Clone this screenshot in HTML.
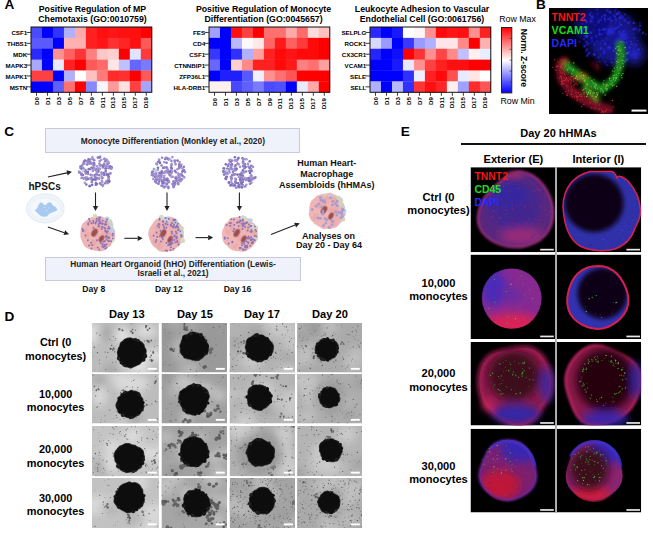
<!DOCTYPE html><html><head><meta charset="utf-8"><style>html,body{margin:0;padding:0;background:#fff;width:653px;height:541px;overflow:hidden}body{position:relative;font-family:"Liberation Sans", sans-serif}.a{position:absolute}.t{position:absolute;line-height:1;white-space:nowrap}</style></head><body><div class="t" style="left:4.60px;top:-1.61px;font-size:13.6px;font-weight:bold;color:#000;">A</div>
<svg class="a" style="left:25.20px;top:26.30px" width="128.78" height="71.28"><rect x="6.00" y="1.00" width="11.28" height="11.18" fill="#4a4aff"/><rect x="16.98" y="1.00" width="11.28" height="11.18" fill="#0000ff"/><rect x="27.96" y="1.00" width="11.28" height="11.18" fill="#3333ff"/><rect x="38.94" y="1.00" width="11.28" height="11.18" fill="#b0b0ff"/><rect x="49.92" y="1.00" width="11.28" height="11.18" fill="#ffaaaa"/><rect x="60.90" y="1.00" width="11.28" height="11.18" fill="#ff2020"/><rect x="71.88" y="1.00" width="11.28" height="11.18" fill="#ff1010"/><rect x="82.86" y="1.00" width="11.28" height="11.18" fill="#ff1515"/><rect x="93.84" y="1.00" width="11.28" height="11.18" fill="#ff1010"/><rect x="104.82" y="1.00" width="11.28" height="11.18" fill="#ff1010"/><rect x="115.80" y="1.00" width="11.28" height="11.18" fill="#ff0000"/><rect x="6.00" y="11.88" width="11.28" height="11.18" fill="#5a5aff"/><rect x="16.98" y="11.88" width="11.28" height="11.18" fill="#5a5aff"/><rect x="27.96" y="11.88" width="11.28" height="11.18" fill="#0000ff"/><rect x="38.94" y="11.88" width="11.28" height="11.18" fill="#ffb0b0"/><rect x="49.92" y="11.88" width="11.28" height="11.18" fill="#ffb0b0"/><rect x="60.90" y="11.88" width="11.28" height="11.18" fill="#ff2020"/><rect x="71.88" y="11.88" width="11.28" height="11.18" fill="#ff1515"/><rect x="82.86" y="11.88" width="11.28" height="11.18" fill="#ff3030"/><rect x="93.84" y="11.88" width="11.28" height="11.18" fill="#ff2525"/><rect x="104.82" y="11.88" width="11.28" height="11.18" fill="#ff1010"/><rect x="115.80" y="11.88" width="11.28" height="11.18" fill="#ff5a5a"/><rect x="6.00" y="22.76" width="11.28" height="11.18" fill="#2a2aff"/><rect x="16.98" y="22.76" width="11.28" height="11.18" fill="#0000ff"/><rect x="27.96" y="22.76" width="11.28" height="11.18" fill="#ff9090"/><rect x="38.94" y="22.76" width="11.28" height="11.18" fill="#ff6060"/><rect x="49.92" y="22.76" width="11.28" height="11.18" fill="#ff3535"/><rect x="60.90" y="22.76" width="11.28" height="11.18" fill="#ff8080"/><rect x="71.88" y="22.76" width="11.28" height="11.18" fill="#ffc8c8"/><rect x="82.86" y="22.76" width="11.28" height="11.18" fill="#ffd0d0"/><rect x="93.84" y="22.76" width="11.28" height="11.18" fill="#ff0000"/><rect x="104.82" y="22.76" width="11.28" height="11.18" fill="#e0e4ff"/><rect x="115.80" y="22.76" width="11.28" height="11.18" fill="#ff3a3a"/><rect x="6.00" y="33.64" width="11.28" height="11.18" fill="#a8a8ff"/><rect x="16.98" y="33.64" width="11.28" height="11.18" fill="#0000ff"/><rect x="27.96" y="33.64" width="11.28" height="11.18" fill="#e8e8ff"/><rect x="38.94" y="33.64" width="11.28" height="11.18" fill="#ff2020"/><rect x="49.92" y="33.64" width="11.28" height="11.18" fill="#ff0000"/><rect x="60.90" y="33.64" width="11.28" height="11.18" fill="#ff5a5a"/><rect x="71.88" y="33.64" width="11.28" height="11.18" fill="#ff6a6a"/><rect x="82.86" y="33.64" width="11.28" height="11.18" fill="#ffe5e5"/><rect x="93.84" y="33.64" width="11.28" height="11.18" fill="#c0c0ff"/><rect x="104.82" y="33.64" width="11.28" height="11.18" fill="#6565ff"/><rect x="115.80" y="33.64" width="11.28" height="11.18" fill="#7a7aff"/><rect x="6.00" y="44.52" width="11.28" height="11.18" fill="#ff4040"/><rect x="16.98" y="44.52" width="11.28" height="11.18" fill="#ff4040"/><rect x="27.96" y="44.52" width="11.28" height="11.18" fill="#0000ff"/><rect x="38.94" y="44.52" width="11.28" height="11.18" fill="#b0b0ff"/><rect x="49.92" y="44.52" width="11.28" height="11.18" fill="#ffffff"/><rect x="60.90" y="44.52" width="11.28" height="11.18" fill="#ffc0c0"/><rect x="71.88" y="44.52" width="11.28" height="11.18" fill="#ff7a7a"/><rect x="82.86" y="44.52" width="11.28" height="11.18" fill="#ff2a2a"/><rect x="93.84" y="44.52" width="11.28" height="11.18" fill="#ff3030"/><rect x="104.82" y="44.52" width="11.28" height="11.18" fill="#ff0000"/><rect x="115.80" y="44.52" width="11.28" height="11.18" fill="#ff5a5a"/><rect x="6.00" y="55.40" width="11.28" height="11.18" fill="#0000ff"/><rect x="16.98" y="55.40" width="11.28" height="11.18" fill="#0000ff"/><rect x="27.96" y="55.40" width="11.28" height="11.18" fill="#6060ff"/><rect x="38.94" y="55.40" width="11.28" height="11.18" fill="#ff7070"/><rect x="49.92" y="55.40" width="11.28" height="11.18" fill="#ff0000"/><rect x="60.90" y="55.40" width="11.28" height="11.18" fill="#8888ff"/><rect x="71.88" y="55.40" width="11.28" height="11.18" fill="#f5f5ff"/><rect x="82.86" y="55.40" width="11.28" height="11.18" fill="#ff9a9a"/><rect x="93.84" y="55.40" width="11.28" height="11.18" fill="#ffe0e0"/><rect x="104.82" y="55.40" width="11.28" height="11.18" fill="#ff4040"/><rect x="115.80" y="55.40" width="11.28" height="11.18" fill="#a5a5ff"/><rect x="6" y="1" width="120.78" height="65.28" fill="none" stroke="#111" stroke-width="1"/><line x1="1.5" y1="6.44" x2="6" y2="6.44" stroke="#222" stroke-width="0.9"/><line x1="1.5" y1="17.32" x2="6" y2="17.32" stroke="#222" stroke-width="0.9"/><line x1="1.5" y1="28.20" x2="6" y2="28.20" stroke="#222" stroke-width="0.9"/><line x1="1.5" y1="39.08" x2="6" y2="39.08" stroke="#222" stroke-width="0.9"/><line x1="1.5" y1="49.96" x2="6" y2="49.96" stroke="#222" stroke-width="0.9"/><line x1="1.5" y1="60.84" x2="6" y2="60.84" stroke="#222" stroke-width="0.9"/><line x1="11.49" y1="66.28" x2="11.49" y2="69.78" stroke="#222" stroke-width="0.9"/><line x1="22.47" y1="66.28" x2="22.47" y2="69.78" stroke="#222" stroke-width="0.9"/><line x1="33.45" y1="66.28" x2="33.45" y2="69.78" stroke="#222" stroke-width="0.9"/><line x1="44.43" y1="66.28" x2="44.43" y2="69.78" stroke="#222" stroke-width="0.9"/><line x1="55.41" y1="66.28" x2="55.41" y2="69.78" stroke="#222" stroke-width="0.9"/><line x1="66.39" y1="66.28" x2="66.39" y2="69.78" stroke="#222" stroke-width="0.9"/><line x1="77.37" y1="66.28" x2="77.37" y2="69.78" stroke="#222" stroke-width="0.9"/><line x1="88.35" y1="66.28" x2="88.35" y2="69.78" stroke="#222" stroke-width="0.9"/><line x1="99.33" y1="66.28" x2="99.33" y2="69.78" stroke="#222" stroke-width="0.9"/><line x1="110.31" y1="66.28" x2="110.31" y2="69.78" stroke="#222" stroke-width="0.9"/><line x1="121.29" y1="66.28" x2="121.29" y2="69.78" stroke="#222" stroke-width="0.9"/></svg>
<div class="t" style="left:-372.80px;top:30.29px;width:400px;text-align:right;font-size:6.2px;font-weight:bold;color:#000;">CSF1</div>
<div class="t" style="left:-372.80px;top:41.17px;width:400px;text-align:right;font-size:6.2px;font-weight:bold;color:#000;">THBS1</div>
<div class="t" style="left:-372.80px;top:52.05px;width:400px;text-align:right;font-size:6.2px;font-weight:bold;color:#000;">MDK</div>
<div class="t" style="left:-372.80px;top:62.93px;width:400px;text-align:right;font-size:6.2px;font-weight:bold;color:#000;">MAPK3</div>
<div class="t" style="left:-372.80px;top:73.81px;width:400px;text-align:right;font-size:6.2px;font-weight:bold;color:#000;">MAPK1</div>
<div class="t" style="left:-372.80px;top:84.69px;width:400px;text-align:right;font-size:6.2px;font-weight:bold;color:#000;">MSTN</div>
<div class="t" style="left:6.69px;top:97.48px;width:60px;height:60px;"><div style="position:absolute;right:30px;top:0;transform-origin:100% 0;transform:rotate(-90deg) translate(0,-50%);font-size:6.2px;font-weight:bold;line-height:6.2px;white-space:nowrap">D0</div></div>
<div class="t" style="left:17.67px;top:97.48px;width:60px;height:60px;"><div style="position:absolute;right:30px;top:0;transform-origin:100% 0;transform:rotate(-90deg) translate(0,-50%);font-size:6.2px;font-weight:bold;line-height:6.2px;white-space:nowrap">D1</div></div>
<div class="t" style="left:28.65px;top:97.48px;width:60px;height:60px;"><div style="position:absolute;right:30px;top:0;transform-origin:100% 0;transform:rotate(-90deg) translate(0,-50%);font-size:6.2px;font-weight:bold;line-height:6.2px;white-space:nowrap">D3</div></div>
<div class="t" style="left:39.63px;top:97.48px;width:60px;height:60px;"><div style="position:absolute;right:30px;top:0;transform-origin:100% 0;transform:rotate(-90deg) translate(0,-50%);font-size:6.2px;font-weight:bold;line-height:6.2px;white-space:nowrap">D5</div></div>
<div class="t" style="left:50.61px;top:97.48px;width:60px;height:60px;"><div style="position:absolute;right:30px;top:0;transform-origin:100% 0;transform:rotate(-90deg) translate(0,-50%);font-size:6.2px;font-weight:bold;line-height:6.2px;white-space:nowrap">D7</div></div>
<div class="t" style="left:61.59px;top:97.48px;width:60px;height:60px;"><div style="position:absolute;right:30px;top:0;transform-origin:100% 0;transform:rotate(-90deg) translate(0,-50%);font-size:6.2px;font-weight:bold;line-height:6.2px;white-space:nowrap">D9</div></div>
<div class="t" style="left:72.57px;top:97.48px;width:60px;height:60px;"><div style="position:absolute;right:30px;top:0;transform-origin:100% 0;transform:rotate(-90deg) translate(0,-50%);font-size:6.2px;font-weight:bold;line-height:6.2px;white-space:nowrap">D11</div></div>
<div class="t" style="left:83.55px;top:97.48px;width:60px;height:60px;"><div style="position:absolute;right:30px;top:0;transform-origin:100% 0;transform:rotate(-90deg) translate(0,-50%);font-size:6.2px;font-weight:bold;line-height:6.2px;white-space:nowrap">D13</div></div>
<div class="t" style="left:94.53px;top:97.48px;width:60px;height:60px;"><div style="position:absolute;right:30px;top:0;transform-origin:100% 0;transform:rotate(-90deg) translate(0,-50%);font-size:6.2px;font-weight:bold;line-height:6.2px;white-space:nowrap">D15</div></div>
<div class="t" style="left:105.51px;top:97.48px;width:60px;height:60px;"><div style="position:absolute;right:30px;top:0;transform-origin:100% 0;transform:rotate(-90deg) translate(0,-50%);font-size:6.2px;font-weight:bold;line-height:6.2px;white-space:nowrap">D17</div></div>
<div class="t" style="left:116.49px;top:97.48px;width:60px;height:60px;"><div style="position:absolute;right:30px;top:0;transform-origin:100% 0;transform:rotate(-90deg) translate(0,-50%);font-size:6.2px;font-weight:bold;line-height:6.2px;white-space:nowrap">D19</div></div>
<svg class="a" style="left:203.10px;top:26.40px" width="128.78" height="71.28"><rect x="6.00" y="1.00" width="11.28" height="11.18" fill="#a0a0ff"/><rect x="16.98" y="1.00" width="11.28" height="11.18" fill="#0000ff"/><rect x="27.96" y="1.00" width="11.28" height="11.18" fill="#ff1010"/><rect x="38.94" y="1.00" width="11.28" height="11.18" fill="#ff4040"/><rect x="49.92" y="1.00" width="11.28" height="11.18" fill="#ff0000"/><rect x="60.90" y="1.00" width="11.28" height="11.18" fill="#ff7070"/><rect x="71.88" y="1.00" width="11.28" height="11.18" fill="#ff7070"/><rect x="82.86" y="1.00" width="11.28" height="11.18" fill="#ffa8a8"/><rect x="93.84" y="1.00" width="11.28" height="11.18" fill="#ff6a6a"/><rect x="104.82" y="1.00" width="11.28" height="11.18" fill="#ffdcdc"/><rect x="115.80" y="1.00" width="11.28" height="11.18" fill="#ffc0c0"/><rect x="6.00" y="11.88" width="11.28" height="11.18" fill="#0000ff"/><rect x="16.98" y="11.88" width="11.28" height="11.18" fill="#0000ff"/><rect x="27.96" y="11.88" width="11.28" height="11.18" fill="#b8b8ff"/><rect x="38.94" y="11.88" width="11.28" height="11.18" fill="#fff8f8"/><rect x="49.92" y="11.88" width="11.28" height="11.18" fill="#ffe8e8"/><rect x="60.90" y="11.88" width="11.28" height="11.18" fill="#ff6565"/><rect x="71.88" y="11.88" width="11.28" height="11.18" fill="#ff1a1a"/><rect x="82.86" y="11.88" width="11.28" height="11.18" fill="#ff6060"/><rect x="93.84" y="11.88" width="11.28" height="11.18" fill="#ff3a3a"/><rect x="104.82" y="11.88" width="11.28" height="11.18" fill="#ff0a0a"/><rect x="115.80" y="11.88" width="11.28" height="11.18" fill="#ff0000"/><rect x="6.00" y="22.76" width="11.28" height="11.18" fill="#3838ff"/><rect x="16.98" y="22.76" width="11.28" height="11.18" fill="#0000ff"/><rect x="27.96" y="22.76" width="11.28" height="11.18" fill="#3030ff"/><rect x="38.94" y="22.76" width="11.28" height="11.18" fill="#b0b0ff"/><rect x="49.92" y="22.76" width="11.28" height="11.18" fill="#ffa0a0"/><rect x="60.90" y="22.76" width="11.28" height="11.18" fill="#ff2020"/><rect x="71.88" y="22.76" width="11.28" height="11.18" fill="#ff0a0a"/><rect x="82.86" y="22.76" width="11.28" height="11.18" fill="#ff1515"/><rect x="93.84" y="22.76" width="11.28" height="11.18" fill="#ff0a0a"/><rect x="104.82" y="22.76" width="11.28" height="11.18" fill="#ff0a0a"/><rect x="115.80" y="22.76" width="11.28" height="11.18" fill="#ff0000"/><rect x="6.00" y="33.64" width="11.28" height="11.18" fill="#6868ff"/><rect x="16.98" y="33.64" width="11.28" height="11.18" fill="#0000ff"/><rect x="27.96" y="33.64" width="11.28" height="11.18" fill="#ffd0d0"/><rect x="38.94" y="33.64" width="11.28" height="11.18" fill="#ff8888"/><rect x="49.92" y="33.64" width="11.28" height="11.18" fill="#ff2020"/><rect x="60.90" y="33.64" width="11.28" height="11.18" fill="#ff2020"/><rect x="71.88" y="33.64" width="11.28" height="11.18" fill="#ff0a0a"/><rect x="82.86" y="33.64" width="11.28" height="11.18" fill="#ff1a1a"/><rect x="93.84" y="33.64" width="11.28" height="11.18" fill="#ff8080"/><rect x="104.82" y="33.64" width="11.28" height="11.18" fill="#ff7070"/><rect x="115.80" y="33.64" width="11.28" height="11.18" fill="#ffa0a0"/><rect x="6.00" y="44.52" width="11.28" height="11.18" fill="#0000ff"/><rect x="16.98" y="44.52" width="11.28" height="11.18" fill="#2020ff"/><rect x="27.96" y="44.52" width="11.28" height="11.18" fill="#2020ff"/><rect x="38.94" y="44.52" width="11.28" height="11.18" fill="#5858ff"/><rect x="49.92" y="44.52" width="11.28" height="11.18" fill="#f0f0ff"/><rect x="60.90" y="44.52" width="11.28" height="11.18" fill="#ff9090"/><rect x="71.88" y="44.52" width="11.28" height="11.18" fill="#ff7070"/><rect x="82.86" y="44.52" width="11.28" height="11.18" fill="#ff5555"/><rect x="93.84" y="44.52" width="11.28" height="11.18" fill="#ff0000"/><rect x="104.82" y="44.52" width="11.28" height="11.18" fill="#ff0000"/><rect x="115.80" y="44.52" width="11.28" height="11.18" fill="#ff0000"/><rect x="6.00" y="55.40" width="11.28" height="11.18" fill="#fff0f0"/><rect x="16.98" y="55.40" width="11.28" height="11.18" fill="#fff0f0"/><rect x="27.96" y="55.40" width="11.28" height="11.18" fill="#4848ff"/><rect x="38.94" y="55.40" width="11.28" height="11.18" fill="#6060ff"/><rect x="49.92" y="55.40" width="11.28" height="11.18" fill="#7a7aff"/><rect x="60.90" y="55.40" width="11.28" height="11.18" fill="#4a4aff"/><rect x="71.88" y="55.40" width="11.28" height="11.18" fill="#5050ff"/><rect x="82.86" y="55.40" width="11.28" height="11.18" fill="#0000ff"/><rect x="93.84" y="55.40" width="11.28" height="11.18" fill="#eaeaff"/><rect x="104.82" y="55.40" width="11.28" height="11.18" fill="#ffa8a8"/><rect x="115.80" y="55.40" width="11.28" height="11.18" fill="#ff0000"/><rect x="6" y="1" width="120.78" height="65.28" fill="none" stroke="#111" stroke-width="1"/><line x1="1.5" y1="6.44" x2="6" y2="6.44" stroke="#222" stroke-width="0.9"/><line x1="1.5" y1="17.32" x2="6" y2="17.32" stroke="#222" stroke-width="0.9"/><line x1="1.5" y1="28.20" x2="6" y2="28.20" stroke="#222" stroke-width="0.9"/><line x1="1.5" y1="39.08" x2="6" y2="39.08" stroke="#222" stroke-width="0.9"/><line x1="1.5" y1="49.96" x2="6" y2="49.96" stroke="#222" stroke-width="0.9"/><line x1="1.5" y1="60.84" x2="6" y2="60.84" stroke="#222" stroke-width="0.9"/><line x1="11.49" y1="66.28" x2="11.49" y2="69.78" stroke="#222" stroke-width="0.9"/><line x1="22.47" y1="66.28" x2="22.47" y2="69.78" stroke="#222" stroke-width="0.9"/><line x1="33.45" y1="66.28" x2="33.45" y2="69.78" stroke="#222" stroke-width="0.9"/><line x1="44.43" y1="66.28" x2="44.43" y2="69.78" stroke="#222" stroke-width="0.9"/><line x1="55.41" y1="66.28" x2="55.41" y2="69.78" stroke="#222" stroke-width="0.9"/><line x1="66.39" y1="66.28" x2="66.39" y2="69.78" stroke="#222" stroke-width="0.9"/><line x1="77.37" y1="66.28" x2="77.37" y2="69.78" stroke="#222" stroke-width="0.9"/><line x1="88.35" y1="66.28" x2="88.35" y2="69.78" stroke="#222" stroke-width="0.9"/><line x1="99.33" y1="66.28" x2="99.33" y2="69.78" stroke="#222" stroke-width="0.9"/><line x1="110.31" y1="66.28" x2="110.31" y2="69.78" stroke="#222" stroke-width="0.9"/><line x1="121.29" y1="66.28" x2="121.29" y2="69.78" stroke="#222" stroke-width="0.9"/></svg>
<div class="t" style="left:-194.90px;top:30.39px;width:400px;text-align:right;font-size:6.2px;font-weight:bold;color:#000;">FES</div>
<div class="t" style="left:-194.90px;top:41.27px;width:400px;text-align:right;font-size:6.2px;font-weight:bold;color:#000;">CD4</div>
<div class="t" style="left:-194.90px;top:52.15px;width:400px;text-align:right;font-size:6.2px;font-weight:bold;color:#000;">CSF1</div>
<div class="t" style="left:-194.90px;top:63.03px;width:400px;text-align:right;font-size:6.2px;font-weight:bold;color:#000;">CTNNBIP1</div>
<div class="t" style="left:-194.90px;top:73.91px;width:400px;text-align:right;font-size:6.2px;font-weight:bold;color:#000;">ZFP36L1</div>
<div class="t" style="left:-194.90px;top:84.79px;width:400px;text-align:right;font-size:6.2px;font-weight:bold;color:#000;">HLA-DRB1</div>
<div class="t" style="left:184.59px;top:97.58px;width:60px;height:60px;"><div style="position:absolute;right:30px;top:0;transform-origin:100% 0;transform:rotate(-90deg) translate(0,-50%);font-size:6.2px;font-weight:bold;line-height:6.2px;white-space:nowrap">D0</div></div>
<div class="t" style="left:195.57px;top:97.58px;width:60px;height:60px;"><div style="position:absolute;right:30px;top:0;transform-origin:100% 0;transform:rotate(-90deg) translate(0,-50%);font-size:6.2px;font-weight:bold;line-height:6.2px;white-space:nowrap">D1</div></div>
<div class="t" style="left:206.55px;top:97.58px;width:60px;height:60px;"><div style="position:absolute;right:30px;top:0;transform-origin:100% 0;transform:rotate(-90deg) translate(0,-50%);font-size:6.2px;font-weight:bold;line-height:6.2px;white-space:nowrap">D3</div></div>
<div class="t" style="left:217.53px;top:97.58px;width:60px;height:60px;"><div style="position:absolute;right:30px;top:0;transform-origin:100% 0;transform:rotate(-90deg) translate(0,-50%);font-size:6.2px;font-weight:bold;line-height:6.2px;white-space:nowrap">D5</div></div>
<div class="t" style="left:228.51px;top:97.58px;width:60px;height:60px;"><div style="position:absolute;right:30px;top:0;transform-origin:100% 0;transform:rotate(-90deg) translate(0,-50%);font-size:6.2px;font-weight:bold;line-height:6.2px;white-space:nowrap">D7</div></div>
<div class="t" style="left:239.49px;top:97.58px;width:60px;height:60px;"><div style="position:absolute;right:30px;top:0;transform-origin:100% 0;transform:rotate(-90deg) translate(0,-50%);font-size:6.2px;font-weight:bold;line-height:6.2px;white-space:nowrap">D9</div></div>
<div class="t" style="left:250.47px;top:97.58px;width:60px;height:60px;"><div style="position:absolute;right:30px;top:0;transform-origin:100% 0;transform:rotate(-90deg) translate(0,-50%);font-size:6.2px;font-weight:bold;line-height:6.2px;white-space:nowrap">D11</div></div>
<div class="t" style="left:261.45px;top:97.58px;width:60px;height:60px;"><div style="position:absolute;right:30px;top:0;transform-origin:100% 0;transform:rotate(-90deg) translate(0,-50%);font-size:6.2px;font-weight:bold;line-height:6.2px;white-space:nowrap">D13</div></div>
<div class="t" style="left:272.43px;top:97.58px;width:60px;height:60px;"><div style="position:absolute;right:30px;top:0;transform-origin:100% 0;transform:rotate(-90deg) translate(0,-50%);font-size:6.2px;font-weight:bold;line-height:6.2px;white-space:nowrap">D15</div></div>
<div class="t" style="left:283.41px;top:97.58px;width:60px;height:60px;"><div style="position:absolute;right:30px;top:0;transform-origin:100% 0;transform:rotate(-90deg) translate(0,-50%);font-size:6.2px;font-weight:bold;line-height:6.2px;white-space:nowrap">D17</div></div>
<div class="t" style="left:294.39px;top:97.58px;width:60px;height:60px;"><div style="position:absolute;right:30px;top:0;transform-origin:100% 0;transform:rotate(-90deg) translate(0,-50%);font-size:6.2px;font-weight:bold;line-height:6.2px;white-space:nowrap">D19</div></div>
<svg class="a" style="left:364.20px;top:26.30px" width="128.78" height="71.28"><rect x="6.00" y="1.00" width="11.28" height="11.18" fill="#2a2aff"/><rect x="16.98" y="1.00" width="11.28" height="11.18" fill="#0000ff"/><rect x="27.96" y="1.00" width="11.28" height="11.18" fill="#1a1aff"/><rect x="38.94" y="1.00" width="11.28" height="11.18" fill="#ffffff"/><rect x="49.92" y="1.00" width="11.28" height="11.18" fill="#fff5f5"/><rect x="60.90" y="1.00" width="11.28" height="11.18" fill="#ff9090"/><rect x="71.88" y="1.00" width="11.28" height="11.18" fill="#ff0a0a"/><rect x="82.86" y="1.00" width="11.28" height="11.18" fill="#ff1515"/><rect x="93.84" y="1.00" width="11.28" height="11.18" fill="#ff1010"/><rect x="104.82" y="1.00" width="11.28" height="11.18" fill="#ff9090"/><rect x="115.80" y="1.00" width="11.28" height="11.18" fill="#ff2020"/><rect x="6.00" y="11.88" width="11.28" height="11.18" fill="#d8d8ff"/><rect x="16.98" y="11.88" width="11.28" height="11.18" fill="#9a9aff"/><rect x="27.96" y="11.88" width="11.28" height="11.18" fill="#0000ff"/><rect x="38.94" y="11.88" width="11.28" height="11.18" fill="#3838ff"/><rect x="49.92" y="11.88" width="11.28" height="11.18" fill="#9a9aff"/><rect x="60.90" y="11.88" width="11.28" height="11.18" fill="#b0b0ff"/><rect x="71.88" y="11.88" width="11.28" height="11.18" fill="#ffe5e5"/><rect x="82.86" y="11.88" width="11.28" height="11.18" fill="#ffe5e5"/><rect x="93.84" y="11.88" width="11.28" height="11.18" fill="#ff8888"/><rect x="104.82" y="11.88" width="11.28" height="11.18" fill="#ff0000"/><rect x="115.80" y="11.88" width="11.28" height="11.18" fill="#ffb0b0"/><rect x="6.00" y="22.76" width="11.28" height="11.18" fill="#2525ff"/><rect x="16.98" y="22.76" width="11.28" height="11.18" fill="#0000ff"/><rect x="27.96" y="22.76" width="11.28" height="11.18" fill="#1010ff"/><rect x="38.94" y="22.76" width="11.28" height="11.18" fill="#ff0000"/><rect x="49.92" y="22.76" width="11.28" height="11.18" fill="#ff3535"/><rect x="60.90" y="22.76" width="11.28" height="11.18" fill="#ff9090"/><rect x="71.88" y="22.76" width="11.28" height="11.18" fill="#ff4545"/><rect x="82.86" y="22.76" width="11.28" height="11.18" fill="#ff8a8a"/><rect x="93.84" y="22.76" width="11.28" height="11.18" fill="#c0c0ff"/><rect x="104.82" y="22.76" width="11.28" height="11.18" fill="#fff0f0"/><rect x="115.80" y="22.76" width="11.28" height="11.18" fill="#e8eeff"/><rect x="6.00" y="33.64" width="11.28" height="11.18" fill="#0000ff"/><rect x="16.98" y="33.64" width="11.28" height="11.18" fill="#0000ff"/><rect x="27.96" y="33.64" width="11.28" height="11.18" fill="#1a1aff"/><rect x="38.94" y="33.64" width="11.28" height="11.18" fill="#e8e8ff"/><rect x="49.92" y="33.64" width="11.28" height="11.18" fill="#ff9090"/><rect x="60.90" y="33.64" width="11.28" height="11.18" fill="#ff4040"/><rect x="71.88" y="33.64" width="11.28" height="11.18" fill="#ff2020"/><rect x="82.86" y="33.64" width="11.28" height="11.18" fill="#ff1010"/><rect x="93.84" y="33.64" width="11.28" height="11.18" fill="#ff1010"/><rect x="104.82" y="33.64" width="11.28" height="11.18" fill="#ff0000"/><rect x="115.80" y="33.64" width="11.28" height="11.18" fill="#ff0000"/><rect x="6.00" y="44.52" width="11.28" height="11.18" fill="#0000ff"/><rect x="16.98" y="44.52" width="11.28" height="11.18" fill="#0000ff"/><rect x="27.96" y="44.52" width="11.28" height="11.18" fill="#0000ff"/><rect x="38.94" y="44.52" width="11.28" height="11.18" fill="#3030ff"/><rect x="49.92" y="44.52" width="11.28" height="11.18" fill="#eef0ff"/><rect x="60.90" y="44.52" width="11.28" height="11.18" fill="#ff2020"/><rect x="71.88" y="44.52" width="11.28" height="11.18" fill="#ff0a0a"/><rect x="82.86" y="44.52" width="11.28" height="11.18" fill="#ff5050"/><rect x="93.84" y="44.52" width="11.28" height="11.18" fill="#eaeaff"/><rect x="104.82" y="44.52" width="11.28" height="11.18" fill="#ffe5e5"/><rect x="115.80" y="44.52" width="11.28" height="11.18" fill="#ffffff"/><rect x="6.00" y="55.40" width="11.28" height="11.18" fill="#b0b0ff"/><rect x="16.98" y="55.40" width="11.28" height="11.18" fill="#0000ff"/><rect x="27.96" y="55.40" width="11.28" height="11.18" fill="#b8b8ff"/><rect x="38.94" y="55.40" width="11.28" height="11.18" fill="#3030ff"/><rect x="49.92" y="55.40" width="11.28" height="11.18" fill="#ff3535"/><rect x="60.90" y="55.40" width="11.28" height="11.18" fill="#ff1010"/><rect x="71.88" y="55.40" width="11.28" height="11.18" fill="#ff2525"/><rect x="82.86" y="55.40" width="11.28" height="11.18" fill="#fff0f0"/><rect x="93.84" y="55.40" width="11.28" height="11.18" fill="#a0a0ff"/><rect x="104.82" y="55.40" width="11.28" height="11.18" fill="#ff2a2a"/><rect x="115.80" y="55.40" width="11.28" height="11.18" fill="#ff5555"/><rect x="6" y="1" width="120.78" height="65.28" fill="none" stroke="#111" stroke-width="1"/><line x1="1.5" y1="6.44" x2="6" y2="6.44" stroke="#222" stroke-width="0.9"/><line x1="1.5" y1="17.32" x2="6" y2="17.32" stroke="#222" stroke-width="0.9"/><line x1="1.5" y1="28.20" x2="6" y2="28.20" stroke="#222" stroke-width="0.9"/><line x1="1.5" y1="39.08" x2="6" y2="39.08" stroke="#222" stroke-width="0.9"/><line x1="1.5" y1="49.96" x2="6" y2="49.96" stroke="#222" stroke-width="0.9"/><line x1="1.5" y1="60.84" x2="6" y2="60.84" stroke="#222" stroke-width="0.9"/><line x1="11.49" y1="66.28" x2="11.49" y2="69.78" stroke="#222" stroke-width="0.9"/><line x1="22.47" y1="66.28" x2="22.47" y2="69.78" stroke="#222" stroke-width="0.9"/><line x1="33.45" y1="66.28" x2="33.45" y2="69.78" stroke="#222" stroke-width="0.9"/><line x1="44.43" y1="66.28" x2="44.43" y2="69.78" stroke="#222" stroke-width="0.9"/><line x1="55.41" y1="66.28" x2="55.41" y2="69.78" stroke="#222" stroke-width="0.9"/><line x1="66.39" y1="66.28" x2="66.39" y2="69.78" stroke="#222" stroke-width="0.9"/><line x1="77.37" y1="66.28" x2="77.37" y2="69.78" stroke="#222" stroke-width="0.9"/><line x1="88.35" y1="66.28" x2="88.35" y2="69.78" stroke="#222" stroke-width="0.9"/><line x1="99.33" y1="66.28" x2="99.33" y2="69.78" stroke="#222" stroke-width="0.9"/><line x1="110.31" y1="66.28" x2="110.31" y2="69.78" stroke="#222" stroke-width="0.9"/><line x1="121.29" y1="66.28" x2="121.29" y2="69.78" stroke="#222" stroke-width="0.9"/></svg>
<div class="t" style="left:-33.80px;top:30.29px;width:400px;text-align:right;font-size:6.2px;font-weight:bold;color:#000;">SELPLG</div>
<div class="t" style="left:-33.80px;top:41.17px;width:400px;text-align:right;font-size:6.2px;font-weight:bold;color:#000;">ROCK1</div>
<div class="t" style="left:-33.80px;top:52.05px;width:400px;text-align:right;font-size:6.2px;font-weight:bold;color:#000;">CX3CR1</div>
<div class="t" style="left:-33.80px;top:62.93px;width:400px;text-align:right;font-size:6.2px;font-weight:bold;color:#000;">VCAM1</div>
<div class="t" style="left:-33.80px;top:73.81px;width:400px;text-align:right;font-size:6.2px;font-weight:bold;color:#000;">SELE</div>
<div class="t" style="left:-33.80px;top:84.69px;width:400px;text-align:right;font-size:6.2px;font-weight:bold;color:#000;">SELL</div>
<div class="t" style="left:345.69px;top:97.48px;width:60px;height:60px;"><div style="position:absolute;right:30px;top:0;transform-origin:100% 0;transform:rotate(-90deg) translate(0,-50%);font-size:6.2px;font-weight:bold;line-height:6.2px;white-space:nowrap">D0</div></div>
<div class="t" style="left:356.67px;top:97.48px;width:60px;height:60px;"><div style="position:absolute;right:30px;top:0;transform-origin:100% 0;transform:rotate(-90deg) translate(0,-50%);font-size:6.2px;font-weight:bold;line-height:6.2px;white-space:nowrap">D1</div></div>
<div class="t" style="left:367.65px;top:97.48px;width:60px;height:60px;"><div style="position:absolute;right:30px;top:0;transform-origin:100% 0;transform:rotate(-90deg) translate(0,-50%);font-size:6.2px;font-weight:bold;line-height:6.2px;white-space:nowrap">D3</div></div>
<div class="t" style="left:378.63px;top:97.48px;width:60px;height:60px;"><div style="position:absolute;right:30px;top:0;transform-origin:100% 0;transform:rotate(-90deg) translate(0,-50%);font-size:6.2px;font-weight:bold;line-height:6.2px;white-space:nowrap">D5</div></div>
<div class="t" style="left:389.61px;top:97.48px;width:60px;height:60px;"><div style="position:absolute;right:30px;top:0;transform-origin:100% 0;transform:rotate(-90deg) translate(0,-50%);font-size:6.2px;font-weight:bold;line-height:6.2px;white-space:nowrap">D7</div></div>
<div class="t" style="left:400.59px;top:97.48px;width:60px;height:60px;"><div style="position:absolute;right:30px;top:0;transform-origin:100% 0;transform:rotate(-90deg) translate(0,-50%);font-size:6.2px;font-weight:bold;line-height:6.2px;white-space:nowrap">D9</div></div>
<div class="t" style="left:411.57px;top:97.48px;width:60px;height:60px;"><div style="position:absolute;right:30px;top:0;transform-origin:100% 0;transform:rotate(-90deg) translate(0,-50%);font-size:6.2px;font-weight:bold;line-height:6.2px;white-space:nowrap">D11</div></div>
<div class="t" style="left:422.55px;top:97.48px;width:60px;height:60px;"><div style="position:absolute;right:30px;top:0;transform-origin:100% 0;transform:rotate(-90deg) translate(0,-50%);font-size:6.2px;font-weight:bold;line-height:6.2px;white-space:nowrap">D13</div></div>
<div class="t" style="left:433.53px;top:97.48px;width:60px;height:60px;"><div style="position:absolute;right:30px;top:0;transform-origin:100% 0;transform:rotate(-90deg) translate(0,-50%);font-size:6.2px;font-weight:bold;line-height:6.2px;white-space:nowrap">D15</div></div>
<div class="t" style="left:444.51px;top:97.48px;width:60px;height:60px;"><div style="position:absolute;right:30px;top:0;transform-origin:100% 0;transform:rotate(-90deg) translate(0,-50%);font-size:6.2px;font-weight:bold;line-height:6.2px;white-space:nowrap">D17</div></div>
<div class="t" style="left:455.49px;top:97.48px;width:60px;height:60px;"><div style="position:absolute;right:30px;top:0;transform-origin:100% 0;transform:rotate(-90deg) translate(0,-50%);font-size:6.2px;font-weight:bold;line-height:6.2px;white-space:nowrap">D19</div></div>
<div class="t" style="left:-107.50px;top:4.89px;width:400px;text-align:center;font-size:8.75px;font-weight:bold;color:#000;">Positive Regulation of MP</div>
<div class="t" style="left:-107.50px;top:15.09px;width:400px;text-align:center;font-size:8.75px;font-weight:bold;color:#000;">Chemotaxis (GO:0010759)</div>
<div class="t" style="left:63.50px;top:4.89px;width:400px;text-align:center;font-size:8.75px;font-weight:bold;color:#000;">Positive Regulation of Monocyte</div>
<div class="t" style="left:63.50px;top:15.09px;width:400px;text-align:center;font-size:8.75px;font-weight:bold;color:#000;">Differentiation (GO:0045657)</div>
<div class="t" style="left:222.00px;top:4.89px;width:400px;text-align:center;font-size:8.75px;font-weight:bold;color:#000;">Leukocyte Adhesion to Vascular</div>
<div class="t" style="left:222.00px;top:15.09px;width:400px;text-align:center;font-size:8.75px;font-weight:bold;color:#000;">Endothelial Cell (GO:0061756)</div>
<svg class="a" style="left:500px;top:26px" width="14" height="68"><defs><linearGradient id="cb" x1="0" y1="0" x2="0" y2="1"><stop offset="0" stop-color="#ff0000"/><stop offset="0.5" stop-color="#ffffff"/><stop offset="1" stop-color="#0000ff"/></linearGradient></defs><rect x="1.5" y="1.5" width="10.3" height="65.4" fill="url(#cb)" stroke="#222" stroke-width="1"/><line x1="9.5" y1="12.40" x2="11.8" y2="12.40" stroke="#333" stroke-width="0.7"/><line x1="9.5" y1="23.30" x2="11.8" y2="23.30" stroke="#333" stroke-width="0.7"/><line x1="9.5" y1="34.20" x2="11.8" y2="34.20" stroke="#333" stroke-width="0.7"/><line x1="9.5" y1="45.10" x2="11.8" y2="45.10" stroke="#333" stroke-width="0.7"/><line x1="9.5" y1="56.00" x2="11.8" y2="56.00" stroke="#333" stroke-width="0.7"/></svg>
<div class="t" style="left:317.50px;top:14.85px;width:400px;text-align:center;font-size:8.8px;font-weight:normal;color:#000;">Row Max</div>
<div class="t" style="left:317.50px;top:96.85px;width:400px;text-align:center;font-size:8.8px;font-weight:normal;color:#000;">Row Min</div>
<div class="t" style="left:483.6px;top:52.6px;width:80px;height:10px;text-align:center;font-size:8.6px;line-height:10px;font-weight:bold;transform:rotate(90deg)">Norm. Z-score</div>
<div class="t" style="left:536.10px;top:-1.61px;font-size:13.6px;font-weight:bold;color:#000;">B</div>
<svg class="a" style="left:548.7px;top:8.3px" width="99.8" height="106.2" viewBox="0 0 99.8 106.2"><defs><filter id="bb3" x="-50%" y="-50%" width="200%" height="200%"><feGaussianBlur stdDeviation="2.2"/></filter><filter id="bb1" x="-50%" y="-50%" width="200%" height="200%"><feGaussianBlur stdDeviation="0.7"/></filter><filter id="bb6" x="-50%" y="-50%" width="200%" height="200%"><feGaussianBlur stdDeviation="5"/></filter></defs><rect width="99.8" height="106.2" fill="#000"/><g filter="url(#bb6)"><circle cx="64" cy="30" r="26" fill="#16168a"/><ellipse cx="42" cy="20" rx="18" ry="14" fill="#0e0e78"/><ellipse cx="50" cy="6" rx="22" ry="7" fill="#10107a"/><ellipse cx="86" cy="45" rx="10" ry="12" fill="#1a1a90"/></g><g filter="url(#bb1)"><circle cx="39.6" cy="34.8" r="1.5" fill="#14149a" opacity="0.6"/><circle cx="33.9" cy="36.5" r="1.0" fill="#14149a" opacity="0.6"/><circle cx="43.2" cy="7.9" r="0.9" fill="#3030f0" opacity="0.6"/><circle cx="79.7" cy="45.7" r="1.5" fill="#2424d0" opacity="0.6"/><circle cx="46.3" cy="17.0" r="1.2" fill="#1a1ab0" opacity="0.6"/><circle cx="41.8" cy="8.2" r="0.9" fill="#2424d0" opacity="0.6"/><circle cx="70.2" cy="42.2" r="0.8" fill="#14149a" opacity="0.6"/><circle cx="51.9" cy="49.1" r="1.0" fill="#1a1ab0" opacity="0.6"/><circle cx="48.7" cy="11.1" r="1.3" fill="#14149a" opacity="0.6"/><circle cx="51.8" cy="11.7" r="1.2" fill="#2424d0" opacity="0.6"/><circle cx="59.0" cy="11.2" r="1.0" fill="#3030f0" opacity="0.6"/><circle cx="89.1" cy="32.3" r="0.9" fill="#2424d0" opacity="0.6"/><circle cx="76.1" cy="12.2" r="1.6" fill="#2424d0" opacity="0.6"/><circle cx="71.5" cy="57.1" r="0.8" fill="#14149a" opacity="0.6"/><circle cx="85.3" cy="25.6" r="0.9" fill="#1a1ab0" opacity="0.6"/><circle cx="67.2" cy="12.2" r="0.9" fill="#3030f0" opacity="0.6"/><circle cx="85.7" cy="29.9" r="1.5" fill="#1a1ab0" opacity="0.6"/><circle cx="64.2" cy="37.9" r="0.8" fill="#14149a" opacity="0.6"/><circle cx="75.2" cy="48.8" r="1.2" fill="#1a1ab0" opacity="0.6"/><circle cx="93.8" cy="25.5" r="1.1" fill="#14149a" opacity="0.6"/><circle cx="80.5" cy="41.4" r="1.0" fill="#3030f0" opacity="0.6"/><circle cx="35.6" cy="11.0" r="0.8" fill="#1a1ab0" opacity="0.6"/><circle cx="39.2" cy="45.7" r="1.3" fill="#2424d0" opacity="0.6"/><circle cx="76.6" cy="31.1" r="1.2" fill="#2424d0" opacity="0.6"/><circle cx="66.8" cy="10.4" r="1.0" fill="#2424d0" opacity="0.6"/><circle cx="77.9" cy="34.4" r="1.3" fill="#2424d0" opacity="0.6"/><circle cx="47.3" cy="16.8" r="1.2" fill="#14149a" opacity="0.6"/><circle cx="70.2" cy="18.1" r="1.1" fill="#1a1ab0" opacity="0.6"/><circle cx="57.9" cy="41.7" r="1.3" fill="#1a1ab0" opacity="0.6"/><circle cx="78.7" cy="48.6" r="1.2" fill="#14149a" opacity="0.6"/><circle cx="54.3" cy="32.7" r="0.8" fill="#3030f0" opacity="0.6"/><circle cx="66.1" cy="54.0" r="1.0" fill="#14149a" opacity="0.6"/><circle cx="60.2" cy="40.5" r="1.4" fill="#2424d0" opacity="0.6"/><circle cx="80.5" cy="43.3" r="1.3" fill="#2424d0" opacity="0.6"/><circle cx="57.8" cy="57.2" r="1.0" fill="#2424d0" opacity="0.6"/><circle cx="83.8" cy="36.4" r="1.0" fill="#2424d0" opacity="0.6"/><circle cx="73.3" cy="44.8" r="1.3" fill="#1a1ab0" opacity="0.6"/><circle cx="74.6" cy="34.3" r="1.2" fill="#3030f0" opacity="0.6"/><circle cx="48.4" cy="6.5" r="1.3" fill="#1a1ab0" opacity="0.6"/><circle cx="36.3" cy="12.1" r="1.2" fill="#3030f0" opacity="0.6"/><circle cx="53.9" cy="-1.0" r="0.8" fill="#2424d0" opacity="0.6"/><circle cx="35.0" cy="31.0" r="1.1" fill="#2424d0" opacity="0.6"/><circle cx="86.4" cy="38.4" r="1.4" fill="#1a1ab0" opacity="0.6"/><circle cx="72.8" cy="-0.6" r="1.1" fill="#14149a" opacity="0.6"/><circle cx="37.7" cy="41.7" r="1.5" fill="#2424d0" opacity="0.6"/><circle cx="49.1" cy="14.4" r="1.3" fill="#2424d0" opacity="0.6"/><circle cx="87.9" cy="40.0" r="1.6" fill="#14149a" opacity="0.6"/><circle cx="61.1" cy="8.9" r="1.4" fill="#14149a" opacity="0.6"/><circle cx="34.9" cy="38.4" r="0.9" fill="#2424d0" opacity="0.6"/><circle cx="60.3" cy="36.5" r="0.8" fill="#2424d0" opacity="0.6"/><circle cx="37.3" cy="28.4" r="1.5" fill="#3030f0" opacity="0.6"/><circle cx="80.5" cy="16.6" r="0.9" fill="#1a1ab0" opacity="0.6"/><circle cx="34.6" cy="24.9" r="1.1" fill="#14149a" opacity="0.6"/><circle cx="47.2" cy="28.2" r="1.1" fill="#3030f0" opacity="0.6"/><circle cx="71.1" cy="47.3" r="1.4" fill="#1a1ab0" opacity="0.6"/><circle cx="79.4" cy="14.9" r="1.3" fill="#3030f0" opacity="0.6"/><circle cx="67.1" cy="39.0" r="1.1" fill="#2424d0" opacity="0.6"/><circle cx="56.0" cy="-1.3" r="1.0" fill="#1a1ab0" opacity="0.6"/><circle cx="81.8" cy="41.9" r="1.5" fill="#14149a" opacity="0.6"/><circle cx="45.8" cy="43.0" r="1.3" fill="#14149a" opacity="0.6"/><circle cx="50.7" cy="53.5" r="1.0" fill="#2424d0" opacity="0.6"/><circle cx="56.1" cy="13.2" r="1.1" fill="#2424d0" opacity="0.6"/><circle cx="50.3" cy="12.7" r="1.0" fill="#3030f0" opacity="0.6"/><circle cx="65.0" cy="39.6" r="0.8" fill="#2424d0" opacity="0.6"/><circle cx="38.5" cy="36.1" r="1.3" fill="#3030f0" opacity="0.6"/><circle cx="91.3" cy="21.4" r="1.0" fill="#14149a" opacity="0.6"/><circle cx="62.9" cy="54.2" r="1.4" fill="#2424d0" opacity="0.6"/><circle cx="71.7" cy="42.6" r="1.1" fill="#1a1ab0" opacity="0.6"/><circle cx="40.2" cy="45.1" r="1.5" fill="#2424d0" opacity="0.6"/><circle cx="36.7" cy="43.6" r="1.1" fill="#14149a" opacity="0.6"/><circle cx="38.2" cy="35.1" r="1.5" fill="#14149a" opacity="0.6"/><circle cx="37.8" cy="20.3" r="1.2" fill="#3030f0" opacity="0.6"/><circle cx="37.2" cy="33.7" r="1.0" fill="#2424d0" opacity="0.6"/><circle cx="71.4" cy="56.6" r="1.6" fill="#3030f0" opacity="0.6"/><circle cx="34.5" cy="21.7" r="1.1" fill="#2424d0" opacity="0.6"/><circle cx="58.3" cy="35.3" r="1.2" fill="#14149a" opacity="0.6"/><circle cx="66.7" cy="6.5" r="0.8" fill="#2424d0" opacity="0.6"/><circle cx="58.2" cy="30.5" r="1.2" fill="#1a1ab0" opacity="0.6"/><circle cx="30.5" cy="33.7" r="1.5" fill="#14149a" opacity="0.6"/><circle cx="86.6" cy="20.7" r="1.6" fill="#2424d0" opacity="0.6"/><circle cx="65.1" cy="7.5" r="1.2" fill="#1a1ab0" opacity="0.6"/><circle cx="33.0" cy="23.9" r="1.2" fill="#3030f0" opacity="0.6"/><circle cx="48.2" cy="1.3" r="1.5" fill="#1a1ab0" opacity="0.6"/><circle cx="59.7" cy="39.0" r="1.2" fill="#3030f0" opacity="0.6"/><circle cx="50.3" cy="21.8" r="1.2" fill="#2424d0" opacity="0.6"/><circle cx="59.5" cy="24.8" r="1.6" fill="#14149a" opacity="0.6"/><circle cx="31.4" cy="19.6" r="0.9" fill="#2424d0" opacity="0.6"/><circle cx="60.8" cy="20.6" r="1.2" fill="#14149a" opacity="0.6"/><circle cx="90.8" cy="14.8" r="1.1" fill="#1a1ab0" opacity="0.6"/><circle cx="52.0" cy="29.9" r="1.1" fill="#14149a" opacity="0.6"/><circle cx="52.9" cy="26.4" r="1.1" fill="#2424d0" opacity="0.6"/><circle cx="74.9" cy="23.0" r="1.4" fill="#2424d0" opacity="0.6"/><circle cx="77.1" cy="30.7" r="0.8" fill="#3030f0" opacity="0.6"/><circle cx="55.1" cy="44.6" r="1.3" fill="#2424d0" opacity="0.6"/><circle cx="38.0" cy="28.0" r="1.5" fill="#3030f0" opacity="0.6"/><circle cx="58.2" cy="2.6" r="1.5" fill="#2424d0" opacity="0.6"/><circle cx="48.4" cy="42.0" r="1.2" fill="#1a1ab0" opacity="0.6"/><circle cx="33.2" cy="21.2" r="1.2" fill="#1a1ab0" opacity="0.6"/><circle cx="33.1" cy="22.7" r="1.3" fill="#1a1ab0" opacity="0.6"/><circle cx="67.2" cy="54.5" r="1.4" fill="#1a1ab0" opacity="0.6"/><circle cx="56.3" cy="43.9" r="1.5" fill="#1a1ab0" opacity="0.6"/><circle cx="66.7" cy="14.5" r="0.9" fill="#1a1ab0" opacity="0.6"/><circle cx="70.8" cy="34.8" r="1.1" fill="#14149a" opacity="0.6"/><circle cx="74.9" cy="10.5" r="1.4" fill="#1a1ab0" opacity="0.6"/><circle cx="72.2" cy="51.4" r="1.4" fill="#2424d0" opacity="0.6"/><circle cx="72.5" cy="52.4" r="1.5" fill="#3030f0" opacity="0.6"/><circle cx="82.1" cy="42.6" r="1.4" fill="#1a1ab0" opacity="0.6"/><circle cx="71.7" cy="7.7" r="0.8" fill="#14149a" opacity="0.6"/><circle cx="72.9" cy="38.6" r="1.0" fill="#1a1ab0" opacity="0.6"/><circle cx="96.8" cy="26.2" r="0.9" fill="#2424d0" opacity="0.6"/><circle cx="82.7" cy="47.1" r="0.9" fill="#2424d0" opacity="0.6"/><circle cx="53.2" cy="46.8" r="1.2" fill="#14149a" opacity="0.6"/><circle cx="69.2" cy="46.3" r="1.3" fill="#2424d0" opacity="0.6"/><circle cx="72.1" cy="17.0" r="1.2" fill="#3030f0" opacity="0.6"/><circle cx="51.5" cy="35.7" r="0.9" fill="#2424d0" opacity="0.6"/><circle cx="59.6" cy="36.1" r="1.5" fill="#14149a" opacity="0.6"/><circle cx="50.5" cy="22.3" r="1.3" fill="#3030f0" opacity="0.6"/><circle cx="69.9" cy="13.2" r="1.5" fill="#1a1ab0" opacity="0.6"/><circle cx="72.6" cy="9.9" r="1.5" fill="#3030f0" opacity="0.6"/><circle cx="67.2" cy="1.0" r="1.1" fill="#1a1ab0" opacity="0.6"/><circle cx="82.0" cy="35.8" r="1.2" fill="#2424d0" opacity="0.6"/><circle cx="70.2" cy="24.0" r="1.0" fill="#3030f0" opacity="0.6"/><circle cx="49.5" cy="49.4" r="1.3" fill="#2424d0" opacity="0.6"/><circle cx="37.8" cy="47.8" r="1.3" fill="#2424d0" opacity="0.6"/><circle cx="66.5" cy="-2.6" r="0.8" fill="#2424d0" opacity="0.6"/><circle cx="62.8" cy="12.3" r="1.1" fill="#2424d0" opacity="0.6"/><circle cx="65.9" cy="3.1" r="0.8" fill="#3030f0" opacity="0.6"/><circle cx="63.8" cy="57.5" r="1.2" fill="#14149a" opacity="0.6"/><circle cx="89.2" cy="23.2" r="1.6" fill="#14149a" opacity="0.6"/><circle cx="67.4" cy="20.0" r="1.3" fill="#2424d0" opacity="0.6"/><circle cx="39.0" cy="47.7" r="1.1" fill="#1a1ab0" opacity="0.6"/><circle cx="79.5" cy="10.0" r="1.3" fill="#14149a" opacity="0.6"/><circle cx="84.8" cy="21.2" r="1.2" fill="#3030f0" opacity="0.6"/><circle cx="51.9" cy="40.4" r="1.3" fill="#3030f0" opacity="0.6"/><circle cx="48.8" cy="5.0" r="0.8" fill="#1a1ab0" opacity="0.6"/><circle cx="40.7" cy="15.3" r="1.1" fill="#14149a" opacity="0.6"/><circle cx="82.1" cy="33.7" r="1.1" fill="#3030f0" opacity="0.6"/><circle cx="93.1" cy="41.1" r="1.1" fill="#14149a" opacity="0.6"/><circle cx="63.8" cy="54.9" r="0.8" fill="#2424d0" opacity="0.6"/><circle cx="90.8" cy="17.9" r="1.2" fill="#1a1ab0" opacity="0.6"/><circle cx="54.8" cy="21.6" r="1.3" fill="#14149a" opacity="0.6"/><circle cx="87.3" cy="47.4" r="1.1" fill="#1a1ab0" opacity="0.6"/><circle cx="80.1" cy="42.5" r="1.3" fill="#14149a" opacity="0.6"/><circle cx="42.0" cy="13.3" r="1.3" fill="#3030f0" opacity="0.6"/><circle cx="68.3" cy="5.8" r="1.6" fill="#3030f0" opacity="0.6"/><circle cx="62.4" cy="12.9" r="0.9" fill="#3030f0" opacity="0.6"/><circle cx="69.8" cy="4.1" r="1.1" fill="#3030f0" opacity="0.6"/><circle cx="41.6" cy="11.2" r="1.4" fill="#1a1ab0" opacity="0.6"/><circle cx="44.2" cy="8.0" r="1.0" fill="#1a1ab0" opacity="0.6"/><circle cx="36.4" cy="27.7" r="1.0" fill="#2424d0" opacity="0.6"/><circle cx="61.7" cy="25.8" r="1.0" fill="#2424d0" opacity="0.6"/><circle cx="56.2" cy="21.1" r="1.2" fill="#2424d0" opacity="0.6"/><circle cx="65.2" cy="-1.6" r="0.9" fill="#1a1ab0" opacity="0.6"/><circle cx="49.8" cy="14.1" r="1.2" fill="#1a1ab0" opacity="0.6"/><circle cx="51.4" cy="46.5" r="0.9" fill="#2424d0" opacity="0.6"/><circle cx="71.4" cy="8.4" r="1.5" fill="#1a1ab0" opacity="0.6"/><circle cx="36.3" cy="37.2" r="1.1" fill="#1a1ab0" opacity="0.6"/><circle cx="45.3" cy="46.4" r="1.6" fill="#3030f0" opacity="0.6"/><circle cx="56.5" cy="54.1" r="1.5" fill="#1a1ab0" opacity="0.6"/><circle cx="45.4" cy="36.3" r="0.9" fill="#3030f0" opacity="0.6"/><circle cx="72.7" cy="32.2" r="1.3" fill="#14149a" opacity="0.6"/><circle cx="73.3" cy="8.6" r="1.5" fill="#2424d0" opacity="0.6"/><circle cx="78.0" cy="34.6" r="1.3" fill="#2424d0" opacity="0.6"/><circle cx="55.9" cy="7.5" r="1.4" fill="#3030f0" opacity="0.6"/><circle cx="61.4" cy="39.5" r="1.1" fill="#3030f0" opacity="0.6"/><circle cx="56.2" cy="35.9" r="1.4" fill="#3030f0" opacity="0.6"/><circle cx="35.7" cy="38.6" r="1.0" fill="#3030f0" opacity="0.6"/><circle cx="70.0" cy="58.0" r="1.4" fill="#1a1ab0" opacity="0.6"/><circle cx="90.8" cy="42.3" r="0.8" fill="#14149a" opacity="0.6"/><circle cx="37.8" cy="13.9" r="1.4" fill="#3030f0" opacity="0.6"/><circle cx="71.3" cy="6.2" r="1.5" fill="#1a1ab0" opacity="0.6"/><circle cx="77.2" cy="52.2" r="1.5" fill="#3030f0" opacity="0.6"/><circle cx="70.1" cy="14.5" r="0.8" fill="#1a1ab0" opacity="0.6"/><circle cx="33.4" cy="15.5" r="1.3" fill="#14149a" opacity="0.6"/><circle cx="87.2" cy="37.0" r="1.4" fill="#2424d0" opacity="0.6"/><circle cx="55.0" cy="42.0" r="0.9" fill="#3030f0" opacity="0.6"/><circle cx="87.4" cy="40.5" r="0.9" fill="#14149a" opacity="0.6"/><circle cx="64.5" cy="42.5" r="1.4" fill="#3030f0" opacity="0.6"/><circle cx="66.0" cy="8.6" r="1.1" fill="#3030f0" opacity="0.6"/><circle cx="52.8" cy="8.8" r="1.2" fill="#2424d0" opacity="0.6"/><circle cx="55.5" cy="-0.6" r="1.1" fill="#3030f0" opacity="0.6"/><circle cx="90.3" cy="21.5" r="1.2" fill="#2424d0" opacity="0.6"/><circle cx="71.1" cy="8.9" r="1.1" fill="#1a1ab0" opacity="0.6"/><circle cx="64.4" cy="40.5" r="1.3" fill="#1a1ab0" opacity="0.6"/><circle cx="54.8" cy="45.5" r="1.2" fill="#3030f0" opacity="0.6"/><circle cx="72.1" cy="26.6" r="1.0" fill="#2424d0" opacity="0.6"/><circle cx="59.6" cy="39.5" r="1.5" fill="#2424d0" opacity="0.6"/><circle cx="64.1" cy="23.9" r="1.2" fill="#2424d0" opacity="0.6"/><circle cx="58.2" cy="40.7" r="1.1" fill="#1a1ab0" opacity="0.6"/><circle cx="45.1" cy="15.5" r="1.2" fill="#14149a" opacity="0.6"/><circle cx="71.2" cy="43.1" r="0.9" fill="#3030f0" opacity="0.6"/><circle cx="40.9" cy="6.5" r="1.2" fill="#3030f0" opacity="0.6"/><circle cx="42.5" cy="29.9" r="1.6" fill="#2424d0" opacity="0.6"/><circle cx="48.1" cy="29.6" r="0.8" fill="#1a1ab0" opacity="0.6"/><circle cx="70.7" cy="9.8" r="1.2" fill="#3030f0" opacity="0.6"/><circle cx="65.9" cy="20.7" r="1.5" fill="#2424d0" opacity="0.6"/><circle cx="47.9" cy="32.8" r="1.1" fill="#1a1ab0" opacity="0.6"/><circle cx="38.1" cy="41.8" r="0.9" fill="#1a1ab0" opacity="0.6"/><circle cx="41.8" cy="4.6" r="1.0" fill="#2424d0" opacity="0.6"/><circle cx="81.5" cy="50.1" r="0.8" fill="#1a1ab0" opacity="0.6"/><circle cx="68.3" cy="20.0" r="1.0" fill="#2424d0" opacity="0.6"/><circle cx="89.6" cy="41.3" r="1.2" fill="#3030f0" opacity="0.6"/><circle cx="78.7" cy="29.6" r="1.0" fill="#2424d0" opacity="0.6"/><circle cx="68.4" cy="7.8" r="0.8" fill="#14149a" opacity="0.6"/><circle cx="50.6" cy="26.0" r="1.5" fill="#3030f0" opacity="0.6"/><circle cx="55.2" cy="46.1" r="1.2" fill="#14149a" opacity="0.6"/><circle cx="59.6" cy="21.0" r="0.9" fill="#1a1ab0" opacity="0.6"/><circle cx="80.9" cy="40.0" r="1.2" fill="#2424d0" opacity="0.6"/><circle cx="61.8" cy="25.2" r="1.1" fill="#14149a" opacity="0.6"/><circle cx="66.0" cy="51.2" r="1.2" fill="#2424d0" opacity="0.6"/><circle cx="57.8" cy="-0.9" r="0.9" fill="#14149a" opacity="0.6"/><circle cx="91.3" cy="17.7" r="1.6" fill="#14149a" opacity="0.6"/><circle cx="54.6" cy="24.9" r="1.0" fill="#14149a" opacity="0.6"/><circle cx="61.7" cy="10.3" r="1.6" fill="#14149a" opacity="0.6"/><circle cx="60.8" cy="10.4" r="1.5" fill="#2424d0" opacity="0.6"/><circle cx="85.6" cy="42.6" r="0.9" fill="#1a1ab0" opacity="0.6"/><circle cx="73.2" cy="45.8" r="1.5" fill="#2424d0" opacity="0.6"/><circle cx="69.0" cy="31.3" r="1.6" fill="#14149a" opacity="0.6"/><circle cx="56.3" cy="32.6" r="1.5" fill="#14149a" opacity="0.6"/><circle cx="75.4" cy="22.9" r="1.0" fill="#1a1ab0" opacity="0.6"/><circle cx="73.2" cy="10.6" r="1.1" fill="#14149a" opacity="0.6"/><circle cx="43.2" cy="9.5" r="1.3" fill="#3030f0" opacity="0.6"/><circle cx="94.1" cy="24.9" r="1.3" fill="#2424d0" opacity="0.6"/><circle cx="63.0" cy="41.4" r="1.0" fill="#14149a" opacity="0.6"/><circle cx="80.5" cy="39.8" r="1.2" fill="#3030f0" opacity="0.6"/><circle cx="76.1" cy="6.4" r="0.9" fill="#3030f0" opacity="0.6"/><circle cx="44.7" cy="22.5" r="1.2" fill="#1a1ab0" opacity="0.6"/><circle cx="50.4" cy="21.8" r="1.5" fill="#1a1ab0" opacity="0.6"/><circle cx="58.9" cy="25.9" r="1.3" fill="#2424d0" opacity="0.6"/><circle cx="79.4" cy="44.2" r="1.1" fill="#3030f0" opacity="0.6"/><circle cx="48.3" cy="54.3" r="1.1" fill="#14149a" opacity="0.6"/><circle cx="81.0" cy="14.0" r="1.4" fill="#1a1ab0" opacity="0.6"/><circle cx="84.7" cy="15.0" r="1.2" fill="#3030f0" opacity="0.6"/><circle cx="78.4" cy="51.3" r="1.5" fill="#3030f0" opacity="0.6"/><circle cx="54.4" cy="21.5" r="1.5" fill="#3030f0" opacity="0.6"/><circle cx="55.8" cy="10.8" r="1.4" fill="#3030f0" opacity="0.6"/><circle cx="71.1" cy="16.3" r="1.2" fill="#2424d0" opacity="0.6"/><circle cx="43.2" cy="33.6" r="1.4" fill="#1a1ab0" opacity="0.6"/><circle cx="54.1" cy="51.7" r="1.4" fill="#14149a" opacity="0.6"/><circle cx="43.6" cy="11.6" r="1.4" fill="#1a1ab0" opacity="0.6"/><circle cx="71.3" cy="48.2" r="0.9" fill="#14149a" opacity="0.6"/><circle cx="80.0" cy="41.4" r="1.1" fill="#1a1ab0" opacity="0.6"/><circle cx="61.8" cy="51.3" r="1.1" fill="#2424d0" opacity="0.6"/><circle cx="58.6" cy="0.9" r="1.1" fill="#14149a" opacity="0.6"/><circle cx="45.1" cy="15.5" r="1.1" fill="#14149a" opacity="0.6"/><circle cx="64.3" cy="6.4" r="1.6" fill="#14149a" opacity="0.6"/><circle cx="69.3" cy="18.5" r="0.9" fill="#3030f0" opacity="0.6"/><circle cx="41.9" cy="24.8" r="1.5" fill="#3030f0" opacity="0.6"/><circle cx="79.5" cy="18.7" r="1.3" fill="#14149a" opacity="0.6"/><circle cx="61.0" cy="4.2" r="1.4" fill="#3030f0" opacity="0.6"/></g><g filter="url(#bb3)"><circle cx="61" cy="23" r="3.5" fill="#2a2ae8"/><circle cx="74" cy="27.5" r="3.5" fill="#2a2ae8"/><circle cx="70" cy="34.6" r="3.5" fill="#2a2ad8"/><circle cx="85.6" cy="46.3" r="4" fill="#2626d0"/></g><g filter="url(#bb3)"><path d="M14.9,53.7 L11.3,58.0 L13.5,72.0 L23.3,84.0 L35.4,92.0 L50.0,99.0 L59.4,101.5" stroke="#701020" stroke-width="10" fill="none" stroke-linecap="round"/><circle cx="15" cy="54" r="4" fill="#a01828"/><path d="M17.3,70.5 L33.0,71.7" stroke="#701020" stroke-width="3" fill="none"/><path d="M42.0,55.0 L50.0,58.0 L47.0,63.0" stroke="#601018" stroke-width="3" fill="none"/><path d="M17.3,57.3 L26.0,64.0 L35.4,71.7 L53.4,81.4 L65.4,71.7 L70.2,59.7 L72.5,48.0 L71.0,37.0" stroke="#1a8a1a" stroke-width="8" fill="none" stroke-linecap="round"/><path d="M36.0,80.0 L48.0,90.0" stroke="#4a7a1a" stroke-width="6" fill="none" stroke-linecap="round"/><ellipse cx="33" cy="69" rx="6" ry="4" fill="#8a8a18"/></g><circle cx="22.4" cy="68.9" r="0.70" fill="#d02030"/><circle cx="29.1" cy="88.5" r="0.57" fill="#901020"/><circle cx="63.3" cy="92.5" r="0.64" fill="#e03040"/><circle cx="44.9" cy="101.4" r="0.44" fill="#901020"/><circle cx="27.3" cy="70.4" r="0.67" fill="#d02030"/><circle cx="47.9" cy="97.7" r="0.47" fill="#e03040"/><circle cx="15.3" cy="57.9" r="0.53" fill="#901020"/><circle cx="11.3" cy="61.0" r="0.47" fill="#901020"/><circle cx="30.2" cy="74.9" r="0.72" fill="#901020"/><circle cx="52.3" cy="104.8" r="0.63" fill="#d02030"/><circle cx="14.2" cy="64.7" r="0.54" fill="#b01828"/><circle cx="32.8" cy="87.4" r="0.56" fill="#b01828"/><circle cx="21.0" cy="70.1" r="0.39" fill="#e03040"/><circle cx="56.1" cy="103.8" r="0.70" fill="#e03040"/><circle cx="41.0" cy="92.0" r="0.38" fill="#b01828"/><circle cx="52.7" cy="101.8" r="0.46" fill="#b01828"/><circle cx="24.5" cy="73.4" r="0.67" fill="#d02030"/><circle cx="31.5" cy="91.7" r="0.72" fill="#b01828"/><circle cx="13.4" cy="71.9" r="0.74" fill="#901020"/><circle cx="59.2" cy="102.8" r="0.35" fill="#e03040"/><circle cx="22.3" cy="72.9" r="0.42" fill="#b01828"/><circle cx="12.6" cy="74.6" r="0.42" fill="#b01828"/><circle cx="61.8" cy="102.0" r="0.65" fill="#901020"/><circle cx="15.6" cy="53.2" r="0.38" fill="#e03040"/><circle cx="21.6" cy="71.0" r="0.47" fill="#b01828"/><circle cx="31.6" cy="87.9" r="0.52" fill="#901020"/><circle cx="28.3" cy="92.2" r="0.64" fill="#e03040"/><circle cx="25.5" cy="88.9" r="0.55" fill="#d02030"/><circle cx="21.4" cy="70.6" r="0.53" fill="#b01828"/><circle cx="13.4" cy="73.2" r="0.67" fill="#901020"/><circle cx="40.3" cy="93.6" r="0.40" fill="#b01828"/><circle cx="24.7" cy="86.9" r="0.45" fill="#b01828"/><circle cx="14.0" cy="72.7" r="0.68" fill="#e03040"/><circle cx="38.4" cy="95.6" r="0.55" fill="#901020"/><circle cx="15.9" cy="75.4" r="0.68" fill="#901020"/><circle cx="9.5" cy="58.8" r="0.44" fill="#d02030"/><circle cx="19.5" cy="66.6" r="0.40" fill="#901020"/><circle cx="27.1" cy="86.3" r="0.51" fill="#b01828"/><circle cx="8.3" cy="58.1" r="0.72" fill="#d02030"/><circle cx="35.2" cy="84.7" r="0.59" fill="#e03040"/><circle cx="19.2" cy="70.1" r="0.53" fill="#b01828"/><circle cx="14.0" cy="85.2" r="0.59" fill="#d02030"/><circle cx="4.0" cy="59.5" r="0.64" fill="#b01828"/><circle cx="18.6" cy="87.4" r="0.50" fill="#d02030"/><circle cx="19.6" cy="72.3" r="0.57" fill="#b01828"/><circle cx="20.9" cy="87.0" r="0.65" fill="#901020"/><circle cx="26.9" cy="82.7" r="0.70" fill="#b01828"/><circle cx="27.2" cy="87.6" r="0.46" fill="#e03040"/><circle cx="22.1" cy="70.7" r="0.55" fill="#b01828"/><circle cx="12.7" cy="73.8" r="0.72" fill="#e03040"/><circle cx="12.4" cy="68.4" r="0.40" fill="#e03040"/><circle cx="42.2" cy="99.8" r="0.50" fill="#e03040"/><circle cx="28.4" cy="71.3" r="0.51" fill="#b01828"/><circle cx="26.1" cy="88.3" r="0.40" fill="#b01828"/><circle cx="12.6" cy="76.7" r="0.40" fill="#e03040"/><circle cx="13.2" cy="76.0" r="0.70" fill="#e03040"/><circle cx="24.2" cy="71.7" r="0.56" fill="#e03040"/><circle cx="12.4" cy="72.0" r="0.44" fill="#d02030"/><circle cx="48.3" cy="94.8" r="0.35" fill="#e03040"/><circle cx="41.0" cy="94.5" r="0.57" fill="#e03040"/><circle cx="33.6" cy="69.6" r="0.44" fill="#e03040"/><circle cx="8.8" cy="60.5" r="0.37" fill="#901020"/><circle cx="53.3" cy="104.7" r="0.44" fill="#901020"/><circle cx="13.1" cy="64.8" r="0.63" fill="#d02030"/><circle cx="33.5" cy="68.4" r="0.54" fill="#e03040"/><circle cx="34.0" cy="91.9" r="0.36" fill="#901020"/><circle cx="17.4" cy="57.9" r="0.46" fill="#901020"/><circle cx="22.3" cy="83.5" r="0.48" fill="#e03040"/><circle cx="21.0" cy="71.2" r="0.50" fill="#e03040"/><circle cx="12.6" cy="70.4" r="0.54" fill="#e03040"/><circle cx="53.5" cy="103.6" r="0.73" fill="#d02030"/><circle cx="31.2" cy="88.6" r="0.52" fill="#e03040"/><circle cx="15.2" cy="71.3" r="0.74" fill="#901020"/><circle cx="15.4" cy="58.6" r="0.47" fill="#e03040"/><circle cx="27.8" cy="84.8" r="0.46" fill="#e03040"/><circle cx="37.0" cy="92.9" r="0.57" fill="#901020"/><circle cx="11.8" cy="68.8" r="0.66" fill="#d02030"/><circle cx="28.1" cy="88.5" r="0.74" fill="#e03040"/><circle cx="14.1" cy="72.5" r="0.67" fill="#b01828"/><circle cx="35.0" cy="86.1" r="0.68" fill="#b01828"/><circle cx="20.5" cy="65.9" r="0.47" fill="#901020"/><circle cx="14.6" cy="69.7" r="0.44" fill="#b01828"/><circle cx="16.5" cy="71.5" r="0.65" fill="#d02030"/><circle cx="61.2" cy="95.6" r="0.47" fill="#901020"/><circle cx="25.0" cy="70.3" r="0.60" fill="#901020"/><circle cx="52.1" cy="99.7" r="0.55" fill="#901020"/><circle cx="11.5" cy="69.2" r="0.62" fill="#b01828"/><circle cx="17.3" cy="70.5" r="0.68" fill="#901020"/><circle cx="30.8" cy="74.8" r="0.46" fill="#b01828"/><circle cx="8.7" cy="64.9" r="0.44" fill="#b01828"/><circle cx="52.9" cy="101.8" r="0.67" fill="#b01828"/><circle cx="13.5" cy="74.7" r="0.62" fill="#901020"/><circle cx="32.9" cy="71.6" r="0.64" fill="#d02030"/><circle cx="50.9" cy="101.6" r="0.57" fill="#d02030"/><circle cx="25.0" cy="77.2" r="0.69" fill="#b01828"/><circle cx="16.9" cy="83.6" r="0.69" fill="#e03040"/><circle cx="20.3" cy="67.7" r="0.41" fill="#901020"/><circle cx="37.1" cy="95.0" r="0.70" fill="#901020"/><circle cx="17.9" cy="69.9" r="0.45" fill="#901020"/><circle cx="25.3" cy="87.1" r="0.46" fill="#b01828"/><circle cx="19.5" cy="72.4" r="0.38" fill="#b01828"/><circle cx="18.4" cy="79.1" r="0.38" fill="#e03040"/><circle cx="39.0" cy="92.5" r="0.41" fill="#b01828"/><circle cx="58.1" cy="101.8" r="0.49" fill="#901020"/><circle cx="27.0" cy="75.2" r="0.68" fill="#e03040"/><circle cx="19.8" cy="70.7" r="0.75" fill="#901020"/><circle cx="30.8" cy="88.1" r="0.69" fill="#b01828"/><circle cx="26.8" cy="84.9" r="0.36" fill="#e03040"/><circle cx="12.2" cy="71.9" r="0.38" fill="#e03040"/><circle cx="9.0" cy="53.4" r="0.67" fill="#901020"/><circle cx="21.9" cy="74.8" r="0.66" fill="#d02030"/><circle cx="49.0" cy="100.9" r="0.51" fill="#d02030"/><circle cx="19.1" cy="72.6" r="0.64" fill="#e03040"/><circle cx="43.0" cy="100.2" r="0.49" fill="#e03040"/><circle cx="9.4" cy="54.3" r="0.46" fill="#b01828"/><circle cx="42.3" cy="99.6" r="0.57" fill="#b01828"/><circle cx="21.4" cy="71.7" r="0.49" fill="#901020"/><circle cx="13.0" cy="55.6" r="0.39" fill="#b01828"/><circle cx="14.4" cy="55.9" r="0.59" fill="#e03040"/><circle cx="23.6" cy="81.4" r="0.51" fill="#b01828"/><circle cx="32.8" cy="72.7" r="0.72" fill="#b01828"/><circle cx="43.2" cy="95.9" r="0.64" fill="#901020"/><circle cx="56.8" cy="101.2" r="0.49" fill="#901020"/><circle cx="46.5" cy="95.9" r="0.58" fill="#d02030"/><circle cx="18.9" cy="65.7" r="0.52" fill="#901020"/><circle cx="19.4" cy="82.7" r="0.59" fill="#d02030"/><circle cx="30.5" cy="86.9" r="0.53" fill="#d02030"/><circle cx="33.0" cy="88.7" r="0.54" fill="#e03040"/><circle cx="27.0" cy="75.9" r="0.75" fill="#901020"/><circle cx="17.3" cy="55.7" r="0.71" fill="#d02030"/><circle cx="15.5" cy="66.3" r="0.73" fill="#d02030"/><circle cx="35.4" cy="95.9" r="0.38" fill="#d02030"/><circle cx="28.4" cy="76.8" r="0.53" fill="#d02030"/><circle cx="50.4" cy="101.1" r="0.61" fill="#d02030"/><circle cx="7.0" cy="62.3" r="0.70" fill="#d02030"/><circle cx="48.3" cy="92.6" r="0.57" fill="#d02030"/><circle cx="31.5" cy="73.8" r="0.39" fill="#d02030"/><circle cx="56.2" cy="99.5" r="0.47" fill="#901020"/><circle cx="8.1" cy="69.8" r="0.60" fill="#901020"/><circle cx="13.4" cy="57.7" r="0.60" fill="#b01828"/><circle cx="29.0" cy="71.1" r="0.68" fill="#e03040"/><circle cx="52.3" cy="96.7" r="0.43" fill="#b01828"/><circle cx="15.8" cy="69.3" r="0.54" fill="#b01828"/><circle cx="14.2" cy="75.7" r="0.60" fill="#e03040"/><circle cx="25.0" cy="70.6" r="0.64" fill="#e03040"/><circle cx="50.2" cy="97.0" r="0.38" fill="#e03040"/><circle cx="22.6" cy="78.8" r="0.53" fill="#d02030"/><circle cx="52.5" cy="104.2" r="0.44" fill="#d02030"/><circle cx="23.5" cy="69.1" r="0.69" fill="#901020"/><circle cx="11.1" cy="69.6" r="0.52" fill="#b01828"/><circle cx="25.3" cy="84.2" r="0.46" fill="#901020"/><circle cx="35.0" cy="96.4" r="0.36" fill="#b01828"/><circle cx="14.7" cy="73.4" r="0.70" fill="#901020"/><circle cx="18.1" cy="86.0" r="0.69" fill="#d02030"/><circle cx="33.5" cy="91.1" r="0.39" fill="#e03040"/><circle cx="18.1" cy="55.4" r="0.63" fill="#d02030"/><circle cx="28.4" cy="72.3" r="0.42" fill="#e03040"/><circle cx="23.5" cy="83.7" r="0.44" fill="#d02030"/><circle cx="54.4" cy="104.8" r="0.61" fill="#d02030"/><circle cx="62.3" cy="102.8" r="0.51" fill="#b01828"/><circle cx="22.4" cy="69.3" r="0.68" fill="#901020"/><circle cx="11.6" cy="59.4" r="0.73" fill="#e03040"/><circle cx="39.1" cy="91.5" r="0.70" fill="#901020"/><circle cx="29.4" cy="84.7" r="0.73" fill="#d02030"/><circle cx="15.7" cy="72.6" r="0.74" fill="#d02030"/><circle cx="13.9" cy="74.3" r="0.58" fill="#b01828"/><circle cx="33.2" cy="92.0" r="0.49" fill="#b01828"/><circle cx="12.5" cy="71.4" r="0.44" fill="#901020"/><circle cx="21.3" cy="71.7" r="0.71" fill="#b01828"/><circle cx="10.4" cy="62.5" r="0.60" fill="#d02030"/><circle cx="22.5" cy="81.0" r="0.68" fill="#901020"/><circle cx="11.6" cy="64.0" r="0.39" fill="#e03040"/><circle cx="26.7" cy="70.2" r="0.66" fill="#901020"/><circle cx="23.0" cy="82.2" r="0.39" fill="#901020"/><circle cx="12.4" cy="76.3" r="0.70" fill="#b01828"/><circle cx="23.2" cy="88.2" r="0.51" fill="#e03040"/><circle cx="19.8" cy="69.6" r="0.38" fill="#901020"/><circle cx="17.8" cy="77.1" r="0.40" fill="#e03040"/><circle cx="51.0" cy="99.2" r="0.57" fill="#901020"/><circle cx="44.2" cy="93.0" r="0.36" fill="#e03040"/><circle cx="25.5" cy="76.0" r="0.54" fill="#d02030"/><circle cx="17.7" cy="77.8" r="0.63" fill="#e03040"/><circle cx="53.8" cy="103.8" r="0.50" fill="#e03040"/><circle cx="13.0" cy="67.1" r="0.42" fill="#d02030"/><circle cx="25.4" cy="70.1" r="0.39" fill="#e03040"/><circle cx="33.6" cy="82.4" r="0.61" fill="#e03040"/><circle cx="19.2" cy="84.7" r="0.38" fill="#b01828"/><circle cx="46.0" cy="100.0" r="0.68" fill="#e03040"/><circle cx="32.2" cy="73.0" r="0.37" fill="#d02030"/><circle cx="32.6" cy="85.7" r="0.36" fill="#b01828"/><circle cx="35.4" cy="88.9" r="0.52" fill="#d02030"/><circle cx="16.4" cy="67.6" r="0.41" fill="#901020"/><circle cx="29.0" cy="68.2" r="0.71" fill="#d02030"/><circle cx="50.2" cy="97.1" r="0.68" fill="#d02030"/><circle cx="34.8" cy="96.3" r="0.61" fill="#d02030"/><circle cx="54.5" cy="103.0" r="0.56" fill="#d02030"/><circle cx="19.3" cy="73.7" r="0.71" fill="#901020"/><circle cx="11.8" cy="64.1" r="0.52" fill="#901020"/><circle cx="22.4" cy="86.3" r="0.69" fill="#e03040"/><circle cx="11.8" cy="69.1" r="0.49" fill="#901020"/><circle cx="21.6" cy="69.3" r="0.66" fill="#b01828"/><circle cx="26.9" cy="84.3" r="0.63" fill="#b01828"/><circle cx="32.0" cy="93.4" r="0.37" fill="#d02030"/><circle cx="45.2" cy="99.0" r="0.44" fill="#d02030"/><circle cx="32.6" cy="70.2" r="0.53" fill="#901020"/><circle cx="13.4" cy="65.1" r="0.62" fill="#b01828"/><circle cx="12.0" cy="52.1" r="0.57" fill="#e03040"/><circle cx="17.3" cy="87.6" r="0.49" fill="#e03040"/><circle cx="19.3" cy="68.6" r="0.43" fill="#e03040"/><circle cx="12.2" cy="57.5" r="0.71" fill="#e03040"/><circle cx="32.7" cy="98.6" r="0.64" fill="#e03040"/><circle cx="36.4" cy="82.5" r="0.39" fill="#e03040"/><circle cx="15.4" cy="70.0" r="0.47" fill="#e03040"/><circle cx="29.2" cy="89.1" r="0.36" fill="#e03040"/><circle cx="57.0" cy="102.8" r="0.68" fill="#b01828"/><circle cx="27.7" cy="88.7" r="0.56" fill="#e03040"/><circle cx="17.4" cy="73.2" r="0.61" fill="#b01828"/><circle cx="23.2" cy="82.1" r="0.44" fill="#e03040"/><circle cx="28.3" cy="90.0" r="0.73" fill="#d02030"/><circle cx="34.6" cy="86.3" r="0.47" fill="#d02030"/><circle cx="17.5" cy="70.0" r="0.75" fill="#e03040"/><circle cx="22.6" cy="83.1" r="0.62" fill="#b01828"/><circle cx="5.7" cy="51.7" r="0.62" fill="#d02030"/><circle cx="21.4" cy="81.1" r="0.63" fill="#901020"/><circle cx="32.8" cy="70.7" r="0.41" fill="#b01828"/><circle cx="7.5" cy="58.7" r="0.74" fill="#d02030"/><circle cx="11.2" cy="65.1" r="0.63" fill="#b01828"/><circle cx="64.1" cy="98.9" r="0.69" fill="#d02030"/><circle cx="29.7" cy="61.5" r="0.58" fill="#e03040"/><circle cx="57.6" cy="102.1" r="0.73" fill="#d02030"/><circle cx="11.0" cy="63.0" r="0.74" fill="#901020"/><circle cx="15.5" cy="51.5" r="0.56" fill="#d02030"/><circle cx="22.2" cy="72.7" r="0.74" fill="#b01828"/><circle cx="19.1" cy="83.0" r="0.36" fill="#b01828"/><circle cx="10.4" cy="70.2" r="0.48" fill="#e03040"/><circle cx="23.4" cy="89.5" r="0.42" fill="#b01828"/><circle cx="18.6" cy="71.4" r="0.72" fill="#b01828"/><circle cx="11.9" cy="68.4" r="0.56" fill="#e03040"/><circle cx="32.6" cy="88.8" r="0.38" fill="#e03040"/><circle cx="41.2" cy="95.4" r="0.45" fill="#d02030"/><circle cx="37.1" cy="78.8" r="0.44" fill="#20a030"/><circle cx="63.2" cy="78.5" r="0.38" fill="#30d030"/><circle cx="70.1" cy="38.8" r="0.67" fill="#40b040"/><circle cx="43.9" cy="73.5" r="0.46" fill="#b0b030"/><circle cx="78.1" cy="45.2" r="0.71" fill="#30d030"/><circle cx="41.3" cy="85.6" r="0.72" fill="#40b040"/><circle cx="24.0" cy="63.8" r="0.44" fill="#70d040"/><circle cx="44.9" cy="75.5" r="0.64" fill="#30d030"/><circle cx="34.2" cy="71.6" r="0.70" fill="#20a030"/><circle cx="44.9" cy="71.4" r="0.41" fill="#30d030"/><circle cx="47.2" cy="86.0" r="0.40" fill="#70d040"/><circle cx="33.2" cy="70.3" r="0.57" fill="#b0b030"/><circle cx="52.7" cy="78.7" r="0.39" fill="#40b040"/><circle cx="24.8" cy="54.9" r="0.72" fill="#b0b030"/><circle cx="34.8" cy="67.4" r="0.39" fill="#20a030"/><circle cx="48.4" cy="87.4" r="0.59" fill="#20a030"/><circle cx="56.1" cy="86.9" r="0.74" fill="#30d030"/><circle cx="48.9" cy="78.9" r="0.46" fill="#30d030"/><circle cx="30.1" cy="65.7" r="0.36" fill="#40b040"/><circle cx="54.0" cy="79.0" r="0.38" fill="#30d030"/><circle cx="40.4" cy="82.0" r="0.37" fill="#70d040"/><circle cx="68.2" cy="49.8" r="0.45" fill="#70d040"/><circle cx="31.8" cy="69.7" r="0.59" fill="#20a030"/><circle cx="57.1" cy="77.1" r="0.72" fill="#40b040"/><circle cx="63.4" cy="62.9" r="0.61" fill="#20a030"/><circle cx="44.2" cy="84.9" r="0.42" fill="#70d040"/><circle cx="33.5" cy="70.4" r="0.73" fill="#70d040"/><circle cx="65.9" cy="70.0" r="0.54" fill="#30d030"/><circle cx="59.0" cy="77.7" r="0.50" fill="#30d030"/><circle cx="64.4" cy="69.8" r="0.69" fill="#b0b030"/><circle cx="44.1" cy="86.3" r="0.54" fill="#40b040"/><circle cx="70.9" cy="42.6" r="0.38" fill="#30d030"/><circle cx="36.9" cy="67.1" r="0.45" fill="#b0b030"/><circle cx="24.5" cy="63.9" r="0.38" fill="#20a030"/><circle cx="27.1" cy="69.7" r="0.55" fill="#40b040"/><circle cx="42.7" cy="83.8" r="0.47" fill="#40b040"/><circle cx="68.9" cy="62.2" r="0.67" fill="#40b040"/><circle cx="22.1" cy="64.7" r="0.37" fill="#30d030"/><circle cx="70.0" cy="38.7" r="0.61" fill="#20a030"/><circle cx="71.3" cy="42.6" r="0.62" fill="#30d030"/><circle cx="38.5" cy="85.1" r="0.45" fill="#b0b030"/><circle cx="68.4" cy="57.8" r="0.60" fill="#40b040"/><circle cx="68.5" cy="58.0" r="0.51" fill="#20a030"/><circle cx="73.1" cy="54.7" r="0.73" fill="#20a030"/><circle cx="33.9" cy="69.9" r="0.70" fill="#20a030"/><circle cx="46.1" cy="91.7" r="0.66" fill="#40b040"/><circle cx="56.8" cy="79.9" r="0.42" fill="#70d040"/><circle cx="69.9" cy="65.2" r="0.72" fill="#30d030"/><circle cx="42.8" cy="72.7" r="0.74" fill="#30d030"/><circle cx="42.3" cy="78.8" r="0.55" fill="#30d030"/><circle cx="36.9" cy="80.2" r="0.65" fill="#b0b030"/><circle cx="37.0" cy="75.2" r="0.45" fill="#70d040"/><circle cx="44.8" cy="84.2" r="0.47" fill="#b0b030"/><circle cx="48.1" cy="80.4" r="0.54" fill="#30d030"/><circle cx="22.9" cy="66.0" r="0.65" fill="#b0b030"/><circle cx="48.4" cy="86.7" r="0.73" fill="#b0b030"/><circle cx="62.7" cy="76.4" r="0.43" fill="#30d030"/><circle cx="67.7" cy="78.3" r="0.66" fill="#b0b030"/><circle cx="67.2" cy="66.4" r="0.61" fill="#30d030"/><circle cx="52.1" cy="81.8" r="0.54" fill="#70d040"/><circle cx="47.6" cy="89.2" r="0.46" fill="#b0b030"/><circle cx="53.5" cy="82.4" r="0.58" fill="#40b040"/><circle cx="46.4" cy="75.7" r="0.60" fill="#30d030"/><circle cx="22.0" cy="61.6" r="0.58" fill="#20a030"/><circle cx="20.9" cy="59.4" r="0.54" fill="#30d030"/><circle cx="38.6" cy="86.4" r="0.74" fill="#70d040"/><circle cx="70.4" cy="42.2" r="0.36" fill="#b0b030"/><circle cx="61.8" cy="69.1" r="0.43" fill="#30d030"/><circle cx="70.1" cy="53.8" r="0.50" fill="#20a030"/><circle cx="30.9" cy="70.1" r="0.36" fill="#70d040"/><circle cx="47.1" cy="88.5" r="0.60" fill="#b0b030"/><circle cx="49.1" cy="85.1" r="0.74" fill="#20a030"/><circle cx="74.1" cy="48.6" r="0.44" fill="#b0b030"/><circle cx="69.5" cy="38.5" r="0.52" fill="#70d040"/><circle cx="34.5" cy="67.4" r="0.74" fill="#70d040"/><circle cx="38.9" cy="88.8" r="0.49" fill="#20a030"/><circle cx="35.3" cy="71.2" r="0.51" fill="#40b040"/><circle cx="67.1" cy="61.8" r="0.37" fill="#40b040"/><circle cx="69.0" cy="54.5" r="0.63" fill="#70d040"/><circle cx="68.1" cy="59.7" r="0.63" fill="#b0b030"/><circle cx="41.2" cy="84.6" r="0.65" fill="#b0b030"/><circle cx="41.3" cy="69.1" r="0.46" fill="#b0b030"/><circle cx="45.9" cy="75.5" r="0.72" fill="#20a030"/><circle cx="65.7" cy="72.6" r="0.52" fill="#40b040"/><circle cx="27.4" cy="63.8" r="0.57" fill="#20a030"/><circle cx="45.2" cy="85.0" r="0.65" fill="#30d030"/><circle cx="16.5" cy="57.4" r="0.50" fill="#40b040"/><circle cx="46.5" cy="80.3" r="0.56" fill="#30d030"/><circle cx="57.2" cy="78.2" r="0.67" fill="#b0b030"/><circle cx="36.5" cy="73.1" r="0.38" fill="#30d030"/><circle cx="44.6" cy="90.4" r="0.63" fill="#30d030"/><circle cx="66.4" cy="70.1" r="0.60" fill="#70d040"/><circle cx="65.4" cy="69.4" r="0.44" fill="#20a030"/><circle cx="73.9" cy="65.7" r="0.67" fill="#70d040"/><circle cx="66.3" cy="72.3" r="0.44" fill="#b0b030"/><circle cx="36.3" cy="78.5" r="0.67" fill="#20a030"/><circle cx="31.8" cy="70.8" r="0.66" fill="#20a030"/><circle cx="44.2" cy="75.0" r="0.70" fill="#40b040"/><circle cx="57.7" cy="81.3" r="0.62" fill="#30d030"/><circle cx="67.7" cy="53.2" r="0.36" fill="#70d040"/><circle cx="32.0" cy="86.4" r="0.59" fill="#20a030"/><circle cx="22.4" cy="61.2" r="0.63" fill="#40b040"/><circle cx="61.8" cy="76.1" r="0.62" fill="#30d030"/><circle cx="53.2" cy="84.1" r="0.49" fill="#70d040"/><circle cx="19.5" cy="56.5" r="0.36" fill="#70d040"/><circle cx="38.0" cy="82.0" r="0.40" fill="#30d030"/><circle cx="51.9" cy="80.6" r="0.70" fill="#b0b030"/><circle cx="67.1" cy="57.2" r="0.45" fill="#20a030"/><circle cx="45.0" cy="79.8" r="0.58" fill="#40b040"/><circle cx="38.1" cy="76.0" r="0.61" fill="#30d030"/><circle cx="43.1" cy="87.9" r="0.70" fill="#b0b030"/><circle cx="66.1" cy="62.2" r="0.53" fill="#20a030"/><circle cx="57.0" cy="82.3" r="0.61" fill="#40b040"/><circle cx="23.0" cy="68.5" r="0.57" fill="#b0b030"/><circle cx="62.7" cy="76.1" r="0.49" fill="#30d030"/><circle cx="46.3" cy="88.7" r="0.67" fill="#30d030"/><circle cx="58.0" cy="80.5" r="0.59" fill="#b0b030"/><circle cx="61.8" cy="72.7" r="0.54" fill="#40b040"/><circle cx="67.8" cy="69.8" r="0.57" fill="#70d040"/><circle cx="74.3" cy="36.3" r="0.35" fill="#40b040"/><circle cx="43.3" cy="88.3" r="0.42" fill="#b0b030"/><circle cx="59.8" cy="77.3" r="0.43" fill="#40b040"/><circle cx="70.9" cy="59.9" r="0.67" fill="#40b040"/><circle cx="68.0" cy="53.4" r="0.70" fill="#70d040"/><circle cx="74.6" cy="52.8" r="0.48" fill="#30d030"/><circle cx="44.1" cy="85.8" r="0.58" fill="#20a030"/><circle cx="71.0" cy="46.2" r="0.61" fill="#20a030"/><circle cx="58.0" cy="78.9" r="0.46" fill="#40b040"/><circle cx="68.8" cy="67.7" r="0.44" fill="#70d040"/><circle cx="71.2" cy="41.9" r="0.60" fill="#20a030"/><circle cx="47.1" cy="89.6" r="0.51" fill="#b0b030"/><circle cx="46.3" cy="77.9" r="0.36" fill="#b0b030"/><circle cx="45.4" cy="78.7" r="0.59" fill="#b0b030"/><circle cx="27.7" cy="67.9" r="0.66" fill="#b0b030"/><circle cx="62.7" cy="72.2" r="0.37" fill="#b0b030"/><circle cx="48.0" cy="89.0" r="0.54" fill="#20a030"/><circle cx="65.2" cy="67.4" r="0.64" fill="#30d030"/><circle cx="46.3" cy="77.4" r="0.60" fill="#30d030"/><circle cx="34.4" cy="70.4" r="0.64" fill="#40b040"/><circle cx="67.2" cy="48.0" r="0.36" fill="#30d030"/><circle cx="40.0" cy="84.9" r="0.52" fill="#30d030"/><circle cx="66.8" cy="71.4" r="0.56" fill="#20a030"/><circle cx="46.2" cy="82.2" r="0.39" fill="#30d030"/><circle cx="58.0" cy="81.4" r="0.43" fill="#70d040"/><circle cx="67.8" cy="45.2" r="0.69" fill="#70d040"/><circle cx="43.8" cy="84.9" r="0.50" fill="#70d040"/><circle cx="74.9" cy="46.5" r="0.46" fill="#70d040"/><circle cx="39.5" cy="69.4" r="0.63" fill="#40b040"/><circle cx="67.2" cy="69.3" r="0.45" fill="#b0b030"/><circle cx="70.9" cy="33.7" r="0.49" fill="#b0b030"/><circle cx="39.4" cy="84.3" r="0.71" fill="#70d040"/><circle cx="73.0" cy="33.9" r="0.73" fill="#40b040"/><circle cx="35.6" cy="72.4" r="0.66" fill="#30d030"/><circle cx="49.8" cy="79.4" r="0.73" fill="#20a030"/><circle cx="26.7" cy="70.2" r="0.74" fill="#70d040"/><circle cx="34.7" cy="81.7" r="0.57" fill="#70d040"/><circle cx="29.9" cy="68.2" r="0.35" fill="#30d030"/><circle cx="65.1" cy="63.2" r="0.54" fill="#b0b030"/><circle cx="69.8" cy="71.9" r="0.44" fill="#20a030"/><circle cx="27.7" cy="68.4" r="0.62" fill="#70d040"/><circle cx="38.0" cy="84.5" r="0.65" fill="#20a030"/><circle cx="55.0" cy="72.7" r="0.61" fill="#40b040"/><circle cx="23.5" cy="62.3" r="0.52" fill="#40b040"/><circle cx="61.1" cy="79.9" r="0.49" fill="#30d030"/><circle cx="47.2" cy="76.8" r="0.62" fill="#70d040"/><circle cx="39.3" cy="85.3" r="0.50" fill="#30d030"/><circle cx="19.9" cy="58.3" r="0.39" fill="#b0b030"/><circle cx="32.3" cy="68.0" r="0.40" fill="#b0b030"/><circle cx="71.9" cy="60.2" r="0.50" fill="#70d040"/><circle cx="69.3" cy="46.8" r="0.70" fill="#b0b030"/><circle cx="46.7" cy="94.1" r="0.60" fill="#20a030"/><circle cx="28.3" cy="71.6" r="0.54" fill="#b0b030"/><circle cx="28.7" cy="69.7" r="0.49" fill="#70d040"/><circle cx="72.1" cy="66.1" r="0.47" fill="#20a030"/><circle cx="62.6" cy="73.5" r="0.73" fill="#20a030"/><circle cx="45.0" cy="84.6" r="0.38" fill="#30d030"/><circle cx="19.9" cy="60.6" r="0.62" fill="#40b040"/><circle cx="51.1" cy="80.2" r="0.44" fill="#40b040"/><circle cx="51.5" cy="83.1" r="0.71" fill="#40b040"/><circle cx="70.8" cy="62.3" r="0.41" fill="#40b040"/><circle cx="41.0" cy="78.6" r="0.38" fill="#40b040"/><circle cx="29.9" cy="71.1" r="0.37" fill="#30d030"/><circle cx="45.9" cy="79.4" r="0.39" fill="#30d030"/><circle cx="70.0" cy="41.6" r="0.72" fill="#40b040"/><circle cx="72.9" cy="52.2" r="0.55" fill="#70d040"/><circle cx="48.0" cy="92.8" r="0.38" fill="#40b040"/><circle cx="70.0" cy="40.3" r="0.64" fill="#30d030"/><circle cx="71.6" cy="59.2" r="0.56" fill="#b0b030"/><circle cx="72.2" cy="53.0" r="0.48" fill="#40b040"/><circle cx="63.3" cy="75.2" r="0.62" fill="#40b040"/><circle cx="42.4" cy="85.4" r="0.42" fill="#20a030"/><circle cx="54.6" cy="77.2" r="0.50" fill="#40b040"/><circle cx="32.5" cy="69.4" r="0.39" fill="#b0b030"/><circle cx="60.3" cy="70.2" r="0.59" fill="#20a030"/><circle cx="47.5" cy="77.0" r="0.51" fill="#70d040"/><circle cx="37.5" cy="84.1" r="0.57" fill="#70d040"/><circle cx="68.7" cy="51.3" r="0.50" fill="#30d030"/><circle cx="35.6" cy="73.1" r="0.67" fill="#70d040"/><circle cx="60.6" cy="70.4" r="0.74" fill="#b0b030"/><circle cx="74.1" cy="48.2" r="0.65" fill="#40b040"/><circle cx="40.8" cy="82.6" r="0.73" fill="#70d040"/><circle cx="72.6" cy="41.3" r="0.54" fill="#40b040"/><circle cx="66.8" cy="68.0" r="0.43" fill="#30d030"/><circle cx="53.8" cy="81.8" r="0.57" fill="#40b040"/><circle cx="51.1" cy="79.8" r="0.36" fill="#20a030"/><circle cx="41.2" cy="85.8" r="0.60" fill="#b0b030"/><circle cx="24.6" cy="67.5" r="0.42" fill="#30d030"/><circle cx="58.3" cy="82.0" r="0.47" fill="#70d040"/><circle cx="67.4" cy="70.4" r="0.65" fill="#30d030"/><circle cx="55.1" cy="76.8" r="0.41" fill="#b0b030"/><circle cx="47.9" cy="84.7" r="0.71" fill="#b0b030"/><circle cx="62.8" cy="70.1" r="0.39" fill="#40b040"/><circle cx="74.1" cy="55.7" r="0.66" fill="#30d030"/><circle cx="48.5" cy="81.2" r="0.46" fill="#b0b030"/><circle cx="45.4" cy="71.8" r="0.35" fill="#b0b030"/><circle cx="42.0" cy="82.8" r="0.49" fill="#b0b030"/><circle cx="71.2" cy="61.7" r="0.61" fill="#20a030"/><circle cx="53.5" cy="85.1" r="0.39" fill="#40b040"/><circle cx="60.6" cy="71.9" r="0.55" fill="#40b040"/><circle cx="70.5" cy="53.5" r="0.68" fill="#20a030"/><circle cx="38.3" cy="77.0" r="0.72" fill="#40b040"/><circle cx="64.4" cy="71.6" r="0.71" fill="#30d030"/><circle cx="70.8" cy="45.7" r="0.49" fill="#40b040"/><circle cx="40.7" cy="70.9" r="0.49" fill="#20a030"/><circle cx="20.1" cy="54.3" r="0.55" fill="#70d040"/><circle cx="47.2" cy="88.3" r="0.56" fill="#b0b030"/><circle cx="46.1" cy="77.1" r="0.52" fill="#40b040"/><circle cx="73.9" cy="52.7" r="0.50" fill="#70d040"/><circle cx="74.4" cy="58.5" r="0.60" fill="#70d040"/><circle cx="30.8" cy="67.9" r="0.66" fill="#40b040"/><circle cx="40.8" cy="76.2" r="0.43" fill="#20a030"/><circle cx="41.9" cy="70.7" r="0.47" fill="#20a030"/><circle cx="56.6" cy="80.2" r="0.74" fill="#30d030"/><circle cx="66.7" cy="40.6" r="0.73" fill="#40b040"/><circle cx="69.1" cy="56.1" r="0.44" fill="#20a030"/><circle cx="35.0" cy="84.8" r="0.62" fill="#40b040"/><circle cx="19.8" cy="64.8" r="0.36" fill="#70d040"/><circle cx="38.2" cy="76.2" r="0.73" fill="#b0b030"/><circle cx="69.7" cy="51.9" r="0.51" fill="#b0b030"/><circle cx="43.6" cy="77.0" r="0.37" fill="#20a030"/><circle cx="37.7" cy="88.4" r="0.57" fill="#70d040"/><circle cx="17.5" cy="56.2" r="0.55" fill="#20a030"/><circle cx="24.0" cy="62.5" r="0.65" fill="#40b040"/><circle cx="28.9" cy="64.5" r="0.36" fill="#30d030"/><circle cx="42.2" cy="78.1" r="0.36" fill="#30d030"/><circle cx="42.7" cy="80.8" r="0.39" fill="#20a030"/><circle cx="65.4" cy="60.2" r="0.68" fill="#40b040"/><circle cx="64.1" cy="67.8" r="0.58" fill="#b0b030"/><circle cx="63.5" cy="77.6" r="0.68" fill="#b0b030"/><circle cx="54.1" cy="74.8" r="0.59" fill="#40b040"/><circle cx="42.0" cy="83.3" r="0.58" fill="#40b040"/><circle cx="72.4" cy="45.5" r="0.60" fill="#20a030"/><circle cx="18.5" cy="61.9" r="0.70" fill="#70d040"/><circle cx="69.1" cy="42.3" r="0.72" fill="#b0b030"/><circle cx="71.2" cy="43.0" r="0.54" fill="#70d040"/><circle cx="35.8" cy="80.5" r="0.54" fill="#20a030"/><circle cx="23.8" cy="63.6" r="0.42" fill="#20a030"/><circle cx="46.6" cy="79.7" r="0.59" fill="#30d030"/><circle cx="76.0" cy="40.8" r="0.44" fill="#40b040"/><circle cx="34.6" cy="67.4" r="0.63" fill="#70d040"/><circle cx="40.9" cy="83.3" r="0.43" fill="#30d030"/><circle cx="67.8" cy="69.2" r="0.38" fill="#70d040"/><circle cx="58.0" cy="76.8" r="0.71" fill="#b0b030"/><circle cx="54.3" cy="76.1" r="0.55" fill="#70d040"/><circle cx="68.3" cy="38.7" r="0.65" fill="#40b040"/><circle cx="39.5" cy="81.1" r="0.44" fill="#30d030"/><circle cx="76.1" cy="39.4" r="0.69" fill="#70d040"/><circle cx="65.1" cy="76.9" r="0.68" fill="#30d030"/><circle cx="24.5" cy="61.4" r="0.55" fill="#b0b030"/><circle cx="67.4" cy="39.1" r="0.62" fill="#20a030"/><circle cx="39.8" cy="82.9" r="0.71" fill="#20a030"/><circle cx="54.4" cy="83.9" r="0.62" fill="#b0b030"/><circle cx="73.0" cy="69.7" r="0.72" fill="#40b040"/><circle cx="32.3" cy="64.3" r="0.59" fill="#40b040"/><circle cx="72.5" cy="67.5" r="0.59" fill="#70d040"/><circle cx="41.9" cy="88.0" r="0.38" fill="#30d030"/><circle cx="71.1" cy="50.9" r="0.54" fill="#20a030"/><circle cx="75.7" cy="53.8" r="0.75" fill="#20a030"/><circle cx="67.7" cy="55.8" r="0.42" fill="#b0b030"/><circle cx="49.1" cy="78.6" r="0.48" fill="#20a030"/><rect x="82.5" y="101.6" width="15" height="2" fill="#fff"/></svg>
<div class="t" style="left:551.60px;top:11.53px;font-size:10.6px;font-weight:bold;color:#f01818;">TNNT2</div>
<div class="t" style="left:551.60px;top:24.83px;font-size:10.6px;font-weight:bold;color:#18e018;">VCAM1</div>
<div class="t" style="left:551.60px;top:38.13px;font-size:10.6px;font-weight:bold;color:#2828ff;">DAPI</div>
<div class="t" style="left:4.30px;top:124.79px;font-size:13.6px;font-weight:bold;color:#000;">C</div>
<div class="a" style="left:45.3px;top:128px;width:254.5px;height:24.7px;box-sizing:border-box;background:#f0f2fb;border:1px solid #c6cadc"></div>
<div class="a" style="left:45.1px;top:257px;width:255.9px;height:23.9px;box-sizing:border-box;background:#f0f2fb;border:1px solid #c6cadc"></div>
<div class="t" style="left:-27.20px;top:136.69px;width:400px;text-align:center;font-size:8.4px;font-weight:bold;color:#222;">Monocyte Differentiation (Monkley et al., 2020)</div>
<div class="t" style="left:-27.00px;top:259.57px;width:400px;text-align:center;font-size:8.3px;font-weight:bold;color:#222;">Human Heart Organoid (hHO) Differentiation (Lewis-</div>
<div class="t" style="left:-27.00px;top:269.27px;width:400px;text-align:center;font-size:8.3px;font-weight:bold;color:#222;">Israeli et al., 2021)</div>
<div class="t" style="left:-106.20px;top:285.02px;width:400px;text-align:center;font-size:8.6px;font-weight:bold;color:#111;">Day 8</div>
<div class="t" style="left:-31.20px;top:285.02px;width:400px;text-align:center;font-size:8.6px;font-weight:bold;color:#111;">Day 12</div>
<div class="t" style="left:37.50px;top:285.02px;width:400px;text-align:center;font-size:8.6px;font-weight:bold;color:#111;">Day 16</div>
<div class="t" style="left:-155.40px;top:181.84px;width:400px;text-align:center;font-size:10px;font-weight:bold;color:#111;">hPSCs</div>
<div class="t" style="left:126.70px;top:159.38px;width:400px;text-align:center;font-size:9px;font-weight:bold;color:#111;">Human Heart-</div>
<div class="t" style="left:126.70px;top:170.08px;width:400px;text-align:center;font-size:9px;font-weight:bold;color:#111;">Macrophage</div>
<div class="t" style="left:126.70px;top:180.78px;width:400px;text-align:center;font-size:9px;font-weight:bold;color:#111;">Assembloids (hHMAs)</div>
<div class="t" style="left:128.60px;top:232.18px;width:400px;text-align:center;font-size:9px;font-weight:bold;color:#111;">Analyses on</div>
<div class="t" style="left:129.10px;top:241.18px;width:400px;text-align:center;font-size:9px;font-weight:bold;color:#111;">Day 20 - Day 64</div>
<svg class="a" style="left:0;top:0" width="653" height="300"><ellipse cx="45.3" cy="208.4" rx="18.8" ry="14.5" fill="#f0f5fb" stroke="#d8e4f0" stroke-width="0.8"/><ellipse cx="45.3" cy="208.5" rx="15.5" ry="11" fill="#f4f8fc" stroke="#e0e9f4" stroke-width="0.6"/><path d="M34.6 210.5 L37 208.5 L38.5 205 L40.5 202.2 L43 203.5 L44.5 205.2 L46.5 204.5 L48 202.5 L51 202.5 L53 205.5 L55 206.5 L57.8 210 L55 211.5 L52 212.5 L49 214 L47 216.5 L43 216.8 L40 215.5 L37.5 213 Z" fill="#a8caee"/><circle cx="44.5" cy="207.5" r="0.5" fill="#e8f0fa"/><circle cx="48.5" cy="208" r="0.5" fill="#e8f0fa"/><circle cx="46.5" cy="210.5" r="0.5" fill="#e8f0fa"/><circle cx="96.9" cy="184.1" r="1.3" fill="#8070b8"/><circle cx="106.0" cy="166.7" r="1.3" fill="#8f7fc4"/><circle cx="83.4" cy="162.9" r="1.3" fill="#a596d2"/><circle cx="95.5" cy="180.0" r="1.3" fill="#a596d2"/><circle cx="84.0" cy="169.3" r="1.3" fill="#a596d2"/><circle cx="91.8" cy="167.5" r="1.3" fill="#9a8bcb"/><circle cx="104.2" cy="163.8" r="1.3" fill="#8f7fc4"/><circle cx="94.0" cy="168.7" r="1.3" fill="#8f7fc4"/><circle cx="95.1" cy="175.0" r="1.3" fill="#8070b8"/><circle cx="82.0" cy="174.6" r="1.3" fill="#a596d2"/><circle cx="92.4" cy="157.3" r="1.3" fill="#a596d2"/><circle cx="94.3" cy="160.3" r="1.3" fill="#9a8bcb"/><circle cx="99.8" cy="168.9" r="1.3" fill="#9a8bcb"/><circle cx="87.5" cy="172.6" r="1.3" fill="#a596d2"/><circle cx="98.8" cy="157.7" r="1.3" fill="#a596d2"/><circle cx="85.6" cy="171.8" r="1.3" fill="#8070b8"/><circle cx="85.5" cy="170.1" r="1.3" fill="#9a8bcb"/><circle cx="107.4" cy="164.8" r="1.3" fill="#8f7fc4"/><circle cx="106.4" cy="159.8" r="1.3" fill="#9a8bcb"/><circle cx="93.0" cy="163.6" r="1.3" fill="#8f7fc4"/><circle cx="94.3" cy="165.1" r="1.3" fill="#8070b8"/><circle cx="95.1" cy="176.2" r="1.3" fill="#a596d2"/><circle cx="108.8" cy="179.9" r="1.3" fill="#a596d2"/><circle cx="97.9" cy="170.9" r="1.3" fill="#a596d2"/><circle cx="97.8" cy="157.5" r="1.3" fill="#8f7fc4"/><circle cx="84.4" cy="163.7" r="1.3" fill="#a596d2"/><circle cx="94.1" cy="163.3" r="1.3" fill="#8070b8"/><circle cx="79.2" cy="171.8" r="1.3" fill="#8070b8"/><circle cx="101.5" cy="172.5" r="1.3" fill="#8f7fc4"/><circle cx="111.7" cy="167.3" r="1.3" fill="#8070b8"/><circle cx="90.9" cy="168.3" r="1.3" fill="#8f7fc4"/><circle cx="105.7" cy="171.1" r="1.3" fill="#8070b8"/><circle cx="111.4" cy="168.4" r="1.3" fill="#a596d2"/><circle cx="84.8" cy="182.7" r="1.3" fill="#a596d2"/><circle cx="88.0" cy="162.6" r="1.3" fill="#8f7fc4"/><circle cx="84.1" cy="161.7" r="1.3" fill="#8070b8"/><circle cx="83.1" cy="178.0" r="1.3" fill="#9a8bcb"/><circle cx="106.2" cy="168.2" r="1.3" fill="#8070b8"/><circle cx="83.7" cy="170.7" r="1.3" fill="#8f7fc4"/><circle cx="100.0" cy="156.9" r="1.3" fill="#8070b8"/><circle cx="109.1" cy="173.9" r="1.3" fill="#9a8bcb"/><circle cx="108.4" cy="177.0" r="1.3" fill="#a596d2"/><circle cx="86.3" cy="184.5" r="1.3" fill="#8070b8"/><circle cx="95.8" cy="169.9" r="1.3" fill="#8f7fc4"/><circle cx="98.4" cy="171.6" r="1.3" fill="#8070b8"/><circle cx="95.9" cy="183.1" r="1.3" fill="#8070b8"/><circle cx="99.2" cy="178.5" r="1.3" fill="#8070b8"/><circle cx="100.8" cy="165.5" r="1.3" fill="#a596d2"/><circle cx="108.0" cy="181.1" r="1.3" fill="#9a8bcb"/><circle cx="93.1" cy="179.3" r="1.3" fill="#8070b8"/><circle cx="96.5" cy="179.2" r="1.3" fill="#a596d2"/><circle cx="92.9" cy="168.3" r="1.3" fill="#8070b8"/><circle cx="109.1" cy="168.2" r="1.3" fill="#9a8bcb"/><circle cx="81.6" cy="177.9" r="1.3" fill="#9a8bcb"/><circle cx="108.7" cy="178.9" r="1.3" fill="#9a8bcb"/><circle cx="104.5" cy="165.2" r="1.3" fill="#9a8bcb"/><circle cx="96.7" cy="169.4" r="1.3" fill="#9a8bcb"/><circle cx="89.9" cy="185.7" r="1.3" fill="#9a8bcb"/><circle cx="102.4" cy="165.3" r="1.3" fill="#8f7fc4"/><circle cx="99.4" cy="163.5" r="1.3" fill="#9a8bcb"/><circle cx="85.4" cy="177.8" r="1.3" fill="#8070b8"/><circle cx="82.9" cy="175.1" r="1.3" fill="#8070b8"/><circle cx="86.6" cy="177.2" r="1.3" fill="#a596d2"/><circle cx="96.6" cy="173.2" r="1.3" fill="#a596d2"/><circle cx="80.4" cy="166.6" r="1.3" fill="#9a8bcb"/><circle cx="107.1" cy="174.5" r="1.3" fill="#8070b8"/><circle cx="80.8" cy="168.2" r="1.3" fill="#8f7fc4"/><circle cx="106.4" cy="160.0" r="1.3" fill="#8f7fc4"/><circle cx="97.3" cy="169.1" r="1.3" fill="#9a8bcb"/><circle cx="108.7" cy="163.1" r="1.3" fill="#8f7fc4"/><circle cx="110.5" cy="173.4" r="1.3" fill="#9a8bcb"/><circle cx="87.8" cy="172.1" r="1.3" fill="#8f7fc4"/><circle cx="85.3" cy="170.7" r="1.3" fill="#8f7fc4"/><circle cx="91.4" cy="179.1" r="1.3" fill="#a596d2"/><circle cx="97.6" cy="168.6" r="1.3" fill="#9a8bcb"/><circle cx="100.0" cy="183.4" r="1.3" fill="#8f7fc4"/><circle cx="103.1" cy="184.8" r="1.3" fill="#9a8bcb"/><circle cx="96.6" cy="171.1" r="1.3" fill="#a596d2"/><circle cx="104.3" cy="174.9" r="1.3" fill="#8070b8"/><circle cx="87.1" cy="164.5" r="1.3" fill="#8f7fc4"/><circle cx="81.4" cy="174.7" r="1.3" fill="#8f7fc4"/><circle cx="105.2" cy="161.3" r="1.3" fill="#8f7fc4"/><circle cx="99.1" cy="175.3" r="1.3" fill="#8f7fc4"/><circle cx="99.0" cy="168.6" r="1.3" fill="#a596d2"/><circle cx="92.2" cy="180.5" r="1.3" fill="#8070b8"/><circle cx="88.1" cy="178.9" r="1.3" fill="#8070b8"/><circle cx="91.3" cy="177.7" r="1.3" fill="#8070b8"/><circle cx="90.6" cy="174.8" r="1.3" fill="#8f7fc4"/><circle cx="93.8" cy="162.7" r="1.3" fill="#8f7fc4"/><circle cx="92.8" cy="170.9" r="1.3" fill="#a596d2"/><circle cx="84.2" cy="163.7" r="1.3" fill="#a596d2"/><circle cx="93.7" cy="169.8" r="1.3" fill="#a596d2"/><circle cx="108.6" cy="176.4" r="1.3" fill="#8070b8"/><circle cx="83.7" cy="178.7" r="1.3" fill="#a596d2"/><circle cx="103.8" cy="173.1" r="1.3" fill="#8070b8"/><circle cx="94.5" cy="168.3" r="1.3" fill="#a596d2"/><circle cx="97.0" cy="178.0" r="1.3" fill="#8f7fc4"/><circle cx="105.5" cy="168.5" r="1.3" fill="#8070b8"/><circle cx="106.1" cy="181.5" r="1.3" fill="#a596d2"/><circle cx="88.9" cy="160.4" r="1.3" fill="#8f7fc4"/><circle cx="101.4" cy="159.8" r="1.3" fill="#a596d2"/><circle cx="105.2" cy="183.3" r="1.3" fill="#8f7fc4"/><circle cx="83.6" cy="170.3" r="1.3" fill="#a596d2"/><circle cx="97.1" cy="174.5" r="1.3" fill="#8f7fc4"/><circle cx="101.6" cy="173.2" r="1.3" fill="#a596d2"/><circle cx="104.5" cy="158.9" r="1.3" fill="#8070b8"/><circle cx="97.0" cy="169.4" r="1.3" fill="#9a8bcb"/><circle cx="107.4" cy="180.9" r="1.3" fill="#8f7fc4"/><circle cx="81.1" cy="167.7" r="1.3" fill="#9a8bcb"/><circle cx="99.9" cy="165.4" r="1.3" fill="#9a8bcb"/><circle cx="89.1" cy="163.7" r="1.3" fill="#a596d2"/><circle cx="95.8" cy="184.7" r="1.3" fill="#8070b8"/><circle cx="80.5" cy="166.8" r="1.3" fill="#a596d2"/><circle cx="79.4" cy="172.3" r="1.3" fill="#a596d2"/><circle cx="105.2" cy="159.2" r="1.3" fill="#a596d2"/><circle cx="90.7" cy="159.3" r="1.3" fill="#a596d2"/><circle cx="101.9" cy="180.7" r="1.3" fill="#9a8bcb"/><circle cx="102.2" cy="181.9" r="1.3" fill="#a596d2"/><circle cx="106.5" cy="166.5" r="1.3" fill="#a596d2"/><circle cx="82.7" cy="164.6" r="1.3" fill="#9a8bcb"/><circle cx="95.2" cy="179.4" r="1.3" fill="#8070b8"/><circle cx="110.2" cy="166.4" r="1.3" fill="#8070b8"/><circle cx="88.6" cy="159.3" r="1.3" fill="#8070b8"/><circle cx="103.2" cy="166.6" r="1.3" fill="#8070b8"/><circle cx="85.7" cy="173.6" r="1.3" fill="#9a8bcb"/><circle cx="88.6" cy="169.0" r="1.3" fill="#a596d2"/><circle cx="97.0" cy="166.3" r="1.3" fill="#a596d2"/><circle cx="93.7" cy="165.4" r="1.3" fill="#8f7fc4"/><circle cx="81.8" cy="173.9" r="1.3" fill="#a596d2"/><circle cx="99.3" cy="157.6" r="1.3" fill="#8f7fc4"/><circle cx="88.1" cy="173.9" r="1.3" fill="#9a8bcb"/><circle cx="87.2" cy="161.0" r="1.3" fill="#8f7fc4"/><circle cx="111.0" cy="168.5" r="1.3" fill="#9a8bcb"/><circle cx="107.4" cy="163.3" r="1.3" fill="#9a8bcb"/><circle cx="101.4" cy="184.7" r="1.3" fill="#8f7fc4"/><circle cx="102.9" cy="167.5" r="1.3" fill="#8f7fc4"/><circle cx="91.8" cy="181.9" r="1.3" fill="#8f7fc4"/><circle cx="102.4" cy="177.9" r="1.3" fill="#8070b8"/><circle cx="107.0" cy="174.7" r="1.3" fill="#8070b8"/><circle cx="105.7" cy="172.7" r="1.3" fill="#a596d2"/><circle cx="92.6" cy="175.4" r="1.3" fill="#a596d2"/><circle cx="86.4" cy="179.8" r="1.3" fill="#8f7fc4"/><circle cx="99.4" cy="169.3" r="1.3" fill="#a596d2"/><circle cx="108.0" cy="182.1" r="1.3" fill="#8070b8"/><circle cx="109.4" cy="181.2" r="1.3" fill="#8070b8"/><circle cx="91.6" cy="163.6" r="1.3" fill="#a596d2"/><circle cx="92.1" cy="184.9" r="1.3" fill="#8070b8"/><circle cx="108.8" cy="182.0" r="1.3" fill="#8070b8"/><circle cx="90.3" cy="161.9" r="1.3" fill="#8f7fc4"/><circle cx="90.0" cy="162.4" r="1.3" fill="#8f7fc4"/><circle cx="93.2" cy="159.4" r="1.3" fill="#9a8bcb"/><circle cx="87.3" cy="161.5" r="1.3" fill="#9a8bcb"/><circle cx="102.8" cy="185.9" r="1.3" fill="#a596d2"/><circle cx="107.6" cy="183.1" r="1.3" fill="#9a8bcb"/><circle cx="107.9" cy="166.2" r="1.3" fill="#a596d2"/><circle cx="83.3" cy="167.9" r="1.3" fill="#a596d2"/><circle cx="81.2" cy="173.9" r="1.3" fill="#8f7fc4"/><circle cx="101.6" cy="176.6" r="1.3" fill="#a596d2"/><circle cx="90.5" cy="178.7" r="1.3" fill="#a596d2"/><circle cx="101.9" cy="174.2" r="1.3" fill="#a596d2"/><circle cx="87.7" cy="172.1" r="1.3" fill="#8070b8"/><circle cx="107.6" cy="161.3" r="1.3" fill="#a596d2"/><circle cx="81.7" cy="168.7" r="1.3" fill="#8070b8"/><circle cx="79.2" cy="172.5" r="1.3" fill="#9a8bcb"/><circle cx="95.3" cy="177.3" r="1.3" fill="#8f7fc4"/><circle cx="81.3" cy="166.3" r="1.3" fill="#8f7fc4"/><circle cx="98.9" cy="178.7" r="1.3" fill="#a596d2"/><circle cx="90.9" cy="163.5" r="1.3" fill="#9a8bcb"/><circle cx="90.6" cy="169.0" r="1.3" fill="#a596d2"/><circle cx="99.7" cy="161.0" r="1.3" fill="#9a8bcb"/><circle cx="89.1" cy="169.3" r="1.3" fill="#8070b8"/><circle cx="89.8" cy="178.6" r="1.3" fill="#a596d2"/><circle cx="108.7" cy="162.5" r="1.3" fill="#a596d2"/><circle cx="89.6" cy="186.2" r="1.3" fill="#8070b8"/><circle cx="84.9" cy="160.5" r="1.3" fill="#8070b8"/><circle cx="83.0" cy="170.3" r="1.6" fill="#b8d0e8"/><circle cx="179.3" cy="164.3" r="1.3" fill="#8f7fc4"/><circle cx="156.9" cy="164.2" r="1.3" fill="#8f7fc4"/><circle cx="179.8" cy="181.0" r="1.3" fill="#9a8bcb"/><circle cx="156.3" cy="172.9" r="1.3" fill="#a596d2"/><circle cx="173.1" cy="185.7" r="1.3" fill="#9a8bcb"/><circle cx="180.0" cy="174.9" r="1.3" fill="#a596d2"/><circle cx="175.2" cy="177.8" r="1.3" fill="#9a8bcb"/><circle cx="178.2" cy="183.0" r="1.3" fill="#8f7fc4"/><circle cx="181.4" cy="174.3" r="1.3" fill="#8f7fc4"/><circle cx="166.1" cy="172.3" r="1.3" fill="#8070b8"/><circle cx="161.4" cy="185.7" r="1.3" fill="#9a8bcb"/><circle cx="181.9" cy="179.4" r="1.3" fill="#8f7fc4"/><circle cx="165.3" cy="158.9" r="1.3" fill="#8070b8"/><circle cx="176.0" cy="172.2" r="1.3" fill="#8f7fc4"/><circle cx="175.6" cy="164.2" r="1.3" fill="#9a8bcb"/><circle cx="162.9" cy="172.8" r="1.3" fill="#8f7fc4"/><circle cx="155.4" cy="180.3" r="1.3" fill="#9a8bcb"/><circle cx="159.4" cy="179.2" r="1.3" fill="#8f7fc4"/><circle cx="157.8" cy="169.9" r="1.3" fill="#a596d2"/><circle cx="164.5" cy="182.6" r="1.3" fill="#a596d2"/><circle cx="157.9" cy="176.4" r="1.3" fill="#8f7fc4"/><circle cx="166.5" cy="162.8" r="1.3" fill="#8070b8"/><circle cx="158.8" cy="175.4" r="1.3" fill="#a596d2"/><circle cx="168.5" cy="173.1" r="1.3" fill="#9a8bcb"/><circle cx="167.8" cy="182.0" r="1.3" fill="#a596d2"/><circle cx="161.8" cy="171.0" r="1.3" fill="#8f7fc4"/><circle cx="173.5" cy="181.2" r="1.3" fill="#9a8bcb"/><circle cx="164.3" cy="167.8" r="1.3" fill="#9a8bcb"/><circle cx="161.6" cy="174.7" r="1.3" fill="#8f7fc4"/><circle cx="160.6" cy="177.5" r="1.3" fill="#8f7fc4"/><circle cx="167.3" cy="168.8" r="1.3" fill="#a596d2"/><circle cx="179.8" cy="175.0" r="1.3" fill="#9a8bcb"/><circle cx="169.0" cy="182.3" r="1.3" fill="#9a8bcb"/><circle cx="175.2" cy="183.2" r="1.3" fill="#8070b8"/><circle cx="179.5" cy="165.9" r="1.3" fill="#8070b8"/><circle cx="166.1" cy="186.3" r="1.3" fill="#a596d2"/><circle cx="172.4" cy="157.1" r="1.3" fill="#a596d2"/><circle cx="168.4" cy="180.5" r="1.3" fill="#8070b8"/><circle cx="161.6" cy="165.5" r="1.3" fill="#8f7fc4"/><circle cx="178.8" cy="176.0" r="1.3" fill="#8f7fc4"/><circle cx="167.6" cy="171.8" r="1.3" fill="#8f7fc4"/><circle cx="167.4" cy="170.3" r="1.3" fill="#8f7fc4"/><circle cx="161.1" cy="173.1" r="1.3" fill="#8070b8"/><circle cx="173.5" cy="187.3" r="1.3" fill="#a596d2"/><circle cx="162.2" cy="181.6" r="1.3" fill="#8070b8"/><circle cx="171.3" cy="171.2" r="1.3" fill="#8070b8"/><circle cx="168.5" cy="159.6" r="1.3" fill="#a596d2"/><circle cx="176.2" cy="176.8" r="1.3" fill="#a596d2"/><circle cx="176.3" cy="178.9" r="1.3" fill="#8070b8"/><circle cx="154.0" cy="169.1" r="1.3" fill="#a596d2"/><circle cx="175.0" cy="184.5" r="1.3" fill="#a596d2"/><circle cx="174.8" cy="162.1" r="1.3" fill="#9a8bcb"/><circle cx="161.4" cy="180.1" r="1.3" fill="#9a8bcb"/><circle cx="155.2" cy="176.9" r="1.3" fill="#8070b8"/><circle cx="167.6" cy="178.8" r="1.3" fill="#a596d2"/><circle cx="171.7" cy="171.3" r="1.3" fill="#9a8bcb"/><circle cx="167.8" cy="169.9" r="1.3" fill="#a596d2"/><circle cx="180.1" cy="179.6" r="1.3" fill="#8f7fc4"/><circle cx="162.8" cy="183.5" r="1.3" fill="#8f7fc4"/><circle cx="179.7" cy="162.0" r="1.3" fill="#a596d2"/><circle cx="153.1" cy="175.4" r="1.3" fill="#8070b8"/><circle cx="169.1" cy="172.3" r="1.3" fill="#9a8bcb"/><circle cx="155.2" cy="181.5" r="1.3" fill="#8f7fc4"/><circle cx="163.5" cy="179.9" r="1.3" fill="#a596d2"/><circle cx="180.2" cy="178.6" r="1.3" fill="#9a8bcb"/><circle cx="162.1" cy="157.7" r="1.3" fill="#9a8bcb"/><circle cx="166.8" cy="171.4" r="1.3" fill="#9a8bcb"/><circle cx="166.6" cy="179.4" r="1.3" fill="#a596d2"/><circle cx="152.4" cy="171.8" r="1.3" fill="#8070b8"/><circle cx="171.4" cy="160.9" r="1.3" fill="#9a8bcb"/><circle cx="155.4" cy="174.9" r="1.3" fill="#8f7fc4"/><circle cx="171.0" cy="167.5" r="1.3" fill="#8f7fc4"/><circle cx="171.8" cy="168.4" r="1.3" fill="#8070b8"/><circle cx="178.2" cy="177.9" r="1.3" fill="#9a8bcb"/><circle cx="174.7" cy="160.6" r="1.3" fill="#8f7fc4"/><circle cx="159.2" cy="161.4" r="1.3" fill="#8070b8"/><circle cx="157.2" cy="179.8" r="1.3" fill="#8f7fc4"/><circle cx="164.2" cy="187.3" r="1.3" fill="#a596d2"/><circle cx="171.4" cy="165.6" r="1.3" fill="#8f7fc4"/><circle cx="154.4" cy="175.3" r="1.3" fill="#8f7fc4"/><circle cx="164.4" cy="178.2" r="1.3" fill="#8f7fc4"/><circle cx="180.8" cy="166.2" r="1.3" fill="#8070b8"/><circle cx="156.4" cy="178.3" r="1.3" fill="#9a8bcb"/><circle cx="168.4" cy="186.9" r="1.3" fill="#8f7fc4"/><circle cx="162.8" cy="181.3" r="1.3" fill="#8f7fc4"/><circle cx="168.3" cy="181.4" r="1.3" fill="#9a8bcb"/><circle cx="166.1" cy="157.5" r="1.3" fill="#a596d2"/><circle cx="179.6" cy="167.4" r="1.3" fill="#a596d2"/><circle cx="163.4" cy="177.5" r="1.3" fill="#a596d2"/><circle cx="153.7" cy="173.7" r="1.3" fill="#a596d2"/><circle cx="155.8" cy="174.6" r="1.3" fill="#8f7fc4"/><circle cx="164.2" cy="187.2" r="1.3" fill="#9a8bcb"/><circle cx="170.6" cy="170.6" r="1.3" fill="#9a8bcb"/><circle cx="165.1" cy="183.4" r="1.3" fill="#a596d2"/><circle cx="182.4" cy="175.8" r="1.3" fill="#8070b8"/><circle cx="165.1" cy="172.5" r="1.3" fill="#a596d2"/><circle cx="167.7" cy="158.5" r="1.3" fill="#8070b8"/><circle cx="175.4" cy="180.6" r="1.3" fill="#a596d2"/><circle cx="161.3" cy="174.8" r="1.3" fill="#a596d2"/><circle cx="169.5" cy="159.0" r="1.3" fill="#a596d2"/><circle cx="184.0" cy="170.4" r="1.3" fill="#8070b8"/><circle cx="178.7" cy="168.6" r="1.3" fill="#a596d2"/><circle cx="151.8" cy="174.9" r="1.3" fill="#9a8bcb"/><circle cx="158.5" cy="183.7" r="1.3" fill="#8070b8"/><circle cx="178.5" cy="174.1" r="1.3" fill="#8070b8"/><circle cx="171.6" cy="164.1" r="1.3" fill="#9a8bcb"/><circle cx="179.4" cy="167.4" r="1.3" fill="#8f7fc4"/><circle cx="176.7" cy="180.9" r="1.3" fill="#8f7fc4"/><circle cx="170.3" cy="175.4" r="1.3" fill="#9a8bcb"/><circle cx="183.3" cy="170.8" r="1.3" fill="#8070b8"/><circle cx="183.2" cy="170.5" r="1.3" fill="#8f7fc4"/><circle cx="160.2" cy="172.8" r="1.3" fill="#8070b8"/><circle cx="159.5" cy="176.1" r="1.3" fill="#8f7fc4"/><circle cx="156.4" cy="163.6" r="1.3" fill="#a596d2"/><circle cx="165.2" cy="179.7" r="1.3" fill="#a596d2"/><circle cx="160.9" cy="176.3" r="1.3" fill="#8f7fc4"/><circle cx="171.6" cy="172.9" r="1.3" fill="#9a8bcb"/><circle cx="181.3" cy="164.8" r="1.3" fill="#9a8bcb"/><circle cx="182.3" cy="168.3" r="1.3" fill="#a596d2"/><circle cx="153.1" cy="171.5" r="1.3" fill="#9a8bcb"/><circle cx="167.1" cy="178.8" r="1.3" fill="#8f7fc4"/><circle cx="164.3" cy="172.6" r="1.3" fill="#a596d2"/><circle cx="155.0" cy="174.9" r="1.3" fill="#a596d2"/><circle cx="159.2" cy="181.5" r="1.3" fill="#8070b8"/><circle cx="174.1" cy="184.4" r="1.3" fill="#8f7fc4"/><circle cx="160.0" cy="177.5" r="1.3" fill="#a596d2"/><circle cx="166.9" cy="180.3" r="1.3" fill="#8070b8"/><circle cx="174.8" cy="170.7" r="1.3" fill="#8070b8"/><circle cx="170.5" cy="174.7" r="1.3" fill="#a596d2"/><circle cx="177.5" cy="160.6" r="1.3" fill="#8070b8"/><circle cx="180.9" cy="174.6" r="1.3" fill="#8f7fc4"/><circle cx="159.5" cy="173.0" r="1.3" fill="#8070b8"/><circle cx="179.4" cy="180.2" r="1.3" fill="#8070b8"/><circle cx="179.9" cy="174.6" r="1.3" fill="#a596d2"/><circle cx="173.9" cy="186.7" r="1.3" fill="#9a8bcb"/><circle cx="159.1" cy="159.5" r="1.3" fill="#a596d2"/><circle cx="164.9" cy="179.9" r="1.3" fill="#8f7fc4"/><circle cx="177.3" cy="169.2" r="1.3" fill="#a596d2"/><circle cx="165.4" cy="171.3" r="1.3" fill="#a596d2"/><circle cx="168.4" cy="188.1" r="1.3" fill="#8f7fc4"/><circle cx="152.0" cy="172.8" r="1.3" fill="#8f7fc4"/><circle cx="166.6" cy="167.2" r="1.3" fill="#8f7fc4"/><circle cx="158.1" cy="161.7" r="1.3" fill="#8f7fc4"/><circle cx="183.9" cy="166.7" r="1.3" fill="#8f7fc4"/><circle cx="153.3" cy="178.9" r="1.3" fill="#a596d2"/><circle cx="167.0" cy="184.0" r="1.3" fill="#8f7fc4"/><circle cx="173.7" cy="182.2" r="1.3" fill="#9a8bcb"/><circle cx="178.3" cy="184.3" r="1.3" fill="#9a8bcb"/><circle cx="164.2" cy="162.1" r="1.3" fill="#a596d2"/><circle cx="164.6" cy="167.5" r="1.3" fill="#8f7fc4"/><circle cx="174.0" cy="183.8" r="1.3" fill="#8070b8"/><circle cx="174.0" cy="185.8" r="1.3" fill="#9a8bcb"/><circle cx="184.1" cy="177.0" r="1.3" fill="#9a8bcb"/><circle cx="164.3" cy="175.8" r="1.3" fill="#a596d2"/><circle cx="169.5" cy="174.7" r="1.3" fill="#8f7fc4"/><circle cx="172.7" cy="176.8" r="1.3" fill="#9a8bcb"/><circle cx="156.3" cy="182.6" r="1.3" fill="#8f7fc4"/><circle cx="169.7" cy="171.7" r="1.3" fill="#8070b8"/><circle cx="185.0" cy="172.0" r="1.3" fill="#9a8bcb"/><circle cx="179.8" cy="176.9" r="1.3" fill="#a596d2"/><circle cx="180.7" cy="181.2" r="1.3" fill="#a596d2"/><circle cx="178.2" cy="173.6" r="1.3" fill="#a596d2"/><circle cx="158.0" cy="167.7" r="1.3" fill="#8070b8"/><circle cx="156.9" cy="176.4" r="1.3" fill="#a596d2"/><circle cx="172.4" cy="184.0" r="1.3" fill="#9a8bcb"/><circle cx="163.5" cy="186.4" r="1.3" fill="#9a8bcb"/><circle cx="162.1" cy="185.7" r="1.3" fill="#9a8bcb"/><circle cx="184.1" cy="177.5" r="1.3" fill="#a596d2"/><circle cx="163.1" cy="167.9" r="1.3" fill="#8f7fc4"/><circle cx="171.6" cy="177.0" r="1.3" fill="#a596d2"/><circle cx="182.3" cy="171.6" r="1.3" fill="#8070b8"/><circle cx="178.7" cy="178.8" r="1.3" fill="#a596d2"/><circle cx="162.5" cy="183.2" r="1.3" fill="#9a8bcb"/><circle cx="163.1" cy="182.5" r="1.3" fill="#8070b8"/><circle cx="160.0" cy="163.0" r="1.3" fill="#8070b8"/><circle cx="155.4" cy="170.3" r="1.6" fill="#b8d0e8"/><circle cx="249.7" cy="161.2" r="1.3" fill="#8070b8"/><circle cx="248.9" cy="171.0" r="1.3" fill="#9a8bcb"/><circle cx="248.3" cy="180.2" r="1.3" fill="#8070b8"/><circle cx="238.7" cy="164.4" r="1.3" fill="#a596d2"/><circle cx="250.9" cy="170.1" r="1.3" fill="#a596d2"/><circle cx="232.2" cy="184.6" r="1.3" fill="#9a8bcb"/><circle cx="252.0" cy="171.3" r="1.3" fill="#a596d2"/><circle cx="243.6" cy="172.2" r="1.3" fill="#a596d2"/><circle cx="226.0" cy="178.9" r="1.3" fill="#8070b8"/><circle cx="254.3" cy="177.7" r="1.3" fill="#a596d2"/><circle cx="240.9" cy="176.5" r="1.3" fill="#9a8bcb"/><circle cx="250.9" cy="176.1" r="1.3" fill="#8f7fc4"/><circle cx="225.6" cy="178.6" r="1.3" fill="#8070b8"/><circle cx="250.0" cy="173.0" r="1.3" fill="#8070b8"/><circle cx="231.5" cy="178.1" r="1.3" fill="#8f7fc4"/><circle cx="234.3" cy="169.2" r="1.3" fill="#9a8bcb"/><circle cx="244.1" cy="172.3" r="1.3" fill="#8f7fc4"/><circle cx="242.9" cy="175.8" r="1.3" fill="#8070b8"/><circle cx="233.0" cy="175.1" r="1.3" fill="#8f7fc4"/><circle cx="224.2" cy="168.6" r="1.3" fill="#a596d2"/><circle cx="238.6" cy="157.8" r="1.3" fill="#9a8bcb"/><circle cx="226.9" cy="177.1" r="1.3" fill="#8f7fc4"/><circle cx="223.6" cy="171.4" r="1.3" fill="#9a8bcb"/><circle cx="224.1" cy="174.6" r="1.3" fill="#8070b8"/><circle cx="234.4" cy="170.5" r="1.3" fill="#9a8bcb"/><circle cx="235.8" cy="169.6" r="1.3" fill="#8f7fc4"/><circle cx="242.8" cy="162.8" r="1.3" fill="#a596d2"/><circle cx="243.4" cy="166.3" r="1.3" fill="#8070b8"/><circle cx="244.6" cy="177.9" r="1.3" fill="#a596d2"/><circle cx="225.8" cy="164.3" r="1.3" fill="#8070b8"/><circle cx="235.0" cy="174.2" r="1.3" fill="#8f7fc4"/><circle cx="254.3" cy="178.2" r="1.3" fill="#8070b8"/><circle cx="241.3" cy="172.9" r="1.3" fill="#a596d2"/><circle cx="251.2" cy="165.7" r="1.3" fill="#8f7fc4"/><circle cx="244.3" cy="164.1" r="1.3" fill="#a596d2"/><circle cx="245.7" cy="167.1" r="1.3" fill="#8070b8"/><circle cx="242.9" cy="181.9" r="1.3" fill="#8f7fc4"/><circle cx="251.3" cy="176.0" r="1.3" fill="#9a8bcb"/><circle cx="235.4" cy="170.2" r="1.3" fill="#9a8bcb"/><circle cx="246.4" cy="159.2" r="1.3" fill="#a596d2"/><circle cx="236.2" cy="187.8" r="1.3" fill="#9a8bcb"/><circle cx="242.5" cy="180.7" r="1.3" fill="#9a8bcb"/><circle cx="231.0" cy="167.5" r="1.3" fill="#8070b8"/><circle cx="233.6" cy="185.9" r="1.3" fill="#9a8bcb"/><circle cx="226.3" cy="176.7" r="1.3" fill="#8070b8"/><circle cx="231.7" cy="164.1" r="1.3" fill="#9a8bcb"/><circle cx="242.0" cy="177.0" r="1.3" fill="#a596d2"/><circle cx="251.5" cy="182.7" r="1.3" fill="#a596d2"/><circle cx="245.0" cy="164.8" r="1.3" fill="#8f7fc4"/><circle cx="235.9" cy="179.3" r="1.3" fill="#8f7fc4"/><circle cx="240.6" cy="182.0" r="1.3" fill="#9a8bcb"/><circle cx="243.5" cy="179.5" r="1.3" fill="#8070b8"/><circle cx="255.4" cy="177.4" r="1.3" fill="#8f7fc4"/><circle cx="242.2" cy="180.8" r="1.3" fill="#9a8bcb"/><circle cx="232.2" cy="169.2" r="1.3" fill="#9a8bcb"/><circle cx="242.8" cy="185.1" r="1.3" fill="#9a8bcb"/><circle cx="246.3" cy="184.7" r="1.3" fill="#a596d2"/><circle cx="230.9" cy="166.3" r="1.3" fill="#9a8bcb"/><circle cx="232.1" cy="164.6" r="1.3" fill="#8f7fc4"/><circle cx="250.6" cy="177.9" r="1.3" fill="#a596d2"/><circle cx="227.0" cy="173.1" r="1.3" fill="#8070b8"/><circle cx="229.0" cy="171.0" r="1.3" fill="#a596d2"/><circle cx="242.5" cy="186.5" r="1.3" fill="#a596d2"/><circle cx="230.3" cy="185.4" r="1.3" fill="#a596d2"/><circle cx="240.1" cy="166.9" r="1.3" fill="#a596d2"/><circle cx="232.2" cy="183.9" r="1.3" fill="#8070b8"/><circle cx="249.3" cy="179.6" r="1.3" fill="#8070b8"/><circle cx="227.6" cy="173.9" r="1.3" fill="#a596d2"/><circle cx="237.4" cy="174.6" r="1.3" fill="#8070b8"/><circle cx="243.2" cy="165.9" r="1.3" fill="#8f7fc4"/><circle cx="234.9" cy="157.2" r="1.3" fill="#8070b8"/><circle cx="227.9" cy="165.7" r="1.3" fill="#8070b8"/><circle cx="223.7" cy="168.2" r="1.3" fill="#8070b8"/><circle cx="249.5" cy="167.5" r="1.3" fill="#8070b8"/><circle cx="230.8" cy="176.8" r="1.3" fill="#9a8bcb"/><circle cx="239.8" cy="185.7" r="1.3" fill="#a596d2"/><circle cx="237.6" cy="163.4" r="1.3" fill="#9a8bcb"/><circle cx="233.7" cy="184.6" r="1.3" fill="#9a8bcb"/><circle cx="228.7" cy="169.5" r="1.3" fill="#a596d2"/><circle cx="230.2" cy="169.1" r="1.3" fill="#8f7fc4"/><circle cx="228.8" cy="164.0" r="1.3" fill="#9a8bcb"/><circle cx="232.9" cy="172.1" r="1.3" fill="#8f7fc4"/><circle cx="234.4" cy="170.5" r="1.3" fill="#a596d2"/><circle cx="248.0" cy="163.9" r="1.3" fill="#a596d2"/><circle cx="238.0" cy="183.3" r="1.3" fill="#8070b8"/><circle cx="240.9" cy="180.4" r="1.3" fill="#9a8bcb"/><circle cx="250.8" cy="168.8" r="1.3" fill="#a596d2"/><circle cx="245.9" cy="180.1" r="1.3" fill="#9a8bcb"/><circle cx="238.4" cy="186.4" r="1.3" fill="#9a8bcb"/><circle cx="235.6" cy="165.4" r="1.3" fill="#8070b8"/><circle cx="243.4" cy="159.0" r="1.3" fill="#8f7fc4"/><circle cx="251.3" cy="180.1" r="1.3" fill="#8f7fc4"/><circle cx="241.6" cy="183.0" r="1.3" fill="#8f7fc4"/><circle cx="233.0" cy="184.7" r="1.3" fill="#9a8bcb"/><circle cx="251.2" cy="175.3" r="1.3" fill="#9a8bcb"/><circle cx="228.9" cy="183.0" r="1.3" fill="#a596d2"/><circle cx="225.9" cy="172.0" r="1.3" fill="#a596d2"/><circle cx="250.7" cy="170.9" r="1.3" fill="#8070b8"/><circle cx="227.4" cy="168.9" r="1.3" fill="#a596d2"/><circle cx="241.5" cy="174.6" r="1.3" fill="#a596d2"/><circle cx="234.9" cy="166.6" r="1.3" fill="#9a8bcb"/><circle cx="223.4" cy="171.8" r="1.3" fill="#8070b8"/><circle cx="239.2" cy="185.0" r="1.3" fill="#8070b8"/><circle cx="241.8" cy="178.4" r="1.3" fill="#8f7fc4"/><circle cx="225.4" cy="173.6" r="1.3" fill="#9a8bcb"/><circle cx="247.0" cy="178.5" r="1.3" fill="#9a8bcb"/><circle cx="239.5" cy="177.0" r="1.3" fill="#8f7fc4"/><circle cx="244.5" cy="168.3" r="1.3" fill="#8f7fc4"/><circle cx="235.5" cy="160.3" r="1.3" fill="#a596d2"/><circle cx="236.5" cy="160.8" r="1.3" fill="#a596d2"/><circle cx="238.6" cy="185.6" r="1.3" fill="#8f7fc4"/><circle cx="252.4" cy="177.9" r="1.3" fill="#a596d2"/><circle cx="241.2" cy="174.8" r="1.3" fill="#8070b8"/><circle cx="244.9" cy="164.0" r="1.3" fill="#8f7fc4"/><circle cx="243.2" cy="162.9" r="1.3" fill="#a596d2"/><circle cx="252.9" cy="166.9" r="1.3" fill="#9a8bcb"/><circle cx="232.2" cy="175.1" r="1.3" fill="#8f7fc4"/><circle cx="235.3" cy="178.6" r="1.3" fill="#a596d2"/><circle cx="231.6" cy="178.6" r="1.3" fill="#8f7fc4"/><circle cx="227.3" cy="168.8" r="1.3" fill="#8070b8"/><circle cx="248.6" cy="178.1" r="1.3" fill="#8070b8"/><circle cx="241.7" cy="182.9" r="1.3" fill="#8070b8"/><circle cx="229.2" cy="160.1" r="1.3" fill="#a596d2"/><circle cx="232.3" cy="160.6" r="1.3" fill="#a596d2"/><circle cx="230.0" cy="161.5" r="1.3" fill="#9a8bcb"/><circle cx="243.1" cy="161.4" r="1.3" fill="#8f7fc4"/><circle cx="236.3" cy="187.5" r="1.3" fill="#9a8bcb"/><circle cx="234.3" cy="174.4" r="1.3" fill="#9a8bcb"/><circle cx="241.6" cy="183.8" r="1.3" fill="#8070b8"/><circle cx="248.3" cy="180.1" r="1.3" fill="#a596d2"/><circle cx="244.5" cy="159.3" r="1.3" fill="#a596d2"/><circle cx="242.3" cy="172.6" r="1.3" fill="#8f7fc4"/><circle cx="251.0" cy="176.4" r="1.3" fill="#a596d2"/><circle cx="242.9" cy="170.3" r="1.3" fill="#8070b8"/><circle cx="235.9" cy="182.7" r="1.3" fill="#8070b8"/><circle cx="242.5" cy="158.2" r="1.3" fill="#8070b8"/><circle cx="236.3" cy="168.9" r="1.3" fill="#8f7fc4"/><circle cx="250.3" cy="180.9" r="1.3" fill="#9a8bcb"/><circle cx="252.4" cy="179.2" r="1.3" fill="#9a8bcb"/><circle cx="236.5" cy="168.9" r="1.3" fill="#8070b8"/><circle cx="223.4" cy="171.1" r="1.3" fill="#8f7fc4"/><circle cx="229.7" cy="172.5" r="1.3" fill="#a596d2"/><circle cx="249.6" cy="167.7" r="1.3" fill="#8070b8"/><circle cx="230.0" cy="168.6" r="1.3" fill="#a596d2"/><circle cx="230.8" cy="185.2" r="1.3" fill="#8070b8"/><circle cx="234.9" cy="185.2" r="1.3" fill="#8070b8"/><circle cx="243.1" cy="158.8" r="1.3" fill="#9a8bcb"/><circle cx="231.3" cy="182.4" r="1.3" fill="#a596d2"/><circle cx="251.0" cy="169.3" r="1.3" fill="#9a8bcb"/><circle cx="237.3" cy="160.1" r="1.3" fill="#9a8bcb"/><circle cx="243.5" cy="172.3" r="1.3" fill="#a596d2"/><circle cx="240.2" cy="179.1" r="1.3" fill="#8f7fc4"/><circle cx="230.7" cy="159.7" r="1.3" fill="#a596d2"/><circle cx="239.3" cy="187.3" r="1.3" fill="#8070b8"/><circle cx="228.9" cy="182.4" r="1.3" fill="#8070b8"/><circle cx="238.2" cy="158.5" r="1.3" fill="#8070b8"/><circle cx="248.5" cy="166.6" r="1.3" fill="#9a8bcb"/><circle cx="250.0" cy="183.7" r="1.3" fill="#8f7fc4"/><circle cx="230.8" cy="161.7" r="1.3" fill="#8f7fc4"/><circle cx="231.4" cy="166.1" r="1.3" fill="#a596d2"/><circle cx="231.2" cy="180.1" r="1.3" fill="#a596d2"/><circle cx="231.0" cy="165.1" r="1.3" fill="#8f7fc4"/><circle cx="231.2" cy="161.6" r="1.3" fill="#8f7fc4"/><circle cx="245.2" cy="186.5" r="1.3" fill="#8f7fc4"/><circle cx="246.0" cy="171.5" r="1.3" fill="#8f7fc4"/><circle cx="249.1" cy="180.9" r="1.3" fill="#8070b8"/><circle cx="234.1" cy="170.6" r="1.3" fill="#a596d2"/><circle cx="233.9" cy="174.7" r="1.3" fill="#9a8bcb"/><circle cx="234.9" cy="160.5" r="1.3" fill="#a596d2"/><circle cx="235.3" cy="182.1" r="1.3" fill="#8f7fc4"/><circle cx="239.7" cy="174.5" r="1.3" fill="#8070b8"/><circle cx="235.5" cy="181.4" r="1.3" fill="#8f7fc4"/><circle cx="238.8" cy="176.9" r="1.3" fill="#a596d2"/><circle cx="240.1" cy="179.8" r="1.3" fill="#8070b8"/><circle cx="241.9" cy="187.4" r="1.3" fill="#8070b8"/><circle cx="226.8" cy="170.3" r="1.6" fill="#b8d0e8"/><polygon points="115.2,233.7 115.2,237.2 114.2,240.6 111.8,243.3 110.2,246.4 106.9,247.8 104.3,250.2 101.0,251.4 97.5,251.0 94.2,250.5 90.9,249.7 87.6,248.5 84.7,246.5 83.0,243.4 81.5,240.3 80.4,237.1 80.3,233.7 80.6,230.3 81.0,226.9 82.5,223.7 85.1,221.3 87.9,219.3 90.7,217.4 94.1,216.5 97.5,215.9 101.0,215.9 104.3,217.4 107.3,219.1 109.7,221.5 112.0,224.0 113.2,227.2 114.7,230.3" fill="#f0b6b6"/><circle cx="99.4" cy="220.4" r="2.7" fill="#e6a8a8" opacity="0.5"/><circle cx="98.9" cy="226.1" r="2.6" fill="#e6a8a8" opacity="0.5"/><circle cx="93.2" cy="230.2" r="1.8" fill="#e6a8a8" opacity="0.5"/><circle cx="92.3" cy="244.8" r="1.8" fill="#e6a8a8" opacity="0.5"/><circle cx="110.9" cy="237.8" r="2.4" fill="#e6a8a8" opacity="0.5"/><circle cx="111.1" cy="239.9" r="2.3" fill="#e6a8a8" opacity="0.5"/><circle cx="108.0" cy="235.0" r="2.6" fill="#e6a8a8" opacity="0.5"/><circle cx="104.0" cy="233.6" r="1.5" fill="#e6a8a8" opacity="0.5"/><circle cx="99.5" cy="224.3" r="2.8" fill="#e6a8a8" opacity="0.5"/><circle cx="94.9" cy="248.1" r="1.8" fill="#e6a8a8" opacity="0.5"/><circle cx="86.9" cy="236.4" r="2.5" fill="#e6a8a8" opacity="0.5"/><circle cx="95.7" cy="218.5" r="2.0" fill="#e6a8a8" opacity="0.5"/><circle cx="86.8" cy="229.1" r="1.5" fill="#e6a8a8" opacity="0.5"/><circle cx="105.3" cy="237.6" r="1.9" fill="#e6a8a8" opacity="0.5"/><circle cx="84.9" cy="231.2" r="1.8" fill="#e6a8a8" opacity="0.5"/><circle cx="96.2" cy="218.2" r="2.0" fill="#e6a8a8" opacity="0.5"/><circle cx="96.8" cy="234.5" r="1.8" fill="#e6a8a8" opacity="0.5"/><circle cx="96.5" cy="235.4" r="2.4" fill="#e6a8a8" opacity="0.5"/><circle cx="103.9" cy="233.0" r="2.5" fill="#e6a8a8" opacity="0.5"/><circle cx="88.1" cy="233.6" r="2.2" fill="#e6a8a8" opacity="0.5"/><circle cx="108.2" cy="234.3" r="2.2" fill="#e6a8a8" opacity="0.5"/><circle cx="89.6" cy="222.6" r="1.7" fill="#e6a8a8" opacity="0.5"/><circle cx="98.6" cy="220.8" r="1.8" fill="#e6a8a8" opacity="0.5"/><circle cx="101.1" cy="236.5" r="2.0" fill="#e6a8a8" opacity="0.5"/><circle cx="98.6" cy="230.3" r="2.2" fill="#e6a8a8" opacity="0.5"/><circle cx="108.2" cy="244.1" r="2.6" fill="#e6a8a8" opacity="0.5"/><circle cx="92.6" cy="243.1" r="3.0" fill="#e6a8a8" opacity="0.5"/><circle cx="94.5" cy="242.2" r="2.9" fill="#e6a8a8" opacity="0.5"/><circle cx="106.0" cy="223.5" r="2.5" fill="#e6a8a8" opacity="0.5"/><circle cx="111.2" cy="235.0" r="2.2" fill="#e6a8a8" opacity="0.5"/><circle cx="113.0" cy="231.4" r="2.1" fill="#bcd0e6"/><circle cx="112.0" cy="230.4" r="2.3" fill="#bcd0e6"/><circle cx="112.4" cy="237.5" r="1.8" fill="#cdd6bd"/><circle cx="110.9" cy="225.7" r="2.4" fill="#cdd6bd"/><circle cx="111.5" cy="224.2" r="1.9" fill="#bcd0e6"/><circle cx="106.2" cy="219.0" r="1.8" fill="#bcd0e6"/><circle cx="94.9" cy="216.1" r="2.3" fill="#d4dcc4"/><circle cx="110.4" cy="221.4" r="2.1" fill="#cdd6bd"/><circle cx="112.8" cy="240.2" r="1.6" fill="#d4dcc4"/><circle cx="107.3" cy="218.8" r="2.2" fill="#bcd0e6"/><ellipse cx="94.5" cy="232.7" rx="3.2" ry="4.8" transform="rotate(30 94.5 232.7)" fill="#c88080"/><ellipse cx="94.5" cy="232.7" rx="2.2" ry="3.8" transform="rotate(30 94.5 232.7)" fill="#9a5050"/><ellipse cx="101.5" cy="238.7" rx="2.8" ry="4.2" transform="rotate(30 101.5 238.7)" fill="#c88080"/><ellipse cx="101.5" cy="238.7" rx="1.7999999999999998" ry="3.2" transform="rotate(30 101.5 238.7)" fill="#9a5050"/><circle cx="103.9" cy="241.8" r="1" fill="#8c74b8"/><circle cx="83.6" cy="230.6" r="1" fill="#8c74b8"/><circle cx="96.8" cy="218.7" r="1" fill="#8c74b8"/><circle cx="109.2" cy="240.9" r="1" fill="#8c74b8"/><circle cx="99.7" cy="223.0" r="1" fill="#8c74b8"/><circle cx="105.1" cy="246.1" r="1" fill="#8c74b8"/><circle cx="105.3" cy="228.5" r="1" fill="#8c74b8"/><circle cx="109.7" cy="228.6" r="1" fill="#8c74b8"/><circle cx="106.3" cy="236.4" r="1" fill="#8c74b8"/><circle cx="96.7" cy="221.0" r="1" fill="#8c74b8"/><circle cx="102.4" cy="224.1" r="1" fill="#8c74b8"/><circle cx="108.8" cy="226.7" r="1" fill="#8c74b8"/><circle cx="102.5" cy="244.2" r="1" fill="#8c74b8"/><circle cx="91.5" cy="248.6" r="1" fill="#8c74b8"/><circle cx="98.8" cy="223.9" r="1" fill="#8c74b8"/><circle cx="101.3" cy="241.6" r="1" fill="#8c74b8"/><circle cx="102.6" cy="244.3" r="1" fill="#8c74b8"/><circle cx="95.8" cy="222.4" r="1" fill="#8c74b8"/><circle cx="85.5" cy="235.5" r="1" fill="#8c74b8"/><circle cx="88.3" cy="224.5" r="1" fill="#8c74b8"/><circle cx="92.2" cy="245.2" r="1" fill="#8c74b8"/><circle cx="89.0" cy="245.5" r="1" fill="#8c74b8"/><circle cx="105.1" cy="224.2" r="1" fill="#8c74b8"/><circle cx="87.9" cy="240.2" r="1" fill="#8c74b8"/><circle cx="88.1" cy="223.4" r="1" fill="#8c74b8"/><circle cx="111.1" cy="241.3" r="1" fill="#8c74b8"/><circle cx="102.3" cy="227.1" r="1" fill="#8c74b8"/><circle cx="100.8" cy="223.1" r="1" fill="#8c74b8"/><circle cx="108.7" cy="237.9" r="1" fill="#8c74b8"/><circle cx="91.5" cy="223.3" r="1" fill="#8c74b8"/><circle cx="105.3" cy="230.7" r="1" fill="#8c74b8"/><circle cx="91.1" cy="242.8" r="1" fill="#8c74b8"/><circle cx="98.9" cy="220.3" r="1" fill="#8c74b8"/><circle cx="99.2" cy="249.4" r="1" fill="#8c74b8"/><circle cx="107.4" cy="237.6" r="1" fill="#8c74b8"/><circle cx="106.1" cy="221.8" r="1" fill="#8c74b8"/><circle cx="95.4" cy="223.4" r="1" fill="#8c74b8"/><circle cx="105.3" cy="248.7" r="1" fill="#8c74b8"/><circle cx="82.9" cy="231.0" r="1" fill="#8c74b8"/><circle cx="103.6" cy="247.2" r="1" fill="#8c74b8"/><circle cx="99.7" cy="222.4" r="1" fill="#8c74b8"/><circle cx="106.5" cy="239.6" r="1" fill="#8c74b8"/><circle cx="104.0" cy="246.2" r="1" fill="#8c74b8"/><circle cx="105.0" cy="241.0" r="1" fill="#8c74b8"/><circle cx="93.3" cy="221.0" r="1" fill="#8c74b8"/><circle cx="98.7" cy="225.9" r="1" fill="#8c74b8"/><circle cx="89.0" cy="219.0" r="1" fill="#8c74b8"/><circle cx="112.8" cy="233.8" r="1" fill="#8c74b8"/><circle cx="102.3" cy="246.6" r="1" fill="#8c74b8"/><circle cx="106.4" cy="244.5" r="1" fill="#8c74b8"/><circle cx="99.2" cy="217.8" r="1" fill="#8c74b8"/><circle cx="100.0" cy="217.7" r="1" fill="#8c74b8"/><circle cx="108.1" cy="240.7" r="1" fill="#8c74b8"/><circle cx="112.7" cy="235.6" r="1" fill="#8c74b8"/><circle cx="106.6" cy="247.7" r="1" fill="#8c74b8"/><circle cx="82.4" cy="229.1" r="1" fill="#8c74b8"/><circle cx="105.8" cy="221.5" r="1" fill="#8c74b8"/><circle cx="100.6" cy="242.9" r="1" fill="#8c74b8"/><circle cx="99.1" cy="220.2" r="1" fill="#8c74b8"/><circle cx="99.4" cy="219.6" r="1" fill="#8c74b8"/><circle cx="100.0" cy="222.1" r="1" fill="#8c74b8"/><circle cx="107.0" cy="219.6" r="1" fill="#8c74b8"/><circle cx="106.2" cy="224.6" r="1" fill="#8c74b8"/><circle cx="93.3" cy="222.8" r="1" fill="#8c74b8"/><circle cx="102.6" cy="220.8" r="1" fill="#8c74b8"/><circle cx="104.7" cy="224.5" r="1" fill="#8c74b8"/><circle cx="108.9" cy="237.6" r="1" fill="#8c74b8"/><circle cx="96.9" cy="240.2" r="1" fill="#8c74b8"/><circle cx="107.8" cy="231.2" r="1" fill="#8c74b8"/><circle cx="97.7" cy="247.4" r="1" fill="#8c74b8"/><circle cx="101.6" cy="229.1" r="1" fill="#8c74b8"/><circle cx="106.9" cy="232.7" r="1" fill="#8c74b8"/><circle cx="93.4" cy="227.8" r="1" fill="#8c74b8"/><circle cx="106.1" cy="231.4" r="1" fill="#8c74b8"/><circle cx="105.2" cy="230.6" r="1" fill="#8c74b8"/><circle cx="102.7" cy="223.4" r="1" fill="#8c74b8"/><circle cx="98.9" cy="226.6" r="1" fill="#8c74b8"/><circle cx="89.8" cy="221.3" r="1" fill="#8c74b8"/><circle cx="102.3" cy="226.9" r="1" fill="#8c74b8"/><circle cx="105.7" cy="236.8" r="1" fill="#8c74b8"/><circle cx="106.6" cy="235.9" r="1" fill="#8c74b8"/><circle cx="108.0" cy="228.5" r="1" fill="#8c74b8"/><circle cx="104.2" cy="227.7" r="1" fill="#8c74b8"/><circle cx="112.8" cy="238.4" r="1" fill="#8c74b8"/><circle cx="104.6" cy="244.8" r="1" fill="#8c74b8"/><polygon points="183.8,234.3 183.9,237.8 182.1,240.9 180.4,243.8 178.3,246.4 175.7,248.5 173.2,251.2 169.6,251.3 166.2,251.5 162.7,252.0 159.2,251.2 156.6,248.7 153.8,246.7 151.5,244.1 150.3,240.9 149.0,237.7 148.1,234.3 148.7,230.8 149.8,227.5 151.9,224.8 153.6,221.7 156.1,219.2 159.4,218.0 162.9,217.6 166.2,216.7 169.7,216.5 173.2,217.5 176.4,219.1 178.2,222.3 180.7,224.6 182.9,227.4 183.6,230.8" fill="#f0b6b6"/><circle cx="170.5" cy="229.5" r="1.6" fill="#e6a8a8" opacity="0.5"/><circle cx="152.1" cy="236.7" r="1.8" fill="#e6a8a8" opacity="0.5"/><circle cx="160.7" cy="245.3" r="2.9" fill="#e6a8a8" opacity="0.5"/><circle cx="158.7" cy="247.5" r="2.2" fill="#e6a8a8" opacity="0.5"/><circle cx="179.6" cy="241.3" r="2.7" fill="#e6a8a8" opacity="0.5"/><circle cx="158.6" cy="243.6" r="1.5" fill="#e6a8a8" opacity="0.5"/><circle cx="164.3" cy="236.6" r="1.8" fill="#e6a8a8" opacity="0.5"/><circle cx="177.0" cy="244.3" r="2.5" fill="#e6a8a8" opacity="0.5"/><circle cx="158.3" cy="226.8" r="1.5" fill="#e6a8a8" opacity="0.5"/><circle cx="175.6" cy="230.0" r="2.8" fill="#e6a8a8" opacity="0.5"/><circle cx="175.0" cy="237.2" r="2.8" fill="#e6a8a8" opacity="0.5"/><circle cx="158.6" cy="244.5" r="1.6" fill="#e6a8a8" opacity="0.5"/><circle cx="167.9" cy="225.8" r="2.6" fill="#e6a8a8" opacity="0.5"/><circle cx="159.0" cy="241.1" r="1.6" fill="#e6a8a8" opacity="0.5"/><circle cx="156.7" cy="228.7" r="2.3" fill="#e6a8a8" opacity="0.5"/><circle cx="173.6" cy="239.0" r="1.6" fill="#e6a8a8" opacity="0.5"/><circle cx="175.7" cy="224.7" r="2.3" fill="#e6a8a8" opacity="0.5"/><circle cx="163.1" cy="241.5" r="1.8" fill="#e6a8a8" opacity="0.5"/><circle cx="164.5" cy="224.5" r="2.9" fill="#e6a8a8" opacity="0.5"/><circle cx="160.5" cy="227.9" r="2.5" fill="#e6a8a8" opacity="0.5"/><circle cx="172.1" cy="232.3" r="2.5" fill="#e6a8a8" opacity="0.5"/><circle cx="159.9" cy="224.2" r="1.9" fill="#e6a8a8" opacity="0.5"/><circle cx="155.5" cy="233.9" r="2.6" fill="#e6a8a8" opacity="0.5"/><circle cx="154.0" cy="241.6" r="2.6" fill="#e6a8a8" opacity="0.5"/><circle cx="157.5" cy="233.6" r="2.1" fill="#e6a8a8" opacity="0.5"/><circle cx="154.9" cy="244.9" r="1.6" fill="#e6a8a8" opacity="0.5"/><circle cx="171.7" cy="223.2" r="2.0" fill="#e6a8a8" opacity="0.5"/><circle cx="178.1" cy="243.7" r="2.1" fill="#e6a8a8" opacity="0.5"/><circle cx="154.4" cy="240.5" r="1.9" fill="#e6a8a8" opacity="0.5"/><circle cx="176.9" cy="234.2" r="2.4" fill="#e6a8a8" opacity="0.5"/><circle cx="181.2" cy="228.4" r="2.5" fill="#d4dcc4"/><circle cx="175.6" cy="221.1" r="2.3" fill="#bcd0e6"/><circle cx="161.4" cy="217.4" r="2.6" fill="#d4dcc4"/><circle cx="180.8" cy="235.3" r="2.2" fill="#cdd6bd"/><circle cx="180.7" cy="233.0" r="2.0" fill="#bcd0e6"/><circle cx="180.9" cy="228.6" r="2.5" fill="#cdd6bd"/><circle cx="167.0" cy="219.9" r="2.6" fill="#bcd0e6"/><circle cx="177.1" cy="223.6" r="2.4" fill="#d4dcc4"/><circle cx="168.0" cy="218.7" r="2.3" fill="#bcd0e6"/><circle cx="182.7" cy="240.7" r="2.5" fill="#d4dcc4"/><ellipse cx="163.2" cy="233.3" rx="3.2" ry="4.8" transform="rotate(30 163.2 233.3)" fill="#c88080"/><ellipse cx="163.2" cy="233.3" rx="2.2" ry="3.8" transform="rotate(30 163.2 233.3)" fill="#9a5050"/><ellipse cx="170.2" cy="239.3" rx="2.8" ry="4.2" transform="rotate(30 170.2 239.3)" fill="#c88080"/><ellipse cx="170.2" cy="239.3" rx="1.7999999999999998" ry="3.2" transform="rotate(30 170.2 239.3)" fill="#9a5050"/><circle cx="159.2" cy="227.2" r="1" fill="#8c74b8"/><circle cx="158.6" cy="224.0" r="1" fill="#8c74b8"/><circle cx="174.4" cy="240.0" r="1" fill="#8c74b8"/><circle cx="172.0" cy="233.5" r="1" fill="#8c74b8"/><circle cx="166.4" cy="243.1" r="1" fill="#8c74b8"/><circle cx="160.5" cy="231.1" r="1" fill="#8c74b8"/><circle cx="181.2" cy="235.0" r="1" fill="#8c74b8"/><circle cx="170.6" cy="249.9" r="1" fill="#8c74b8"/><circle cx="172.9" cy="227.6" r="1" fill="#8c74b8"/><circle cx="171.7" cy="238.0" r="1" fill="#8c74b8"/><circle cx="171.5" cy="243.2" r="1" fill="#8c74b8"/><circle cx="176.9" cy="226.8" r="1" fill="#8c74b8"/><circle cx="168.2" cy="245.3" r="1" fill="#8c74b8"/><circle cx="171.3" cy="243.2" r="1" fill="#8c74b8"/><circle cx="172.6" cy="243.2" r="1" fill="#8c74b8"/><circle cx="170.9" cy="224.7" r="1" fill="#8c74b8"/><circle cx="159.6" cy="219.8" r="1" fill="#8c74b8"/><circle cx="171.2" cy="226.0" r="1" fill="#8c74b8"/><circle cx="170.4" cy="242.5" r="1" fill="#8c74b8"/><circle cx="157.5" cy="225.7" r="1" fill="#8c74b8"/><circle cx="173.0" cy="227.2" r="1" fill="#8c74b8"/><circle cx="176.3" cy="226.7" r="1" fill="#8c74b8"/><circle cx="169.3" cy="243.7" r="1" fill="#8c74b8"/><circle cx="181.7" cy="235.9" r="1" fill="#8c74b8"/><circle cx="178.6" cy="244.5" r="1" fill="#8c74b8"/><circle cx="175.0" cy="219.8" r="1" fill="#8c74b8"/><circle cx="166.4" cy="227.7" r="1" fill="#8c74b8"/><circle cx="161.9" cy="237.5" r="1" fill="#8c74b8"/><circle cx="171.7" cy="231.7" r="1" fill="#8c74b8"/><circle cx="170.2" cy="244.7" r="1" fill="#8c74b8"/><circle cx="175.3" cy="242.2" r="1" fill="#8c74b8"/><circle cx="175.6" cy="222.4" r="1" fill="#8c74b8"/><circle cx="170.9" cy="247.2" r="1" fill="#8c74b8"/><circle cx="153.6" cy="235.7" r="1" fill="#8c74b8"/><circle cx="165.6" cy="218.0" r="1" fill="#8c74b8"/><circle cx="159.5" cy="218.8" r="1" fill="#8c74b8"/><circle cx="176.8" cy="237.6" r="1" fill="#8c74b8"/><circle cx="173.7" cy="220.6" r="1" fill="#8c74b8"/><circle cx="169.6" cy="244.6" r="1" fill="#8c74b8"/><circle cx="171.1" cy="244.6" r="1" fill="#8c74b8"/><circle cx="163.2" cy="221.8" r="1" fill="#8c74b8"/><circle cx="175.9" cy="231.8" r="1" fill="#8c74b8"/><circle cx="173.4" cy="219.8" r="1" fill="#8c74b8"/><circle cx="177.9" cy="223.7" r="1" fill="#8c74b8"/><circle cx="165.6" cy="250.5" r="1" fill="#8c74b8"/><circle cx="163.9" cy="226.4" r="1" fill="#8c74b8"/><circle cx="171.6" cy="243.4" r="1" fill="#8c74b8"/><circle cx="172.4" cy="240.6" r="1" fill="#8c74b8"/><circle cx="174.8" cy="236.5" r="1" fill="#8c74b8"/><circle cx="162.9" cy="221.2" r="1" fill="#8c74b8"/><circle cx="157.1" cy="237.1" r="1" fill="#8c74b8"/><circle cx="164.3" cy="228.3" r="1" fill="#8c74b8"/><circle cx="174.1" cy="224.4" r="1" fill="#8c74b8"/><circle cx="176.3" cy="236.7" r="1" fill="#8c74b8"/><circle cx="160.9" cy="241.4" r="1" fill="#8c74b8"/><circle cx="163.0" cy="224.8" r="1" fill="#8c74b8"/><circle cx="156.3" cy="240.0" r="1" fill="#8c74b8"/><circle cx="180.3" cy="231.3" r="1" fill="#8c74b8"/><circle cx="172.0" cy="223.1" r="1" fill="#8c74b8"/><circle cx="171.5" cy="225.8" r="1" fill="#8c74b8"/><circle cx="177.4" cy="241.9" r="1" fill="#8c74b8"/><circle cx="178.1" cy="227.6" r="1" fill="#8c74b8"/><circle cx="181.1" cy="236.4" r="1" fill="#8c74b8"/><circle cx="174.8" cy="219.9" r="1" fill="#8c74b8"/><circle cx="162.9" cy="238.9" r="1" fill="#8c74b8"/><circle cx="175.4" cy="227.4" r="1" fill="#8c74b8"/><circle cx="176.5" cy="233.3" r="1" fill="#8c74b8"/><circle cx="156.6" cy="232.6" r="1" fill="#8c74b8"/><circle cx="159.8" cy="236.5" r="1" fill="#8c74b8"/><circle cx="159.3" cy="224.6" r="1" fill="#8c74b8"/><circle cx="178.7" cy="229.4" r="1" fill="#8c74b8"/><circle cx="167.5" cy="224.5" r="1" fill="#8c74b8"/><circle cx="174.4" cy="235.6" r="1" fill="#8c74b8"/><circle cx="177.0" cy="225.3" r="1" fill="#8c74b8"/><circle cx="155.8" cy="242.1" r="1" fill="#8c74b8"/><circle cx="177.7" cy="226.7" r="1" fill="#8c74b8"/><circle cx="178.1" cy="230.0" r="1" fill="#8c74b8"/><circle cx="168.8" cy="219.0" r="1" fill="#8c74b8"/><circle cx="165.6" cy="223.7" r="1" fill="#8c74b8"/><circle cx="174.0" cy="226.2" r="1" fill="#8c74b8"/><circle cx="166.7" cy="221.7" r="1" fill="#8c74b8"/><circle cx="177.1" cy="241.1" r="1" fill="#8c74b8"/><circle cx="167.1" cy="250.8" r="1" fill="#8c74b8"/><circle cx="176.6" cy="238.5" r="1" fill="#8c74b8"/><circle cx="173.5" cy="248.8" r="1" fill="#8c74b8"/><polygon points="257.9,234.0 257.3,237.5 256.7,241.0 254.5,243.8 252.5,246.7 249.7,248.8 246.7,250.8 243.3,251.8 239.8,251.4 236.4,250.9 233.0,250.4 229.9,248.8 227.5,246.3 224.7,244.1 223.0,240.9 222.2,237.5 222.1,234.0 222.2,230.5 223.9,227.4 224.8,224.0 227.7,221.9 229.7,218.8 233.0,217.5 236.4,217.0 239.8,216.8 243.3,216.6 246.5,217.8 249.8,219.1 251.9,221.9 254.9,223.9 256.0,227.3 257.0,230.6" fill="#f0b6b6"/><circle cx="238.9" cy="221.7" r="2.2" fill="#e6a8a8" opacity="0.5"/><circle cx="236.9" cy="244.4" r="1.5" fill="#e6a8a8" opacity="0.5"/><circle cx="239.3" cy="248.4" r="1.7" fill="#e6a8a8" opacity="0.5"/><circle cx="252.3" cy="241.5" r="2.1" fill="#e6a8a8" opacity="0.5"/><circle cx="227.9" cy="231.7" r="2.6" fill="#e6a8a8" opacity="0.5"/><circle cx="234.0" cy="246.6" r="1.5" fill="#e6a8a8" opacity="0.5"/><circle cx="244.9" cy="226.8" r="2.4" fill="#e6a8a8" opacity="0.5"/><circle cx="235.3" cy="246.9" r="2.1" fill="#e6a8a8" opacity="0.5"/><circle cx="232.6" cy="228.6" r="2.7" fill="#e6a8a8" opacity="0.5"/><circle cx="241.0" cy="227.0" r="2.6" fill="#e6a8a8" opacity="0.5"/><circle cx="247.0" cy="231.3" r="1.8" fill="#e6a8a8" opacity="0.5"/><circle cx="253.9" cy="227.5" r="1.7" fill="#e6a8a8" opacity="0.5"/><circle cx="242.2" cy="218.9" r="1.9" fill="#e6a8a8" opacity="0.5"/><circle cx="241.5" cy="225.5" r="2.7" fill="#e6a8a8" opacity="0.5"/><circle cx="228.9" cy="233.4" r="1.7" fill="#e6a8a8" opacity="0.5"/><circle cx="232.2" cy="223.2" r="1.9" fill="#e6a8a8" opacity="0.5"/><circle cx="244.4" cy="235.3" r="1.9" fill="#e6a8a8" opacity="0.5"/><circle cx="253.5" cy="233.7" r="2.8" fill="#e6a8a8" opacity="0.5"/><circle cx="239.8" cy="228.2" r="2.1" fill="#e6a8a8" opacity="0.5"/><circle cx="253.7" cy="229.5" r="3.0" fill="#e6a8a8" opacity="0.5"/><circle cx="245.5" cy="221.9" r="2.6" fill="#e6a8a8" opacity="0.5"/><circle cx="248.7" cy="228.7" r="1.6" fill="#e6a8a8" opacity="0.5"/><circle cx="239.1" cy="235.7" r="1.9" fill="#e6a8a8" opacity="0.5"/><circle cx="232.8" cy="229.6" r="1.9" fill="#e6a8a8" opacity="0.5"/><circle cx="247.7" cy="239.3" r="2.3" fill="#e6a8a8" opacity="0.5"/><circle cx="226.9" cy="225.7" r="1.6" fill="#e6a8a8" opacity="0.5"/><circle cx="239.7" cy="238.4" r="2.9" fill="#e6a8a8" opacity="0.5"/><circle cx="231.1" cy="224.5" r="2.7" fill="#e6a8a8" opacity="0.5"/><circle cx="254.9" cy="234.2" r="2.0" fill="#e6a8a8" opacity="0.5"/><circle cx="232.8" cy="226.7" r="2.6" fill="#e6a8a8" opacity="0.5"/><circle cx="246.2" cy="220.0" r="1.8" fill="#d4dcc4"/><circle cx="252.2" cy="225.9" r="2.1" fill="#d4dcc4"/><circle cx="244.7" cy="217.4" r="1.7" fill="#d4dcc4"/><circle cx="256.3" cy="228.9" r="1.9" fill="#cdd6bd"/><circle cx="251.9" cy="226.1" r="1.7" fill="#d4dcc4"/><circle cx="256.2" cy="238.5" r="2.1" fill="#d4dcc4"/><circle cx="256.4" cy="227.4" r="1.7" fill="#d4dcc4"/><circle cx="242.8" cy="217.7" r="2.5" fill="#d4dcc4"/><circle cx="254.3" cy="227.9" r="2.3" fill="#d4dcc4"/><circle cx="250.4" cy="220.6" r="2.4" fill="#bcd0e6"/><ellipse cx="236.8" cy="233.0" rx="3.2" ry="4.8" transform="rotate(30 236.8 233.0)" fill="#c88080"/><ellipse cx="236.8" cy="233.0" rx="2.2" ry="3.8" transform="rotate(30 236.8 233.0)" fill="#9a5050"/><ellipse cx="243.8" cy="239.0" rx="2.8" ry="4.2" transform="rotate(30 243.8 239.0)" fill="#c88080"/><ellipse cx="243.8" cy="239.0" rx="1.7999999999999998" ry="3.2" transform="rotate(30 243.8 239.0)" fill="#9a5050"/><circle cx="240.3" cy="221.6" r="1" fill="#8c74b8"/><circle cx="232.4" cy="241.7" r="1" fill="#8c74b8"/><circle cx="241.7" cy="223.8" r="1" fill="#8c74b8"/><circle cx="251.5" cy="230.3" r="1" fill="#8c74b8"/><circle cx="244.8" cy="223.8" r="1" fill="#8c74b8"/><circle cx="240.9" cy="248.0" r="1" fill="#8c74b8"/><circle cx="226.7" cy="224.9" r="1" fill="#8c74b8"/><circle cx="242.8" cy="219.5" r="1" fill="#8c74b8"/><circle cx="254.8" cy="240.3" r="1" fill="#8c74b8"/><circle cx="250.3" cy="226.3" r="1" fill="#8c74b8"/><circle cx="234.0" cy="219.4" r="1" fill="#8c74b8"/><circle cx="242.4" cy="220.8" r="1" fill="#8c74b8"/><circle cx="233.3" cy="231.3" r="1" fill="#8c74b8"/><circle cx="248.5" cy="242.9" r="1" fill="#8c74b8"/><circle cx="251.6" cy="231.7" r="1" fill="#8c74b8"/><circle cx="237.3" cy="222.3" r="1" fill="#8c74b8"/><circle cx="255.0" cy="236.1" r="1" fill="#8c74b8"/><circle cx="242.0" cy="245.2" r="1" fill="#8c74b8"/><circle cx="227.8" cy="238.2" r="1" fill="#8c74b8"/><circle cx="243.4" cy="223.1" r="1" fill="#8c74b8"/><circle cx="238.5" cy="226.0" r="1" fill="#8c74b8"/><circle cx="250.1" cy="245.8" r="1" fill="#8c74b8"/><circle cx="228.6" cy="243.4" r="1" fill="#8c74b8"/><circle cx="248.0" cy="242.3" r="1" fill="#8c74b8"/><circle cx="242.8" cy="219.9" r="1" fill="#8c74b8"/><circle cx="252.5" cy="238.9" r="1" fill="#8c74b8"/><circle cx="246.2" cy="222.4" r="1" fill="#8c74b8"/><circle cx="251.4" cy="239.9" r="1" fill="#8c74b8"/><circle cx="243.5" cy="249.5" r="1" fill="#8c74b8"/><circle cx="251.9" cy="243.5" r="1" fill="#8c74b8"/><circle cx="252.6" cy="243.1" r="1" fill="#8c74b8"/><circle cx="240.3" cy="220.5" r="1" fill="#8c74b8"/><circle cx="239.8" cy="247.9" r="1" fill="#8c74b8"/><circle cx="248.2" cy="227.6" r="1" fill="#8c74b8"/><circle cx="256.3" cy="236.5" r="1" fill="#8c74b8"/><circle cx="247.0" cy="222.5" r="1" fill="#8c74b8"/><circle cx="253.1" cy="241.7" r="1" fill="#8c74b8"/><circle cx="232.4" cy="242.2" r="1" fill="#8c74b8"/><circle cx="249.0" cy="224.5" r="1" fill="#8c74b8"/><circle cx="256.3" cy="231.3" r="1" fill="#8c74b8"/><circle cx="246.3" cy="241.5" r="1" fill="#8c74b8"/><circle cx="245.3" cy="249.8" r="1" fill="#8c74b8"/><circle cx="254.9" cy="226.4" r="1" fill="#8c74b8"/><circle cx="234.2" cy="229.0" r="1" fill="#8c74b8"/><circle cx="247.1" cy="246.9" r="1" fill="#8c74b8"/><circle cx="242.6" cy="229.1" r="1" fill="#8c74b8"/><circle cx="245.4" cy="245.8" r="1" fill="#8c74b8"/><circle cx="229.7" cy="223.1" r="1" fill="#8c74b8"/><circle cx="231.4" cy="219.2" r="1" fill="#8c74b8"/><circle cx="246.2" cy="223.2" r="1" fill="#8c74b8"/><circle cx="247.8" cy="238.5" r="1" fill="#8c74b8"/><circle cx="250.9" cy="240.3" r="1" fill="#8c74b8"/><circle cx="245.1" cy="246.4" r="1" fill="#8c74b8"/><circle cx="241.8" cy="242.9" r="1" fill="#8c74b8"/><circle cx="246.3" cy="247.6" r="1" fill="#8c74b8"/><circle cx="234.4" cy="224.8" r="1" fill="#8c74b8"/><circle cx="224.7" cy="238.7" r="1" fill="#8c74b8"/><circle cx="245.1" cy="247.0" r="1" fill="#8c74b8"/><circle cx="230.2" cy="225.7" r="1" fill="#8c74b8"/><circle cx="247.1" cy="245.6" r="1" fill="#8c74b8"/><circle cx="230.9" cy="223.0" r="1" fill="#8c74b8"/><circle cx="251.1" cy="237.2" r="1" fill="#8c74b8"/><circle cx="246.9" cy="238.0" r="1" fill="#8c74b8"/><circle cx="245.0" cy="226.9" r="1" fill="#8c74b8"/><circle cx="243.9" cy="242.1" r="1" fill="#8c74b8"/><circle cx="251.8" cy="243.0" r="1" fill="#8c74b8"/><circle cx="239.5" cy="217.1" r="1" fill="#8c74b8"/><circle cx="249.6" cy="238.6" r="1" fill="#8c74b8"/><circle cx="248.6" cy="236.4" r="1" fill="#8c74b8"/><circle cx="237.2" cy="222.7" r="1" fill="#8c74b8"/><circle cx="246.6" cy="247.5" r="1" fill="#8c74b8"/><circle cx="239.1" cy="222.3" r="1" fill="#8c74b8"/><circle cx="251.1" cy="239.7" r="1" fill="#8c74b8"/><circle cx="243.5" cy="225.2" r="1" fill="#8c74b8"/><circle cx="242.7" cy="249.6" r="1" fill="#8c74b8"/><circle cx="247.6" cy="230.4" r="1" fill="#8c74b8"/><circle cx="244.2" cy="244.1" r="1" fill="#8c74b8"/><circle cx="242.6" cy="226.1" r="1" fill="#8c74b8"/><circle cx="254.1" cy="239.7" r="1" fill="#8c74b8"/><circle cx="255.4" cy="229.7" r="1" fill="#8c74b8"/><circle cx="250.5" cy="231.7" r="1" fill="#8c74b8"/><circle cx="251.3" cy="226.1" r="1" fill="#8c74b8"/><circle cx="248.5" cy="237.8" r="1" fill="#8c74b8"/><circle cx="243.5" cy="224.3" r="1" fill="#8c74b8"/><circle cx="224.8" cy="237.4" r="1" fill="#8c74b8"/><polygon points="344.6,211.0 345.5,214.7 343.4,217.8 342.2,221.2 339.7,223.7 337.4,226.5 334.1,228.1 330.6,229.0 327.0,228.8 323.4,229.2 320.2,227.4 317.3,225.5 314.3,223.7 312.5,220.7 309.8,218.1 308.7,214.6 309.2,211.0 309.4,207.5 309.9,203.9 311.4,200.6 314.2,198.2 316.8,195.7 320.2,194.6 323.6,193.7 327.0,193.4 330.7,192.6 333.9,194.4 337.1,195.8 340.0,198.0 341.9,201.0 344.0,204.0 344.7,207.5" fill="#f0b6b6"/><circle cx="321.0" cy="202.9" r="2.0" fill="#e6a8a8" opacity="0.5"/><circle cx="329.7" cy="209.2" r="2.2" fill="#e6a8a8" opacity="0.5"/><circle cx="336.9" cy="199.3" r="2.1" fill="#e6a8a8" opacity="0.5"/><circle cx="324.2" cy="204.9" r="2.9" fill="#e6a8a8" opacity="0.5"/><circle cx="325.8" cy="197.4" r="2.3" fill="#e6a8a8" opacity="0.5"/><circle cx="331.4" cy="210.9" r="2.6" fill="#e6a8a8" opacity="0.5"/><circle cx="335.8" cy="210.6" r="1.7" fill="#e6a8a8" opacity="0.5"/><circle cx="327.6" cy="202.0" r="1.8" fill="#e6a8a8" opacity="0.5"/><circle cx="320.0" cy="205.9" r="2.4" fill="#e6a8a8" opacity="0.5"/><circle cx="332.1" cy="195.8" r="1.6" fill="#e6a8a8" opacity="0.5"/><circle cx="334.3" cy="223.7" r="2.8" fill="#e6a8a8" opacity="0.5"/><circle cx="323.8" cy="196.5" r="1.9" fill="#e6a8a8" opacity="0.5"/><circle cx="342.8" cy="214.5" r="2.7" fill="#e6a8a8" opacity="0.5"/><circle cx="319.5" cy="206.3" r="2.8" fill="#e6a8a8" opacity="0.5"/><circle cx="338.2" cy="199.7" r="2.6" fill="#e6a8a8" opacity="0.5"/><circle cx="333.3" cy="209.3" r="2.2" fill="#e6a8a8" opacity="0.5"/><circle cx="333.8" cy="203.2" r="2.6" fill="#e6a8a8" opacity="0.5"/><circle cx="331.2" cy="214.8" r="2.6" fill="#e6a8a8" opacity="0.5"/><circle cx="336.2" cy="208.8" r="2.5" fill="#e6a8a8" opacity="0.5"/><circle cx="313.2" cy="219.1" r="2.8" fill="#e6a8a8" opacity="0.5"/><circle cx="328.0" cy="199.2" r="1.6" fill="#e6a8a8" opacity="0.5"/><circle cx="319.9" cy="205.9" r="2.2" fill="#e6a8a8" opacity="0.5"/><circle cx="336.4" cy="218.6" r="2.7" fill="#e6a8a8" opacity="0.5"/><circle cx="334.4" cy="201.6" r="1.7" fill="#e6a8a8" opacity="0.5"/><circle cx="336.7" cy="206.6" r="1.5" fill="#e6a8a8" opacity="0.5"/><circle cx="333.7" cy="199.2" r="1.9" fill="#e6a8a8" opacity="0.5"/><circle cx="323.5" cy="206.0" r="2.0" fill="#e6a8a8" opacity="0.5"/><circle cx="332.9" cy="211.8" r="2.2" fill="#e6a8a8" opacity="0.5"/><circle cx="315.9" cy="215.7" r="2.9" fill="#e6a8a8" opacity="0.5"/><circle cx="336.7" cy="210.8" r="2.5" fill="#e6a8a8" opacity="0.5"/><circle cx="339.9" cy="199.1" r="2.3" fill="#cdd6bd"/><circle cx="339.6" cy="198.9" r="1.8" fill="#d4dcc4"/><circle cx="343.4" cy="207.2" r="1.6" fill="#bcd0e6"/><circle cx="324.6" cy="195.2" r="1.7" fill="#cdd6bd"/><circle cx="331.4" cy="195.7" r="1.7" fill="#bcd0e6"/><circle cx="340.7" cy="203.7" r="2.2" fill="#cdd6bd"/><circle cx="342.6" cy="219.0" r="2.6" fill="#cdd6bd"/><circle cx="338.3" cy="197.7" r="2.1" fill="#cdd6bd"/><circle cx="340.8" cy="200.3" r="2.4" fill="#cdd6bd"/><circle cx="343.8" cy="211.1" r="2.6" fill="#bcd0e6"/><ellipse cx="324.0" cy="210.0" rx="3.2" ry="4.8" transform="rotate(30 324.0 210.0)" fill="#c88080"/><ellipse cx="324.0" cy="210.0" rx="2.2" ry="3.8" transform="rotate(30 324.0 210.0)" fill="#9a5050"/><ellipse cx="331.0" cy="216.0" rx="2.8" ry="4.2" transform="rotate(30 331.0 216.0)" fill="#c88080"/><ellipse cx="331.0" cy="216.0" rx="1.7999999999999998" ry="3.2" transform="rotate(30 331.0 216.0)" fill="#9a5050"/><circle cx="322.9" cy="212.8" r="1.5" fill="#a49ad2" opacity="0.9"/><circle cx="341.8" cy="213.3" r="1.5" fill="#a49ad2" opacity="0.9"/><circle cx="323.4" cy="201.0" r="1.5" fill="#a49ad2" opacity="0.9"/><circle cx="320.4" cy="197.5" r="1.5" fill="#a49ad2" opacity="0.9"/><circle cx="341.5" cy="211.7" r="1.5" fill="#a49ad2" opacity="0.9"/><circle cx="342.4" cy="208.9" r="1.5" fill="#a49ad2" opacity="0.9"/><circle cx="335.5" cy="203.4" r="1.5" fill="#a49ad2" opacity="0.9"/><circle cx="321.8" cy="206.9" r="1.5" fill="#a49ad2" opacity="0.9"/><circle cx="330.6" cy="197.8" r="1.5" fill="#a49ad2" opacity="0.9"/><circle cx="322.7" cy="213.9" r="1.5" fill="#a49ad2" opacity="0.9"/><circle cx="331.7" cy="220.9" r="1.5" fill="#a49ad2" opacity="0.9"/><circle cx="337.3" cy="205.4" r="1.5" fill="#a49ad2" opacity="0.9"/><circle cx="332.3" cy="205.1" r="1.5" fill="#a49ad2" opacity="0.9"/><circle cx="326.8" cy="219.7" r="1.5" fill="#a49ad2" opacity="0.9"/><circle cx="323.5" cy="225.5" r="1.5" fill="#a49ad2" opacity="0.9"/><circle cx="320.3" cy="218.3" r="1.5" fill="#a49ad2" opacity="0.9"/><circle cx="322.2" cy="200.6" r="1.5" fill="#a49ad2" opacity="0.9"/><circle cx="337.2" cy="201.3" r="1.5" fill="#a49ad2" opacity="0.9"/><circle cx="332.6" cy="201.2" r="1.5" fill="#a49ad2" opacity="0.9"/><circle cx="317.9" cy="218.1" r="1.5" fill="#a49ad2" opacity="0.9"/><circle cx="343.2" cy="209.7" r="1.5" fill="#a49ad2" opacity="0.9"/><circle cx="316.1" cy="206.1" r="1.5" fill="#a49ad2" opacity="0.9"/><circle cx="340.9" cy="217.8" r="1.5" fill="#a49ad2" opacity="0.9"/><circle cx="318.5" cy="203.9" r="1.5" fill="#a49ad2" opacity="0.9"/><circle cx="332.8" cy="221.2" r="1.5" fill="#a49ad2" opacity="0.9"/><circle cx="324.6" cy="202.1" r="1.5" fill="#a49ad2" opacity="0.9"/><circle cx="325.8" cy="223.1" r="1.5" fill="#a49ad2" opacity="0.9"/><circle cx="323.0" cy="211.1" r="1.5" fill="#a49ad2" opacity="0.9"/><circle cx="336.8" cy="215.1" r="1.5" fill="#a49ad2" opacity="0.9"/><circle cx="324.3" cy="200.7" r="1.5" fill="#a49ad2" opacity="0.9"/><circle cx="335.8" cy="211.9" r="1.5" fill="#a49ad2" opacity="0.9"/><circle cx="332.0" cy="224.8" r="1.5" fill="#a49ad2" opacity="0.9"/><circle cx="329.3" cy="227.3" r="1.5" fill="#a49ad2" opacity="0.9"/><circle cx="325.1" cy="218.6" r="1.5" fill="#a49ad2" opacity="0.9"/><circle cx="338.9" cy="212.4" r="1.5" fill="#a49ad2" opacity="0.9"/><circle cx="312.3" cy="209.5" r="1.5" fill="#a49ad2" opacity="0.9"/><circle cx="320.9" cy="200.1" r="1.5" fill="#a49ad2" opacity="0.9"/><circle cx="342.2" cy="216.3" r="1.5" fill="#a49ad2" opacity="0.9"/><line x1="95.5" y1="192.5" x2="95.5" y2="206.0" stroke="#222" stroke-width="1.1"/><polygon points="95.5,211.0 92.9,206.0 98.1,206.0" fill="#222"/><line x1="167.0" y1="192.5" x2="167.0" y2="206.0" stroke="#222" stroke-width="1.1"/><polygon points="167.0,211.0 164.4,206.0 169.6,206.0" fill="#222"/><line x1="239.4" y1="192.5" x2="239.4" y2="206.0" stroke="#222" stroke-width="1.1"/><polygon points="239.4,211.0 236.8,206.0 242.0,206.0" fill="#222"/><line x1="124.3" y1="238.3" x2="137.7" y2="238.3" stroke="#222" stroke-width="1.1"/><polygon points="142.7,238.3 137.7,240.9 137.7,235.7" fill="#222"/><line x1="195.5" y1="237.6" x2="208.2" y2="237.6" stroke="#222" stroke-width="1.1"/><polygon points="213.2,237.6 208.2,240.2 208.2,235.0" fill="#222"/><line x1="47.9" y1="177.0" x2="67.0" y2="172.9" stroke="#222" stroke-width="1.1"/><polygon points="71.9,171.8 67.6,175.4 66.5,170.3" fill="#222"/><line x1="47.9" y1="226.9" x2="64.4" y2="232.7" stroke="#222" stroke-width="1.1"/><polygon points="69.1,234.3 63.5,235.1 65.2,230.2" fill="#222"/><line x1="271.0" y1="234.6" x2="295.1" y2="225.1" stroke="#222" stroke-width="1.1"/><polygon points="299.8,223.3 296.1,227.5 294.2,222.7" fill="#222"/></svg>
<div class="t" style="left:4.40px;top:310.49px;font-size:13.6px;font-weight:bold;color:#000;">D</div>
<div class="t" style="left:-73.20px;top:309.20px;width:400px;text-align:center;font-size:11.1px;font-weight:bold;color:#000;">Day 13</div>
<div class="t" style="left:-5.00px;top:309.20px;width:400px;text-align:center;font-size:11.1px;font-weight:bold;color:#000;">Day 15</div>
<div class="t" style="left:62.00px;top:309.20px;width:400px;text-align:center;font-size:11.1px;font-weight:bold;color:#000;">Day 17</div>
<div class="t" style="left:130.00px;top:309.20px;width:400px;text-align:center;font-size:11.1px;font-weight:bold;color:#000;">Day 20</div>
<div class="t" style="left:-144.40px;top:337.37px;width:400px;text-align:center;font-size:10.9px;font-weight:bold;color:#000;">Ctrl (0</div>
<div class="t" style="left:-144.40px;top:350.87px;width:400px;text-align:center;font-size:10.9px;font-weight:bold;color:#000;">monocytes)</div>
<div class="t" style="left:-144.40px;top:388.57px;width:400px;text-align:center;font-size:10.9px;font-weight:bold;color:#000;">10,000</div>
<div class="t" style="left:-144.40px;top:402.07px;width:400px;text-align:center;font-size:10.9px;font-weight:bold;color:#000;">monocytes</div>
<div class="t" style="left:-144.40px;top:444.37px;width:400px;text-align:center;font-size:10.9px;font-weight:bold;color:#000;">20,000</div>
<div class="t" style="left:-144.40px;top:457.87px;width:400px;text-align:center;font-size:10.9px;font-weight:bold;color:#000;">monocytes</div>
<div class="t" style="left:-144.40px;top:492.57px;width:400px;text-align:center;font-size:10.9px;font-weight:bold;color:#000;">30,000</div>
<div class="t" style="left:-144.40px;top:506.07px;width:400px;text-align:center;font-size:10.9px;font-weight:bold;color:#000;">monocytes</div>
<svg class="a" style="left:0;top:0" width="653" height="541"><defs><filter id="db4" x="-30%" y="-30%" width="160%" height="160%"><feGaussianBlur stdDeviation="4"/></filter><filter id="db2" x="-30%" y="-30%" width="160%" height="160%"><feGaussianBlur stdDeviation="2.5"/></filter><filter id="db05" x="-30%" y="-30%" width="160%" height="160%"><feGaussianBlur stdDeviation="1"/></filter><filter id="db03" x="-30%" y="-30%" width="160%" height="160%"><feGaussianBlur stdDeviation="0.35"/></filter><clipPath id="dc00"><rect x="92" y="323" width="66.9" height="49.5"/></clipPath><clipPath id="dc01"><rect x="161.5" y="323" width="65.5" height="49.5"/></clipPath><clipPath id="dc02"><rect x="229.6" y="323" width="65.4" height="49.5"/></clipPath><clipPath id="dc03"><rect x="297.1" y="323" width="64.9" height="49.5"/></clipPath><clipPath id="dc10"><rect x="92" y="374" width="66.9" height="49.5"/></clipPath><clipPath id="dc11"><rect x="161.5" y="374" width="65.5" height="49.5"/></clipPath><clipPath id="dc12"><rect x="229.6" y="374" width="65.4" height="49.5"/></clipPath><clipPath id="dc13"><rect x="297.1" y="374" width="64.9" height="49.5"/></clipPath><clipPath id="dc20"><rect x="92" y="426" width="66.9" height="50.3"/></clipPath><clipPath id="dc21"><rect x="161.5" y="426" width="65.5" height="50.3"/></clipPath><clipPath id="dc22"><rect x="229.6" y="426" width="65.4" height="50.3"/></clipPath><clipPath id="dc23"><rect x="297.1" y="426" width="64.9" height="50.3"/></clipPath><clipPath id="dc30"><rect x="92" y="478" width="66.9" height="50"/></clipPath><clipPath id="dc31"><rect x="161.5" y="478" width="65.5" height="50"/></clipPath><clipPath id="dc32"><rect x="229.6" y="478" width="65.4" height="50"/></clipPath><clipPath id="dc33"><rect x="297.1" y="478" width="64.9" height="50"/></clipPath></defs><g clip-path="url(#dc00)"><rect x="92" y="323" width="66.9" height="49.5" fill="#bcbcbc"/><g filter="url(#db4)"><ellipse cx="133.7" cy="359.7" rx="13.4" ry="10.7" fill="#e2e2e2"/><ellipse cx="141.5" cy="368.7" rx="7.2" ry="7.8" fill="#e2e2e2"/><ellipse cx="155.1" cy="355.1" rx="14.2" ry="5.7" fill="#e2e2e2"/><ellipse cx="123.4" cy="335.2" rx="11.4" ry="8.4" fill="#e2e2e2"/><ellipse cx="92.9" cy="333.7" rx="9.2" ry="10.5" fill="#e2e2e2"/><ellipse cx="143.2" cy="330.9" rx="13.4" ry="5.8" fill="#e2e2e2"/><ellipse cx="133.3" cy="329.3" rx="5.0" ry="7.5" fill="#8a8a8a" opacity="0.45"/><ellipse cx="106.0" cy="333.7" rx="9.9" ry="7.5" fill="#8a8a8a" opacity="0.45"/><ellipse cx="111.4" cy="370.6" rx="7.7" ry="6.7" fill="#8a8a8a" opacity="0.45"/></g><circle cx="105.7" cy="369.6" r="0.54" fill="#666"/><circle cx="112.0" cy="340.9" r="0.36" fill="#555"/><circle cx="109.6" cy="339.4" r="0.59" fill="#777"/><circle cx="92.2" cy="356.6" r="0.42" fill="#666"/><circle cx="115.8" cy="338.2" r="0.54" fill="#555"/><circle cx="124.2" cy="357.9" r="0.32" fill="#555"/><circle cx="155.5" cy="340.7" r="0.44" fill="#777"/><circle cx="144.7" cy="341.1" r="0.50" fill="#555"/><circle cx="122.3" cy="358.0" r="0.52" fill="#555"/><circle cx="100.0" cy="335.2" r="0.59" fill="#666"/><circle cx="115.0" cy="340.6" r="0.48" fill="#666"/><circle cx="99.2" cy="360.0" r="0.58" fill="#666"/><circle cx="94.5" cy="369.8" r="0.33" fill="#666"/><circle cx="126.3" cy="340.9" r="0.35" fill="#666"/><circle cx="153.8" cy="350.0" r="0.41" fill="#666"/><circle cx="112.5" cy="362.5" r="0.52" fill="#777"/><circle cx="138.1" cy="372.3" r="0.36" fill="#555"/><circle cx="97.4" cy="352.7" r="0.62" fill="#555"/><circle cx="107.9" cy="352.4" r="0.59" fill="#666"/><circle cx="135.5" cy="330.2" r="0.64" fill="#777"/><circle cx="94.2" cy="347.4" r="0.59" fill="#555"/><circle cx="157.6" cy="350.9" r="0.35" fill="#666"/><circle cx="99.1" cy="344.5" r="0.35" fill="#666"/><circle cx="111.7" cy="345.4" r="0.65" fill="#555"/><circle cx="157.3" cy="345.5" r="0.47" fill="#777"/><circle cx="113.3" cy="336.6" r="0.46" fill="#555"/><circle cx="99.5" cy="363.7" r="0.49" fill="#555"/><circle cx="133.9" cy="347.7" r="0.42" fill="#555"/><circle cx="124.9" cy="348.5" r="0.49" fill="#777"/><circle cx="116.2" cy="361.9" r="0.57" fill="#777"/><circle cx="131.3" cy="324.7" r="0.41" fill="#777"/><circle cx="139.1" cy="336.9" r="0.47" fill="#777"/><circle cx="139.9" cy="370.4" r="0.42" fill="#555"/><circle cx="130.8" cy="323.6" r="0.49" fill="#666"/><circle cx="113.8" cy="336.5" r="0.40" fill="#777"/><circle cx="135.3" cy="362.5" r="0.42" fill="#777"/><circle cx="115.1" cy="369.4" r="0.44" fill="#555"/><circle cx="150.2" cy="357.1" r="0.64" fill="#666"/><circle cx="126.7" cy="349.2" r="0.36" fill="#666"/><circle cx="154.7" cy="346.6" r="0.54" fill="#777"/><circle cx="136.9" cy="343.6" r="0.52" fill="#777"/><circle cx="126.6" cy="369.4" r="0.41" fill="#777"/><circle cx="143.8" cy="354.5" r="0.55" fill="#555"/><circle cx="105.1" cy="352.0" r="0.52" fill="#555"/><circle cx="106.7" cy="357.0" r="0.52" fill="#555"/><circle cx="158.0" cy="371.5" r="0.36" fill="#555"/><circle cx="99.4" cy="370.9" r="0.47" fill="#777"/><circle cx="94.4" cy="346.0" r="0.43" fill="#777"/><circle cx="96.8" cy="333.1" r="0.55" fill="#666"/><circle cx="92.0" cy="343.1" r="0.40" fill="#666"/><circle cx="150.0" cy="357.1" r="0.49" fill="#555"/><circle cx="128.8" cy="337.9" r="0.40" fill="#777"/><circle cx="114.7" cy="351.8" r="0.64" fill="#555"/><circle cx="120.0" cy="363.2" r="0.52" fill="#666"/><circle cx="123.3" cy="330.8" r="0.43" fill="#666"/><circle cx="156.0" cy="370.9" r="0.51" fill="#666"/><circle cx="146.9" cy="355.8" r="0.43" fill="#666"/><circle cx="129.9" cy="353.5" r="0.35" fill="#777"/><circle cx="150.6" cy="350.9" r="0.45" fill="#555"/><circle cx="125.0" cy="346.7" r="0.55" fill="#666"/><g filter="url(#db03)"><circle cx="153.1" cy="351.6" r="0.7" fill="#555"/><circle cx="151.3" cy="355.4" r="0.8" fill="#666"/><circle cx="153.3" cy="352.7" r="1.0" fill="#666"/><circle cx="153.1" cy="352.8" r="0.6" fill="#666"/><circle cx="113.8" cy="348.3" r="0.7" fill="#555"/><circle cx="113.3" cy="348.2" r="0.8" fill="#666"/><circle cx="110.6" cy="348.8" r="1.1" fill="#555"/><circle cx="114.3" cy="349.1" r="0.7" fill="#707070"/><circle cx="112.9" cy="349.9" r="0.9" fill="#666"/><circle cx="122.3" cy="330.4" r="0.8" fill="#555"/><circle cx="122.6" cy="329.3" r="0.5" fill="#666"/><circle cx="119.3" cy="329.2" r="1.2" fill="#707070"/><circle cx="147.3" cy="340.8" r="1.1" fill="#666"/><circle cx="148.5" cy="342.1" r="1.1" fill="#707070"/><circle cx="148.6" cy="341.0" r="1.0" fill="#666"/><circle cx="149.0" cy="342.1" r="0.8" fill="#707070"/><circle cx="151.3" cy="340.5" r="0.9" fill="#666"/><circle cx="146.2" cy="326.8" r="0.5" fill="#555"/><circle cx="145.5" cy="327.4" r="0.5" fill="#666"/><circle cx="146.2" cy="326.1" r="1.1" fill="#555"/><circle cx="149.5" cy="328.4" r="0.8" fill="#555"/><circle cx="146.0" cy="327.8" r="0.6" fill="#707070"/><circle cx="147.6" cy="329.9" r="1.0" fill="#707070"/><circle cx="152.7" cy="360.2" r="0.8" fill="#666"/><circle cx="151.4" cy="359.4" r="0.7" fill="#707070"/><circle cx="151.7" cy="360.9" r="1.0" fill="#555"/><circle cx="150.0" cy="359.9" r="0.7" fill="#707070"/><circle cx="151.1" cy="360.3" r="0.5" fill="#555"/><circle cx="132.6" cy="329.5" r="0.8" fill="#666"/><circle cx="132.6" cy="333.1" r="1.0" fill="#555"/><circle cx="131.2" cy="331.4" r="1.1" fill="#707070"/></g><path d="M146.5,352.8 L146.5,354.5 L146.3,356.2 L145.8,357.8 L145.3,359.5 L144.3,360.8 L142.7,361.7 L141.5,362.8 L140.5,364.1 L139.2,365.0 L137.6,365.5 L136.2,366.3 L134.7,366.9 L133.2,367.6 L131.5,368.4 L129.7,368.5 L128.1,367.8 L126.4,367.4 L124.6,367.2 L123.0,366.3 L121.8,364.9 L120.6,363.7 L119.7,362.2 L118.8,360.8 L117.6,359.5 L117.1,357.8 L117.3,356.0 L117.2,354.4 L116.8,352.8 L117.1,351.2 L117.5,349.6 L118.0,348.1 L118.8,346.7 L119.4,345.2 L119.7,343.4 L120.6,341.9 L122.1,341.0 L123.4,339.9 L124.7,338.7 L126.3,338.0 L128.0,337.6 L129.8,337.5 L131.5,338.1 L133.1,338.3 L134.9,338.1 L136.5,338.6 L137.8,339.6 L139.3,340.4 L140.9,341.1 L142.2,342.1 L143.5,343.2 L144.5,344.6 L144.8,346.4 L145.5,347.9 L146.5,349.4 L146.8,351.1Z" fill="#3c3c3c" filter="url(#db03)"/><path d="M145.8,352.8 L145.8,354.4 L145.6,356.0 L145.1,357.6 L144.7,359.1 L143.7,360.5 L142.2,361.3 L141.0,362.3 L140.1,363.6 L138.8,364.4 L137.3,364.9 L136.0,365.6 L134.6,366.3 L133.1,366.9 L131.5,367.7 L129.8,367.8 L128.2,367.1 L126.6,366.8 L124.9,366.5 L123.4,365.6 L122.3,364.4 L121.1,363.2 L120.3,361.7 L119.4,360.4 L118.3,359.2 L117.8,357.6 L118.0,355.9 L117.9,354.3 L117.5,352.8 L117.7,351.3 L118.2,349.8 L118.6,348.3 L119.4,347.0 L120.0,345.6 L120.2,343.8 L121.1,342.4 L122.5,341.6 L123.8,340.5 L125.0,339.3 L126.6,338.7 L128.2,338.3 L129.9,338.2 L131.5,338.8 L133.1,339.0 L134.7,338.8 L136.2,339.2 L137.5,340.3 L139.0,340.9 L140.4,341.6 L141.7,342.6 L143.0,343.7 L143.9,345.0 L144.2,346.7 L144.8,348.1 L145.8,349.5 L146.1,351.2Z" fill="#0e0e0e" filter="url(#db03)"/><g filter="url(#db03)"><circle cx="144.7" cy="357.4" r="1.0" fill="#181818"/><circle cx="125.6" cy="340.1" r="1.1" fill="#111"/><circle cx="143.6" cy="359.8" r="1.9" fill="#181818"/><circle cx="137.5" cy="340.1" r="1.0" fill="#202020"/><circle cx="121.5" cy="362.7" r="1.8" fill="#181818"/><circle cx="124.5" cy="364.9" r="1.5" fill="#181818"/><circle cx="135.5" cy="339.4" r="1.3" fill="#202020"/><circle cx="138.3" cy="340.6" r="1.6" fill="#202020"/><circle cx="118.7" cy="358.5" r="1.8" fill="#202020"/><circle cx="145.2" cy="356.0" r="2.0" fill="#111"/><circle cx="130.6" cy="338.8" r="1.3" fill="#111"/><circle cx="145.1" cy="356.0" r="1.0" fill="#111"/><circle cx="145.1" cy="356.2" r="1.9" fill="#181818"/><circle cx="124.1" cy="340.9" r="1.2" fill="#181818"/></g><rect x="147.7" y="367.9" width="9" height="1.9" fill="#fff"/></g><g clip-path="url(#dc01)"><rect x="161.5" y="323" width="65.5" height="49.5" fill="#9a9a9a"/><g filter="url(#db4)"><ellipse cx="192.3" cy="367.0" rx="7.5" ry="5.3" fill="#b8b8b8"/><ellipse cx="192.0" cy="327.9" rx="5.6" ry="4.5" fill="#b8b8b8"/><ellipse cx="186.0" cy="342.1" rx="8.5" ry="4.5" fill="#b8b8b8"/><ellipse cx="178.1" cy="336.7" rx="5.6" ry="4.9" fill="#b8b8b8"/><ellipse cx="176.9" cy="346.9" rx="5.1" ry="6.8" fill="#b8b8b8"/><ellipse cx="185.7" cy="369.4" rx="7.8" ry="6.0" fill="#b8b8b8"/><ellipse cx="192.4" cy="369.8" rx="5.5" ry="6.0" fill="#b8b8b8"/><ellipse cx="180.6" cy="356.4" rx="7.9" ry="4.5" fill="#b8b8b8"/><ellipse cx="174.7" cy="324.2" rx="5.9" ry="4.2" fill="#b8b8b8"/><ellipse cx="187.8" cy="371.2" rx="6.5" ry="4.9" fill="#b8b8b8"/><ellipse cx="192.2" cy="337.0" rx="8.7" ry="6.9" fill="#8a8a8a" opacity="0.45"/><ellipse cx="172.2" cy="334.9" rx="8.4" ry="7.8" fill="#8a8a8a" opacity="0.45"/><ellipse cx="203.8" cy="344.3" rx="9.9" ry="4.0" fill="#8a8a8a" opacity="0.45"/></g><circle cx="165.5" cy="361.6" r="0.44" fill="#555"/><circle cx="163.7" cy="364.4" r="0.59" fill="#777"/><circle cx="184.4" cy="327.6" r="0.32" fill="#666"/><circle cx="167.5" cy="346.3" r="0.54" fill="#777"/><circle cx="164.8" cy="342.7" r="0.32" fill="#666"/><circle cx="216.1" cy="345.1" r="0.52" fill="#555"/><circle cx="223.7" cy="332.6" r="0.54" fill="#777"/><circle cx="187.9" cy="349.3" r="0.33" fill="#666"/><circle cx="213.3" cy="327.3" r="0.64" fill="#555"/><circle cx="200.7" cy="365.4" r="0.38" fill="#555"/><circle cx="190.4" cy="340.7" r="0.45" fill="#666"/><circle cx="195.7" cy="329.6" r="0.30" fill="#666"/><circle cx="206.6" cy="367.1" r="0.65" fill="#777"/><circle cx="169.1" cy="338.4" r="0.33" fill="#666"/><circle cx="215.2" cy="338.5" r="0.35" fill="#555"/><circle cx="192.4" cy="357.5" r="0.58" fill="#777"/><circle cx="205.1" cy="336.7" r="0.47" fill="#555"/><circle cx="164.6" cy="332.9" r="0.40" fill="#666"/><circle cx="219.5" cy="326.6" r="0.57" fill="#666"/><circle cx="210.8" cy="350.5" r="0.61" fill="#777"/><circle cx="223.1" cy="329.5" r="0.31" fill="#555"/><circle cx="215.0" cy="355.4" r="0.63" fill="#777"/><circle cx="164.6" cy="344.2" r="0.34" fill="#666"/><circle cx="198.3" cy="338.9" r="0.41" fill="#555"/><circle cx="178.7" cy="356.5" r="0.40" fill="#555"/><circle cx="197.0" cy="359.6" r="0.31" fill="#555"/><circle cx="164.8" cy="329.4" r="0.43" fill="#666"/><circle cx="223.7" cy="353.3" r="0.38" fill="#666"/><circle cx="169.7" cy="333.0" r="0.43" fill="#555"/><circle cx="199.8" cy="363.9" r="0.55" fill="#555"/><circle cx="179.1" cy="353.0" r="0.52" fill="#555"/><circle cx="190.7" cy="369.5" r="0.58" fill="#555"/><circle cx="183.3" cy="345.1" r="0.38" fill="#777"/><circle cx="189.9" cy="344.9" r="0.57" fill="#555"/><circle cx="196.4" cy="371.0" r="0.51" fill="#555"/><circle cx="169.8" cy="365.1" r="0.54" fill="#555"/><circle cx="225.6" cy="324.6" r="0.50" fill="#666"/><circle cx="207.7" cy="340.5" r="0.46" fill="#555"/><circle cx="179.6" cy="333.0" r="0.50" fill="#666"/><circle cx="211.6" cy="361.9" r="0.43" fill="#555"/><g filter="url(#db03)"><circle cx="203.3" cy="366.9" r="1.0" fill="#585858"/><circle cx="204.3" cy="368.0" r="1.1" fill="#585858"/><circle cx="205.0" cy="366.7" r="1.8" fill="#606060"/><circle cx="174.3" cy="349.1" r="0.9" fill="#6a6a6a"/><circle cx="171.2" cy="349.2" r="1.7" fill="#585858"/><circle cx="173.4" cy="350.9" r="1.2" fill="#606060"/><circle cx="201.3" cy="356.9" r="1.8" fill="#6a6a6a"/><circle cx="196.5" cy="357.0" r="1.0" fill="#606060"/><circle cx="195.3" cy="358.8" r="1.6" fill="#6a6a6a"/><circle cx="197.7" cy="358.5" r="0.9" fill="#606060"/><circle cx="193.9" cy="355.1" r="1.8" fill="#606060"/><circle cx="195.5" cy="360.6" r="1.2" fill="#6a6a6a"/><circle cx="211.8" cy="348.9" r="1.7" fill="#6a6a6a"/><circle cx="206.9" cy="349.1" r="1.4" fill="#585858"/><circle cx="210.4" cy="349.6" r="1.9" fill="#6a6a6a"/><circle cx="203.9" cy="352.3" r="1.6" fill="#606060"/><circle cx="210.5" cy="352.4" r="1.8" fill="#6a6a6a"/><circle cx="184.4" cy="324.1" r="1.1" fill="#585858"/><circle cx="187.3" cy="329.7" r="1.2" fill="#6a6a6a"/><circle cx="191.6" cy="330.2" r="1.0" fill="#606060"/><circle cx="187.0" cy="327.3" r="1.0" fill="#6a6a6a"/><circle cx="184.6" cy="326.8" r="1.4" fill="#606060"/><circle cx="184.8" cy="329.2" r="1.4" fill="#585858"/><circle cx="186.2" cy="329.6" r="1.5" fill="#606060"/></g><path d="M208.9,346.7 L208.8,348.4 L209.0,350.1 L208.7,351.8 L207.7,353.3 L206.7,354.7 L205.4,355.8 L204.1,356.8 L203.1,358.1 L201.8,359.2 L200.1,359.5 L198.6,359.8 L197.2,360.6 L195.6,360.9 L194.0,360.8 L192.4,360.7 L190.9,360.1 L189.5,359.5 L187.9,359.4 L186.3,359.0 L185.1,357.8 L183.9,356.8 L182.4,356.0 L181.2,354.7 L180.3,353.3 L179.6,351.7 L179.6,350.0 L179.7,348.3 L179.3,346.7 L179.3,345.0 L180.1,343.5 L180.6,342.0 L181.0,340.4 L181.7,339.0 L182.4,337.5 L183.4,336.1 L184.9,335.3 L186.4,334.6 L187.6,333.5 L189.1,332.8 L190.8,332.8 L192.4,332.7 L194.0,332.5 L195.6,332.5 L197.2,332.5 L198.9,332.7 L200.2,333.8 L201.4,334.8 L203.0,335.5 L204.2,336.5 L205.0,338.0 L205.8,339.3 L206.6,340.6 L207.3,342.1 L208.3,343.4 L209.0,345.0Z" fill="#3c3c3c" filter="url(#db03)"/><path d="M208.2,346.7 L208.1,348.3 L208.3,350.0 L207.9,351.6 L207.0,353.0 L206.1,354.3 L204.9,355.4 L203.6,356.3 L202.7,357.5 L201.4,358.6 L199.8,358.8 L198.4,359.2 L197.0,360.0 L195.5,360.2 L194.0,360.1 L192.5,360.0 L191.1,359.4 L189.7,358.9 L188.2,358.8 L186.7,358.4 L185.6,357.3 L184.4,356.3 L182.9,355.5 L181.8,354.4 L180.9,353.0 L180.3,351.5 L180.3,349.8 L180.4,348.2 L180.0,346.7 L180.0,345.1 L180.8,343.7 L181.3,342.3 L181.6,340.7 L182.3,339.3 L183.0,337.9 L183.9,336.6 L185.4,335.9 L186.8,335.2 L187.9,334.1 L189.4,333.5 L191.0,333.5 L192.5,333.4 L194.0,333.2 L195.5,333.2 L197.1,333.2 L198.6,333.4 L199.9,334.4 L201.1,335.4 L202.5,336.0 L203.7,337.0 L204.4,338.4 L205.2,339.7 L206.0,340.9 L206.6,342.3 L207.6,343.6 L208.3,345.1Z" fill="#0e0e0e" filter="url(#db03)"/><g filter="url(#db03)"><circle cx="185.8" cy="335.9" r="1.6" fill="#202020"/><circle cx="206.0" cy="352.9" r="1.9" fill="#111"/><circle cx="200.9" cy="335.0" r="1.9" fill="#181818"/><circle cx="199.0" cy="359.3" r="1.4" fill="#181818"/><circle cx="206.1" cy="340.7" r="1.1" fill="#202020"/><circle cx="183.9" cy="337.7" r="1.8" fill="#111"/><circle cx="207.5" cy="346.8" r="1.6" fill="#111"/><circle cx="205.3" cy="354.1" r="1.0" fill="#202020"/><circle cx="194.9" cy="333.2" r="1.5" fill="#181818"/><circle cx="192.8" cy="333.2" r="1.8" fill="#111"/><circle cx="190.9" cy="333.5" r="1.9" fill="#202020"/><circle cx="184.4" cy="337.1" r="2.0" fill="#111"/><circle cx="185.0" cy="356.8" r="1.8" fill="#111"/><circle cx="197.7" cy="359.7" r="1.2" fill="#181818"/></g><rect x="215.8" y="367.9" width="9" height="1.9" fill="#fff"/></g><g clip-path="url(#dc02)"><rect x="229.6" y="323" width="65.4" height="49.5" fill="#b2b2b2"/><g filter="url(#db4)"><ellipse cx="287.9" cy="371.9" rx="13.1" ry="6.5" fill="#c8c8c8"/><ellipse cx="291.2" cy="346.1" rx="7.0" ry="10.9" fill="#c8c8c8"/><ellipse cx="292.5" cy="329.6" rx="7.0" ry="7.3" fill="#c8c8c8"/><ellipse cx="252.0" cy="359.8" rx="10.9" ry="10.6" fill="#c8c8c8"/><ellipse cx="276.2" cy="323.8" rx="13.5" ry="11.0" fill="#c8c8c8"/><ellipse cx="278.7" cy="332.7" rx="9.7" ry="5.8" fill="#c8c8c8"/><ellipse cx="288.8" cy="354.8" rx="8.8" ry="4.4" fill="#8a8a8a" opacity="0.45"/><ellipse cx="236.8" cy="343.2" rx="9.7" ry="4.3" fill="#8a8a8a" opacity="0.45"/><ellipse cx="257.9" cy="333.9" rx="9.9" ry="5.1" fill="#8a8a8a" opacity="0.45"/></g><circle cx="276.7" cy="330.2" r="0.64" fill="#777"/><circle cx="260.8" cy="371.7" r="0.49" fill="#666"/><circle cx="285.5" cy="335.1" r="0.46" fill="#555"/><circle cx="282.6" cy="323.3" r="0.57" fill="#666"/><circle cx="282.6" cy="324.1" r="0.50" fill="#666"/><circle cx="286.4" cy="326.9" r="0.64" fill="#555"/><circle cx="293.3" cy="344.9" r="0.47" fill="#555"/><circle cx="292.1" cy="352.6" r="0.59" fill="#666"/><circle cx="262.8" cy="325.6" r="0.44" fill="#777"/><circle cx="258.0" cy="352.4" r="0.62" fill="#777"/><circle cx="270.0" cy="352.1" r="0.38" fill="#666"/><circle cx="279.9" cy="343.5" r="0.61" fill="#666"/><circle cx="289.5" cy="341.7" r="0.65" fill="#555"/><circle cx="287.9" cy="330.3" r="0.57" fill="#666"/><circle cx="284.2" cy="326.8" r="0.43" fill="#666"/><circle cx="257.2" cy="336.4" r="0.46" fill="#666"/><circle cx="229.8" cy="354.4" r="0.57" fill="#666"/><circle cx="234.6" cy="357.0" r="0.31" fill="#666"/><circle cx="287.5" cy="332.7" r="0.31" fill="#666"/><circle cx="292.4" cy="352.6" r="0.35" fill="#555"/><circle cx="234.7" cy="341.1" r="0.52" fill="#555"/><circle cx="241.7" cy="344.2" r="0.39" fill="#777"/><circle cx="254.0" cy="361.4" r="0.35" fill="#777"/><circle cx="288.2" cy="367.2" r="0.50" fill="#666"/><circle cx="236.9" cy="354.9" r="0.43" fill="#666"/><circle cx="288.9" cy="350.1" r="0.46" fill="#555"/><circle cx="292.7" cy="330.0" r="0.31" fill="#555"/><circle cx="277.4" cy="329.6" r="0.47" fill="#777"/><circle cx="233.3" cy="323.8" r="0.37" fill="#555"/><circle cx="262.6" cy="353.2" r="0.58" fill="#555"/><circle cx="282.2" cy="334.8" r="0.54" fill="#666"/><circle cx="280.4" cy="350.6" r="0.45" fill="#555"/><circle cx="272.4" cy="368.8" r="0.43" fill="#777"/><circle cx="247.6" cy="351.9" r="0.51" fill="#666"/><circle cx="294.2" cy="337.9" r="0.36" fill="#777"/><circle cx="234.7" cy="345.2" r="0.56" fill="#777"/><circle cx="270.1" cy="327.9" r="0.48" fill="#777"/><circle cx="254.0" cy="343.2" r="0.46" fill="#555"/><circle cx="261.9" cy="351.0" r="0.37" fill="#666"/><circle cx="232.4" cy="359.7" r="0.34" fill="#555"/><circle cx="254.1" cy="339.9" r="0.59" fill="#666"/><circle cx="280.9" cy="359.7" r="0.39" fill="#555"/><circle cx="270.5" cy="342.2" r="0.52" fill="#555"/><circle cx="275.5" cy="352.3" r="0.61" fill="#555"/><circle cx="268.4" cy="351.0" r="0.62" fill="#666"/><circle cx="266.3" cy="323.5" r="0.32" fill="#777"/><circle cx="261.9" cy="366.1" r="0.31" fill="#777"/><circle cx="256.5" cy="343.4" r="0.49" fill="#666"/><circle cx="269.6" cy="334.0" r="0.63" fill="#555"/><circle cx="275.8" cy="358.6" r="0.51" fill="#555"/><circle cx="234.0" cy="345.8" r="0.53" fill="#777"/><circle cx="276.7" cy="326.4" r="0.53" fill="#666"/><circle cx="237.5" cy="360.3" r="0.39" fill="#666"/><circle cx="249.2" cy="366.5" r="0.41" fill="#777"/><circle cx="288.6" cy="346.0" r="0.35" fill="#555"/><circle cx="291.3" cy="338.6" r="0.51" fill="#666"/><circle cx="235.4" cy="340.5" r="0.33" fill="#666"/><circle cx="258.2" cy="348.6" r="0.44" fill="#555"/><circle cx="238.7" cy="347.3" r="0.54" fill="#666"/><circle cx="290.8" cy="340.0" r="0.31" fill="#666"/><circle cx="247.1" cy="347.4" r="0.49" fill="#555"/><circle cx="265.9" cy="355.8" r="0.45" fill="#666"/><circle cx="284.3" cy="337.5" r="0.34" fill="#666"/><circle cx="257.4" cy="364.9" r="0.48" fill="#666"/><circle cx="270.8" cy="354.7" r="0.63" fill="#555"/><circle cx="274.7" cy="328.5" r="0.33" fill="#777"/><circle cx="248.2" cy="360.4" r="0.36" fill="#777"/><circle cx="254.7" cy="354.5" r="0.55" fill="#666"/><circle cx="236.1" cy="365.5" r="0.61" fill="#666"/><circle cx="233.8" cy="358.5" r="0.44" fill="#666"/><circle cx="233.7" cy="337.9" r="0.36" fill="#555"/><circle cx="281.3" cy="367.4" r="0.48" fill="#555"/><circle cx="259.8" cy="326.5" r="0.45" fill="#777"/><circle cx="265.0" cy="355.3" r="0.54" fill="#666"/><circle cx="290.6" cy="369.8" r="0.46" fill="#555"/><circle cx="240.7" cy="335.2" r="0.52" fill="#555"/><circle cx="235.1" cy="371.9" r="0.49" fill="#666"/><circle cx="237.1" cy="338.2" r="0.46" fill="#666"/><circle cx="232.2" cy="366.7" r="0.64" fill="#555"/><circle cx="254.6" cy="354.4" r="0.62" fill="#666"/><circle cx="287.2" cy="358.2" r="0.32" fill="#666"/><circle cx="233.1" cy="369.5" r="0.46" fill="#666"/><circle cx="265.8" cy="362.5" r="0.52" fill="#666"/><circle cx="248.2" cy="359.8" r="0.39" fill="#666"/><circle cx="256.0" cy="358.1" r="0.33" fill="#777"/><circle cx="242.9" cy="357.4" r="0.56" fill="#555"/><circle cx="258.7" cy="334.6" r="0.39" fill="#777"/><circle cx="235.5" cy="345.1" r="0.52" fill="#777"/><circle cx="240.3" cy="357.6" r="0.34" fill="#777"/><circle cx="287.5" cy="354.1" r="0.54" fill="#777"/><circle cx="276.7" cy="329.1" r="0.57" fill="#666"/><circle cx="267.4" cy="346.8" r="0.59" fill="#777"/><circle cx="289.7" cy="337.0" r="0.42" fill="#666"/><circle cx="238.3" cy="343.8" r="0.45" fill="#555"/><circle cx="248.6" cy="332.6" r="0.63" fill="#555"/><circle cx="229.7" cy="369.7" r="0.41" fill="#666"/><circle cx="272.9" cy="343.8" r="0.59" fill="#777"/><circle cx="259.7" cy="368.3" r="0.48" fill="#666"/><circle cx="276.1" cy="353.4" r="0.58" fill="#555"/><circle cx="267.3" cy="355.3" r="0.49" fill="#666"/><circle cx="280.1" cy="364.4" r="0.32" fill="#777"/><circle cx="229.7" cy="371.1" r="0.56" fill="#555"/><circle cx="293.3" cy="365.2" r="0.38" fill="#666"/><circle cx="272.2" cy="342.1" r="0.53" fill="#555"/><circle cx="271.8" cy="368.5" r="0.37" fill="#555"/><circle cx="267.6" cy="359.8" r="0.48" fill="#666"/><circle cx="267.7" cy="334.0" r="0.33" fill="#777"/><circle cx="268.6" cy="360.5" r="0.46" fill="#777"/><circle cx="277.1" cy="367.1" r="0.49" fill="#555"/><circle cx="239.2" cy="325.8" r="0.31" fill="#555"/><g filter="url(#db03)"><circle cx="238.8" cy="353.2" r="0.5" fill="#707070"/><circle cx="240.8" cy="351.4" r="1.1" fill="#707070"/><circle cx="238.0" cy="351.5" r="1.1" fill="#555"/><circle cx="243.7" cy="353.3" r="1.2" fill="#555"/><circle cx="242.9" cy="352.6" r="0.6" fill="#707070"/><circle cx="273.5" cy="356.9" r="0.6" fill="#666"/><circle cx="271.0" cy="358.0" r="0.6" fill="#666"/><circle cx="246.1" cy="345.2" r="0.7" fill="#707070"/><circle cx="244.0" cy="341.2" r="1.1" fill="#707070"/><circle cx="243.7" cy="343.4" r="0.7" fill="#666"/><circle cx="244.2" cy="341.8" r="1.0" fill="#707070"/><circle cx="241.2" cy="342.2" r="1.0" fill="#707070"/></g><path d="M273.7,348.0 L273.6,349.6 L273.6,351.3 L272.9,352.9 L271.6,354.1 L270.6,355.3 L269.7,356.5 L268.7,357.7 L267.8,359.0 L266.5,360.0 L264.9,360.3 L263.5,361.0 L262.2,362.0 L260.6,362.2 L259.0,361.9 L257.5,361.6 L256.0,361.2 L254.5,360.8 L252.9,360.7 L251.4,360.1 L250.4,358.8 L249.1,357.9 L247.6,357.1 L246.7,355.7 L246.2,354.2 L245.7,352.6 L245.7,351.0 L245.4,349.5 L244.8,348.0 L244.8,346.4 L245.4,344.9 L245.6,343.3 L245.7,341.6 L246.3,340.0 L247.3,338.7 L248.5,337.5 L250.1,336.9 L251.6,336.1 L252.8,335.1 L254.4,334.7 L256.0,335.0 L257.5,334.8 L259.0,334.4 L260.5,334.3 L262.1,334.4 L263.6,334.9 L264.8,335.9 L266.1,336.7 L267.7,337.1 L268.9,338.1 L269.6,339.5 L270.6,340.7 L271.8,341.9 L272.7,343.2 L273.6,344.7 L274.1,346.3Z" fill="#3c3c3c" filter="url(#db03)"/><path d="M273.0,348.0 L272.8,349.6 L272.9,351.2 L272.2,352.6 L271.0,353.8 L270.1,355.0 L269.1,356.1 L268.2,357.2 L267.3,358.4 L266.2,359.4 L264.6,359.7 L263.3,360.3 L262.0,361.3 L260.5,361.5 L259.0,361.2 L257.5,360.9 L256.1,360.5 L254.7,360.2 L253.2,360.1 L251.8,359.5 L250.8,358.3 L249.6,357.4 L248.2,356.6 L247.3,355.3 L246.8,353.9 L246.4,352.4 L246.3,350.9 L246.1,349.5 L245.5,348.0 L245.5,346.5 L246.1,345.1 L246.3,343.5 L246.3,341.9 L246.9,340.4 L247.9,339.1 L249.0,338.0 L250.6,337.4 L251.9,336.7 L253.1,335.8 L254.6,335.4 L256.2,335.6 L257.6,335.4 L259.0,335.0 L260.5,335.0 L261.9,335.1 L263.4,335.5 L264.5,336.5 L265.8,337.2 L267.3,337.6 L268.4,338.6 L269.1,340.0 L270.0,341.1 L271.1,342.2 L272.0,343.4 L272.9,344.8 L273.3,346.4Z" fill="#0e0e0e" filter="url(#db03)"/><g filter="url(#db03)"><circle cx="250.3" cy="357.8" r="0.9" fill="#202020"/><circle cx="247.0" cy="353.4" r="1.8" fill="#202020"/><circle cx="255.9" cy="360.8" r="0.8" fill="#111"/><circle cx="255.4" cy="335.4" r="1.9" fill="#202020"/><circle cx="272.1" cy="348.5" r="1.5" fill="#181818"/><circle cx="257.1" cy="335.0" r="1.9" fill="#181818"/><circle cx="266.7" cy="358.6" r="0.8" fill="#111"/><circle cx="256.8" cy="335.1" r="1.2" fill="#181818"/><circle cx="257.8" cy="361.1" r="1.5" fill="#181818"/><circle cx="248.8" cy="339.8" r="1.4" fill="#111"/><circle cx="248.7" cy="356.2" r="1.5" fill="#111"/><circle cx="260.7" cy="361.0" r="1.2" fill="#202020"/><circle cx="270.9" cy="353.7" r="1.4" fill="#111"/><circle cx="270.4" cy="354.6" r="1.6" fill="#181818"/></g><rect x="283.8" y="367.9" width="9" height="1.9" fill="#fff"/></g><g clip-path="url(#dc03)"><rect x="297.1" y="323" width="64.9" height="49.5" fill="#aaaaaa"/><g filter="url(#db4)"><ellipse cx="303.2" cy="359.1" rx="10.3" ry="6.9" fill="#c0c0c0"/><ellipse cx="352.7" cy="361.5" rx="9.5" ry="9.1" fill="#c0c0c0"/><ellipse cx="305.1" cy="348.7" rx="7.7" ry="8.8" fill="#c0c0c0"/><ellipse cx="356.5" cy="354.5" rx="7.3" ry="8.1" fill="#c0c0c0"/><ellipse cx="327.6" cy="344.9" rx="8.2" ry="6.7" fill="#c0c0c0"/><ellipse cx="326.3" cy="326.5" rx="12.4" ry="6.5" fill="#c0c0c0"/><ellipse cx="315.9" cy="327.5" rx="6.5" ry="7.7" fill="#8a8a8a" opacity="0.45"/><ellipse cx="316.0" cy="327.7" rx="6.7" ry="7.8" fill="#8a8a8a" opacity="0.45"/><ellipse cx="302.8" cy="340.0" rx="6.0" ry="6.7" fill="#8a8a8a" opacity="0.45"/></g><circle cx="327.1" cy="327.9" r="0.60" fill="#666"/><circle cx="299.4" cy="370.8" r="0.55" fill="#555"/><circle cx="335.7" cy="367.0" r="0.41" fill="#666"/><circle cx="350.4" cy="347.9" r="0.42" fill="#777"/><circle cx="303.2" cy="348.3" r="0.61" fill="#666"/><circle cx="339.7" cy="353.4" r="0.44" fill="#666"/><circle cx="305.1" cy="326.1" r="0.41" fill="#555"/><circle cx="317.0" cy="341.1" r="0.51" fill="#777"/><circle cx="304.1" cy="323.5" r="0.35" fill="#666"/><circle cx="299.8" cy="328.4" r="0.56" fill="#555"/><circle cx="301.5" cy="327.0" r="0.52" fill="#666"/><circle cx="325.1" cy="334.5" r="0.45" fill="#666"/><circle cx="307.6" cy="339.4" r="0.54" fill="#777"/><circle cx="333.7" cy="342.6" r="0.46" fill="#666"/><circle cx="352.1" cy="331.8" r="0.47" fill="#666"/><circle cx="352.2" cy="327.4" r="0.45" fill="#666"/><circle cx="321.1" cy="361.8" r="0.63" fill="#555"/><circle cx="322.4" cy="365.4" r="0.65" fill="#555"/><circle cx="306.5" cy="362.6" r="0.49" fill="#666"/><circle cx="315.1" cy="331.6" r="0.44" fill="#777"/><circle cx="323.2" cy="335.6" r="0.52" fill="#666"/><circle cx="356.2" cy="348.5" r="0.34" fill="#666"/><circle cx="299.4" cy="363.5" r="0.53" fill="#555"/><circle cx="342.0" cy="366.3" r="0.53" fill="#555"/><circle cx="355.6" cy="361.5" r="0.41" fill="#666"/><circle cx="319.0" cy="340.2" r="0.60" fill="#555"/><circle cx="300.0" cy="347.7" r="0.40" fill="#777"/><circle cx="310.4" cy="368.6" r="0.65" fill="#666"/><circle cx="348.2" cy="333.9" r="0.46" fill="#555"/><circle cx="342.4" cy="360.6" r="0.34" fill="#777"/><circle cx="317.3" cy="335.3" r="0.32" fill="#555"/><circle cx="347.2" cy="367.3" r="0.50" fill="#666"/><circle cx="347.9" cy="335.6" r="0.36" fill="#666"/><circle cx="317.0" cy="342.4" r="0.38" fill="#666"/><circle cx="351.5" cy="361.0" r="0.46" fill="#555"/><circle cx="352.3" cy="359.1" r="0.56" fill="#777"/><circle cx="311.3" cy="355.9" r="0.33" fill="#666"/><circle cx="299.5" cy="335.9" r="0.46" fill="#555"/><circle cx="345.2" cy="368.8" r="0.41" fill="#555"/><circle cx="359.2" cy="347.1" r="0.59" fill="#777"/><circle cx="297.2" cy="369.8" r="0.48" fill="#666"/><circle cx="317.7" cy="354.4" r="0.60" fill="#777"/><circle cx="316.3" cy="330.4" r="0.30" fill="#777"/><circle cx="310.0" cy="368.0" r="0.50" fill="#555"/><circle cx="311.9" cy="333.2" r="0.53" fill="#777"/><circle cx="311.2" cy="364.7" r="0.35" fill="#555"/><circle cx="304.8" cy="352.3" r="0.55" fill="#777"/><circle cx="335.8" cy="334.0" r="0.45" fill="#666"/><circle cx="341.9" cy="326.9" r="0.37" fill="#666"/><circle cx="349.1" cy="355.2" r="0.54" fill="#777"/><circle cx="319.6" cy="346.5" r="0.48" fill="#555"/><circle cx="316.7" cy="350.7" r="0.51" fill="#777"/><circle cx="348.2" cy="341.8" r="0.59" fill="#777"/><circle cx="336.4" cy="339.7" r="0.37" fill="#777"/><circle cx="333.5" cy="332.6" r="0.34" fill="#555"/><circle cx="356.4" cy="331.9" r="0.49" fill="#555"/><circle cx="314.6" cy="331.0" r="0.44" fill="#666"/><circle cx="302.3" cy="340.4" r="0.54" fill="#777"/><circle cx="312.9" cy="352.9" r="0.63" fill="#666"/><circle cx="325.8" cy="335.7" r="0.47" fill="#666"/><circle cx="360.6" cy="343.1" r="0.61" fill="#666"/><circle cx="358.0" cy="326.1" r="0.65" fill="#666"/><circle cx="336.9" cy="325.2" r="0.48" fill="#777"/><circle cx="313.9" cy="347.9" r="0.36" fill="#666"/><circle cx="337.1" cy="353.4" r="0.53" fill="#666"/><circle cx="343.0" cy="358.1" r="0.55" fill="#555"/><circle cx="333.8" cy="361.9" r="0.53" fill="#666"/><circle cx="346.1" cy="334.2" r="0.47" fill="#777"/><circle cx="352.3" cy="331.7" r="0.58" fill="#666"/><circle cx="358.1" cy="344.9" r="0.50" fill="#555"/><circle cx="318.1" cy="358.3" r="0.63" fill="#555"/><circle cx="305.1" cy="345.1" r="0.46" fill="#777"/><circle cx="348.3" cy="365.6" r="0.35" fill="#666"/><circle cx="342.4" cy="356.6" r="0.35" fill="#555"/><circle cx="349.2" cy="364.0" r="0.32" fill="#666"/><circle cx="325.7" cy="332.1" r="0.34" fill="#555"/><circle cx="318.8" cy="361.1" r="0.49" fill="#777"/><circle cx="330.8" cy="360.4" r="0.42" fill="#555"/><circle cx="360.1" cy="347.4" r="0.47" fill="#777"/><circle cx="355.1" cy="339.0" r="0.57" fill="#777"/><circle cx="317.8" cy="347.7" r="0.31" fill="#555"/><circle cx="332.7" cy="335.5" r="0.64" fill="#555"/><circle cx="349.8" cy="334.9" r="0.53" fill="#777"/><circle cx="329.3" cy="368.6" r="0.38" fill="#666"/><circle cx="313.9" cy="341.0" r="0.30" fill="#555"/><circle cx="348.5" cy="334.7" r="0.40" fill="#555"/><circle cx="358.2" cy="340.5" r="0.39" fill="#666"/><circle cx="303.9" cy="350.7" r="0.39" fill="#777"/><circle cx="331.1" cy="336.3" r="0.35" fill="#555"/><circle cx="303.7" cy="337.9" r="0.35" fill="#555"/><circle cx="317.7" cy="369.8" r="0.32" fill="#777"/><circle cx="324.6" cy="323.2" r="0.39" fill="#777"/><circle cx="343.6" cy="359.5" r="0.58" fill="#555"/><circle cx="317.5" cy="350.7" r="0.35" fill="#777"/><circle cx="356.0" cy="330.4" r="0.65" fill="#777"/><circle cx="353.3" cy="336.8" r="0.45" fill="#777"/><circle cx="297.6" cy="346.8" r="0.56" fill="#666"/><circle cx="303.5" cy="348.8" r="0.33" fill="#666"/><circle cx="304.2" cy="351.9" r="0.52" fill="#777"/><circle cx="337.4" cy="348.9" r="0.54" fill="#777"/><circle cx="327.8" cy="348.8" r="0.37" fill="#777"/><circle cx="299.0" cy="329.0" r="0.44" fill="#555"/><circle cx="359.4" cy="346.2" r="0.50" fill="#666"/><circle cx="355.9" cy="335.8" r="0.38" fill="#666"/><circle cx="328.4" cy="326.4" r="0.33" fill="#777"/><circle cx="332.7" cy="371.9" r="0.45" fill="#777"/><circle cx="354.8" cy="369.4" r="0.53" fill="#555"/><circle cx="312.2" cy="348.6" r="0.60" fill="#555"/><circle cx="310.7" cy="334.6" r="0.32" fill="#777"/><circle cx="324.9" cy="334.0" r="0.63" fill="#777"/><circle cx="329.0" cy="361.8" r="0.35" fill="#555"/><circle cx="353.3" cy="346.9" r="0.61" fill="#666"/><circle cx="301.8" cy="345.9" r="0.53" fill="#666"/><circle cx="351.4" cy="369.3" r="0.55" fill="#555"/><circle cx="330.6" cy="355.6" r="0.43" fill="#666"/><circle cx="341.3" cy="324.9" r="0.42" fill="#666"/><circle cx="348.1" cy="365.1" r="0.43" fill="#666"/><circle cx="321.3" cy="336.2" r="0.44" fill="#555"/><circle cx="335.8" cy="360.2" r="0.63" fill="#555"/><circle cx="319.3" cy="325.2" r="0.57" fill="#777"/><g filter="url(#db03)"><circle cx="306.3" cy="346.5" r="0.7" fill="#555"/><circle cx="305.9" cy="345.7" r="0.7" fill="#555"/><circle cx="313.8" cy="356.7" r="1.1" fill="#555"/><circle cx="314.8" cy="355.7" r="0.6" fill="#666"/><circle cx="313.9" cy="357.4" r="0.7" fill="#707070"/><circle cx="313.6" cy="358.2" r="1.0" fill="#555"/><circle cx="343.5" cy="343.5" r="0.9" fill="#707070"/><circle cx="341.0" cy="343.9" r="1.0" fill="#707070"/><circle cx="343.9" cy="344.4" r="0.7" fill="#666"/><circle cx="342.0" cy="342.1" r="1.1" fill="#707070"/></g><path d="M338.5,349.3 L338.5,350.6 L338.0,351.9 L337.6,353.1 L337.2,354.3 L336.5,355.4 L335.9,356.6 L335.2,357.7 L334.0,358.3 L332.7,358.7 L331.7,359.4 L330.5,360.0 L329.3,360.2 L328.1,360.6 L326.8,360.9 L325.5,360.8 L324.1,361.0 L322.7,361.1 L321.5,360.3 L320.5,359.3 L319.4,358.6 L318.5,357.6 L317.8,356.5 L317.1,355.4 L316.5,354.3 L316.1,353.0 L315.4,351.9 L314.6,350.7 L314.6,349.3 L314.8,348.0 L314.9,346.6 L315.4,345.3 L316.1,344.2 L316.8,343.0 L317.8,342.1 L318.9,341.4 L319.7,340.4 L320.5,339.3 L321.8,338.8 L323.0,338.4 L324.2,338.0 L325.5,337.9 L326.8,337.9 L328.1,337.9 L329.3,338.5 L330.4,339.1 L331.7,339.2 L333.0,339.4 L334.1,340.1 L335.3,340.8 L336.5,341.6 L337.3,342.7 L338.1,343.9 L338.8,345.1 L338.7,346.6 L338.4,348.0Z" fill="#3c3c3c" filter="url(#db03)"/><path d="M337.8,349.3 L337.8,350.5 L337.3,351.7 L337.0,352.9 L336.6,354.0 L335.9,355.0 L335.4,356.1 L334.7,357.2 L333.5,357.8 L332.3,358.1 L331.4,358.8 L330.3,359.3 L329.1,359.6 L328.0,359.9 L326.8,360.2 L325.6,360.1 L324.3,360.3 L322.9,360.4 L321.8,359.6 L320.9,358.7 L319.8,358.0 L319.0,357.1 L318.3,356.0 L317.6,355.1 L317.1,354.0 L316.8,352.8 L316.0,351.8 L315.3,350.6 L315.4,349.3 L315.6,348.0 L315.7,346.8 L316.1,345.6 L316.8,344.5 L317.4,343.4 L318.3,342.6 L319.4,341.9 L320.1,340.9 L320.9,339.9 L322.1,339.5 L323.2,339.1 L324.4,338.6 L325.6,338.6 L326.8,338.6 L328.0,338.6 L329.1,339.1 L330.2,339.7 L331.4,339.8 L332.6,340.0 L333.7,340.6 L334.8,341.3 L335.9,342.0 L336.7,343.1 L337.4,344.2 L338.1,345.4 L338.0,346.7 L337.7,348.1Z" fill="#0e0e0e" filter="url(#db03)"/><g filter="url(#db03)"><circle cx="317.4" cy="344.1" r="1.6" fill="#181818"/><circle cx="323.4" cy="339.1" r="1.0" fill="#181818"/><circle cx="324.1" cy="338.9" r="1.0" fill="#181818"/><circle cx="324.3" cy="359.8" r="1.5" fill="#202020"/><circle cx="316.5" cy="352.4" r="1.7" fill="#181818"/><circle cx="321.6" cy="358.7" r="2.0" fill="#202020"/><circle cx="318.2" cy="355.8" r="1.5" fill="#202020"/><circle cx="327.7" cy="360.0" r="1.7" fill="#111"/><circle cx="336.1" cy="354.7" r="0.9" fill="#181818"/><circle cx="337.5" cy="347.8" r="1.5" fill="#181818"/><circle cx="337.5" cy="348.4" r="1.4" fill="#181818"/><circle cx="337.3" cy="351.8" r="1.5" fill="#181818"/><circle cx="327.5" cy="338.5" r="1.5" fill="#111"/><circle cx="333.0" cy="340.5" r="2.0" fill="#202020"/></g><rect x="350.8" y="367.9" width="9" height="1.9" fill="#fff"/></g><g clip-path="url(#dc10)"><rect x="92" y="374" width="66.9" height="49.5" fill="#bcbcbc"/><g filter="url(#db4)"><ellipse cx="134.1" cy="383.7" rx="14.6" ry="9.3" fill="#dadada"/><ellipse cx="125.2" cy="418.8" rx="7.5" ry="6.7" fill="#dadada"/><ellipse cx="133.9" cy="403.4" rx="8.9" ry="5.3" fill="#dadada"/><ellipse cx="99.3" cy="396.2" rx="7.6" ry="10.5" fill="#dadada"/><ellipse cx="121.5" cy="377.7" rx="13.0" ry="5.6" fill="#dadada"/><ellipse cx="126.7" cy="384.4" rx="11.8" ry="9.0" fill="#dadada"/><ellipse cx="130.9" cy="418.2" rx="7.5" ry="6.0" fill="#8a8a8a" opacity="0.45"/><ellipse cx="99.3" cy="380.9" rx="7.4" ry="5.5" fill="#8a8a8a" opacity="0.45"/><ellipse cx="135.5" cy="415.8" rx="5.1" ry="4.6" fill="#8a8a8a" opacity="0.45"/></g><circle cx="149.7" cy="405.2" r="0.35" fill="#555"/><circle cx="117.9" cy="375.8" r="0.36" fill="#666"/><circle cx="131.5" cy="396.7" r="0.47" fill="#666"/><circle cx="146.6" cy="390.2" r="0.42" fill="#777"/><circle cx="156.4" cy="379.9" r="0.55" fill="#777"/><circle cx="141.5" cy="408.2" r="0.31" fill="#777"/><circle cx="146.0" cy="400.4" r="0.63" fill="#666"/><circle cx="113.9" cy="418.4" r="0.44" fill="#555"/><circle cx="114.7" cy="393.3" r="0.34" fill="#777"/><circle cx="96.8" cy="407.3" r="0.48" fill="#555"/><circle cx="104.8" cy="421.0" r="0.47" fill="#666"/><circle cx="117.6" cy="403.6" r="0.37" fill="#555"/><circle cx="97.6" cy="406.8" r="0.64" fill="#666"/><circle cx="109.8" cy="410.2" r="0.62" fill="#777"/><circle cx="117.9" cy="417.3" r="0.41" fill="#555"/><circle cx="131.5" cy="381.4" r="0.37" fill="#777"/><circle cx="105.1" cy="415.7" r="0.54" fill="#666"/><circle cx="125.2" cy="398.4" r="0.46" fill="#555"/><circle cx="137.2" cy="389.7" r="0.50" fill="#777"/><circle cx="94.8" cy="417.8" r="0.32" fill="#555"/><circle cx="129.7" cy="414.7" r="0.33" fill="#555"/><circle cx="123.7" cy="418.4" r="0.60" fill="#777"/><circle cx="151.8" cy="404.1" r="0.60" fill="#777"/><circle cx="107.8" cy="391.4" r="0.31" fill="#555"/><circle cx="139.5" cy="397.3" r="0.39" fill="#666"/><circle cx="156.8" cy="402.0" r="0.51" fill="#555"/><circle cx="158.0" cy="422.4" r="0.36" fill="#555"/><circle cx="100.3" cy="403.3" r="0.52" fill="#555"/><circle cx="137.8" cy="387.5" r="0.51" fill="#555"/><circle cx="93.0" cy="375.0" r="0.56" fill="#555"/><circle cx="101.6" cy="419.4" r="0.39" fill="#666"/><circle cx="127.9" cy="408.2" r="0.39" fill="#555"/><circle cx="116.2" cy="415.4" r="0.64" fill="#777"/><circle cx="116.9" cy="411.8" r="0.55" fill="#666"/><circle cx="108.7" cy="390.6" r="0.36" fill="#777"/><circle cx="155.4" cy="401.2" r="0.65" fill="#555"/><circle cx="157.1" cy="419.0" r="0.64" fill="#555"/><circle cx="127.0" cy="386.6" r="0.57" fill="#666"/><circle cx="95.7" cy="395.8" r="0.60" fill="#555"/><circle cx="136.1" cy="416.9" r="0.57" fill="#555"/><circle cx="123.0" cy="400.8" r="0.39" fill="#777"/><circle cx="116.6" cy="417.7" r="0.55" fill="#666"/><circle cx="155.2" cy="376.2" r="0.42" fill="#555"/><circle cx="116.8" cy="402.8" r="0.30" fill="#666"/><circle cx="141.1" cy="402.6" r="0.41" fill="#777"/><circle cx="137.9" cy="403.8" r="0.65" fill="#666"/><circle cx="139.2" cy="393.2" r="0.57" fill="#555"/><circle cx="132.0" cy="389.2" r="0.53" fill="#666"/><circle cx="147.2" cy="384.5" r="0.45" fill="#666"/><circle cx="155.6" cy="376.2" r="0.33" fill="#666"/><circle cx="120.7" cy="392.3" r="0.65" fill="#555"/><circle cx="98.7" cy="386.4" r="0.34" fill="#555"/><circle cx="157.0" cy="377.9" r="0.33" fill="#666"/><circle cx="133.5" cy="380.5" r="0.59" fill="#777"/><circle cx="132.5" cy="386.9" r="0.50" fill="#666"/><circle cx="134.3" cy="379.8" r="0.40" fill="#666"/><circle cx="121.2" cy="413.6" r="0.52" fill="#555"/><circle cx="100.6" cy="422.2" r="0.43" fill="#555"/><circle cx="125.7" cy="387.2" r="0.36" fill="#666"/><circle cx="120.1" cy="419.8" r="0.51" fill="#666"/><g filter="url(#db03)"><circle cx="98.3" cy="388.9" r="0.9" fill="#707070"/><circle cx="98.9" cy="389.6" r="0.8" fill="#707070"/><circle cx="98.2" cy="389.8" r="0.5" fill="#707070"/><circle cx="96.3" cy="390.5" r="0.8" fill="#555"/><circle cx="96.5" cy="389.7" r="0.7" fill="#707070"/><circle cx="144.3" cy="406.1" r="1.1" fill="#666"/><circle cx="146.7" cy="404.8" r="1.1" fill="#666"/><circle cx="130.4" cy="428.2" r="0.8" fill="#707070"/><circle cx="129.6" cy="429.1" r="0.6" fill="#707070"/><circle cx="131.5" cy="429.0" r="1.0" fill="#666"/><circle cx="94.4" cy="386.3" r="0.9" fill="#707070"/><circle cx="90.2" cy="387.3" r="0.5" fill="#707070"/><circle cx="89.9" cy="389.2" r="0.6" fill="#555"/><circle cx="124.6" cy="391.2" r="1.2" fill="#707070"/><circle cx="123.3" cy="390.2" r="1.0" fill="#666"/><circle cx="121.8" cy="390.5" r="0.6" fill="#666"/><circle cx="155.6" cy="381.7" r="1.1" fill="#555"/><circle cx="154.8" cy="383.2" r="1.0" fill="#707070"/></g><path d="M144.0,404.3 L144.1,405.9 L144.3,407.5 L143.8,409.0 L142.6,410.3 L141.8,411.6 L141.3,413.1 L140.2,414.3 L138.9,415.2 L137.6,416.1 L136.2,416.8 L134.8,417.5 L133.4,418.5 L131.8,418.7 L130.2,418.1 L128.7,417.9 L127.1,418.0 L125.6,417.5 L124.2,416.8 L122.8,416.0 L121.7,415.0 L120.3,414.2 L118.7,413.5 L117.6,412.2 L117.2,410.6 L116.5,409.1 L115.8,407.6 L115.6,405.9 L115.7,404.3 L116.1,402.7 L116.9,401.3 L117.4,399.8 L117.5,398.2 L118.3,396.8 L119.6,395.9 L120.7,394.8 L121.7,393.6 L122.9,392.7 L124.2,391.8 L125.6,391.3 L127.2,391.3 L128.7,390.9 L130.2,390.0 L131.8,389.9 L133.4,390.4 L135.0,390.6 L136.6,391.1 L138.1,391.8 L139.6,392.6 L140.6,393.9 L141.1,395.6 L141.9,397.0 L143.0,398.1 L143.5,399.6 L143.6,401.2 L143.8,402.8Z" fill="#3c3c3c" filter="url(#db03)"/><path d="M143.3,404.3 L143.4,405.8 L143.6,407.3 L143.1,408.8 L141.9,410.0 L141.2,411.2 L140.7,412.7 L139.7,413.8 L138.5,414.7 L137.2,415.5 L135.9,416.1 L134.6,416.9 L133.3,417.8 L131.7,418.0 L130.2,417.4 L128.7,417.2 L127.2,417.3 L125.8,416.9 L124.5,416.2 L123.2,415.4 L122.1,414.5 L120.8,413.7 L119.2,413.1 L118.2,411.8 L117.8,410.3 L117.2,408.8 L116.5,407.4 L116.3,405.9 L116.4,404.3 L116.8,402.8 L117.6,401.4 L118.0,400.0 L118.1,398.5 L118.9,397.2 L120.2,396.3 L121.1,395.2 L122.1,394.1 L123.2,393.2 L124.5,392.4 L125.9,391.9 L127.4,391.9 L128.8,391.5 L130.2,390.7 L131.7,390.6 L133.2,391.0 L134.7,391.3 L136.3,391.7 L137.7,392.4 L139.1,393.1 L140.1,394.4 L140.6,396.0 L141.3,397.3 L142.4,398.4 L142.9,399.9 L142.9,401.4 L143.2,402.8Z" fill="#0e0e0e" filter="url(#db03)"/><g filter="url(#db03)"><circle cx="133.1" cy="391.5" r="0.8" fill="#181818"/><circle cx="122.8" cy="415.2" r="1.9" fill="#202020"/><circle cx="142.1" cy="409.9" r="1.6" fill="#181818"/><circle cx="132.3" cy="417.3" r="0.9" fill="#202020"/><circle cx="138.5" cy="394.2" r="1.6" fill="#181818"/><circle cx="130.3" cy="417.4" r="1.8" fill="#181818"/><circle cx="133.1" cy="417.1" r="1.2" fill="#181818"/><circle cx="118.6" cy="398.2" r="1.1" fill="#111"/><circle cx="117.1" cy="405.0" r="1.6" fill="#181818"/><circle cx="121.8" cy="394.2" r="1.3" fill="#181818"/><circle cx="138.5" cy="414.5" r="1.1" fill="#202020"/><circle cx="125.9" cy="391.9" r="1.1" fill="#202020"/><circle cx="143.2" cy="402.5" r="1.5" fill="#111"/><circle cx="124.0" cy="392.7" r="1.3" fill="#202020"/></g><rect x="147.7" y="418.9" width="9" height="1.9" fill="#fff"/></g><g clip-path="url(#dc11)"><rect x="161.5" y="374" width="65.5" height="49.5" fill="#a0a0a0"/><g filter="url(#db4)"><ellipse cx="186.9" cy="414.8" rx="6.2" ry="4.5" fill="#c4c4c4"/><ellipse cx="183.1" cy="380.2" rx="8.5" ry="7.0" fill="#c4c4c4"/><ellipse cx="188.8" cy="385.9" rx="8.5" ry="6.6" fill="#c4c4c4"/><ellipse cx="177.5" cy="389.1" rx="7.0" ry="4.4" fill="#c4c4c4"/><ellipse cx="175.3" cy="393.7" rx="5.5" ry="4.4" fill="#c4c4c4"/><ellipse cx="201.1" cy="388.9" rx="8.7" ry="6.9" fill="#c4c4c4"/><ellipse cx="205.4" cy="387.6" rx="8.0" ry="5.0" fill="#c4c4c4"/><ellipse cx="218.5" cy="395.0" rx="7.8" ry="6.3" fill="#c4c4c4"/><ellipse cx="207.5" cy="411.3" rx="6.4" ry="4.5" fill="#c4c4c4"/><ellipse cx="185.6" cy="421.5" rx="5.1" ry="4.8" fill="#c4c4c4"/><ellipse cx="181.8" cy="395.8" rx="9.4" ry="4.7" fill="#8a8a8a" opacity="0.45"/><ellipse cx="168.3" cy="374.9" rx="6.7" ry="6.9" fill="#8a8a8a" opacity="0.45"/><ellipse cx="191.2" cy="406.0" rx="7.6" ry="5.4" fill="#8a8a8a" opacity="0.45"/></g><circle cx="188.2" cy="376.0" r="0.63" fill="#777"/><circle cx="219.0" cy="382.2" r="0.43" fill="#777"/><circle cx="184.3" cy="375.0" r="0.37" fill="#777"/><circle cx="215.4" cy="384.0" r="0.35" fill="#777"/><circle cx="211.4" cy="401.5" r="0.60" fill="#777"/><circle cx="223.0" cy="377.1" r="0.60" fill="#555"/><circle cx="170.0" cy="420.7" r="0.61" fill="#666"/><circle cx="177.6" cy="383.8" r="0.45" fill="#555"/><circle cx="177.3" cy="405.8" r="0.51" fill="#777"/><circle cx="193.7" cy="398.7" r="0.63" fill="#555"/><circle cx="175.9" cy="419.8" r="0.63" fill="#555"/><circle cx="226.7" cy="412.2" r="0.51" fill="#666"/><circle cx="196.4" cy="384.8" r="0.41" fill="#666"/><circle cx="196.0" cy="375.6" r="0.52" fill="#777"/><circle cx="202.5" cy="398.4" r="0.46" fill="#777"/><circle cx="179.1" cy="387.3" r="0.41" fill="#777"/><circle cx="219.6" cy="412.7" r="0.55" fill="#777"/><circle cx="176.8" cy="383.3" r="0.61" fill="#555"/><circle cx="171.8" cy="411.2" r="0.37" fill="#666"/><circle cx="216.1" cy="394.0" r="0.31" fill="#555"/><circle cx="169.5" cy="382.1" r="0.52" fill="#777"/><circle cx="200.8" cy="382.1" r="0.53" fill="#777"/><circle cx="212.8" cy="401.9" r="0.50" fill="#555"/><circle cx="191.6" cy="386.3" r="0.55" fill="#555"/><circle cx="170.8" cy="403.7" r="0.54" fill="#555"/><circle cx="206.7" cy="417.0" r="0.52" fill="#666"/><circle cx="175.3" cy="395.5" r="0.57" fill="#666"/><circle cx="171.4" cy="414.5" r="0.52" fill="#666"/><circle cx="162.1" cy="387.8" r="0.55" fill="#666"/><circle cx="198.1" cy="403.0" r="0.32" fill="#777"/><circle cx="211.4" cy="388.5" r="0.55" fill="#555"/><circle cx="171.1" cy="421.3" r="0.64" fill="#666"/><circle cx="175.6" cy="376.2" r="0.37" fill="#777"/><circle cx="173.0" cy="390.4" r="0.34" fill="#555"/><circle cx="166.8" cy="408.2" r="0.43" fill="#666"/><g filter="url(#db03)"><circle cx="207.5" cy="415.7" r="1.5" fill="#585858"/><circle cx="208.2" cy="416.2" r="1.7" fill="#585858"/><circle cx="211.0" cy="413.1" r="1.5" fill="#606060"/><circle cx="210.4" cy="414.6" r="1.8" fill="#606060"/><circle cx="210.5" cy="415.2" r="1.1" fill="#585858"/><circle cx="207.5" cy="413.7" r="1.4" fill="#6a6a6a"/><circle cx="204.7" cy="410.9" r="1.6" fill="#6a6a6a"/><circle cx="190.0" cy="420.1" r="1.1" fill="#6a6a6a"/><circle cx="188.3" cy="421.5" r="1.9" fill="#6a6a6a"/><circle cx="183.2" cy="421.5" r="1.5" fill="#6a6a6a"/><circle cx="190.1" cy="420.8" r="1.6" fill="#6a6a6a"/><circle cx="185.3" cy="419.6" r="1.6" fill="#606060"/><circle cx="216.9" cy="409.2" r="1.2" fill="#6a6a6a"/><circle cx="217.8" cy="406.0" r="1.7" fill="#6a6a6a"/><circle cx="218.8" cy="408.7" r="1.1" fill="#585858"/><circle cx="214.5" cy="409.8" r="1.2" fill="#6a6a6a"/><circle cx="220.5" cy="411.6" r="1.1" fill="#585858"/><circle cx="215.3" cy="410.6" r="1.7" fill="#6a6a6a"/></g><path d="M208.9,399.4 L208.4,401.0 L208.0,402.6 L207.4,404.1 L207.1,405.7 L206.5,407.3 L205.5,408.5 L204.6,410.0 L203.8,411.7 L202.4,412.8 L200.7,413.4 L199.1,414.1 L197.5,414.6 L195.7,414.9 L194.0,415.4 L192.2,415.5 L190.5,414.8 L188.7,414.5 L186.8,414.3 L185.3,413.3 L184.1,411.8 L183.0,410.4 L182.1,408.9 L181.4,407.3 L180.5,405.9 L179.8,404.4 L179.7,402.7 L179.1,401.1 L178.3,399.4 L178.1,397.6 L178.5,395.9 L178.9,394.1 L179.9,392.6 L181.0,391.2 L181.8,389.7 L183.2,388.6 L184.9,388.0 L186.2,387.0 L187.4,385.8 L189.0,385.0 L190.6,384.4 L192.3,383.9 L194.0,384.0 L195.7,384.1 L197.5,384.0 L199.2,384.5 L200.6,385.6 L202.2,386.3 L203.9,386.9 L205.4,388.0 L206.9,389.1 L208.1,390.5 L208.7,392.3 L209.2,394.1 L209.9,395.8 L209.7,397.6Z" fill="#3c3c3c" filter="url(#db03)"/><path d="M208.2,399.4 L207.7,400.9 L207.4,402.5 L206.8,403.9 L206.5,405.4 L206.0,406.9 L204.9,408.1 L204.1,409.5 L203.4,411.2 L202.1,412.2 L200.4,412.8 L198.9,413.4 L197.3,414.0 L195.7,414.2 L194.0,414.7 L192.3,414.8 L190.6,414.1 L189.0,413.8 L187.1,413.6 L185.7,412.7 L184.6,411.2 L183.5,409.9 L182.7,408.4 L182.0,406.9 L181.1,405.6 L180.4,404.1 L180.4,402.5 L179.8,401.0 L179.0,399.4 L178.8,397.7 L179.2,396.0 L179.6,394.4 L180.5,392.9 L181.6,391.6 L182.4,390.1 L183.7,389.1 L185.3,388.5 L186.6,387.6 L187.7,386.4 L189.2,385.6 L190.7,385.1 L192.3,384.6 L194.0,384.7 L195.6,384.8 L197.4,384.7 L199.0,385.2 L200.3,386.3 L201.8,386.9 L203.5,387.5 L204.9,388.5 L206.3,389.6 L207.5,390.9 L208.0,392.6 L208.5,394.3 L209.2,395.9 L209.0,397.7Z" fill="#0e0e0e" filter="url(#db03)"/><g filter="url(#db03)"><circle cx="208.0" cy="403.2" r="1.4" fill="#111"/><circle cx="198.9" cy="413.1" r="1.9" fill="#111"/><circle cx="193.7" cy="384.9" r="1.8" fill="#202020"/><circle cx="184.0" cy="409.9" r="1.7" fill="#202020"/><circle cx="199.8" cy="386.1" r="1.8" fill="#111"/><circle cx="203.9" cy="388.8" r="1.4" fill="#202020"/><circle cx="206.6" cy="392.3" r="1.4" fill="#202020"/><circle cx="179.7" cy="401.8" r="1.7" fill="#202020"/><circle cx="197.7" cy="385.4" r="1.7" fill="#202020"/><circle cx="195.1" cy="413.9" r="1.8" fill="#111"/><circle cx="208.2" cy="402.5" r="0.8" fill="#181818"/><circle cx="195.7" cy="385.0" r="1.3" fill="#111"/><circle cx="186.1" cy="411.6" r="1.1" fill="#111"/><circle cx="181.4" cy="392.3" r="1.9" fill="#111"/></g><rect x="215.8" y="418.9" width="9" height="1.9" fill="#fff"/></g><g clip-path="url(#dc12)"><rect x="229.6" y="374" width="65.4" height="49.5" fill="#b4b4b4"/><g filter="url(#db4)"><ellipse cx="245.1" cy="423.3" rx="11.4" ry="10.6" fill="#cacaca"/><ellipse cx="292.9" cy="396.7" rx="13.1" ry="6.3" fill="#cacaca"/><ellipse cx="291.5" cy="409.5" rx="7.5" ry="9.0" fill="#cacaca"/><ellipse cx="274.2" cy="404.5" rx="7.5" ry="7.3" fill="#cacaca"/><ellipse cx="234.9" cy="398.7" rx="11.9" ry="7.6" fill="#cacaca"/><ellipse cx="263.5" cy="389.6" rx="12.9" ry="9.1" fill="#cacaca"/><ellipse cx="266.7" cy="410.1" rx="8.9" ry="4.3" fill="#8a8a8a" opacity="0.45"/><ellipse cx="236.8" cy="401.0" rx="8.0" ry="4.5" fill="#8a8a8a" opacity="0.45"/><ellipse cx="267.3" cy="404.7" rx="8.1" ry="4.3" fill="#8a8a8a" opacity="0.45"/></g><circle cx="280.2" cy="418.0" r="0.64" fill="#777"/><circle cx="249.6" cy="387.1" r="0.39" fill="#555"/><circle cx="286.2" cy="420.6" r="0.55" fill="#666"/><circle cx="264.3" cy="422.8" r="0.34" fill="#555"/><circle cx="265.8" cy="388.1" r="0.57" fill="#666"/><circle cx="249.6" cy="418.3" r="0.63" fill="#777"/><circle cx="260.4" cy="420.3" r="0.36" fill="#666"/><circle cx="266.6" cy="387.9" r="0.44" fill="#555"/><circle cx="265.1" cy="418.6" r="0.36" fill="#555"/><circle cx="260.1" cy="382.3" r="0.55" fill="#666"/><circle cx="286.3" cy="418.1" r="0.33" fill="#666"/><circle cx="234.7" cy="405.8" r="0.56" fill="#555"/><circle cx="252.8" cy="391.8" r="0.58" fill="#777"/><circle cx="256.2" cy="380.4" r="0.40" fill="#777"/><circle cx="244.4" cy="379.0" r="0.50" fill="#666"/><circle cx="241.0" cy="412.2" r="0.63" fill="#555"/><circle cx="233.3" cy="378.0" r="0.62" fill="#666"/><circle cx="238.3" cy="378.1" r="0.64" fill="#555"/><circle cx="277.7" cy="396.1" r="0.59" fill="#555"/><circle cx="231.6" cy="396.9" r="0.57" fill="#555"/><circle cx="277.1" cy="401.5" r="0.51" fill="#777"/><circle cx="288.7" cy="417.3" r="0.49" fill="#555"/><circle cx="292.5" cy="416.5" r="0.52" fill="#555"/><circle cx="249.2" cy="418.2" r="0.40" fill="#777"/><circle cx="243.1" cy="408.3" r="0.36" fill="#666"/><circle cx="246.6" cy="413.4" r="0.43" fill="#666"/><circle cx="275.4" cy="390.8" r="0.52" fill="#555"/><circle cx="240.6" cy="376.0" r="0.61" fill="#777"/><circle cx="242.1" cy="388.4" r="0.32" fill="#666"/><circle cx="241.5" cy="403.6" r="0.50" fill="#666"/><circle cx="288.0" cy="389.4" r="0.38" fill="#666"/><circle cx="292.1" cy="417.4" r="0.32" fill="#666"/><circle cx="265.3" cy="390.6" r="0.48" fill="#555"/><circle cx="291.7" cy="394.2" r="0.60" fill="#777"/><circle cx="283.9" cy="406.0" r="0.58" fill="#666"/><circle cx="262.5" cy="408.7" r="0.54" fill="#777"/><circle cx="263.1" cy="382.7" r="0.64" fill="#777"/><circle cx="247.8" cy="423.1" r="0.46" fill="#777"/><circle cx="252.9" cy="397.2" r="0.55" fill="#777"/><circle cx="264.7" cy="394.9" r="0.39" fill="#555"/><circle cx="242.7" cy="380.2" r="0.36" fill="#777"/><circle cx="246.8" cy="376.5" r="0.30" fill="#777"/><circle cx="266.7" cy="413.7" r="0.42" fill="#666"/><circle cx="241.7" cy="408.8" r="0.41" fill="#555"/><circle cx="266.7" cy="376.6" r="0.50" fill="#555"/><circle cx="257.0" cy="418.5" r="0.31" fill="#666"/><circle cx="274.1" cy="414.1" r="0.46" fill="#777"/><circle cx="238.8" cy="398.4" r="0.35" fill="#555"/><circle cx="286.9" cy="385.3" r="0.49" fill="#777"/><circle cx="260.6" cy="415.5" r="0.32" fill="#555"/><circle cx="280.6" cy="394.4" r="0.35" fill="#777"/><circle cx="239.2" cy="379.0" r="0.31" fill="#666"/><circle cx="274.2" cy="401.9" r="0.55" fill="#666"/><circle cx="246.2" cy="409.4" r="0.37" fill="#555"/><circle cx="246.7" cy="423.4" r="0.36" fill="#777"/><circle cx="259.5" cy="386.4" r="0.32" fill="#777"/><circle cx="251.7" cy="404.7" r="0.61" fill="#777"/><circle cx="273.4" cy="378.0" r="0.47" fill="#555"/><circle cx="266.2" cy="376.1" r="0.62" fill="#777"/><circle cx="267.3" cy="397.5" r="0.44" fill="#777"/><circle cx="286.2" cy="401.6" r="0.57" fill="#666"/><circle cx="255.8" cy="409.8" r="0.36" fill="#666"/><circle cx="244.6" cy="397.1" r="0.57" fill="#666"/><circle cx="250.0" cy="410.5" r="0.32" fill="#555"/><circle cx="260.3" cy="410.8" r="0.34" fill="#777"/><circle cx="280.8" cy="416.6" r="0.64" fill="#666"/><circle cx="254.6" cy="412.1" r="0.57" fill="#555"/><circle cx="234.8" cy="388.9" r="0.56" fill="#555"/><circle cx="235.2" cy="417.0" r="0.59" fill="#666"/><circle cx="283.7" cy="417.7" r="0.50" fill="#555"/><g filter="url(#db03)"><circle cx="254.7" cy="375.0" r="1.2" fill="#666"/><circle cx="256.8" cy="374.0" r="1.1" fill="#666"/><circle cx="255.4" cy="375.2" r="0.9" fill="#555"/><circle cx="256.1" cy="375.1" r="1.0" fill="#707070"/><circle cx="259.8" cy="375.1" r="1.0" fill="#707070"/><circle cx="255.6" cy="376.1" r="1.0" fill="#666"/><circle cx="281.3" cy="413.6" r="1.0" fill="#666"/><circle cx="283.8" cy="416.5" r="0.9" fill="#666"/><circle cx="281.8" cy="414.8" r="0.5" fill="#555"/><circle cx="280.2" cy="416.4" r="0.9" fill="#666"/><circle cx="277.3" cy="378.4" r="1.2" fill="#707070"/><circle cx="278.2" cy="375.1" r="1.1" fill="#707070"/><circle cx="277.3" cy="376.8" r="1.0" fill="#666"/><circle cx="277.5" cy="375.2" r="1.1" fill="#707070"/><circle cx="276.4" cy="376.8" r="1.0" fill="#555"/><circle cx="276.7" cy="376.7" r="0.8" fill="#707070"/><circle cx="279.6" cy="399.4" r="0.6" fill="#555"/><circle cx="277.8" cy="398.9" r="1.0" fill="#555"/><circle cx="281.8" cy="399.3" r="0.9" fill="#555"/><circle cx="281.6" cy="400.3" r="0.8" fill="#707070"/><circle cx="252.9" cy="385.2" r="1.0" fill="#555"/><circle cx="252.0" cy="384.0" r="1.1" fill="#555"/><circle cx="252.3" cy="383.3" r="1.1" fill="#555"/><circle cx="253.1" cy="381.4" r="1.1" fill="#555"/><circle cx="252.6" cy="383.4" r="1.1" fill="#707070"/><circle cx="252.4" cy="382.3" r="1.0" fill="#555"/><circle cx="286.2" cy="386.8" r="0.8" fill="#666"/><circle cx="280.8" cy="385.0" r="0.8" fill="#666"/><circle cx="285.7" cy="386.2" r="0.9" fill="#555"/><circle cx="283.1" cy="386.2" r="0.8" fill="#707070"/><circle cx="283.4" cy="386.3" r="0.7" fill="#666"/><circle cx="289.8" cy="398.9" r="0.9" fill="#555"/><circle cx="289.8" cy="400.6" r="0.7" fill="#666"/><circle cx="290.0" cy="398.2" r="1.0" fill="#555"/><circle cx="291.1" cy="397.6" r="0.6" fill="#707070"/><circle cx="271.4" cy="378.1" r="1.0" fill="#666"/><circle cx="273.3" cy="377.9" r="1.0" fill="#666"/></g><path d="M271.8,397.4 L271.8,398.8 L272.1,400.4 L271.6,401.8 L270.5,402.9 L269.6,404.1 L268.8,405.2 L267.9,406.3 L267.0,407.4 L265.9,408.3 L264.5,408.8 L263.3,409.6 L262.0,410.7 L260.5,411.1 L259.0,410.9 L257.5,410.7 L256.1,410.3 L254.7,409.7 L253.3,409.3 L252.0,408.5 L251.2,407.2 L250.2,406.2 L248.9,405.5 L248.0,404.3 L247.6,402.9 L247.2,401.5 L247.0,400.1 L246.9,398.8 L246.6,397.4 L246.6,396.0 L247.3,394.7 L247.5,393.4 L247.3,391.8 L247.7,390.3 L248.5,389.0 L249.3,387.7 L250.6,386.8 L251.8,386.0 L253.0,385.0 L254.5,384.6 L256.1,384.9 L257.6,384.8 L259.0,384.5 L260.4,384.6 L261.9,384.8 L263.3,385.2 L264.5,386.0 L265.7,386.7 L267.1,387.2 L268.2,388.2 L268.7,389.7 L269.4,390.9 L270.3,392.0 L270.9,393.2 L271.5,394.5 L271.9,395.9Z" fill="#3c3c3c" filter="url(#db03)"/><path d="M271.1,397.4 L271.1,398.8 L271.4,400.2 L270.9,401.6 L269.9,402.6 L269.0,403.7 L268.3,404.8 L267.4,405.8 L266.5,406.8 L265.5,407.7 L264.2,408.2 L263.0,408.9 L261.9,410.0 L260.5,410.4 L259.0,410.1 L257.6,410.0 L256.2,409.6 L254.9,409.1 L253.6,408.6 L252.4,407.9 L251.6,406.6 L250.7,405.7 L249.4,405.0 L248.6,403.9 L248.2,402.6 L247.8,401.3 L247.7,400.0 L247.6,398.7 L247.2,397.4 L247.3,396.1 L247.9,394.9 L248.1,393.6 L247.9,392.1 L248.3,390.7 L249.0,389.4 L249.9,388.3 L251.0,387.4 L252.2,386.6 L253.3,385.6 L254.8,385.3 L256.3,385.6 L257.7,385.5 L259.0,385.2 L260.4,385.3 L261.7,385.5 L263.0,385.8 L264.2,386.6 L265.4,387.3 L266.7,387.7 L267.7,388.7 L268.1,390.1 L268.8,391.2 L269.6,392.3 L270.3,393.5 L270.8,394.7 L271.2,396.0Z" fill="#0e0e0e" filter="url(#db03)"/><g filter="url(#db03)"><circle cx="256.2" cy="385.8" r="1.2" fill="#111"/><circle cx="270.9" cy="396.0" r="1.9" fill="#111"/><circle cx="268.4" cy="404.8" r="0.9" fill="#202020"/><circle cx="259.1" cy="385.4" r="0.9" fill="#181818"/><circle cx="250.1" cy="389.4" r="1.6" fill="#181818"/><circle cx="267.1" cy="388.6" r="1.7" fill="#202020"/><circle cx="267.4" cy="388.9" r="1.6" fill="#111"/><circle cx="270.3" cy="393.5" r="0.9" fill="#111"/><circle cx="248.7" cy="403.5" r="1.3" fill="#111"/><circle cx="250.0" cy="405.2" r="1.7" fill="#202020"/><circle cx="264.9" cy="387.0" r="1.1" fill="#202020"/><circle cx="247.0" cy="397.0" r="1.7" fill="#111"/><circle cx="269.2" cy="403.6" r="1.0" fill="#111"/><circle cx="270.2" cy="401.7" r="1.9" fill="#111"/></g><rect x="283.8" y="418.9" width="9" height="1.9" fill="#fff"/></g><g clip-path="url(#dc13)"><rect x="297.1" y="374" width="64.9" height="49.5" fill="#aeaeae"/><g filter="url(#db4)"><ellipse cx="322.0" cy="404.0" rx="10.5" ry="8.2" fill="#c4c4c4"/><ellipse cx="314.4" cy="391.0" rx="14.7" ry="10.3" fill="#c4c4c4"/><ellipse cx="305.0" cy="379.9" rx="13.9" ry="7.7" fill="#c4c4c4"/><ellipse cx="338.6" cy="403.9" rx="11.8" ry="10.4" fill="#c4c4c4"/><ellipse cx="307.1" cy="416.6" rx="9.1" ry="5.5" fill="#c4c4c4"/><ellipse cx="316.4" cy="399.5" rx="13.4" ry="8.5" fill="#c4c4c4"/><ellipse cx="360.1" cy="383.4" rx="6.9" ry="6.3" fill="#8a8a8a" opacity="0.45"/><ellipse cx="335.4" cy="408.5" rx="7.5" ry="4.4" fill="#8a8a8a" opacity="0.45"/><ellipse cx="347.8" cy="413.3" rx="5.4" ry="7.3" fill="#8a8a8a" opacity="0.45"/></g><circle cx="297.5" cy="407.9" r="0.52" fill="#666"/><circle cx="342.0" cy="392.0" r="0.60" fill="#777"/><circle cx="331.7" cy="414.3" r="0.36" fill="#777"/><circle cx="313.1" cy="402.9" r="0.41" fill="#777"/><circle cx="304.3" cy="381.9" r="0.31" fill="#666"/><circle cx="345.6" cy="403.8" r="0.32" fill="#555"/><circle cx="313.4" cy="420.8" r="0.37" fill="#666"/><circle cx="347.7" cy="416.8" r="0.33" fill="#777"/><circle cx="345.3" cy="402.1" r="0.52" fill="#777"/><circle cx="360.8" cy="421.1" r="0.35" fill="#777"/><circle cx="351.8" cy="415.7" r="0.49" fill="#555"/><circle cx="304.9" cy="388.7" r="0.54" fill="#666"/><circle cx="361.9" cy="387.7" r="0.59" fill="#777"/><circle cx="322.8" cy="386.6" r="0.56" fill="#666"/><circle cx="299.3" cy="395.3" r="0.34" fill="#555"/><circle cx="315.5" cy="390.5" r="0.45" fill="#555"/><circle cx="313.7" cy="422.3" r="0.45" fill="#777"/><circle cx="320.4" cy="392.0" r="0.34" fill="#777"/><circle cx="345.0" cy="417.4" r="0.42" fill="#777"/><circle cx="330.6" cy="394.0" r="0.56" fill="#555"/><circle cx="312.4" cy="390.8" r="0.56" fill="#777"/><circle cx="312.2" cy="422.8" r="0.43" fill="#777"/><circle cx="310.5" cy="399.2" r="0.59" fill="#666"/><circle cx="303.4" cy="396.0" r="0.59" fill="#777"/><circle cx="360.9" cy="414.8" r="0.49" fill="#777"/><circle cx="321.7" cy="382.8" r="0.42" fill="#555"/><circle cx="353.2" cy="399.4" r="0.53" fill="#555"/><circle cx="339.3" cy="422.3" r="0.39" fill="#777"/><circle cx="334.1" cy="403.3" r="0.36" fill="#555"/><circle cx="305.7" cy="400.3" r="0.41" fill="#777"/><circle cx="356.0" cy="405.0" r="0.50" fill="#555"/><circle cx="321.4" cy="405.6" r="0.37" fill="#555"/><circle cx="314.1" cy="393.8" r="0.31" fill="#777"/><circle cx="360.9" cy="383.8" r="0.54" fill="#666"/><circle cx="346.0" cy="380.0" r="0.37" fill="#777"/><circle cx="355.0" cy="407.3" r="0.52" fill="#555"/><circle cx="320.3" cy="401.0" r="0.56" fill="#555"/><circle cx="356.9" cy="420.8" r="0.63" fill="#555"/><circle cx="323.9" cy="392.9" r="0.31" fill="#777"/><circle cx="304.4" cy="395.4" r="0.58" fill="#555"/><circle cx="340.6" cy="410.8" r="0.45" fill="#555"/><circle cx="361.5" cy="409.7" r="0.37" fill="#777"/><circle cx="320.9" cy="399.9" r="0.31" fill="#555"/><circle cx="313.8" cy="405.6" r="0.59" fill="#555"/><circle cx="304.1" cy="419.5" r="0.51" fill="#666"/><circle cx="303.4" cy="382.0" r="0.30" fill="#555"/><circle cx="344.9" cy="395.1" r="0.31" fill="#555"/><circle cx="360.9" cy="382.5" r="0.39" fill="#666"/><circle cx="326.3" cy="399.7" r="0.43" fill="#666"/><circle cx="345.5" cy="394.5" r="0.39" fill="#777"/><circle cx="332.0" cy="421.1" r="0.55" fill="#555"/><circle cx="333.8" cy="384.3" r="0.35" fill="#666"/><circle cx="340.9" cy="398.7" r="0.49" fill="#777"/><circle cx="319.0" cy="396.7" r="0.61" fill="#555"/><circle cx="350.4" cy="386.9" r="0.59" fill="#666"/><circle cx="359.8" cy="414.8" r="0.46" fill="#555"/><circle cx="332.2" cy="387.0" r="0.58" fill="#555"/><circle cx="328.5" cy="386.0" r="0.37" fill="#555"/><circle cx="325.6" cy="417.6" r="0.52" fill="#666"/><circle cx="300.1" cy="415.5" r="0.59" fill="#666"/><circle cx="357.0" cy="403.8" r="0.59" fill="#777"/><circle cx="305.9" cy="389.8" r="0.42" fill="#777"/><circle cx="329.6" cy="404.4" r="0.49" fill="#777"/><circle cx="343.1" cy="383.0" r="0.36" fill="#555"/><circle cx="318.2" cy="382.6" r="0.37" fill="#777"/><circle cx="312.6" cy="416.8" r="0.62" fill="#666"/><circle cx="337.0" cy="379.7" r="0.53" fill="#555"/><circle cx="348.8" cy="412.9" r="0.50" fill="#555"/><circle cx="306.6" cy="385.9" r="0.45" fill="#777"/><circle cx="322.4" cy="374.6" r="0.49" fill="#555"/><circle cx="310.0" cy="377.9" r="0.34" fill="#666"/><circle cx="331.1" cy="374.6" r="0.64" fill="#777"/><circle cx="298.4" cy="407.2" r="0.38" fill="#777"/><circle cx="318.7" cy="390.8" r="0.54" fill="#777"/><circle cx="328.4" cy="376.8" r="0.40" fill="#555"/><circle cx="325.7" cy="397.3" r="0.48" fill="#555"/><circle cx="323.9" cy="408.5" r="0.31" fill="#555"/><circle cx="335.0" cy="419.0" r="0.52" fill="#777"/><circle cx="305.9" cy="388.6" r="0.56" fill="#777"/><circle cx="359.2" cy="420.8" r="0.33" fill="#555"/><circle cx="298.9" cy="422.0" r="0.45" fill="#555"/><circle cx="319.6" cy="388.2" r="0.36" fill="#555"/><circle cx="308.5" cy="379.3" r="0.57" fill="#555"/><circle cx="332.0" cy="416.5" r="0.65" fill="#666"/><circle cx="336.8" cy="398.4" r="0.49" fill="#555"/><circle cx="330.5" cy="415.8" r="0.34" fill="#666"/><circle cx="346.6" cy="414.0" r="0.40" fill="#555"/><circle cx="345.6" cy="401.4" r="0.57" fill="#555"/><circle cx="357.5" cy="416.2" r="0.42" fill="#777"/><circle cx="349.9" cy="396.6" r="0.32" fill="#777"/><circle cx="301.5" cy="399.0" r="0.36" fill="#666"/><circle cx="304.8" cy="419.2" r="0.51" fill="#666"/><circle cx="319.9" cy="385.3" r="0.57" fill="#555"/><circle cx="338.7" cy="383.6" r="0.56" fill="#555"/><circle cx="298.8" cy="378.1" r="0.52" fill="#777"/><circle cx="338.2" cy="422.7" r="0.55" fill="#666"/><circle cx="349.4" cy="374.3" r="0.34" fill="#777"/><circle cx="322.4" cy="375.4" r="0.50" fill="#777"/><circle cx="321.3" cy="409.4" r="0.61" fill="#555"/><circle cx="342.5" cy="413.1" r="0.58" fill="#777"/><circle cx="354.0" cy="413.1" r="0.41" fill="#666"/><circle cx="309.8" cy="392.4" r="0.48" fill="#666"/><circle cx="339.0" cy="389.0" r="0.40" fill="#777"/><circle cx="347.3" cy="422.8" r="0.60" fill="#777"/><circle cx="330.3" cy="404.6" r="0.31" fill="#777"/><circle cx="310.0" cy="394.0" r="0.54" fill="#666"/><circle cx="303.3" cy="420.4" r="0.45" fill="#666"/><circle cx="351.3" cy="418.3" r="0.41" fill="#666"/><circle cx="355.9" cy="376.0" r="0.62" fill="#666"/><circle cx="337.3" cy="415.9" r="0.31" fill="#777"/><circle cx="306.6" cy="395.7" r="0.36" fill="#666"/><circle cx="348.9" cy="384.3" r="0.55" fill="#555"/><circle cx="301.2" cy="406.7" r="0.35" fill="#555"/><circle cx="304.2" cy="388.5" r="0.47" fill="#666"/><circle cx="351.5" cy="412.0" r="0.51" fill="#555"/><circle cx="332.4" cy="374.3" r="0.61" fill="#666"/><circle cx="332.9" cy="419.0" r="0.49" fill="#777"/><circle cx="325.5" cy="406.2" r="0.44" fill="#666"/><circle cx="361.6" cy="380.3" r="0.60" fill="#555"/><circle cx="310.7" cy="385.6" r="0.32" fill="#666"/><g filter="url(#db03)"><circle cx="340.4" cy="383.9" r="0.6" fill="#555"/><circle cx="337.2" cy="381.7" r="0.7" fill="#666"/><circle cx="330.7" cy="394.7" r="0.8" fill="#555"/><circle cx="329.5" cy="396.5" r="1.1" fill="#707070"/><circle cx="317.3" cy="387.9" r="0.6" fill="#666"/><circle cx="319.5" cy="387.9" r="0.7" fill="#707070"/></g><circle cx="329.4" cy="397.4" r="17.0" fill="#8c8c8c" opacity="0.6" filter="url(#db4)"/><path d="M340.2,397.4 L340.4,398.6 L340.3,399.9 L340.1,401.1 L339.3,402.2 L338.5,403.1 L337.8,404.1 L337.0,405.0 L335.8,405.4 L334.8,405.9 L333.9,406.7 L332.9,407.3 L331.8,407.8 L330.6,408.3 L329.4,408.2 L328.2,408.0 L326.9,408.1 L325.7,407.9 L324.7,407.1 L323.8,406.4 L322.7,405.8 L321.7,405.1 L320.8,404.3 L319.9,403.4 L319.5,402.2 L319.3,400.9 L318.8,399.8 L318.7,398.6 L319.2,397.4 L319.6,396.3 L319.8,395.2 L320.2,394.2 L320.3,393.0 L320.5,391.8 L321.2,390.9 L321.9,389.9 L322.4,388.6 L323.3,387.7 L324.5,387.3 L325.7,386.9 L327.0,386.7 L328.2,386.7 L329.4,386.5 L330.6,386.4 L331.8,386.9 L332.9,387.4 L334.1,387.5 L335.2,388.1 L336.1,389.0 L336.9,389.9 L337.5,391.0 L337.9,392.1 L338.6,393.0 L339.2,394.0 L339.3,395.1 L339.6,396.2Z" fill="#3c3c3c" filter="url(#db03)"/><path d="M339.5,397.4 L339.7,398.6 L339.6,399.7 L339.4,400.9 L338.7,401.9 L337.9,402.7 L337.3,403.7 L336.5,404.5 L335.4,404.9 L334.4,405.4 L333.6,406.1 L332.6,406.7 L331.6,407.2 L330.5,407.6 L329.4,407.5 L328.3,407.3 L327.1,407.4 L326.0,407.2 L325.0,406.4 L324.1,405.8 L323.1,405.3 L322.2,404.6 L321.3,403.8 L320.5,403.0 L320.2,401.8 L320.0,400.7 L319.5,399.7 L319.4,398.5 L319.9,397.4 L320.2,396.4 L320.4,395.4 L320.8,394.4 L320.9,393.3 L321.1,392.2 L321.7,391.3 L322.4,390.4 L322.9,389.2 L323.7,388.3 L324.8,387.9 L326.0,387.6 L327.1,387.4 L328.3,387.4 L329.4,387.2 L330.6,387.1 L331.6,387.6 L332.7,388.0 L333.8,388.2 L334.9,388.7 L335.7,389.6 L336.4,390.4 L336.9,391.4 L337.3,392.4 L338.0,393.3 L338.6,394.2 L338.7,395.3 L339.0,396.3Z" fill="#0e0e0e" filter="url(#db03)"/><g filter="url(#db03)"><circle cx="319.8" cy="395.7" r="0.9" fill="#111"/><circle cx="336.8" cy="403.8" r="1.0" fill="#181818"/><circle cx="328.8" cy="407.2" r="1.0" fill="#111"/><circle cx="321.4" cy="391.8" r="0.9" fill="#111"/><circle cx="336.3" cy="404.4" r="1.8" fill="#111"/><circle cx="325.4" cy="406.3" r="1.2" fill="#202020"/><circle cx="319.7" cy="395.8" r="1.4" fill="#202020"/><circle cx="319.9" cy="394.8" r="1.9" fill="#202020"/><circle cx="338.8" cy="394.7" r="1.1" fill="#181818"/><circle cx="327.0" cy="387.9" r="1.3" fill="#202020"/><circle cx="324.0" cy="405.6" r="1.6" fill="#181818"/><circle cx="335.2" cy="405.3" r="1.3" fill="#111"/><circle cx="325.5" cy="406.4" r="1.0" fill="#202020"/><circle cx="319.6" cy="397.1" r="1.7" fill="#181818"/></g><rect x="350.8" y="418.9" width="9" height="1.9" fill="#fff"/></g><g clip-path="url(#dc20)"><rect x="92" y="426" width="66.9" height="50.3" fill="#c4c4c4"/><g filter="url(#db4)"><ellipse cx="146.9" cy="452.8" rx="14.7" ry="6.5" fill="#dcdcdc"/><ellipse cx="132.9" cy="436.2" rx="9.9" ry="7.9" fill="#dcdcdc"/><ellipse cx="109.3" cy="464.4" rx="8.8" ry="10.8" fill="#dcdcdc"/><ellipse cx="92.9" cy="463.4" rx="14.5" ry="5.0" fill="#dcdcdc"/><ellipse cx="112.6" cy="446.7" rx="8.4" ry="7.1" fill="#dcdcdc"/><ellipse cx="157.0" cy="454.5" rx="10.0" ry="6.7" fill="#dcdcdc"/><ellipse cx="96.4" cy="465.5" rx="8.1" ry="6.6" fill="#8a8a8a" opacity="0.45"/><ellipse cx="99.0" cy="464.9" rx="5.4" ry="6.1" fill="#8a8a8a" opacity="0.45"/><ellipse cx="105.0" cy="474.8" rx="6.2" ry="4.5" fill="#8a8a8a" opacity="0.45"/></g><circle cx="113.0" cy="434.2" r="0.57" fill="#666"/><circle cx="118.7" cy="451.8" r="0.38" fill="#777"/><circle cx="101.3" cy="441.4" r="0.37" fill="#777"/><circle cx="145.9" cy="450.7" r="0.46" fill="#777"/><circle cx="153.3" cy="431.0" r="0.57" fill="#666"/><circle cx="113.2" cy="456.1" r="0.55" fill="#777"/><circle cx="149.0" cy="441.8" r="0.37" fill="#777"/><circle cx="142.3" cy="459.6" r="0.52" fill="#666"/><circle cx="136.7" cy="431.3" r="0.54" fill="#666"/><circle cx="139.2" cy="442.4" r="0.33" fill="#666"/><circle cx="113.4" cy="433.2" r="0.32" fill="#777"/><circle cx="94.0" cy="445.6" r="0.42" fill="#666"/><circle cx="153.3" cy="447.5" r="0.33" fill="#666"/><circle cx="95.6" cy="468.4" r="0.30" fill="#555"/><circle cx="119.2" cy="448.7" r="0.61" fill="#777"/><circle cx="147.7" cy="438.1" r="0.59" fill="#777"/><circle cx="145.6" cy="465.5" r="0.59" fill="#555"/><circle cx="127.8" cy="439.5" r="0.57" fill="#777"/><circle cx="126.4" cy="451.8" r="0.40" fill="#777"/><circle cx="146.0" cy="471.7" r="0.54" fill="#666"/><circle cx="126.8" cy="429.9" r="0.46" fill="#777"/><circle cx="131.7" cy="463.8" r="0.54" fill="#555"/><circle cx="152.4" cy="464.2" r="0.62" fill="#777"/><circle cx="133.4" cy="467.2" r="0.49" fill="#555"/><circle cx="97.9" cy="469.7" r="0.55" fill="#555"/><circle cx="130.1" cy="446.1" r="0.42" fill="#666"/><circle cx="115.0" cy="460.2" r="0.52" fill="#777"/><circle cx="97.7" cy="467.8" r="0.38" fill="#555"/><circle cx="156.6" cy="468.8" r="0.45" fill="#555"/><circle cx="132.9" cy="466.4" r="0.55" fill="#555"/><circle cx="139.2" cy="452.2" r="0.31" fill="#666"/><circle cx="112.8" cy="453.2" r="0.58" fill="#666"/><circle cx="130.7" cy="471.0" r="0.38" fill="#666"/><circle cx="114.0" cy="428.9" r="0.63" fill="#777"/><circle cx="131.6" cy="473.8" r="0.47" fill="#666"/><circle cx="103.0" cy="472.9" r="0.33" fill="#555"/><circle cx="120.4" cy="431.5" r="0.39" fill="#555"/><circle cx="158.5" cy="429.2" r="0.45" fill="#666"/><circle cx="156.9" cy="453.2" r="0.62" fill="#666"/><circle cx="124.9" cy="435.8" r="0.50" fill="#555"/><circle cx="106.1" cy="462.3" r="0.40" fill="#555"/><circle cx="152.6" cy="439.2" r="0.56" fill="#555"/><circle cx="119.7" cy="457.2" r="0.30" fill="#555"/><circle cx="132.8" cy="463.2" r="0.47" fill="#666"/><circle cx="131.5" cy="426.7" r="0.49" fill="#555"/><circle cx="100.9" cy="435.1" r="0.42" fill="#555"/><circle cx="142.6" cy="453.9" r="0.33" fill="#666"/><circle cx="138.5" cy="442.7" r="0.50" fill="#777"/><circle cx="158.7" cy="475.9" r="0.57" fill="#777"/><circle cx="125.4" cy="470.9" r="0.40" fill="#666"/><circle cx="157.7" cy="467.2" r="0.64" fill="#777"/><circle cx="104.6" cy="470.7" r="0.41" fill="#666"/><circle cx="97.8" cy="471.3" r="0.58" fill="#555"/><circle cx="141.5" cy="440.0" r="0.51" fill="#666"/><circle cx="146.1" cy="464.2" r="0.62" fill="#666"/><circle cx="140.0" cy="465.2" r="0.52" fill="#666"/><circle cx="93.7" cy="458.7" r="0.62" fill="#666"/><circle cx="110.1" cy="433.4" r="0.48" fill="#555"/><circle cx="145.9" cy="466.5" r="0.52" fill="#777"/><circle cx="139.0" cy="465.5" r="0.31" fill="#777"/><circle cx="108.7" cy="440.6" r="0.57" fill="#777"/><circle cx="153.9" cy="456.6" r="0.37" fill="#555"/><circle cx="138.8" cy="463.6" r="0.46" fill="#555"/><circle cx="132.5" cy="471.2" r="0.51" fill="#777"/><circle cx="137.4" cy="457.2" r="0.58" fill="#666"/><circle cx="116.8" cy="463.5" r="0.45" fill="#777"/><circle cx="103.7" cy="440.4" r="0.41" fill="#666"/><circle cx="122.0" cy="450.7" r="0.55" fill="#777"/><circle cx="155.5" cy="455.2" r="0.62" fill="#666"/><circle cx="155.0" cy="456.2" r="0.46" fill="#555"/><circle cx="93.8" cy="429.8" r="0.51" fill="#666"/><circle cx="141.9" cy="456.1" r="0.39" fill="#777"/><circle cx="103.0" cy="444.8" r="0.39" fill="#777"/><circle cx="120.1" cy="431.6" r="0.53" fill="#777"/><circle cx="146.6" cy="426.7" r="0.33" fill="#666"/><circle cx="103.7" cy="468.2" r="0.56" fill="#555"/><circle cx="124.1" cy="466.2" r="0.55" fill="#555"/><circle cx="141.7" cy="472.3" r="0.41" fill="#555"/><circle cx="118.5" cy="471.1" r="0.48" fill="#666"/><circle cx="113.8" cy="437.9" r="0.30" fill="#777"/><circle cx="141.0" cy="466.1" r="0.61" fill="#666"/><circle cx="92.8" cy="461.6" r="0.48" fill="#666"/><circle cx="112.3" cy="427.3" r="0.35" fill="#555"/><circle cx="98.7" cy="464.2" r="0.65" fill="#666"/><circle cx="124.8" cy="436.3" r="0.59" fill="#555"/><circle cx="146.3" cy="472.6" r="0.58" fill="#777"/><circle cx="158.6" cy="451.8" r="0.31" fill="#666"/><circle cx="99.0" cy="455.3" r="0.46" fill="#666"/><circle cx="119.2" cy="469.0" r="0.58" fill="#666"/><circle cx="152.9" cy="463.4" r="0.35" fill="#777"/><circle cx="92.9" cy="457.7" r="0.44" fill="#666"/><circle cx="125.9" cy="434.4" r="0.56" fill="#666"/><circle cx="128.8" cy="443.5" r="0.51" fill="#666"/><circle cx="127.4" cy="428.5" r="0.41" fill="#555"/><circle cx="96.0" cy="475.5" r="0.41" fill="#666"/><circle cx="116.2" cy="426.5" r="0.63" fill="#777"/><circle cx="112.8" cy="475.8" r="0.56" fill="#777"/><circle cx="139.0" cy="448.0" r="0.35" fill="#555"/><circle cx="144.8" cy="448.6" r="0.61" fill="#555"/><circle cx="156.8" cy="437.0" r="0.62" fill="#777"/><circle cx="103.1" cy="460.0" r="0.54" fill="#555"/><circle cx="149.8" cy="473.1" r="0.54" fill="#555"/><circle cx="96.2" cy="463.5" r="0.46" fill="#666"/><circle cx="123.8" cy="468.8" r="0.37" fill="#555"/><circle cx="103.1" cy="427.6" r="0.32" fill="#666"/><circle cx="126.0" cy="430.0" r="0.63" fill="#777"/><circle cx="151.2" cy="471.0" r="0.49" fill="#777"/><circle cx="148.1" cy="467.1" r="0.34" fill="#777"/><circle cx="148.5" cy="427.7" r="0.31" fill="#666"/><circle cx="126.0" cy="456.5" r="0.41" fill="#555"/><circle cx="152.7" cy="468.9" r="0.49" fill="#666"/><circle cx="147.4" cy="465.5" r="0.42" fill="#666"/><circle cx="120.9" cy="456.9" r="0.58" fill="#555"/><circle cx="152.9" cy="474.8" r="0.52" fill="#666"/><circle cx="95.5" cy="453.5" r="0.64" fill="#666"/><circle cx="111.0" cy="471.7" r="0.37" fill="#555"/><circle cx="97.5" cy="467.8" r="0.50" fill="#555"/><circle cx="113.0" cy="427.4" r="0.52" fill="#666"/><circle cx="138.5" cy="447.2" r="0.43" fill="#777"/><circle cx="137.6" cy="441.6" r="0.53" fill="#555"/><circle cx="147.1" cy="438.3" r="0.51" fill="#555"/><circle cx="99.9" cy="458.7" r="0.48" fill="#555"/><circle cx="114.6" cy="459.7" r="0.38" fill="#555"/><circle cx="99.5" cy="452.6" r="0.62" fill="#666"/><circle cx="99.7" cy="441.1" r="0.59" fill="#666"/><circle cx="118.4" cy="463.2" r="0.59" fill="#777"/><circle cx="106.9" cy="461.2" r="0.61" fill="#777"/><circle cx="149.7" cy="475.9" r="0.34" fill="#777"/><circle cx="124.2" cy="463.7" r="0.30" fill="#777"/><circle cx="95.3" cy="453.7" r="0.51" fill="#555"/><circle cx="119.3" cy="433.0" r="0.51" fill="#666"/><circle cx="145.6" cy="466.7" r="0.46" fill="#777"/><circle cx="98.6" cy="437.9" r="0.35" fill="#777"/><circle cx="129.1" cy="444.6" r="0.63" fill="#555"/><circle cx="93.3" cy="472.7" r="0.51" fill="#555"/><circle cx="121.7" cy="434.9" r="0.42" fill="#555"/><circle cx="155.2" cy="434.5" r="0.45" fill="#666"/><circle cx="100.6" cy="455.3" r="0.38" fill="#777"/><circle cx="135.2" cy="426.8" r="0.57" fill="#666"/><circle cx="156.9" cy="453.0" r="0.55" fill="#555"/><circle cx="117.7" cy="439.6" r="0.41" fill="#666"/><circle cx="149.4" cy="429.5" r="0.62" fill="#666"/><circle cx="126.8" cy="438.8" r="0.62" fill="#777"/><circle cx="136.7" cy="433.1" r="0.50" fill="#555"/><circle cx="134.5" cy="463.1" r="0.56" fill="#555"/><circle cx="126.0" cy="449.3" r="0.32" fill="#555"/><circle cx="141.7" cy="437.8" r="0.64" fill="#777"/><circle cx="158.5" cy="434.7" r="0.38" fill="#666"/><circle cx="158.8" cy="461.1" r="0.35" fill="#666"/><circle cx="98.8" cy="432.9" r="0.34" fill="#555"/><g filter="url(#db03)"><circle cx="154.8" cy="462.8" r="0.7" fill="#666"/><circle cx="154.7" cy="459.7" r="0.8" fill="#707070"/><circle cx="153.8" cy="460.3" r="0.9" fill="#555"/><circle cx="151.9" cy="461.3" r="0.9" fill="#666"/><circle cx="154.9" cy="462.9" r="1.1" fill="#666"/><circle cx="154.8" cy="461.4" r="0.9" fill="#666"/><circle cx="106.9" cy="443.6" r="0.9" fill="#707070"/><circle cx="107.5" cy="445.3" r="0.8" fill="#707070"/><circle cx="110.6" cy="442.9" r="0.5" fill="#707070"/><circle cx="117.2" cy="453.5" r="1.0" fill="#707070"/><circle cx="118.3" cy="452.8" r="0.7" fill="#666"/><circle cx="116.7" cy="453.5" r="0.9" fill="#707070"/></g><path d="M144.9,457.9 L144.2,459.6 L143.8,461.2 L143.5,462.9 L142.8,464.4 L142.3,466.0 L141.5,467.6 L140.1,468.7 L138.6,469.6 L137.4,470.8 L135.9,471.7 L134.2,471.9 L132.6,472.2 L131.0,472.6 L129.3,472.7 L127.6,473.0 L125.8,473.1 L124.3,472.3 L122.8,471.5 L121.1,470.9 L119.8,469.8 L119.0,468.2 L118.1,466.9 L117.3,465.4 L116.7,464.0 L115.6,462.7 L114.6,461.2 L114.4,459.6 L114.1,457.9 L113.5,456.1 L113.6,454.3 L114.2,452.6 L114.9,451.0 L116.1,449.6 L117.4,448.4 L118.3,446.9 L119.5,445.7 L121.2,445.1 L122.8,444.4 L124.2,443.4 L125.9,443.1 L127.6,443.0 L129.3,443.1 L130.9,443.7 L132.4,444.4 L134.0,444.5 L135.5,444.9 L136.8,445.9 L138.3,446.7 L139.9,447.3 L141.3,448.3 L142.7,449.5 L143.8,450.9 L144.2,452.7 L144.3,454.5 L144.9,456.1Z" fill="#3c3c3c" filter="url(#db03)"/><path d="M144.2,457.9 L143.5,459.5 L143.1,461.0 L142.8,462.6 L142.2,464.1 L141.7,465.7 L140.9,467.2 L139.6,468.2 L138.2,469.0 L137.1,470.2 L135.6,471.0 L134.0,471.2 L132.4,471.6 L130.9,471.9 L129.3,472.0 L127.7,472.3 L126.0,472.4 L124.5,471.6 L123.1,470.8 L121.5,470.3 L120.3,469.2 L119.4,467.8 L118.6,466.5 L117.9,465.1 L117.3,463.7 L116.2,462.5 L115.3,461.1 L115.1,459.5 L114.8,457.9 L114.3,456.2 L114.3,454.5 L114.9,452.9 L115.6,451.3 L116.7,450.0 L117.9,448.8 L118.8,447.4 L120.0,446.2 L121.6,445.7 L123.1,445.0 L124.5,444.1 L126.1,443.7 L127.7,443.7 L129.3,443.8 L130.8,444.4 L132.2,445.0 L133.8,445.2 L135.3,445.5 L136.5,446.5 L137.8,447.2 L139.4,447.8 L140.8,448.7 L142.0,449.9 L143.1,451.2 L143.5,452.9 L143.6,454.6 L144.1,456.2Z" fill="#0e0e0e" filter="url(#db03)"/><g filter="url(#db03)"><circle cx="142.5" cy="462.9" r="2.0" fill="#181818"/><circle cx="123.4" cy="470.7" r="1.1" fill="#202020"/><circle cx="140.2" cy="466.9" r="1.3" fill="#202020"/><circle cx="118.3" cy="466.8" r="1.7" fill="#111"/><circle cx="135.8" cy="470.4" r="1.1" fill="#181818"/><circle cx="143.4" cy="457.1" r="1.0" fill="#111"/><circle cx="120.0" cy="447.3" r="1.1" fill="#181818"/><circle cx="117.8" cy="466.0" r="2.0" fill="#202020"/><circle cx="142.4" cy="463.2" r="1.3" fill="#111"/><circle cx="143.3" cy="459.8" r="1.8" fill="#181818"/><circle cx="118.8" cy="467.3" r="1.2" fill="#181818"/><circle cx="143.4" cy="458.0" r="1.0" fill="#202020"/><circle cx="133.4" cy="471.4" r="1.7" fill="#202020"/><circle cx="118.4" cy="448.9" r="1.5" fill="#181818"/></g><rect x="147.7" y="471.7" width="9" height="1.9" fill="#fff"/></g><g clip-path="url(#dc21)"><rect x="161.5" y="426" width="65.5" height="50.3" fill="#a2a2a2"/><g filter="url(#db4)"><ellipse cx="171.5" cy="464.8" rx="6.2" ry="6.1" fill="#c4c4c4"/><ellipse cx="191.4" cy="450.1" rx="8.2" ry="6.8" fill="#c4c4c4"/><ellipse cx="199.0" cy="438.4" rx="8.9" ry="4.2" fill="#c4c4c4"/><ellipse cx="185.3" cy="446.2" rx="8.7" ry="6.9" fill="#c4c4c4"/><ellipse cx="220.3" cy="475.9" rx="7.2" ry="6.3" fill="#c4c4c4"/><ellipse cx="185.2" cy="457.7" rx="7.4" ry="4.1" fill="#c4c4c4"/><ellipse cx="225.5" cy="453.2" rx="6.2" ry="6.0" fill="#c4c4c4"/><ellipse cx="166.1" cy="437.1" rx="7.5" ry="4.8" fill="#c4c4c4"/><ellipse cx="213.6" cy="456.9" rx="6.7" ry="5.8" fill="#c4c4c4"/><ellipse cx="217.6" cy="471.4" rx="5.7" ry="6.1" fill="#c4c4c4"/><ellipse cx="174.4" cy="466.7" rx="8.5" ry="7.5" fill="#8a8a8a" opacity="0.45"/><ellipse cx="199.8" cy="447.5" rx="9.0" ry="7.5" fill="#8a8a8a" opacity="0.45"/><ellipse cx="172.0" cy="468.8" rx="5.1" ry="5.4" fill="#8a8a8a" opacity="0.45"/></g><circle cx="185.8" cy="452.7" r="0.32" fill="#555"/><circle cx="209.1" cy="464.8" r="0.55" fill="#666"/><circle cx="189.6" cy="447.4" r="0.41" fill="#555"/><circle cx="184.0" cy="443.3" r="0.51" fill="#555"/><circle cx="204.4" cy="461.4" r="0.40" fill="#555"/><circle cx="192.7" cy="450.0" r="0.43" fill="#666"/><circle cx="194.7" cy="445.8" r="0.38" fill="#777"/><circle cx="171.1" cy="451.7" r="0.47" fill="#666"/><circle cx="220.1" cy="439.8" r="0.47" fill="#777"/><circle cx="213.9" cy="470.7" r="0.48" fill="#777"/><circle cx="184.9" cy="454.2" r="0.31" fill="#555"/><circle cx="176.9" cy="451.3" r="0.47" fill="#666"/><circle cx="191.4" cy="455.8" r="0.33" fill="#777"/><circle cx="177.6" cy="447.9" r="0.41" fill="#666"/><circle cx="164.7" cy="451.1" r="0.61" fill="#555"/><circle cx="167.9" cy="457.9" r="0.51" fill="#777"/><circle cx="176.6" cy="446.1" r="0.34" fill="#555"/><circle cx="198.5" cy="459.6" r="0.42" fill="#666"/><circle cx="179.7" cy="428.5" r="0.55" fill="#777"/><circle cx="193.5" cy="458.2" r="0.52" fill="#666"/><circle cx="164.1" cy="454.4" r="0.41" fill="#777"/><circle cx="166.2" cy="474.7" r="0.64" fill="#555"/><circle cx="191.1" cy="469.9" r="0.31" fill="#666"/><circle cx="175.5" cy="445.4" r="0.57" fill="#666"/><circle cx="226.7" cy="455.3" r="0.33" fill="#666"/><circle cx="200.4" cy="469.7" r="0.57" fill="#777"/><circle cx="198.1" cy="447.0" r="0.64" fill="#666"/><circle cx="198.4" cy="441.2" r="0.55" fill="#555"/><circle cx="170.3" cy="465.6" r="0.61" fill="#777"/><circle cx="219.9" cy="447.1" r="0.62" fill="#555"/><circle cx="205.4" cy="434.9" r="0.65" fill="#555"/><circle cx="165.1" cy="444.1" r="0.51" fill="#666"/><circle cx="194.3" cy="474.9" r="0.60" fill="#666"/><circle cx="188.8" cy="453.9" r="0.37" fill="#777"/><circle cx="197.4" cy="462.0" r="0.36" fill="#555"/><circle cx="224.0" cy="427.7" r="0.63" fill="#666"/><circle cx="201.5" cy="427.8" r="0.62" fill="#777"/><circle cx="219.5" cy="428.2" r="0.37" fill="#666"/><circle cx="204.9" cy="475.4" r="0.49" fill="#666"/><circle cx="209.7" cy="432.7" r="0.48" fill="#777"/><g filter="url(#db03)"><circle cx="223.7" cy="454.9" r="1.3" fill="#585858"/><circle cx="224.3" cy="457.6" r="1.3" fill="#585858"/><circle cx="230.3" cy="461.8" r="1.8" fill="#6a6a6a"/><circle cx="226.1" cy="458.7" r="1.3" fill="#6a6a6a"/><circle cx="226.4" cy="455.3" r="1.9" fill="#585858"/><circle cx="171.6" cy="444.2" r="1.4" fill="#606060"/><circle cx="173.7" cy="445.1" r="1.9" fill="#6a6a6a"/><circle cx="169.1" cy="445.5" r="1.8" fill="#585858"/><circle cx="166.2" cy="449.4" r="1.2" fill="#6a6a6a"/><circle cx="170.1" cy="446.4" r="1.2" fill="#585858"/><circle cx="169.9" cy="447.9" r="1.2" fill="#6a6a6a"/><circle cx="175.5" cy="447.4" r="1.1" fill="#606060"/><circle cx="180.5" cy="435.2" r="0.9" fill="#6a6a6a"/><circle cx="180.9" cy="435.2" r="1.4" fill="#606060"/><circle cx="179.6" cy="432.6" r="1.5" fill="#585858"/><circle cx="179.4" cy="436.2" r="1.0" fill="#585858"/><circle cx="181.9" cy="432.7" r="1.7" fill="#606060"/><circle cx="179.2" cy="431.4" r="1.6" fill="#585858"/><circle cx="181.6" cy="467.9" r="1.8" fill="#585858"/><circle cx="183.7" cy="461.5" r="1.1" fill="#585858"/><circle cx="183.5" cy="465.7" r="1.9" fill="#606060"/><circle cx="181.0" cy="466.2" r="1.9" fill="#6a6a6a"/><circle cx="180.8" cy="466.9" r="1.7" fill="#606060"/><circle cx="181.1" cy="461.2" r="1.0" fill="#585858"/><circle cx="218.0" cy="453.3" r="1.5" fill="#606060"/><circle cx="219.3" cy="453.5" r="1.2" fill="#6a6a6a"/><circle cx="217.2" cy="455.6" r="1.4" fill="#606060"/><circle cx="217.6" cy="455.3" r="1.0" fill="#6a6a6a"/><circle cx="217.0" cy="455.6" r="1.7" fill="#585858"/><circle cx="215.7" cy="455.7" r="1.5" fill="#6a6a6a"/><circle cx="219.3" cy="456.1" r="1.6" fill="#606060"/><circle cx="221.0" cy="432.0" r="1.7" fill="#6a6a6a"/><circle cx="223.5" cy="433.5" r="1.0" fill="#585858"/><circle cx="223.2" cy="431.0" r="1.1" fill="#6a6a6a"/><circle cx="208.3" cy="464.3" r="1.2" fill="#6a6a6a"/><circle cx="208.8" cy="462.7" r="1.0" fill="#606060"/><circle cx="207.9" cy="466.3" r="1.1" fill="#585858"/><circle cx="206.3" cy="466.7" r="1.4" fill="#606060"/><circle cx="217.2" cy="437.8" r="1.4" fill="#585858"/><circle cx="216.2" cy="439.1" r="1.9" fill="#606060"/><circle cx="219.3" cy="437.9" r="1.8" fill="#585858"/><circle cx="219.3" cy="435.0" r="1.2" fill="#585858"/><circle cx="200.4" cy="475.9" r="1.4" fill="#6a6a6a"/><circle cx="199.9" cy="472.9" r="1.1" fill="#585858"/><circle cx="200.9" cy="472.8" r="1.5" fill="#585858"/><circle cx="198.5" cy="474.3" r="1.4" fill="#6a6a6a"/><circle cx="198.2" cy="472.5" r="1.0" fill="#585858"/><circle cx="187.0" cy="465.6" r="1.5" fill="#606060"/><circle cx="182.7" cy="466.8" r="1.7" fill="#606060"/><circle cx="183.5" cy="465.8" r="1.0" fill="#6a6a6a"/><circle cx="185.6" cy="464.9" r="1.6" fill="#606060"/><circle cx="176.2" cy="473.7" r="1.9" fill="#585858"/><circle cx="172.3" cy="470.7" r="1.6" fill="#606060"/><circle cx="174.9" cy="474.4" r="1.5" fill="#606060"/><circle cx="186.1" cy="452.5" r="1.3" fill="#585858"/><circle cx="186.5" cy="454.6" r="1.7" fill="#606060"/><circle cx="188.1" cy="454.7" r="1.2" fill="#585858"/><circle cx="188.1" cy="455.6" r="1.4" fill="#6a6a6a"/><circle cx="183.7" cy="457.4" r="1.5" fill="#606060"/><circle cx="187.3" cy="454.0" r="1.0" fill="#606060"/><circle cx="186.7" cy="452.8" r="1.0" fill="#606060"/><circle cx="180.2" cy="441.4" r="1.6" fill="#606060"/><circle cx="177.4" cy="443.3" r="1.1" fill="#6a6a6a"/><circle cx="178.6" cy="440.6" r="1.4" fill="#585858"/><circle cx="180.4" cy="442.6" r="1.1" fill="#585858"/><circle cx="179.4" cy="442.2" r="1.1" fill="#6a6a6a"/><circle cx="195.6" cy="435.1" r="1.0" fill="#6a6a6a"/><circle cx="193.7" cy="436.6" r="1.6" fill="#6a6a6a"/><circle cx="198.4" cy="435.2" r="0.9" fill="#6a6a6a"/><circle cx="195.7" cy="435.2" r="1.7" fill="#585858"/><circle cx="192.5" cy="435.5" r="1.8" fill="#585858"/><circle cx="192.6" cy="433.0" r="1.5" fill="#585858"/><circle cx="189.9" cy="436.7" r="1.1" fill="#585858"/></g><path d="M209.6,451.8 L209.4,453.5 L209.0,455.2 L208.4,456.8 L207.3,458.2 L206.5,459.6 L205.8,461.2 L204.6,462.4 L203.0,463.1 L201.9,464.3 L200.6,465.5 L199.1,466.3 L197.4,466.9 L195.7,467.2 L194.0,466.9 L192.3,466.9 L190.5,467.1 L188.9,466.5 L187.4,465.5 L185.8,464.8 L184.3,464.0 L183.0,462.8 L181.8,461.6 L180.9,460.0 L180.7,458.2 L180.2,456.6 L179.6,455.1 L179.7,453.4 L180.1,451.8 L180.1,450.2 L180.2,448.6 L180.4,447.0 L180.5,445.3 L181.1,443.7 L182.3,442.4 L183.1,440.9 L184.0,439.3 L185.6,438.4 L187.3,437.8 L188.9,437.1 L190.6,436.7 L192.3,436.4 L194.0,436.0 L195.8,436.2 L197.4,437.1 L199.0,437.5 L200.7,437.9 L202.0,439.0 L203.2,440.3 L204.3,441.5 L205.2,442.9 L206.2,444.2 L207.4,445.3 L208.1,446.9 L208.3,448.5 L208.9,450.1Z" fill="#3c3c3c" filter="url(#db03)"/><path d="M208.9,451.8 L208.7,453.5 L208.3,455.1 L207.7,456.6 L206.7,457.9 L205.9,459.3 L205.3,460.8 L204.1,461.9 L202.6,462.6 L201.5,463.7 L200.3,464.9 L198.8,465.6 L197.3,466.2 L195.7,466.5 L194.0,466.2 L192.4,466.2 L190.7,466.4 L189.1,465.8 L187.7,464.8 L186.2,464.2 L184.7,463.4 L183.5,462.3 L182.3,461.1 L181.5,459.6 L181.3,457.9 L180.9,456.4 L180.2,454.9 L180.3,453.3 L180.8,451.8 L180.8,450.3 L180.8,448.8 L181.0,447.2 L181.1,445.6 L181.7,444.1 L182.8,442.9 L183.7,441.5 L184.5,439.9 L186.0,439.0 L187.6,438.5 L189.1,437.8 L190.7,437.4 L192.3,437.1 L194.0,436.7 L195.7,436.9 L197.2,437.8 L198.8,438.2 L200.4,438.5 L201.7,439.6 L202.7,440.9 L203.8,442.0 L204.6,443.3 L205.6,444.5 L206.8,445.6 L207.5,447.1 L207.6,448.7 L208.2,450.2Z" fill="#0e0e0e" filter="url(#db03)"/><g filter="url(#db03)"><circle cx="181.8" cy="459.0" r="1.7" fill="#181818"/><circle cx="185.2" cy="462.8" r="1.7" fill="#181818"/><circle cx="193.6" cy="437.7" r="1.2" fill="#181818"/><circle cx="197.3" cy="465.5" r="1.2" fill="#202020"/><circle cx="208.1" cy="451.5" r="1.2" fill="#111"/><circle cx="180.1" cy="454.2" r="1.8" fill="#181818"/><circle cx="196.3" cy="465.7" r="1.6" fill="#181818"/><circle cx="188.2" cy="438.9" r="1.1" fill="#181818"/><circle cx="207.3" cy="456.6" r="2.0" fill="#111"/><circle cx="197.8" cy="465.4" r="1.6" fill="#111"/><circle cx="205.8" cy="444.1" r="1.2" fill="#111"/><circle cx="188.3" cy="464.7" r="1.8" fill="#202020"/><circle cx="200.3" cy="439.2" r="1.0" fill="#111"/><circle cx="204.7" cy="461.0" r="1.9" fill="#111"/></g><rect x="215.8" y="471.7" width="9" height="1.9" fill="#fff"/></g><g clip-path="url(#dc22)"><rect x="229.6" y="426" width="65.4" height="50.3" fill="#b2b2b2"/><g filter="url(#db4)"><ellipse cx="269.5" cy="462.3" rx="8.0" ry="8.4" fill="#cecece"/><ellipse cx="285.3" cy="466.8" rx="13.8" ry="9.2" fill="#cecece"/><ellipse cx="283.0" cy="451.6" rx="10.8" ry="8.6" fill="#cecece"/><ellipse cx="283.2" cy="435.4" rx="9.2" ry="10.0" fill="#cecece"/><ellipse cx="245.0" cy="432.0" rx="13.4" ry="10.9" fill="#cecece"/><ellipse cx="238.0" cy="428.0" rx="11.1" ry="8.4" fill="#cecece"/><ellipse cx="272.2" cy="456.9" rx="7.4" ry="4.4" fill="#8a8a8a" opacity="0.45"/><ellipse cx="253.2" cy="449.8" rx="9.9" ry="6.0" fill="#8a8a8a" opacity="0.45"/><ellipse cx="272.0" cy="459.1" rx="8.1" ry="6.7" fill="#8a8a8a" opacity="0.45"/></g><circle cx="236.8" cy="437.3" r="0.37" fill="#666"/><circle cx="272.3" cy="458.6" r="0.44" fill="#666"/><circle cx="233.5" cy="463.4" r="0.32" fill="#555"/><circle cx="230.4" cy="451.0" r="0.33" fill="#777"/><circle cx="234.6" cy="426.6" r="0.46" fill="#666"/><circle cx="259.2" cy="445.3" r="0.37" fill="#777"/><circle cx="231.4" cy="440.7" r="0.50" fill="#555"/><circle cx="235.1" cy="446.2" r="0.65" fill="#777"/><circle cx="257.1" cy="435.4" r="0.63" fill="#666"/><circle cx="268.8" cy="468.9" r="0.42" fill="#666"/><circle cx="265.5" cy="442.6" r="0.33" fill="#666"/><circle cx="249.8" cy="457.7" r="0.55" fill="#777"/><circle cx="285.0" cy="456.2" r="0.33" fill="#777"/><circle cx="287.1" cy="472.3" r="0.64" fill="#777"/><circle cx="286.2" cy="431.3" r="0.51" fill="#777"/><circle cx="231.4" cy="443.2" r="0.34" fill="#555"/><circle cx="260.1" cy="440.1" r="0.52" fill="#777"/><circle cx="268.6" cy="469.7" r="0.37" fill="#666"/><circle cx="286.8" cy="438.2" r="0.45" fill="#666"/><circle cx="256.1" cy="455.3" r="0.49" fill="#666"/><circle cx="237.9" cy="451.3" r="0.47" fill="#555"/><circle cx="265.8" cy="456.4" r="0.38" fill="#555"/><circle cx="267.5" cy="468.0" r="0.60" fill="#777"/><circle cx="255.7" cy="443.8" r="0.43" fill="#555"/><circle cx="250.1" cy="464.7" r="0.53" fill="#555"/><circle cx="263.2" cy="451.7" r="0.34" fill="#555"/><circle cx="251.1" cy="439.2" r="0.43" fill="#666"/><circle cx="291.9" cy="457.0" r="0.54" fill="#555"/><circle cx="284.9" cy="429.4" r="0.36" fill="#555"/><circle cx="243.5" cy="438.6" r="0.45" fill="#777"/><circle cx="292.0" cy="448.1" r="0.37" fill="#555"/><circle cx="281.8" cy="453.7" r="0.52" fill="#666"/><circle cx="267.6" cy="469.5" r="0.50" fill="#555"/><circle cx="269.7" cy="470.4" r="0.34" fill="#666"/><circle cx="274.4" cy="463.3" r="0.41" fill="#666"/><circle cx="268.2" cy="454.3" r="0.57" fill="#666"/><circle cx="234.0" cy="462.0" r="0.57" fill="#555"/><circle cx="279.0" cy="426.9" r="0.52" fill="#777"/><circle cx="270.7" cy="443.0" r="0.58" fill="#777"/><circle cx="268.7" cy="439.7" r="0.43" fill="#666"/><circle cx="243.7" cy="459.5" r="0.31" fill="#666"/><circle cx="243.1" cy="466.7" r="0.47" fill="#666"/><circle cx="236.6" cy="433.3" r="0.42" fill="#666"/><circle cx="288.2" cy="465.8" r="0.61" fill="#666"/><circle cx="231.0" cy="429.0" r="0.60" fill="#555"/><circle cx="286.8" cy="470.3" r="0.44" fill="#777"/><circle cx="266.9" cy="429.8" r="0.39" fill="#777"/><circle cx="256.0" cy="465.1" r="0.55" fill="#555"/><circle cx="246.1" cy="474.4" r="0.37" fill="#555"/><circle cx="251.0" cy="437.3" r="0.37" fill="#777"/><circle cx="282.4" cy="437.3" r="0.44" fill="#777"/><circle cx="237.6" cy="447.9" r="0.49" fill="#777"/><circle cx="289.3" cy="474.7" r="0.58" fill="#666"/><circle cx="283.3" cy="463.8" r="0.56" fill="#555"/><circle cx="278.7" cy="455.2" r="0.49" fill="#777"/><circle cx="247.9" cy="445.2" r="0.62" fill="#555"/><circle cx="236.6" cy="440.1" r="0.56" fill="#555"/><circle cx="268.7" cy="448.5" r="0.60" fill="#666"/><circle cx="293.4" cy="430.3" r="0.31" fill="#555"/><circle cx="263.1" cy="449.0" r="0.37" fill="#777"/><circle cx="262.8" cy="447.5" r="0.59" fill="#666"/><circle cx="238.4" cy="461.8" r="0.42" fill="#555"/><circle cx="231.4" cy="450.3" r="0.42" fill="#555"/><circle cx="268.9" cy="449.1" r="0.36" fill="#555"/><circle cx="274.1" cy="445.4" r="0.38" fill="#555"/><circle cx="282.8" cy="444.0" r="0.63" fill="#777"/><circle cx="251.6" cy="431.1" r="0.36" fill="#666"/><circle cx="235.6" cy="429.1" r="0.60" fill="#555"/><circle cx="243.4" cy="442.4" r="0.41" fill="#666"/><circle cx="240.1" cy="448.1" r="0.64" fill="#666"/><circle cx="247.7" cy="461.5" r="0.53" fill="#666"/><circle cx="251.9" cy="427.9" r="0.54" fill="#666"/><circle cx="242.2" cy="475.5" r="0.50" fill="#555"/><circle cx="279.5" cy="463.2" r="0.33" fill="#777"/><circle cx="273.7" cy="461.4" r="0.40" fill="#777"/><circle cx="251.3" cy="451.4" r="0.36" fill="#666"/><circle cx="287.2" cy="430.7" r="0.40" fill="#555"/><circle cx="260.6" cy="452.9" r="0.35" fill="#777"/><circle cx="252.8" cy="455.3" r="0.41" fill="#555"/><circle cx="271.0" cy="437.0" r="0.53" fill="#777"/><circle cx="259.8" cy="469.5" r="0.40" fill="#777"/><circle cx="266.7" cy="452.2" r="0.43" fill="#555"/><circle cx="293.2" cy="444.9" r="0.50" fill="#555"/><circle cx="252.7" cy="439.0" r="0.37" fill="#555"/><circle cx="269.3" cy="442.7" r="0.35" fill="#666"/><circle cx="282.4" cy="460.9" r="0.43" fill="#666"/><circle cx="285.7" cy="456.3" r="0.62" fill="#555"/><circle cx="284.4" cy="474.9" r="0.48" fill="#777"/><circle cx="292.9" cy="458.0" r="0.64" fill="#777"/><circle cx="243.2" cy="467.8" r="0.54" fill="#777"/><circle cx="234.8" cy="465.5" r="0.50" fill="#666"/><circle cx="285.5" cy="426.2" r="0.50" fill="#777"/><circle cx="292.4" cy="431.8" r="0.50" fill="#777"/><circle cx="264.1" cy="469.3" r="0.57" fill="#555"/><circle cx="245.3" cy="433.0" r="0.48" fill="#555"/><circle cx="282.6" cy="445.5" r="0.39" fill="#555"/><circle cx="238.1" cy="473.6" r="0.46" fill="#777"/><circle cx="263.0" cy="451.5" r="0.33" fill="#555"/><circle cx="272.0" cy="456.9" r="0.41" fill="#666"/><circle cx="243.0" cy="459.2" r="0.43" fill="#666"/><circle cx="262.7" cy="428.8" r="0.44" fill="#777"/><circle cx="262.4" cy="441.4" r="0.61" fill="#777"/><circle cx="293.4" cy="474.7" r="0.41" fill="#666"/><circle cx="260.7" cy="464.0" r="0.50" fill="#777"/><circle cx="261.1" cy="428.1" r="0.55" fill="#555"/><circle cx="271.1" cy="446.1" r="0.42" fill="#555"/><circle cx="232.1" cy="463.1" r="0.32" fill="#666"/><circle cx="240.6" cy="469.2" r="0.31" fill="#555"/><circle cx="273.9" cy="443.0" r="0.34" fill="#777"/><circle cx="253.5" cy="445.3" r="0.42" fill="#666"/><g filter="url(#db03)"><circle cx="296.7" cy="426.0" r="1.0" fill="#707070"/><circle cx="293.2" cy="426.7" r="0.9" fill="#666"/><circle cx="291.2" cy="426.9" r="0.6" fill="#555"/><circle cx="292.7" cy="425.4" r="1.1" fill="#666"/><circle cx="294.1" cy="426.7" r="0.8" fill="#666"/><circle cx="263.7" cy="459.2" r="0.7" fill="#666"/><circle cx="263.0" cy="457.9" r="1.1" fill="#707070"/><circle cx="245.8" cy="447.5" r="0.8" fill="#666"/><circle cx="244.0" cy="449.9" r="0.6" fill="#555"/><circle cx="246.9" cy="450.4" r="1.1" fill="#555"/><circle cx="240.4" cy="448.3" r="1.1" fill="#707070"/><circle cx="244.6" cy="445.0" r="0.6" fill="#555"/><circle cx="242.1" cy="447.4" r="0.9" fill="#707070"/><circle cx="273.6" cy="469.8" r="0.6" fill="#555"/><circle cx="275.4" cy="467.4" r="0.8" fill="#666"/><circle cx="274.2" cy="465.8" r="1.0" fill="#707070"/><circle cx="274.4" cy="466.6" r="1.2" fill="#707070"/><circle cx="271.9" cy="474.8" r="1.1" fill="#666"/><circle cx="271.0" cy="472.5" r="0.7" fill="#707070"/><circle cx="271.1" cy="475.0" r="1.0" fill="#666"/><circle cx="273.4" cy="474.9" r="0.5" fill="#666"/><circle cx="268.9" cy="473.2" r="1.0" fill="#555"/><circle cx="271.0" cy="467.6" r="1.0" fill="#707070"/><circle cx="272.5" cy="467.9" r="1.1" fill="#666"/><circle cx="273.5" cy="468.3" r="1.0" fill="#707070"/><circle cx="272.4" cy="466.7" r="0.9" fill="#707070"/><circle cx="289.4" cy="473.3" r="1.1" fill="#666"/><circle cx="290.3" cy="470.4" r="0.6" fill="#555"/><circle cx="290.3" cy="470.4" r="0.8" fill="#666"/><circle cx="288.9" cy="471.2" r="1.1" fill="#707070"/><circle cx="243.0" cy="464.4" r="1.1" fill="#666"/><circle cx="246.7" cy="463.1" r="0.9" fill="#707070"/><circle cx="243.8" cy="463.0" r="1.1" fill="#707070"/><circle cx="241.6" cy="464.3" r="0.7" fill="#666"/><circle cx="246.0" cy="464.3" r="1.1" fill="#555"/><circle cx="268.0" cy="469.1" r="0.6" fill="#707070"/><circle cx="272.0" cy="467.9" r="0.9" fill="#707070"/><circle cx="273.2" cy="468.4" r="1.0" fill="#555"/><circle cx="270.5" cy="467.1" r="0.7" fill="#707070"/><circle cx="245.3" cy="444.8" r="1.2" fill="#555"/><circle cx="243.4" cy="446.2" r="0.6" fill="#707070"/><circle cx="245.4" cy="444.2" r="0.8" fill="#555"/></g><circle cx="260.4" cy="452.8" r="23.1" fill="#8c8c8c" opacity="0.6" filter="url(#db4)"/><path d="M275.0,452.8 L274.7,454.4 L274.8,456.1 L274.6,457.8 L273.5,459.1 L272.6,460.4 L271.9,462.0 L270.8,463.2 L269.4,464.1 L268.0,464.9 L266.4,465.3 L264.8,465.5 L263.5,466.2 L262.0,466.7 L260.4,466.4 L258.9,466.4 L257.2,466.6 L255.6,466.5 L254.0,466.1 L252.4,465.5 L251.3,464.2 L250.3,462.9 L249.0,461.9 L248.0,460.6 L247.7,458.9 L247.4,457.4 L246.8,455.9 L246.4,454.4 L246.1,452.8 L245.9,451.2 L246.6,449.6 L247.2,448.2 L247.4,446.5 L248.0,445.0 L249.2,443.9 L250.3,442.7 L251.4,441.6 L252.7,440.6 L254.0,439.5 L255.4,438.5 L257.1,438.5 L258.8,438.5 L260.4,438.1 L262.0,438.3 L263.5,439.2 L264.9,439.9 L266.2,440.7 L267.4,441.6 L268.9,442.2 L270.3,442.9 L271.2,444.2 L272.1,445.4 L273.5,446.5 L274.4,447.9 L274.8,449.5 L275.1,451.1Z" fill="#3c3c3c" filter="url(#db03)"/><path d="M274.3,452.8 L274.0,454.3 L274.1,455.9 L273.9,457.5 L272.9,458.8 L272.0,460.1 L271.3,461.5 L270.3,462.7 L269.0,463.6 L267.6,464.3 L266.1,464.7 L264.6,464.9 L263.3,465.6 L261.9,466.0 L260.4,465.8 L258.9,465.7 L257.4,466.0 L255.8,465.8 L254.3,465.4 L252.8,464.8 L251.7,463.7 L250.8,462.4 L249.5,461.5 L248.6,460.2 L248.4,458.6 L248.0,457.1 L247.4,455.8 L247.1,454.3 L246.8,452.8 L246.7,451.3 L247.2,449.8 L247.8,448.4 L248.0,446.8 L248.6,445.4 L249.8,444.3 L250.8,443.2 L251.9,442.1 L253.1,441.2 L254.3,440.1 L255.7,439.2 L257.3,439.2 L258.9,439.2 L260.4,438.9 L262.0,439.0 L263.4,439.8 L264.7,440.5 L265.9,441.3 L267.1,442.1 L268.5,442.7 L269.8,443.4 L270.6,444.6 L271.5,445.8 L272.8,446.8 L273.7,448.1 L274.1,449.7 L274.4,451.2Z" fill="#0e0e0e" filter="url(#db03)"/><g filter="url(#db03)"><circle cx="247.1" cy="452.7" r="1.7" fill="#181818"/><circle cx="273.5" cy="450.4" r="1.4" fill="#181818"/><circle cx="273.0" cy="448.6" r="1.2" fill="#111"/><circle cx="255.6" cy="465.3" r="1.6" fill="#181818"/><circle cx="255.7" cy="440.3" r="1.2" fill="#111"/><circle cx="259.6" cy="439.5" r="1.5" fill="#202020"/><circle cx="269.1" cy="462.9" r="1.2" fill="#181818"/><circle cx="250.4" cy="443.9" r="2.0" fill="#202020"/><circle cx="273.1" cy="448.7" r="1.0" fill="#111"/><circle cx="257.8" cy="439.7" r="2.0" fill="#181818"/><circle cx="250.5" cy="461.7" r="0.9" fill="#202020"/><circle cx="257.3" cy="439.8" r="1.0" fill="#181818"/><circle cx="269.3" cy="442.8" r="1.2" fill="#181818"/><circle cx="247.5" cy="449.4" r="0.9" fill="#202020"/></g><rect x="283.8" y="471.7" width="9" height="1.9" fill="#fff"/></g><g clip-path="url(#dc23)"><rect x="297.1" y="426" width="64.9" height="50.3" fill="#b4b4b4"/><g filter="url(#db4)"><ellipse cx="321.2" cy="453.3" rx="9.4" ry="10.7" fill="#cacaca"/><ellipse cx="324.2" cy="458.7" rx="13.5" ry="9.9" fill="#cacaca"/><ellipse cx="329.7" cy="468.1" rx="12.6" ry="7.1" fill="#cacaca"/><ellipse cx="329.0" cy="453.9" rx="11.5" ry="9.0" fill="#cacaca"/><ellipse cx="324.1" cy="467.6" rx="13.9" ry="6.0" fill="#cacaca"/><ellipse cx="346.6" cy="434.3" rx="9.9" ry="9.6" fill="#cacaca"/><ellipse cx="299.0" cy="475.0" rx="6.1" ry="7.4" fill="#8a8a8a" opacity="0.45"/><ellipse cx="334.1" cy="453.0" rx="9.7" ry="5.4" fill="#8a8a8a" opacity="0.45"/><ellipse cx="359.2" cy="463.3" rx="7.5" ry="5.9" fill="#8a8a8a" opacity="0.45"/></g><circle cx="349.6" cy="428.6" r="0.38" fill="#666"/><circle cx="320.6" cy="448.1" r="0.51" fill="#555"/><circle cx="319.7" cy="462.0" r="0.64" fill="#555"/><circle cx="316.4" cy="465.5" r="0.34" fill="#777"/><circle cx="345.7" cy="455.1" r="0.52" fill="#666"/><circle cx="333.3" cy="456.9" r="0.46" fill="#666"/><circle cx="343.6" cy="446.9" r="0.31" fill="#555"/><circle cx="305.6" cy="435.3" r="0.49" fill="#777"/><circle cx="335.1" cy="475.7" r="0.42" fill="#666"/><circle cx="302.9" cy="451.8" r="0.31" fill="#777"/><circle cx="312.7" cy="472.3" r="0.36" fill="#666"/><circle cx="342.6" cy="471.4" r="0.65" fill="#666"/><circle cx="354.8" cy="471.6" r="0.42" fill="#777"/><circle cx="311.3" cy="443.9" r="0.34" fill="#555"/><circle cx="306.0" cy="460.7" r="0.36" fill="#777"/><circle cx="302.2" cy="435.5" r="0.48" fill="#666"/><circle cx="320.1" cy="445.6" r="0.35" fill="#777"/><circle cx="326.7" cy="457.8" r="0.36" fill="#555"/><circle cx="313.4" cy="434.2" r="0.34" fill="#555"/><circle cx="333.3" cy="459.9" r="0.38" fill="#555"/><circle cx="333.2" cy="450.7" r="0.50" fill="#777"/><circle cx="314.4" cy="435.5" r="0.35" fill="#777"/><circle cx="339.7" cy="451.4" r="0.45" fill="#555"/><circle cx="314.6" cy="434.6" r="0.46" fill="#666"/><circle cx="305.4" cy="465.9" r="0.60" fill="#777"/><circle cx="308.9" cy="446.4" r="0.54" fill="#777"/><circle cx="304.3" cy="443.6" r="0.31" fill="#555"/><circle cx="338.7" cy="454.3" r="0.39" fill="#555"/><circle cx="337.2" cy="431.3" r="0.49" fill="#666"/><circle cx="326.8" cy="453.3" r="0.61" fill="#777"/><circle cx="299.2" cy="446.8" r="0.34" fill="#666"/><circle cx="349.7" cy="461.4" r="0.38" fill="#555"/><circle cx="329.0" cy="461.2" r="0.31" fill="#777"/><circle cx="324.3" cy="446.4" r="0.48" fill="#666"/><circle cx="325.1" cy="438.5" r="0.60" fill="#777"/><circle cx="357.4" cy="452.4" r="0.62" fill="#555"/><circle cx="330.2" cy="453.6" r="0.32" fill="#666"/><circle cx="308.0" cy="472.4" r="0.48" fill="#555"/><circle cx="351.6" cy="454.9" r="0.45" fill="#777"/><circle cx="339.5" cy="472.0" r="0.44" fill="#555"/><circle cx="355.3" cy="476.1" r="0.34" fill="#555"/><circle cx="300.2" cy="452.7" r="0.51" fill="#555"/><circle cx="316.0" cy="443.5" r="0.62" fill="#777"/><circle cx="330.6" cy="428.9" r="0.55" fill="#777"/><circle cx="343.2" cy="460.0" r="0.46" fill="#555"/><circle cx="361.8" cy="431.4" r="0.52" fill="#555"/><circle cx="311.6" cy="429.7" r="0.61" fill="#777"/><circle cx="347.5" cy="454.3" r="0.65" fill="#666"/><circle cx="313.1" cy="427.5" r="0.40" fill="#555"/><circle cx="333.7" cy="460.8" r="0.62" fill="#666"/><circle cx="357.5" cy="463.6" r="0.31" fill="#777"/><circle cx="317.4" cy="456.9" r="0.35" fill="#777"/><circle cx="310.2" cy="471.6" r="0.43" fill="#666"/><circle cx="316.7" cy="466.3" r="0.41" fill="#666"/><circle cx="359.3" cy="461.4" r="0.52" fill="#777"/><circle cx="332.7" cy="451.7" r="0.55" fill="#666"/><circle cx="344.4" cy="443.5" r="0.35" fill="#777"/><circle cx="340.9" cy="468.4" r="0.36" fill="#555"/><circle cx="333.7" cy="450.0" r="0.58" fill="#555"/><circle cx="321.0" cy="431.3" r="0.47" fill="#666"/><circle cx="348.0" cy="439.2" r="0.37" fill="#555"/><circle cx="315.0" cy="435.9" r="0.30" fill="#555"/><circle cx="310.0" cy="452.0" r="0.44" fill="#555"/><circle cx="350.9" cy="469.8" r="0.60" fill="#777"/><circle cx="317.2" cy="463.3" r="0.55" fill="#666"/><circle cx="321.9" cy="475.3" r="0.65" fill="#666"/><circle cx="316.5" cy="430.3" r="0.63" fill="#555"/><circle cx="342.8" cy="439.0" r="0.32" fill="#666"/><circle cx="313.0" cy="461.7" r="0.38" fill="#666"/><circle cx="337.4" cy="459.4" r="0.58" fill="#666"/><circle cx="341.7" cy="458.3" r="0.41" fill="#777"/><circle cx="337.8" cy="428.9" r="0.47" fill="#666"/><circle cx="342.4" cy="434.4" r="0.57" fill="#777"/><circle cx="321.3" cy="448.7" r="0.48" fill="#666"/><circle cx="311.7" cy="426.9" r="0.60" fill="#555"/><circle cx="313.2" cy="474.3" r="0.33" fill="#777"/><circle cx="319.8" cy="451.6" r="0.64" fill="#777"/><circle cx="325.7" cy="438.4" r="0.54" fill="#555"/><circle cx="331.7" cy="428.9" r="0.65" fill="#555"/><circle cx="311.5" cy="463.0" r="0.45" fill="#777"/><circle cx="345.4" cy="431.7" r="0.40" fill="#777"/><circle cx="351.7" cy="474.4" r="0.34" fill="#666"/><circle cx="318.7" cy="434.6" r="0.63" fill="#555"/><circle cx="298.9" cy="459.5" r="0.42" fill="#555"/><circle cx="316.5" cy="471.7" r="0.57" fill="#666"/><circle cx="313.2" cy="466.6" r="0.36" fill="#666"/><circle cx="334.5" cy="467.2" r="0.58" fill="#555"/><circle cx="341.3" cy="433.4" r="0.60" fill="#555"/><circle cx="311.1" cy="453.9" r="0.52" fill="#555"/><circle cx="314.4" cy="474.8" r="0.53" fill="#555"/><circle cx="339.7" cy="433.9" r="0.33" fill="#555"/><circle cx="356.8" cy="432.6" r="0.55" fill="#666"/><circle cx="307.0" cy="434.9" r="0.59" fill="#777"/><circle cx="337.2" cy="434.8" r="0.62" fill="#777"/><circle cx="336.4" cy="441.0" r="0.60" fill="#555"/><circle cx="307.3" cy="450.3" r="0.46" fill="#666"/><circle cx="327.6" cy="448.5" r="0.53" fill="#777"/><circle cx="299.4" cy="470.2" r="0.45" fill="#666"/><circle cx="343.2" cy="454.3" r="0.64" fill="#555"/><circle cx="299.1" cy="428.4" r="0.64" fill="#555"/><g filter="url(#db03)"><circle cx="333.0" cy="432.5" r="0.6" fill="#666"/><circle cx="331.7" cy="431.9" r="0.9" fill="#707070"/><circle cx="331.3" cy="430.3" r="1.1" fill="#555"/><circle cx="333.2" cy="431.3" r="1.0" fill="#666"/><circle cx="326.4" cy="436.6" r="0.6" fill="#555"/><circle cx="328.1" cy="437.3" r="1.1" fill="#707070"/><circle cx="330.1" cy="437.2" r="1.1" fill="#707070"/><circle cx="330.0" cy="438.5" r="0.6" fill="#555"/><circle cx="329.0" cy="437.0" r="0.8" fill="#666"/><circle cx="327.8" cy="436.8" r="1.1" fill="#707070"/></g><path d="M342.6,450.2 L342.8,451.6 L342.4,452.9 L341.7,454.1 L341.2,455.2 L340.5,456.3 L339.9,457.5 L339.4,458.9 L338.4,459.9 L337.1,460.5 L336.0,461.3 L334.9,462.1 L333.5,462.3 L332.1,462.3 L330.7,462.2 L329.4,461.7 L328.1,461.5 L326.7,461.5 L325.5,460.9 L324.6,459.9 L323.5,459.3 L322.3,458.6 L321.6,457.5 L320.9,456.4 L320.4,455.2 L320.3,453.8 L319.8,452.7 L319.1,451.5 L318.9,450.2 L319.1,448.9 L318.9,447.5 L318.9,446.1 L319.3,444.7 L319.8,443.4 L320.8,442.3 L322.1,441.6 L323.2,440.8 L324.1,439.8 L325.5,439.3 L326.8,439.2 L328.1,438.8 L329.4,438.5 L330.7,438.3 L332.1,438.2 L333.4,438.5 L334.5,439.4 L335.6,439.9 L336.9,440.3 L337.9,441.1 L338.7,442.2 L339.6,443.1 L340.5,444.0 L341.4,445.1 L342.3,446.1 L342.7,447.5 L342.5,448.9Z" fill="#3c3c3c" filter="url(#db03)"/><path d="M341.9,450.2 L342.1,451.5 L341.7,452.7 L341.1,453.8 L340.5,454.9 L339.9,456.0 L339.3,457.1 L338.9,458.4 L338.0,459.3 L336.8,459.8 L335.7,460.6 L334.6,461.4 L333.3,461.6 L332.0,461.6 L330.7,461.5 L329.5,461.0 L328.3,460.8 L327.0,460.9 L325.8,460.3 L324.9,459.4 L323.9,458.7 L322.8,458.1 L322.1,457.1 L321.5,456.0 L321.0,454.9 L320.9,453.6 L320.5,452.5 L319.7,451.4 L319.6,450.2 L319.7,449.0 L319.6,447.7 L319.6,446.3 L320.0,445.0 L320.5,443.8 L321.4,442.8 L322.6,442.1 L323.6,441.3 L324.5,440.4 L325.8,440.0 L327.1,439.8 L328.2,439.5 L329.5,439.2 L330.7,439.0 L332.0,438.9 L333.2,439.2 L334.3,440.1 L335.4,440.5 L336.6,440.9 L337.5,441.7 L338.2,442.7 L339.1,443.5 L339.9,444.4 L340.7,445.4 L341.7,446.4 L342.0,447.6 L341.8,448.9Z" fill="#0e0e0e" filter="url(#db03)"/><g filter="url(#db03)"><circle cx="339.5" cy="456.8" r="0.9" fill="#202020"/><circle cx="341.5" cy="448.4" r="1.6" fill="#111"/><circle cx="336.5" cy="459.5" r="1.9" fill="#202020"/><circle cx="328.0" cy="439.6" r="1.2" fill="#202020"/><circle cx="323.6" cy="458.6" r="1.9" fill="#111"/><circle cx="320.9" cy="445.2" r="1.2" fill="#111"/><circle cx="324.7" cy="441.0" r="1.2" fill="#181818"/><circle cx="338.1" cy="442.1" r="1.1" fill="#181818"/><circle cx="326.0" cy="440.3" r="1.1" fill="#181818"/><circle cx="320.4" cy="446.3" r="0.9" fill="#111"/><circle cx="327.7" cy="460.7" r="1.4" fill="#202020"/><circle cx="335.1" cy="460.3" r="1.0" fill="#181818"/><circle cx="327.2" cy="460.6" r="1.4" fill="#111"/><circle cx="340.1" cy="444.5" r="1.8" fill="#181818"/></g><rect x="350.8" y="471.7" width="9" height="1.9" fill="#fff"/></g><g clip-path="url(#dc30)"><rect x="92" y="478" width="66.9" height="50" fill="#c2c2c2"/><g filter="url(#db4)"><ellipse cx="139.9" cy="482.0" rx="7.2" ry="9.9" fill="#d8d8d8"/><ellipse cx="146.1" cy="525.9" rx="10.3" ry="6.0" fill="#d8d8d8"/><ellipse cx="147.2" cy="525.3" rx="14.6" ry="7.0" fill="#d8d8d8"/><ellipse cx="136.0" cy="485.5" rx="7.6" ry="5.1" fill="#d8d8d8"/><ellipse cx="154.4" cy="512.2" rx="14.1" ry="8.0" fill="#d8d8d8"/><ellipse cx="97.8" cy="505.5" rx="15.0" ry="9.8" fill="#d8d8d8"/><ellipse cx="108.9" cy="508.3" rx="7.6" ry="5.6" fill="#8a8a8a" opacity="0.45"/><ellipse cx="130.0" cy="507.1" rx="6.2" ry="6.9" fill="#8a8a8a" opacity="0.45"/><ellipse cx="136.5" cy="520.8" rx="9.7" ry="4.1" fill="#8a8a8a" opacity="0.45"/></g><circle cx="116.3" cy="493.1" r="0.38" fill="#666"/><circle cx="104.8" cy="480.7" r="0.35" fill="#777"/><circle cx="147.9" cy="520.1" r="0.31" fill="#666"/><circle cx="145.6" cy="510.9" r="0.39" fill="#666"/><circle cx="155.0" cy="524.9" r="0.43" fill="#555"/><circle cx="148.8" cy="513.9" r="0.37" fill="#777"/><circle cx="144.7" cy="502.4" r="0.55" fill="#777"/><circle cx="104.5" cy="497.7" r="0.37" fill="#666"/><circle cx="102.4" cy="513.4" r="0.51" fill="#666"/><circle cx="157.8" cy="486.8" r="0.64" fill="#666"/><circle cx="154.1" cy="510.2" r="0.61" fill="#666"/><circle cx="152.6" cy="500.8" r="0.33" fill="#666"/><circle cx="126.2" cy="511.6" r="0.59" fill="#666"/><circle cx="150.1" cy="520.8" r="0.52" fill="#777"/><circle cx="140.7" cy="525.3" r="0.51" fill="#555"/><circle cx="94.9" cy="526.4" r="0.65" fill="#666"/><circle cx="137.7" cy="484.1" r="0.31" fill="#666"/><circle cx="99.3" cy="519.9" r="0.39" fill="#777"/><circle cx="141.6" cy="523.8" r="0.43" fill="#555"/><circle cx="116.3" cy="498.5" r="0.60" fill="#555"/><circle cx="157.2" cy="526.0" r="0.54" fill="#777"/><circle cx="134.2" cy="496.7" r="0.47" fill="#555"/><circle cx="113.7" cy="525.3" r="0.37" fill="#777"/><circle cx="130.4" cy="500.2" r="0.57" fill="#666"/><circle cx="138.1" cy="515.7" r="0.58" fill="#777"/><circle cx="152.5" cy="503.4" r="0.40" fill="#666"/><circle cx="130.9" cy="504.9" r="0.50" fill="#555"/><circle cx="128.5" cy="505.9" r="0.55" fill="#777"/><circle cx="117.2" cy="502.6" r="0.44" fill="#555"/><circle cx="140.6" cy="496.9" r="0.52" fill="#555"/><circle cx="143.2" cy="512.2" r="0.48" fill="#777"/><circle cx="108.5" cy="479.6" r="0.47" fill="#666"/><circle cx="117.4" cy="521.3" r="0.38" fill="#666"/><circle cx="158.8" cy="482.4" r="0.50" fill="#555"/><circle cx="109.1" cy="485.5" r="0.59" fill="#777"/><circle cx="111.6" cy="490.8" r="0.38" fill="#777"/><circle cx="135.4" cy="490.3" r="0.37" fill="#666"/><circle cx="110.5" cy="497.5" r="0.62" fill="#666"/><circle cx="99.7" cy="495.2" r="0.64" fill="#666"/><circle cx="149.1" cy="513.6" r="0.62" fill="#555"/><circle cx="116.1" cy="511.3" r="0.34" fill="#777"/><circle cx="107.4" cy="485.2" r="0.47" fill="#777"/><circle cx="103.3" cy="502.2" r="0.64" fill="#555"/><circle cx="115.6" cy="524.8" r="0.44" fill="#777"/><circle cx="129.9" cy="523.7" r="0.59" fill="#777"/><circle cx="94.9" cy="490.6" r="0.40" fill="#777"/><circle cx="140.0" cy="479.8" r="0.38" fill="#777"/><circle cx="103.3" cy="504.7" r="0.48" fill="#555"/><circle cx="141.3" cy="500.6" r="0.56" fill="#666"/><circle cx="108.9" cy="512.8" r="0.36" fill="#777"/><g filter="url(#db03)"><circle cx="143.0" cy="513.1" r="0.5" fill="#555"/><circle cx="142.5" cy="511.7" r="1.2" fill="#707070"/><circle cx="143.5" cy="515.2" r="0.9" fill="#666"/><circle cx="128.0" cy="522.8" r="0.7" fill="#707070"/><circle cx="129.4" cy="520.2" r="0.9" fill="#666"/><circle cx="126.7" cy="519.7" r="0.5" fill="#707070"/><circle cx="129.1" cy="521.9" r="0.8" fill="#707070"/><circle cx="107.7" cy="507.4" r="1.2" fill="#666"/><circle cx="107.5" cy="504.1" r="1.2" fill="#707070"/><circle cx="104.5" cy="507.0" r="0.7" fill="#666"/><circle cx="106.4" cy="506.1" r="1.1" fill="#707070"/><circle cx="128.6" cy="515.3" r="1.2" fill="#666"/><circle cx="129.0" cy="517.0" r="1.2" fill="#666"/><circle cx="127.5" cy="517.6" r="0.6" fill="#555"/><circle cx="129.8" cy="518.1" r="1.2" fill="#555"/><circle cx="127.8" cy="514.6" r="0.8" fill="#666"/><circle cx="124.3" cy="496.3" r="1.1" fill="#707070"/><circle cx="125.2" cy="497.8" r="0.7" fill="#555"/><circle cx="122.6" cy="496.9" r="1.1" fill="#555"/></g><path d="M144.8,497.5 L144.9,499.2 L144.9,501.0 L144.2,502.6 L143.6,504.2 L143.1,506.0 L141.9,507.3 L140.2,508.1 L138.9,509.2 L137.6,510.3 L136.2,511.1 L134.7,512.0 L133.1,512.7 L131.3,512.7 L129.6,513.0 L127.8,513.4 L126.1,512.9 L124.6,511.9 L123.0,511.2 L121.4,510.5 L120.0,509.5 L118.4,508.7 L117.0,507.5 L116.1,506.0 L115.0,504.5 L113.8,503.0 L113.4,501.2 L113.7,499.3 L114.0,497.5 L114.4,495.8 L115.2,494.2 L115.6,492.6 L116.4,491.1 L117.6,489.9 L118.3,488.5 L118.9,486.8 L120.1,485.5 L121.5,484.6 L122.9,483.7 L124.6,483.1 L126.2,482.6 L127.8,481.9 L129.6,481.8 L131.3,482.2 L133.1,482.2 L135.0,482.0 L136.8,482.6 L138.4,483.6 L139.9,484.6 L141.0,486.1 L141.9,487.7 L143.0,489.1 L143.4,490.8 L143.4,492.7 L143.8,494.2 L144.6,495.8Z" fill="#3c3c3c" filter="url(#db03)"/><path d="M144.1,497.5 L144.2,499.1 L144.2,500.8 L143.6,502.4 L143.0,503.9 L142.5,505.6 L141.3,506.8 L139.7,507.6 L138.5,508.6 L137.3,509.7 L135.9,510.5 L134.4,511.3 L132.9,512.0 L131.2,512.0 L129.6,512.3 L127.9,512.7 L126.2,512.2 L124.8,511.3 L123.3,510.6 L121.8,509.9 L120.4,509.0 L118.9,508.2 L117.6,507.1 L116.7,505.6 L115.7,504.2 L114.5,502.8 L114.1,501.0 L114.5,499.2 L114.7,497.5 L115.1,495.9 L115.8,494.4 L116.2,492.8 L117.0,491.4 L118.1,490.3 L118.8,488.9 L119.4,487.3 L120.5,486.1 L121.9,485.2 L123.2,484.3 L124.8,483.7 L126.4,483.3 L127.9,482.6 L129.6,482.5 L131.2,482.9 L132.9,482.9 L134.8,482.7 L136.4,483.3 L138.0,484.2 L139.4,485.2 L140.4,486.7 L141.3,488.2 L142.3,489.5 L142.8,491.1 L142.8,492.9 L143.2,494.4 L143.9,495.9Z" fill="#0e0e0e" filter="url(#db03)"/><g filter="url(#db03)"><circle cx="144.0" cy="495.6" r="1.5" fill="#111"/><circle cx="141.1" cy="506.3" r="0.9" fill="#181818"/><circle cx="118.8" cy="507.2" r="1.6" fill="#181818"/><circle cx="129.2" cy="483.0" r="1.4" fill="#181818"/><circle cx="130.3" cy="483.0" r="1.0" fill="#111"/><circle cx="143.9" cy="495.1" r="0.9" fill="#202020"/><circle cx="133.4" cy="511.5" r="1.7" fill="#181818"/><circle cx="115.1" cy="498.4" r="1.0" fill="#111"/><circle cx="116.4" cy="491.5" r="1.0" fill="#202020"/><circle cx="137.1" cy="509.9" r="1.1" fill="#181818"/><circle cx="117.9" cy="488.9" r="0.8" fill="#111"/><circle cx="136.4" cy="510.3" r="1.0" fill="#111"/><circle cx="139.7" cy="507.9" r="0.9" fill="#181818"/><circle cx="115.1" cy="496.5" r="1.6" fill="#181818"/></g><rect x="147.7" y="523.4" width="9" height="1.9" fill="#fff"/></g><g clip-path="url(#dc31)"><rect x="161.5" y="478" width="65.5" height="50" fill="#a6a6a6"/><g filter="url(#db4)"><ellipse cx="218.2" cy="519.7" rx="5.2" ry="5.6" fill="#c8c8c8"/><ellipse cx="174.2" cy="478.6" rx="8.5" ry="5.5" fill="#c8c8c8"/><ellipse cx="163.4" cy="486.0" rx="6.3" ry="6.3" fill="#c8c8c8"/><ellipse cx="213.7" cy="496.4" rx="6.5" ry="5.2" fill="#c8c8c8"/><ellipse cx="186.0" cy="493.1" rx="7.2" ry="4.4" fill="#c8c8c8"/><ellipse cx="211.7" cy="481.8" rx="9.0" ry="5.5" fill="#c8c8c8"/><ellipse cx="194.9" cy="500.4" rx="5.8" ry="4.5" fill="#c8c8c8"/><ellipse cx="165.9" cy="490.3" rx="5.4" ry="5.5" fill="#c8c8c8"/><ellipse cx="208.9" cy="479.6" rx="8.1" ry="5.0" fill="#c8c8c8"/><ellipse cx="225.9" cy="501.4" rx="6.4" ry="4.1" fill="#c8c8c8"/><ellipse cx="214.5" cy="492.6" rx="7.7" ry="4.0" fill="#8a8a8a" opacity="0.45"/><ellipse cx="206.0" cy="483.8" rx="5.7" ry="4.0" fill="#8a8a8a" opacity="0.45"/><ellipse cx="182.0" cy="513.0" rx="6.9" ry="4.2" fill="#8a8a8a" opacity="0.45"/></g><circle cx="226.5" cy="511.5" r="0.57" fill="#777"/><circle cx="219.6" cy="523.7" r="0.51" fill="#777"/><circle cx="205.4" cy="498.9" r="0.47" fill="#666"/><circle cx="184.3" cy="526.9" r="0.55" fill="#666"/><circle cx="188.5" cy="491.2" r="0.44" fill="#777"/><circle cx="212.8" cy="497.5" r="0.46" fill="#666"/><circle cx="219.8" cy="506.4" r="0.50" fill="#777"/><circle cx="201.5" cy="481.6" r="0.40" fill="#666"/><circle cx="165.9" cy="491.9" r="0.55" fill="#777"/><circle cx="216.4" cy="522.1" r="0.59" fill="#777"/><circle cx="216.7" cy="511.3" r="0.59" fill="#666"/><circle cx="195.8" cy="520.1" r="0.60" fill="#555"/><circle cx="226.3" cy="480.9" r="0.64" fill="#666"/><circle cx="161.9" cy="495.2" r="0.57" fill="#666"/><circle cx="175.1" cy="487.2" r="0.56" fill="#777"/><circle cx="194.9" cy="506.4" r="0.50" fill="#666"/><circle cx="202.8" cy="479.4" r="0.54" fill="#777"/><circle cx="206.0" cy="504.9" r="0.40" fill="#555"/><circle cx="196.0" cy="495.7" r="0.60" fill="#666"/><circle cx="185.5" cy="496.4" r="0.51" fill="#777"/><circle cx="168.2" cy="487.9" r="0.51" fill="#666"/><circle cx="164.8" cy="505.3" r="0.55" fill="#777"/><circle cx="192.5" cy="493.6" r="0.62" fill="#777"/><circle cx="186.7" cy="484.8" r="0.45" fill="#666"/><circle cx="189.3" cy="485.9" r="0.31" fill="#777"/><circle cx="184.4" cy="484.0" r="0.62" fill="#777"/><circle cx="206.1" cy="509.9" r="0.51" fill="#777"/><circle cx="183.6" cy="511.4" r="0.55" fill="#777"/><circle cx="183.3" cy="523.9" r="0.38" fill="#555"/><circle cx="209.3" cy="521.6" r="0.50" fill="#555"/><circle cx="210.7" cy="518.3" r="0.52" fill="#666"/><circle cx="179.6" cy="484.8" r="0.31" fill="#666"/><circle cx="173.7" cy="494.4" r="0.49" fill="#555"/><circle cx="200.2" cy="482.1" r="0.39" fill="#666"/><circle cx="174.7" cy="512.8" r="0.32" fill="#666"/><circle cx="208.6" cy="525.4" r="0.47" fill="#555"/><circle cx="178.6" cy="494.9" r="0.43" fill="#777"/><circle cx="174.0" cy="506.8" r="0.34" fill="#666"/><circle cx="170.7" cy="481.7" r="0.45" fill="#555"/><circle cx="187.6" cy="511.4" r="0.44" fill="#555"/><circle cx="206.6" cy="493.7" r="0.62" fill="#666"/><circle cx="205.1" cy="524.4" r="0.53" fill="#666"/><circle cx="178.7" cy="514.6" r="0.31" fill="#777"/><circle cx="219.9" cy="502.5" r="0.54" fill="#777"/><circle cx="180.2" cy="513.9" r="0.32" fill="#777"/><circle cx="165.2" cy="490.2" r="0.34" fill="#666"/><circle cx="165.8" cy="486.1" r="0.61" fill="#777"/><circle cx="178.2" cy="478.6" r="0.30" fill="#777"/><circle cx="181.2" cy="503.5" r="0.37" fill="#555"/><circle cx="178.2" cy="479.4" r="0.52" fill="#555"/><g filter="url(#db03)"><circle cx="168.6" cy="528.6" r="1.4" fill="#6a6a6a"/><circle cx="167.4" cy="527.4" r="1.8" fill="#585858"/><circle cx="167.7" cy="526.6" r="1.3" fill="#6a6a6a"/><circle cx="171.1" cy="527.8" r="1.3" fill="#6a6a6a"/><circle cx="164.4" cy="503.1" r="1.1" fill="#606060"/><circle cx="165.3" cy="501.6" r="1.9" fill="#585858"/><circle cx="161.8" cy="503.4" r="1.2" fill="#585858"/><circle cx="163.5" cy="503.9" r="1.9" fill="#6a6a6a"/><circle cx="161.4" cy="501.6" r="1.5" fill="#606060"/><circle cx="168.1" cy="501.5" r="1.1" fill="#585858"/><circle cx="162.9" cy="501.6" r="1.8" fill="#606060"/><circle cx="199.0" cy="487.9" r="1.6" fill="#606060"/><circle cx="199.6" cy="487.1" r="1.2" fill="#585858"/><circle cx="198.5" cy="484.6" r="1.3" fill="#606060"/><circle cx="200.2" cy="486.8" r="1.3" fill="#6a6a6a"/><circle cx="211.3" cy="501.6" r="1.4" fill="#606060"/><circle cx="211.3" cy="500.3" r="1.4" fill="#606060"/><circle cx="210.7" cy="499.7" r="1.3" fill="#6a6a6a"/><circle cx="211.8" cy="500.3" r="0.9" fill="#585858"/><circle cx="213.3" cy="502.6" r="1.3" fill="#606060"/><circle cx="211.2" cy="502.7" r="1.2" fill="#585858"/><circle cx="214.4" cy="503.3" r="0.9" fill="#606060"/><circle cx="175.4" cy="504.0" r="1.3" fill="#585858"/><circle cx="174.3" cy="501.4" r="1.6" fill="#6a6a6a"/><circle cx="177.5" cy="505.7" r="1.7" fill="#6a6a6a"/><circle cx="178.1" cy="505.1" r="1.4" fill="#606060"/><circle cx="173.8" cy="505.2" r="1.6" fill="#6a6a6a"/><circle cx="174.7" cy="504.0" r="1.0" fill="#585858"/><circle cx="176.2" cy="503.9" r="1.4" fill="#606060"/><circle cx="178.4" cy="498.4" r="1.6" fill="#585858"/><circle cx="179.0" cy="499.8" r="1.5" fill="#585858"/><circle cx="173.0" cy="499.9" r="1.3" fill="#606060"/><circle cx="176.4" cy="500.6" r="1.0" fill="#606060"/><circle cx="210.0" cy="514.1" r="1.5" fill="#606060"/><circle cx="209.6" cy="514.6" r="1.7" fill="#585858"/><circle cx="207.7" cy="515.6" r="1.4" fill="#606060"/><circle cx="207.2" cy="517.0" r="1.6" fill="#606060"/><circle cx="211.9" cy="523.4" r="1.2" fill="#585858"/><circle cx="209.5" cy="520.6" r="1.7" fill="#585858"/><circle cx="208.4" cy="520.3" r="1.3" fill="#585858"/><circle cx="210.6" cy="519.6" r="1.8" fill="#6a6a6a"/><circle cx="206.3" cy="523.7" r="1.4" fill="#606060"/><circle cx="210.0" cy="520.4" r="1.2" fill="#6a6a6a"/><circle cx="224.5" cy="524.5" r="1.5" fill="#6a6a6a"/><circle cx="220.2" cy="523.8" r="1.2" fill="#585858"/><circle cx="224.1" cy="522.2" r="1.3" fill="#6a6a6a"/><circle cx="223.6" cy="526.8" r="1.4" fill="#606060"/><circle cx="226.9" cy="524.4" r="1.0" fill="#6a6a6a"/><circle cx="209.4" cy="484.3" r="1.9" fill="#606060"/><circle cx="216.4" cy="483.9" r="1.6" fill="#606060"/><circle cx="214.0" cy="486.2" r="1.4" fill="#606060"/><circle cx="213.2" cy="486.5" r="1.2" fill="#606060"/><circle cx="188.6" cy="515.8" r="1.0" fill="#585858"/><circle cx="184.0" cy="512.4" r="1.2" fill="#606060"/><circle cx="187.2" cy="513.5" r="1.1" fill="#6a6a6a"/><circle cx="187.3" cy="510.6" r="1.3" fill="#6a6a6a"/><circle cx="188.5" cy="511.7" r="1.6" fill="#585858"/><circle cx="182.7" cy="511.3" r="1.2" fill="#606060"/><circle cx="215.5" cy="506.8" r="1.5" fill="#6a6a6a"/><circle cx="216.7" cy="507.1" r="1.7" fill="#585858"/><circle cx="213.6" cy="503.8" r="1.5" fill="#585858"/><circle cx="216.5" cy="506.9" r="1.3" fill="#606060"/><circle cx="219.4" cy="502.6" r="1.5" fill="#585858"/><circle cx="217.6" cy="505.0" r="1.8" fill="#585858"/><circle cx="215.2" cy="504.8" r="1.9" fill="#606060"/><circle cx="210.7" cy="518.8" r="1.6" fill="#6a6a6a"/><circle cx="207.7" cy="517.9" r="1.4" fill="#6a6a6a"/><circle cx="212.8" cy="518.5" r="1.6" fill="#606060"/><circle cx="199.8" cy="488.4" r="0.9" fill="#6a6a6a"/><circle cx="198.6" cy="487.5" r="1.6" fill="#585858"/><circle cx="196.8" cy="489.7" r="1.8" fill="#606060"/><circle cx="195.4" cy="489.1" r="1.4" fill="#6a6a6a"/><circle cx="198.9" cy="488.6" r="1.9" fill="#6a6a6a"/><circle cx="210.5" cy="512.9" r="1.4" fill="#585858"/><circle cx="207.3" cy="511.5" r="1.1" fill="#6a6a6a"/><circle cx="208.4" cy="512.0" r="1.0" fill="#606060"/><circle cx="208.9" cy="512.5" r="1.1" fill="#585858"/><circle cx="217.4" cy="508.3" r="1.7" fill="#606060"/><circle cx="211.7" cy="510.8" r="1.4" fill="#6a6a6a"/><circle cx="213.9" cy="513.9" r="1.5" fill="#585858"/><circle cx="216.4" cy="511.5" r="1.1" fill="#6a6a6a"/><circle cx="211.0" cy="506.9" r="1.5" fill="#606060"/><circle cx="217.2" cy="508.5" r="1.3" fill="#606060"/><circle cx="213.9" cy="512.3" r="1.2" fill="#585858"/></g><path d="M210.8,503.2 L211.3,504.9 L210.6,506.4 L209.7,507.9 L209.0,509.3 L208.2,510.6 L207.2,511.8 L206.2,513.0 L204.8,513.7 L203.4,514.3 L202.4,515.6 L201.1,516.8 L199.6,517.1 L198.0,517.2 L196.4,517.4 L194.8,517.2 L193.2,517.1 L191.7,516.7 L190.4,515.6 L189.3,514.4 L187.9,513.8 L186.5,513.1 L185.6,511.8 L184.9,510.4 L184.2,509.1 L183.8,507.6 L183.2,506.2 L182.7,504.7 L183.0,503.2 L183.5,501.7 L183.3,500.2 L183.1,498.6 L183.6,497.0 L184.2,495.5 L185.0,494.1 L186.1,492.9 L187.1,491.5 L188.3,490.3 L190.1,490.1 L191.8,490.1 L193.3,489.7 L194.8,489.4 L196.4,489.6 L197.9,489.7 L199.4,490.2 L200.7,490.9 L202.3,491.0 L203.8,491.4 L204.9,492.6 L205.7,493.9 L206.9,494.9 L207.9,496.0 L208.8,497.2 L209.6,498.6 L210.0,500.1 L210.1,501.7Z" fill="#3c3c3c" filter="url(#db03)"/><path d="M210.1,503.2 L210.5,504.8 L209.9,506.3 L209.0,507.6 L208.4,509.0 L207.6,510.2 L206.6,511.4 L205.7,512.5 L204.4,513.2 L203.0,513.8 L202.1,514.9 L200.9,516.1 L199.4,516.4 L197.9,516.5 L196.4,516.7 L194.9,516.5 L193.4,516.4 L191.9,516.1 L190.7,515.0 L189.7,513.9 L188.3,513.3 L187.0,512.6 L186.1,511.4 L185.4,510.1 L184.8,508.8 L184.4,507.4 L183.8,506.1 L183.3,504.7 L183.7,503.2 L184.2,501.8 L183.9,500.4 L183.8,498.8 L184.2,497.3 L184.8,495.9 L185.6,494.6 L186.6,493.4 L187.6,492.1 L188.7,491.0 L190.4,490.7 L192.1,490.8 L193.5,490.4 L194.9,490.1 L196.4,490.2 L197.8,490.4 L199.2,490.9 L200.5,491.5 L202.0,491.6 L203.5,492.0 L204.4,493.1 L205.2,494.4 L206.3,495.3 L207.3,496.3 L208.2,497.5 L209.0,498.8 L209.3,500.3 L209.4,501.7Z" fill="#0e0e0e" filter="url(#db03)"/><g filter="url(#db03)"><circle cx="203.8" cy="513.8" r="2.0" fill="#181818"/><circle cx="199.1" cy="490.6" r="1.7" fill="#111"/><circle cx="188.3" cy="513.3" r="1.4" fill="#202020"/><circle cx="187.4" cy="493.9" r="1.5" fill="#202020"/><circle cx="204.3" cy="513.5" r="1.8" fill="#181818"/><circle cx="183.7" cy="505.8" r="1.9" fill="#202020"/><circle cx="208.0" cy="508.9" r="1.9" fill="#202020"/><circle cx="192.5" cy="515.5" r="1.7" fill="#202020"/><circle cx="184.6" cy="508.4" r="0.8" fill="#181818"/><circle cx="183.6" cy="505.3" r="1.7" fill="#181818"/><circle cx="196.3" cy="490.3" r="1.8" fill="#111"/><circle cx="185.9" cy="495.7" r="1.6" fill="#111"/><circle cx="188.6" cy="513.5" r="1.5" fill="#111"/><circle cx="206.3" cy="494.8" r="1.1" fill="#111"/></g><rect x="215.8" y="523.4" width="9" height="1.9" fill="#fff"/></g><g clip-path="url(#dc32)"><rect x="229.6" y="478" width="65.4" height="50" fill="#a4a4a4"/><g filter="url(#db4)"><ellipse cx="248.1" cy="512.1" rx="9.0" ry="5.0" fill="#bcbcbc"/><ellipse cx="293.7" cy="521.5" rx="10.5" ry="10.2" fill="#bcbcbc"/><ellipse cx="233.5" cy="507.2" rx="11.6" ry="5.9" fill="#bcbcbc"/><ellipse cx="230.0" cy="498.6" rx="11.4" ry="7.5" fill="#bcbcbc"/><ellipse cx="262.3" cy="482.9" rx="9.2" ry="8.8" fill="#bcbcbc"/><ellipse cx="267.6" cy="493.7" rx="12.9" ry="5.2" fill="#bcbcbc"/><ellipse cx="230.9" cy="494.2" rx="5.0" ry="6.3" fill="#8a8a8a" opacity="0.45"/><ellipse cx="292.3" cy="515.5" rx="5.2" ry="6.1" fill="#8a8a8a" opacity="0.45"/><ellipse cx="283.6" cy="516.2" rx="9.2" ry="4.7" fill="#8a8a8a" opacity="0.45"/></g><circle cx="269.2" cy="504.9" r="0.34" fill="#777"/><circle cx="237.5" cy="502.1" r="0.44" fill="#666"/><circle cx="271.9" cy="506.0" r="0.46" fill="#666"/><circle cx="242.0" cy="486.7" r="0.48" fill="#777"/><circle cx="292.5" cy="521.9" r="0.44" fill="#666"/><circle cx="277.1" cy="493.5" r="0.54" fill="#666"/><circle cx="260.6" cy="479.3" r="0.40" fill="#555"/><circle cx="279.4" cy="480.6" r="0.37" fill="#777"/><circle cx="287.2" cy="484.6" r="0.34" fill="#777"/><circle cx="269.0" cy="503.8" r="0.59" fill="#777"/><circle cx="240.6" cy="492.3" r="0.53" fill="#666"/><circle cx="264.3" cy="478.2" r="0.52" fill="#666"/><circle cx="268.6" cy="490.2" r="0.36" fill="#666"/><circle cx="239.5" cy="525.9" r="0.59" fill="#555"/><circle cx="274.9" cy="503.5" r="0.33" fill="#666"/><circle cx="274.1" cy="482.9" r="0.49" fill="#666"/><circle cx="260.4" cy="523.8" r="0.30" fill="#555"/><circle cx="276.7" cy="478.8" r="0.43" fill="#666"/><circle cx="267.6" cy="478.9" r="0.55" fill="#777"/><circle cx="253.3" cy="502.8" r="0.35" fill="#777"/><circle cx="288.7" cy="527.9" r="0.62" fill="#555"/><circle cx="287.5" cy="526.7" r="0.48" fill="#666"/><circle cx="279.1" cy="488.5" r="0.46" fill="#555"/><circle cx="269.9" cy="500.3" r="0.42" fill="#666"/><circle cx="291.6" cy="487.1" r="0.63" fill="#555"/><circle cx="273.8" cy="514.8" r="0.37" fill="#555"/><circle cx="253.1" cy="517.4" r="0.57" fill="#777"/><circle cx="280.2" cy="488.8" r="0.54" fill="#666"/><circle cx="264.4" cy="502.2" r="0.38" fill="#666"/><circle cx="280.4" cy="495.0" r="0.49" fill="#666"/><circle cx="257.8" cy="495.0" r="0.48" fill="#555"/><circle cx="278.5" cy="485.1" r="0.47" fill="#777"/><circle cx="273.3" cy="526.7" r="0.54" fill="#666"/><circle cx="232.8" cy="521.8" r="0.59" fill="#666"/><circle cx="252.9" cy="502.5" r="0.30" fill="#555"/><circle cx="290.4" cy="519.5" r="0.62" fill="#777"/><circle cx="234.7" cy="484.5" r="0.50" fill="#777"/><circle cx="261.9" cy="501.1" r="0.46" fill="#777"/><circle cx="270.4" cy="480.8" r="0.59" fill="#666"/><circle cx="261.9" cy="502.6" r="0.49" fill="#777"/><circle cx="231.3" cy="518.1" r="0.58" fill="#555"/><circle cx="279.3" cy="498.7" r="0.31" fill="#555"/><circle cx="245.5" cy="518.5" r="0.34" fill="#666"/><circle cx="262.5" cy="482.2" r="0.60" fill="#666"/><circle cx="252.2" cy="491.8" r="0.52" fill="#555"/><circle cx="265.4" cy="517.3" r="0.35" fill="#555"/><circle cx="278.9" cy="517.9" r="0.36" fill="#555"/><circle cx="238.7" cy="527.5" r="0.61" fill="#777"/><circle cx="277.2" cy="506.6" r="0.41" fill="#777"/><circle cx="278.1" cy="520.7" r="0.46" fill="#777"/><circle cx="264.5" cy="493.4" r="0.59" fill="#555"/><circle cx="262.9" cy="493.5" r="0.59" fill="#555"/><circle cx="234.3" cy="507.5" r="0.62" fill="#555"/><circle cx="265.9" cy="508.3" r="0.47" fill="#777"/><circle cx="294.3" cy="509.3" r="0.59" fill="#777"/><circle cx="247.1" cy="523.0" r="0.36" fill="#555"/><circle cx="250.0" cy="514.5" r="0.54" fill="#666"/><circle cx="248.5" cy="486.4" r="0.49" fill="#555"/><circle cx="242.3" cy="506.1" r="0.49" fill="#777"/><circle cx="269.1" cy="515.8" r="0.47" fill="#555"/><circle cx="285.1" cy="519.3" r="0.43" fill="#666"/><circle cx="252.1" cy="478.7" r="0.63" fill="#666"/><circle cx="270.6" cy="515.8" r="0.48" fill="#666"/><circle cx="231.0" cy="511.8" r="0.40" fill="#777"/><circle cx="282.9" cy="523.8" r="0.50" fill="#777"/><circle cx="289.0" cy="521.1" r="0.49" fill="#555"/><circle cx="276.0" cy="497.6" r="0.34" fill="#777"/><circle cx="267.2" cy="505.9" r="0.38" fill="#777"/><circle cx="286.8" cy="517.1" r="0.53" fill="#777"/><circle cx="290.9" cy="493.1" r="0.61" fill="#666"/><circle cx="257.1" cy="500.7" r="0.45" fill="#777"/><circle cx="245.1" cy="497.0" r="0.57" fill="#555"/><circle cx="256.6" cy="500.3" r="0.31" fill="#666"/><circle cx="237.2" cy="509.7" r="0.30" fill="#777"/><circle cx="240.3" cy="521.7" r="0.32" fill="#777"/><circle cx="276.3" cy="483.5" r="0.35" fill="#777"/><circle cx="234.6" cy="526.7" r="0.36" fill="#555"/><circle cx="235.7" cy="517.9" r="0.39" fill="#666"/><circle cx="283.7" cy="507.4" r="0.63" fill="#666"/><circle cx="272.9" cy="495.8" r="0.39" fill="#555"/><circle cx="254.2" cy="519.9" r="0.36" fill="#777"/><circle cx="255.2" cy="503.1" r="0.41" fill="#777"/><circle cx="240.2" cy="495.2" r="0.59" fill="#666"/><circle cx="237.7" cy="515.2" r="0.39" fill="#555"/><circle cx="290.9" cy="503.4" r="0.40" fill="#555"/><circle cx="280.3" cy="516.0" r="0.61" fill="#777"/><circle cx="251.4" cy="512.6" r="0.49" fill="#555"/><circle cx="237.0" cy="496.3" r="0.63" fill="#555"/><circle cx="231.0" cy="500.5" r="0.49" fill="#555"/><circle cx="243.3" cy="503.4" r="0.33" fill="#555"/><circle cx="294.2" cy="525.9" r="0.60" fill="#777"/><circle cx="244.2" cy="481.0" r="0.39" fill="#555"/><circle cx="282.6" cy="498.8" r="0.30" fill="#666"/><circle cx="234.7" cy="519.7" r="0.52" fill="#555"/><circle cx="286.0" cy="484.2" r="0.37" fill="#666"/><circle cx="238.6" cy="502.6" r="0.64" fill="#777"/><circle cx="261.7" cy="502.6" r="0.58" fill="#777"/><circle cx="288.1" cy="513.7" r="0.39" fill="#777"/><circle cx="276.4" cy="479.7" r="0.48" fill="#666"/><circle cx="281.6" cy="489.1" r="0.55" fill="#777"/><circle cx="265.5" cy="480.5" r="0.60" fill="#777"/><circle cx="257.8" cy="490.7" r="0.47" fill="#555"/><circle cx="290.4" cy="526.6" r="0.56" fill="#777"/><circle cx="282.6" cy="492.7" r="0.57" fill="#666"/><circle cx="269.5" cy="524.3" r="0.59" fill="#555"/><circle cx="232.7" cy="484.6" r="0.55" fill="#666"/><circle cx="238.6" cy="498.8" r="0.43" fill="#666"/><circle cx="256.0" cy="520.9" r="0.55" fill="#555"/><circle cx="255.1" cy="518.4" r="0.63" fill="#777"/><circle cx="269.1" cy="481.8" r="0.55" fill="#777"/><circle cx="266.4" cy="500.3" r="0.49" fill="#666"/><circle cx="266.3" cy="509.6" r="0.46" fill="#555"/><circle cx="258.3" cy="484.9" r="0.36" fill="#555"/><circle cx="269.0" cy="487.3" r="0.44" fill="#666"/><circle cx="283.7" cy="502.3" r="0.40" fill="#777"/><circle cx="252.4" cy="495.0" r="0.61" fill="#555"/><circle cx="233.0" cy="494.4" r="0.62" fill="#555"/><circle cx="231.9" cy="496.1" r="0.52" fill="#777"/><circle cx="245.6" cy="511.0" r="0.37" fill="#555"/><circle cx="264.7" cy="526.5" r="0.64" fill="#666"/><circle cx="238.3" cy="493.9" r="0.36" fill="#555"/><circle cx="293.0" cy="511.1" r="0.41" fill="#555"/><circle cx="286.0" cy="499.1" r="0.63" fill="#666"/><circle cx="283.6" cy="494.3" r="0.33" fill="#666"/><circle cx="280.4" cy="485.8" r="0.43" fill="#555"/><circle cx="291.9" cy="496.5" r="0.55" fill="#555"/><circle cx="275.1" cy="506.9" r="0.54" fill="#555"/><circle cx="264.6" cy="522.2" r="0.37" fill="#555"/><circle cx="260.6" cy="482.6" r="0.44" fill="#666"/><circle cx="255.6" cy="516.2" r="0.59" fill="#555"/><circle cx="271.3" cy="480.0" r="0.41" fill="#777"/><circle cx="275.6" cy="481.6" r="0.51" fill="#777"/><circle cx="250.2" cy="517.9" r="0.51" fill="#555"/><circle cx="245.1" cy="518.8" r="0.36" fill="#555"/><circle cx="232.7" cy="491.7" r="0.39" fill="#555"/><circle cx="274.1" cy="518.7" r="0.61" fill="#555"/><circle cx="278.2" cy="527.6" r="0.51" fill="#777"/><circle cx="259.9" cy="520.4" r="0.53" fill="#555"/><circle cx="276.9" cy="485.8" r="0.38" fill="#555"/><circle cx="265.6" cy="507.2" r="0.42" fill="#777"/><circle cx="271.2" cy="490.5" r="0.54" fill="#555"/><circle cx="276.5" cy="527.0" r="0.47" fill="#555"/><circle cx="242.4" cy="505.1" r="0.53" fill="#777"/><circle cx="274.4" cy="516.6" r="0.49" fill="#666"/><circle cx="239.5" cy="517.7" r="0.35" fill="#555"/><circle cx="275.5" cy="481.1" r="0.30" fill="#777"/><circle cx="266.3" cy="496.8" r="0.53" fill="#555"/><circle cx="252.5" cy="491.8" r="0.43" fill="#777"/><circle cx="266.6" cy="524.7" r="0.55" fill="#666"/><circle cx="279.9" cy="496.3" r="0.55" fill="#777"/><circle cx="292.8" cy="486.6" r="0.47" fill="#555"/><circle cx="266.7" cy="521.1" r="0.50" fill="#555"/><circle cx="282.6" cy="490.3" r="0.57" fill="#777"/><circle cx="292.8" cy="507.4" r="0.61" fill="#777"/><circle cx="248.3" cy="511.0" r="0.64" fill="#555"/><circle cx="249.8" cy="506.3" r="0.62" fill="#555"/><circle cx="265.9" cy="500.5" r="0.57" fill="#777"/><circle cx="240.6" cy="490.9" r="0.61" fill="#555"/><circle cx="284.8" cy="497.0" r="0.39" fill="#777"/><circle cx="238.7" cy="511.5" r="0.59" fill="#666"/><circle cx="243.3" cy="499.3" r="0.42" fill="#666"/><circle cx="274.4" cy="491.2" r="0.61" fill="#777"/><circle cx="269.0" cy="517.7" r="0.44" fill="#555"/><circle cx="251.3" cy="485.8" r="0.62" fill="#555"/><circle cx="254.5" cy="492.4" r="0.60" fill="#777"/><circle cx="234.1" cy="504.7" r="0.31" fill="#777"/><circle cx="287.2" cy="513.0" r="0.44" fill="#666"/><circle cx="261.6" cy="496.7" r="0.37" fill="#666"/><circle cx="281.3" cy="522.6" r="0.58" fill="#666"/><circle cx="287.6" cy="518.6" r="0.56" fill="#666"/><circle cx="254.4" cy="515.3" r="0.37" fill="#666"/><circle cx="237.8" cy="506.7" r="0.35" fill="#777"/><circle cx="286.4" cy="486.5" r="0.49" fill="#555"/><circle cx="230.2" cy="490.9" r="0.52" fill="#777"/><circle cx="232.8" cy="517.8" r="0.47" fill="#777"/><circle cx="258.5" cy="516.3" r="0.48" fill="#777"/><circle cx="238.3" cy="507.3" r="0.31" fill="#555"/><circle cx="250.4" cy="478.7" r="0.34" fill="#555"/><circle cx="280.3" cy="489.4" r="0.63" fill="#666"/><circle cx="255.1" cy="523.4" r="0.57" fill="#666"/><circle cx="275.0" cy="500.4" r="0.32" fill="#555"/><circle cx="266.7" cy="514.2" r="0.38" fill="#777"/><circle cx="256.9" cy="514.4" r="0.36" fill="#777"/><circle cx="261.4" cy="504.4" r="0.32" fill="#555"/><circle cx="292.6" cy="497.8" r="0.46" fill="#666"/><circle cx="262.9" cy="503.2" r="0.51" fill="#555"/><circle cx="252.9" cy="515.1" r="0.46" fill="#555"/><circle cx="241.7" cy="524.0" r="0.34" fill="#777"/><circle cx="237.3" cy="496.1" r="0.61" fill="#777"/><circle cx="283.3" cy="517.8" r="0.33" fill="#666"/><circle cx="240.8" cy="497.2" r="0.63" fill="#666"/><circle cx="259.9" cy="491.0" r="0.38" fill="#777"/><circle cx="248.9" cy="511.7" r="0.60" fill="#555"/><circle cx="279.9" cy="516.4" r="0.63" fill="#777"/><circle cx="266.1" cy="483.9" r="0.58" fill="#555"/><circle cx="247.4" cy="503.9" r="0.51" fill="#666"/><circle cx="251.0" cy="515.4" r="0.33" fill="#666"/><circle cx="251.8" cy="478.4" r="0.36" fill="#777"/><circle cx="257.8" cy="491.0" r="0.37" fill="#777"/><circle cx="273.3" cy="488.3" r="0.62" fill="#555"/><circle cx="250.3" cy="498.1" r="0.31" fill="#555"/><circle cx="255.1" cy="497.0" r="0.65" fill="#777"/><circle cx="286.5" cy="509.5" r="0.60" fill="#777"/><circle cx="230.6" cy="498.2" r="0.44" fill="#555"/><circle cx="234.4" cy="506.7" r="0.56" fill="#555"/><circle cx="250.9" cy="521.5" r="0.49" fill="#666"/><circle cx="266.3" cy="488.5" r="0.63" fill="#666"/><circle cx="285.7" cy="522.5" r="0.33" fill="#666"/><circle cx="241.9" cy="526.5" r="0.41" fill="#555"/><circle cx="254.4" cy="500.9" r="0.37" fill="#555"/><circle cx="258.2" cy="498.6" r="0.44" fill="#666"/><circle cx="260.6" cy="514.1" r="0.46" fill="#666"/><circle cx="237.7" cy="491.4" r="0.35" fill="#555"/><circle cx="243.6" cy="515.4" r="0.63" fill="#666"/><circle cx="286.6" cy="514.7" r="0.46" fill="#777"/><circle cx="252.1" cy="498.2" r="0.54" fill="#777"/><circle cx="243.7" cy="485.1" r="0.61" fill="#555"/><circle cx="248.1" cy="482.0" r="0.38" fill="#666"/><circle cx="240.1" cy="527.1" r="0.46" fill="#666"/><circle cx="268.1" cy="507.3" r="0.41" fill="#555"/><circle cx="237.1" cy="483.7" r="0.55" fill="#555"/><circle cx="260.6" cy="525.5" r="0.34" fill="#777"/><circle cx="246.0" cy="513.7" r="0.33" fill="#666"/><circle cx="271.9" cy="507.4" r="0.50" fill="#555"/><circle cx="246.6" cy="504.7" r="0.35" fill="#666"/><circle cx="265.3" cy="518.7" r="0.44" fill="#666"/><circle cx="230.0" cy="488.9" r="0.56" fill="#666"/><circle cx="266.7" cy="489.9" r="0.55" fill="#777"/><circle cx="268.4" cy="479.8" r="0.33" fill="#555"/><circle cx="266.1" cy="515.7" r="0.37" fill="#555"/><circle cx="291.7" cy="507.1" r="0.31" fill="#555"/><circle cx="233.4" cy="478.7" r="0.37" fill="#666"/><circle cx="234.2" cy="513.3" r="0.59" fill="#666"/><circle cx="288.3" cy="516.9" r="0.39" fill="#555"/><circle cx="281.0" cy="496.7" r="0.40" fill="#777"/><circle cx="258.6" cy="510.0" r="0.54" fill="#666"/><circle cx="237.6" cy="517.4" r="0.40" fill="#555"/><circle cx="232.0" cy="524.4" r="0.43" fill="#777"/><circle cx="254.5" cy="485.4" r="0.46" fill="#555"/><circle cx="257.2" cy="516.5" r="0.56" fill="#555"/><circle cx="290.7" cy="518.7" r="0.31" fill="#555"/><circle cx="235.3" cy="482.1" r="0.63" fill="#666"/><circle cx="237.5" cy="506.5" r="0.63" fill="#777"/><circle cx="281.7" cy="494.2" r="0.49" fill="#666"/><circle cx="240.1" cy="501.3" r="0.56" fill="#555"/><circle cx="293.4" cy="523.1" r="0.39" fill="#666"/><circle cx="260.3" cy="480.1" r="0.45" fill="#666"/><circle cx="252.6" cy="485.2" r="0.64" fill="#777"/><circle cx="248.6" cy="479.8" r="0.30" fill="#777"/><circle cx="246.7" cy="481.2" r="0.47" fill="#777"/><circle cx="269.0" cy="497.9" r="0.61" fill="#666"/><circle cx="283.3" cy="518.3" r="0.54" fill="#666"/><circle cx="288.5" cy="488.2" r="0.41" fill="#555"/><circle cx="281.0" cy="480.4" r="0.45" fill="#777"/><circle cx="290.7" cy="502.0" r="0.55" fill="#666"/><circle cx="241.5" cy="482.4" r="0.34" fill="#666"/><circle cx="268.4" cy="493.1" r="0.34" fill="#777"/><circle cx="273.4" cy="484.0" r="0.31" fill="#555"/><circle cx="265.1" cy="521.6" r="0.40" fill="#555"/><circle cx="246.5" cy="516.7" r="0.52" fill="#666"/><circle cx="253.9" cy="513.9" r="0.37" fill="#555"/><circle cx="236.7" cy="487.2" r="0.32" fill="#555"/><circle cx="233.4" cy="522.0" r="0.60" fill="#555"/><circle cx="270.9" cy="509.2" r="0.49" fill="#666"/><circle cx="291.1" cy="506.8" r="0.54" fill="#777"/><circle cx="232.8" cy="508.5" r="0.58" fill="#555"/><circle cx="269.8" cy="506.5" r="0.37" fill="#666"/><circle cx="247.0" cy="501.8" r="0.49" fill="#777"/><circle cx="279.3" cy="500.7" r="0.42" fill="#555"/><circle cx="285.1" cy="500.6" r="0.60" fill="#777"/><circle cx="285.5" cy="485.6" r="0.36" fill="#777"/><circle cx="241.7" cy="491.6" r="0.39" fill="#777"/><circle cx="267.6" cy="485.3" r="0.60" fill="#555"/><circle cx="284.3" cy="527.0" r="0.60" fill="#555"/><circle cx="243.3" cy="524.3" r="0.64" fill="#555"/><circle cx="265.5" cy="527.0" r="0.58" fill="#666"/><circle cx="273.5" cy="517.1" r="0.35" fill="#777"/><circle cx="288.8" cy="501.3" r="0.35" fill="#777"/><circle cx="262.9" cy="496.1" r="0.52" fill="#555"/><circle cx="238.3" cy="515.1" r="0.49" fill="#555"/><circle cx="245.9" cy="524.7" r="0.53" fill="#666"/><circle cx="236.0" cy="507.2" r="0.31" fill="#555"/><circle cx="280.9" cy="483.9" r="0.44" fill="#666"/><circle cx="277.6" cy="490.3" r="0.34" fill="#666"/><circle cx="247.6" cy="504.4" r="0.61" fill="#555"/><circle cx="253.3" cy="492.0" r="0.31" fill="#555"/><circle cx="257.2" cy="490.7" r="0.49" fill="#666"/><circle cx="252.4" cy="502.1" r="0.39" fill="#666"/><circle cx="242.1" cy="507.9" r="0.60" fill="#666"/><circle cx="250.5" cy="503.4" r="0.59" fill="#555"/><circle cx="244.5" cy="480.5" r="0.64" fill="#777"/><circle cx="283.5" cy="498.4" r="0.44" fill="#555"/><circle cx="233.7" cy="514.0" r="0.48" fill="#777"/><circle cx="277.7" cy="503.8" r="0.46" fill="#666"/><circle cx="232.7" cy="482.8" r="0.50" fill="#555"/><circle cx="268.7" cy="483.4" r="0.49" fill="#555"/><circle cx="244.4" cy="514.7" r="0.63" fill="#555"/><circle cx="262.4" cy="481.2" r="0.44" fill="#777"/><circle cx="271.7" cy="478.8" r="0.53" fill="#666"/><circle cx="277.5" cy="482.4" r="0.41" fill="#666"/><circle cx="265.3" cy="494.0" r="0.33" fill="#777"/><circle cx="287.1" cy="524.2" r="0.55" fill="#777"/><circle cx="290.3" cy="521.5" r="0.41" fill="#777"/><circle cx="269.0" cy="510.1" r="0.37" fill="#777"/><circle cx="238.4" cy="519.6" r="0.44" fill="#666"/><circle cx="230.8" cy="496.6" r="0.48" fill="#555"/><circle cx="251.4" cy="511.9" r="0.57" fill="#777"/><circle cx="293.4" cy="499.1" r="0.45" fill="#777"/><circle cx="289.8" cy="519.6" r="0.41" fill="#555"/><circle cx="293.3" cy="500.7" r="0.35" fill="#555"/><circle cx="281.8" cy="491.6" r="0.45" fill="#555"/><circle cx="235.0" cy="520.4" r="0.33" fill="#666"/><circle cx="255.1" cy="495.1" r="0.50" fill="#555"/><circle cx="242.3" cy="499.0" r="0.38" fill="#777"/><circle cx="263.2" cy="480.1" r="0.38" fill="#777"/><circle cx="241.9" cy="492.4" r="0.55" fill="#555"/><circle cx="257.9" cy="525.1" r="0.63" fill="#777"/><circle cx="265.2" cy="489.2" r="0.65" fill="#666"/><circle cx="230.7" cy="520.3" r="0.34" fill="#555"/><circle cx="246.0" cy="489.0" r="0.44" fill="#666"/><g filter="url(#db03)"><circle cx="247.6" cy="482.1" r="0.7" fill="#555"/><circle cx="249.1" cy="485.5" r="0.9" fill="#555"/><circle cx="247.1" cy="481.7" r="0.6" fill="#707070"/><circle cx="247.1" cy="483.0" r="1.2" fill="#707070"/><circle cx="246.6" cy="480.7" r="0.9" fill="#666"/><circle cx="250.7" cy="482.7" r="1.1" fill="#707070"/><circle cx="260.1" cy="527.8" r="0.9" fill="#555"/><circle cx="261.5" cy="527.6" r="0.6" fill="#707070"/><circle cx="261.5" cy="528.4" r="0.8" fill="#707070"/><circle cx="259.3" cy="525.4" r="1.1" fill="#555"/><circle cx="258.6" cy="527.2" r="1.1" fill="#707070"/><circle cx="292.9" cy="504.0" r="0.8" fill="#555"/><circle cx="292.5" cy="504.7" r="0.6" fill="#666"/><circle cx="293.3" cy="502.5" r="1.1" fill="#555"/><circle cx="295.1" cy="504.7" r="0.5" fill="#555"/><circle cx="293.8" cy="501.5" r="1.2" fill="#707070"/><circle cx="295.4" cy="503.9" r="1.0" fill="#555"/></g><path d="M275.5,501.0 L275.2,502.5 L274.7,503.9 L274.6,505.4 L274.2,506.9 L273.5,508.2 L272.8,509.6 L271.8,510.8 L270.5,511.7 L269.5,512.9 L268.2,513.9 L266.6,514.1 L265.0,514.2 L263.5,514.4 L262.0,514.3 L260.5,514.1 L259.0,513.9 L257.7,513.4 L256.4,512.7 L254.8,512.4 L253.3,511.9 L252.2,510.8 L251.2,509.6 L250.2,508.4 L249.6,507.0 L249.1,505.5 L248.6,504.1 L248.7,502.5 L249.1,501.0 L248.9,499.5 L248.9,498.0 L249.6,496.7 L250.2,495.3 L250.9,494.0 L251.8,492.9 L252.7,491.7 L253.6,490.5 L255.0,489.8 L256.4,489.3 L257.5,488.2 L258.9,487.3 L260.4,487.1 L262.0,486.8 L263.6,486.7 L265.2,487.1 L266.7,487.5 L268.3,488.0 L269.3,489.3 L270.2,490.7 L271.3,491.7 L272.3,492.8 L272.9,494.2 L273.6,495.4 L274.2,496.7 L274.4,498.2 L275.0,499.5Z" fill="#3c3c3c" filter="url(#db03)"/><path d="M274.8,501.0 L274.5,502.4 L274.1,503.8 L274.0,505.2 L273.6,506.6 L272.9,507.8 L272.2,509.2 L271.3,510.3 L270.1,511.1 L269.1,512.3 L267.9,513.2 L266.4,513.4 L264.8,513.5 L263.4,513.7 L262.0,513.6 L260.6,513.4 L259.2,513.3 L257.9,512.8 L256.7,512.1 L255.2,511.8 L253.7,511.4 L252.7,510.3 L251.8,509.1 L250.8,508.0 L250.2,506.7 L249.7,505.3 L249.3,503.9 L249.4,502.4 L249.8,501.0 L249.6,499.6 L249.6,498.2 L250.2,496.9 L250.8,495.6 L251.4,494.4 L252.3,493.3 L253.2,492.2 L254.1,491.0 L255.3,490.4 L256.6,489.9 L257.8,488.9 L259.0,488.1 L260.5,487.8 L262.0,487.5 L263.5,487.4 L265.0,487.8 L266.5,488.2 L267.9,488.7 L269.0,489.9 L269.8,491.2 L270.8,492.2 L271.7,493.2 L272.3,494.5 L273.0,495.7 L273.5,497.0 L273.8,498.3 L274.4,499.6Z" fill="#0e0e0e" filter="url(#db03)"/><g filter="url(#db03)"><circle cx="266.5" cy="489.3" r="1.0" fill="#111"/><circle cx="274.4" cy="499.1" r="0.9" fill="#111"/><circle cx="258.1" cy="512.9" r="1.9" fill="#202020"/><circle cx="274.5" cy="500.7" r="1.2" fill="#181818"/><circle cx="250.6" cy="506.3" r="1.5" fill="#181818"/><circle cx="250.8" cy="495.3" r="1.4" fill="#111"/><circle cx="249.7" cy="503.6" r="1.9" fill="#202020"/><circle cx="274.5" cy="501.0" r="1.4" fill="#202020"/><circle cx="266.5" cy="512.7" r="1.8" fill="#181818"/><circle cx="273.2" cy="495.3" r="1.6" fill="#111"/><circle cx="269.4" cy="511.2" r="1.0" fill="#111"/><circle cx="258.3" cy="513.0" r="1.5" fill="#181818"/><circle cx="251.3" cy="494.5" r="1.7" fill="#202020"/><circle cx="257.0" cy="512.5" r="1.7" fill="#202020"/></g><rect x="283.8" y="523.4" width="9" height="1.9" fill="#fff"/></g><g clip-path="url(#dc33)"><rect x="297.1" y="478" width="64.9" height="50" fill="#aaaaaa"/><g filter="url(#db4)"><ellipse cx="351.2" cy="487.4" rx="14.1" ry="8.7" fill="#c0c0c0"/><ellipse cx="335.3" cy="483.1" rx="13.6" ry="10.5" fill="#c0c0c0"/><ellipse cx="347.2" cy="518.7" rx="11.9" ry="5.5" fill="#c0c0c0"/><ellipse cx="330.6" cy="524.7" rx="10.7" ry="10.1" fill="#c0c0c0"/><ellipse cx="321.8" cy="485.8" rx="10.3" ry="7.0" fill="#c0c0c0"/><ellipse cx="347.7" cy="495.3" rx="13.1" ry="10.8" fill="#c0c0c0"/><ellipse cx="336.9" cy="494.8" rx="7.4" ry="6.9" fill="#8a8a8a" opacity="0.45"/><ellipse cx="335.0" cy="494.1" rx="5.3" ry="5.6" fill="#8a8a8a" opacity="0.45"/><ellipse cx="335.6" cy="516.8" rx="6.1" ry="6.0" fill="#8a8a8a" opacity="0.45"/></g><circle cx="335.7" cy="488.0" r="0.61" fill="#666"/><circle cx="307.6" cy="525.3" r="0.41" fill="#666"/><circle cx="348.8" cy="484.1" r="0.60" fill="#666"/><circle cx="305.9" cy="486.3" r="0.62" fill="#666"/><circle cx="332.2" cy="523.9" r="0.37" fill="#777"/><circle cx="360.7" cy="520.0" r="0.38" fill="#777"/><circle cx="300.3" cy="512.1" r="0.31" fill="#555"/><circle cx="324.6" cy="506.5" r="0.44" fill="#777"/><circle cx="327.1" cy="492.3" r="0.43" fill="#555"/><circle cx="299.2" cy="480.3" r="0.42" fill="#666"/><circle cx="326.0" cy="496.0" r="0.32" fill="#777"/><circle cx="311.9" cy="500.5" r="0.55" fill="#666"/><circle cx="338.9" cy="512.4" r="0.44" fill="#555"/><circle cx="325.7" cy="516.4" r="0.61" fill="#777"/><circle cx="361.4" cy="514.3" r="0.53" fill="#666"/><circle cx="320.5" cy="526.0" r="0.42" fill="#555"/><circle cx="300.4" cy="490.4" r="0.50" fill="#666"/><circle cx="319.0" cy="485.8" r="0.34" fill="#666"/><circle cx="344.4" cy="509.9" r="0.38" fill="#777"/><circle cx="350.3" cy="520.5" r="0.63" fill="#555"/><circle cx="303.9" cy="492.3" r="0.52" fill="#666"/><circle cx="305.1" cy="508.9" r="0.34" fill="#666"/><circle cx="351.0" cy="520.4" r="0.55" fill="#666"/><circle cx="308.3" cy="494.2" r="0.55" fill="#666"/><circle cx="315.0" cy="480.7" r="0.53" fill="#777"/><circle cx="297.8" cy="516.1" r="0.42" fill="#666"/><circle cx="303.3" cy="508.3" r="0.55" fill="#555"/><circle cx="328.5" cy="507.5" r="0.59" fill="#555"/><circle cx="318.1" cy="509.2" r="0.39" fill="#555"/><circle cx="342.8" cy="494.0" r="0.36" fill="#555"/><circle cx="305.1" cy="521.5" r="0.43" fill="#777"/><circle cx="342.3" cy="499.3" r="0.56" fill="#555"/><circle cx="311.4" cy="516.1" r="0.32" fill="#666"/><circle cx="323.9" cy="522.0" r="0.38" fill="#555"/><circle cx="341.9" cy="487.4" r="0.63" fill="#666"/><circle cx="316.7" cy="525.5" r="0.34" fill="#777"/><circle cx="339.3" cy="524.5" r="0.65" fill="#777"/><circle cx="358.1" cy="504.3" r="0.58" fill="#777"/><circle cx="344.4" cy="527.9" r="0.63" fill="#777"/><circle cx="356.1" cy="482.1" r="0.63" fill="#777"/><circle cx="324.1" cy="492.5" r="0.44" fill="#555"/><circle cx="342.4" cy="504.0" r="0.65" fill="#666"/><circle cx="346.9" cy="506.5" r="0.49" fill="#777"/><circle cx="318.0" cy="517.0" r="0.35" fill="#777"/><circle cx="304.7" cy="489.4" r="0.38" fill="#555"/><circle cx="359.4" cy="494.6" r="0.42" fill="#555"/><circle cx="360.9" cy="491.8" r="0.65" fill="#555"/><circle cx="308.7" cy="514.5" r="0.64" fill="#666"/><circle cx="336.3" cy="492.6" r="0.38" fill="#777"/><circle cx="360.9" cy="515.3" r="0.36" fill="#555"/><circle cx="348.9" cy="482.7" r="0.50" fill="#555"/><circle cx="337.7" cy="503.8" r="0.51" fill="#777"/><circle cx="329.4" cy="523.4" r="0.50" fill="#666"/><circle cx="338.0" cy="506.0" r="0.42" fill="#777"/><circle cx="323.5" cy="487.7" r="0.61" fill="#555"/><circle cx="351.8" cy="509.2" r="0.62" fill="#555"/><circle cx="297.9" cy="521.4" r="0.36" fill="#777"/><circle cx="298.8" cy="524.4" r="0.42" fill="#555"/><circle cx="361.4" cy="486.1" r="0.49" fill="#666"/><circle cx="310.4" cy="522.2" r="0.61" fill="#777"/><circle cx="311.2" cy="512.8" r="0.37" fill="#666"/><circle cx="311.4" cy="500.1" r="0.55" fill="#666"/><circle cx="340.5" cy="495.7" r="0.38" fill="#666"/><circle cx="352.4" cy="516.3" r="0.41" fill="#555"/><circle cx="322.2" cy="498.1" r="0.60" fill="#777"/><circle cx="357.4" cy="520.4" r="0.64" fill="#555"/><circle cx="327.7" cy="513.2" r="0.57" fill="#666"/><circle cx="338.8" cy="491.9" r="0.48" fill="#666"/><circle cx="348.4" cy="483.9" r="0.43" fill="#777"/><circle cx="344.0" cy="484.5" r="0.47" fill="#777"/><circle cx="344.9" cy="517.7" r="0.52" fill="#777"/><circle cx="348.9" cy="510.4" r="0.45" fill="#666"/><circle cx="314.8" cy="504.3" r="0.35" fill="#555"/><circle cx="354.9" cy="504.8" r="0.31" fill="#555"/><circle cx="329.3" cy="479.4" r="0.41" fill="#777"/><circle cx="301.1" cy="480.6" r="0.34" fill="#777"/><circle cx="361.4" cy="526.9" r="0.47" fill="#777"/><circle cx="324.4" cy="485.4" r="0.63" fill="#777"/><circle cx="343.8" cy="487.2" r="0.34" fill="#777"/><circle cx="315.6" cy="523.8" r="0.42" fill="#777"/><circle cx="312.0" cy="503.6" r="0.30" fill="#666"/><circle cx="317.0" cy="514.0" r="0.30" fill="#777"/><circle cx="333.9" cy="485.5" r="0.42" fill="#666"/><circle cx="331.7" cy="505.9" r="0.51" fill="#666"/><circle cx="351.2" cy="505.2" r="0.33" fill="#777"/><circle cx="359.9" cy="490.3" r="0.56" fill="#555"/><circle cx="311.4" cy="508.2" r="0.54" fill="#777"/><circle cx="329.9" cy="508.9" r="0.52" fill="#777"/><circle cx="338.9" cy="491.1" r="0.41" fill="#777"/><circle cx="354.8" cy="491.6" r="0.46" fill="#777"/><circle cx="329.3" cy="517.0" r="0.36" fill="#666"/><circle cx="327.0" cy="492.7" r="0.64" fill="#666"/><circle cx="347.4" cy="509.6" r="0.63" fill="#555"/><circle cx="320.2" cy="512.7" r="0.64" fill="#555"/><circle cx="335.2" cy="502.0" r="0.59" fill="#666"/><circle cx="333.2" cy="498.9" r="0.46" fill="#666"/><circle cx="349.5" cy="480.1" r="0.52" fill="#666"/><circle cx="310.9" cy="519.0" r="0.34" fill="#555"/><circle cx="325.5" cy="493.2" r="0.50" fill="#666"/><circle cx="333.8" cy="523.8" r="0.56" fill="#555"/><circle cx="298.7" cy="512.9" r="0.44" fill="#555"/><circle cx="303.7" cy="501.2" r="0.55" fill="#777"/><circle cx="345.7" cy="484.9" r="0.42" fill="#777"/><circle cx="315.7" cy="518.6" r="0.63" fill="#777"/><circle cx="330.4" cy="483.2" r="0.46" fill="#555"/><circle cx="338.6" cy="480.3" r="0.33" fill="#777"/><circle cx="309.4" cy="519.1" r="0.50" fill="#555"/><circle cx="360.3" cy="489.2" r="0.59" fill="#555"/><circle cx="317.4" cy="487.6" r="0.50" fill="#666"/><circle cx="330.1" cy="504.7" r="0.46" fill="#777"/><circle cx="359.5" cy="517.9" r="0.54" fill="#777"/><circle cx="316.7" cy="509.7" r="0.62" fill="#777"/><circle cx="311.8" cy="486.4" r="0.59" fill="#555"/><circle cx="330.8" cy="485.1" r="0.46" fill="#666"/><circle cx="343.5" cy="481.0" r="0.63" fill="#777"/><circle cx="309.3" cy="505.6" r="0.60" fill="#777"/><circle cx="350.2" cy="501.0" r="0.59" fill="#555"/><circle cx="310.2" cy="489.6" r="0.43" fill="#666"/><circle cx="310.0" cy="517.2" r="0.58" fill="#555"/><circle cx="320.3" cy="492.2" r="0.57" fill="#555"/><circle cx="334.5" cy="485.7" r="0.46" fill="#777"/><circle cx="337.0" cy="516.7" r="0.45" fill="#777"/><circle cx="352.9" cy="496.8" r="0.55" fill="#555"/><circle cx="312.8" cy="522.2" r="0.30" fill="#777"/><circle cx="361.4" cy="526.7" r="0.33" fill="#555"/><circle cx="312.1" cy="499.1" r="0.31" fill="#666"/><circle cx="300.6" cy="510.7" r="0.48" fill="#666"/><circle cx="338.1" cy="498.3" r="0.50" fill="#777"/><circle cx="347.8" cy="504.8" r="0.34" fill="#666"/><circle cx="350.8" cy="506.5" r="0.57" fill="#666"/><circle cx="326.1" cy="499.5" r="0.62" fill="#555"/><circle cx="314.7" cy="522.0" r="0.41" fill="#777"/><circle cx="313.9" cy="482.4" r="0.47" fill="#555"/><circle cx="323.6" cy="496.4" r="0.49" fill="#666"/><circle cx="303.7" cy="492.1" r="0.50" fill="#666"/><circle cx="355.2" cy="481.5" r="0.46" fill="#777"/><circle cx="329.3" cy="517.0" r="0.52" fill="#777"/><circle cx="319.9" cy="500.4" r="0.63" fill="#666"/><circle cx="326.8" cy="509.4" r="0.42" fill="#777"/><circle cx="308.0" cy="489.2" r="0.39" fill="#555"/><circle cx="311.6" cy="495.3" r="0.64" fill="#666"/><circle cx="305.6" cy="503.6" r="0.37" fill="#666"/><circle cx="356.6" cy="507.6" r="0.50" fill="#555"/><circle cx="357.0" cy="482.6" r="0.43" fill="#555"/><circle cx="298.5" cy="517.4" r="0.60" fill="#666"/><circle cx="325.6" cy="526.4" r="0.44" fill="#555"/><circle cx="345.5" cy="520.9" r="0.45" fill="#555"/><circle cx="325.1" cy="497.4" r="0.49" fill="#777"/><circle cx="340.4" cy="481.4" r="0.38" fill="#777"/><circle cx="335.2" cy="517.0" r="0.60" fill="#555"/><circle cx="303.9" cy="522.0" r="0.35" fill="#666"/><circle cx="328.4" cy="516.9" r="0.63" fill="#777"/><circle cx="297.9" cy="490.9" r="0.44" fill="#777"/><circle cx="333.5" cy="488.6" r="0.52" fill="#777"/><circle cx="346.6" cy="497.8" r="0.33" fill="#777"/><circle cx="304.6" cy="513.0" r="0.50" fill="#666"/><circle cx="318.1" cy="493.0" r="0.50" fill="#777"/><circle cx="302.3" cy="507.9" r="0.63" fill="#777"/><circle cx="359.2" cy="493.5" r="0.63" fill="#555"/><circle cx="301.7" cy="523.7" r="0.43" fill="#555"/><circle cx="354.5" cy="490.1" r="0.55" fill="#666"/><circle cx="355.9" cy="502.7" r="0.30" fill="#555"/><circle cx="350.5" cy="525.8" r="0.50" fill="#555"/><circle cx="347.8" cy="478.4" r="0.37" fill="#777"/><circle cx="300.1" cy="489.8" r="0.33" fill="#777"/><circle cx="359.5" cy="508.2" r="0.60" fill="#777"/><circle cx="313.1" cy="490.4" r="0.51" fill="#777"/><circle cx="314.2" cy="488.6" r="0.42" fill="#777"/><circle cx="351.6" cy="481.4" r="0.36" fill="#666"/><circle cx="356.2" cy="480.1" r="0.31" fill="#666"/><circle cx="352.7" cy="505.3" r="0.56" fill="#666"/><circle cx="301.2" cy="519.8" r="0.33" fill="#666"/><circle cx="338.2" cy="501.9" r="0.43" fill="#666"/><circle cx="298.8" cy="490.4" r="0.45" fill="#777"/><circle cx="331.4" cy="503.5" r="0.50" fill="#555"/><circle cx="304.5" cy="522.5" r="0.59" fill="#555"/><circle cx="305.7" cy="481.7" r="0.57" fill="#777"/><circle cx="324.6" cy="509.9" r="0.58" fill="#555"/><circle cx="333.0" cy="488.0" r="0.32" fill="#777"/><circle cx="349.0" cy="487.0" r="0.40" fill="#666"/><circle cx="328.4" cy="483.6" r="0.61" fill="#555"/><circle cx="299.0" cy="521.0" r="0.50" fill="#777"/><circle cx="322.7" cy="509.2" r="0.45" fill="#666"/><circle cx="331.8" cy="489.3" r="0.59" fill="#555"/><circle cx="302.3" cy="504.6" r="0.53" fill="#555"/><circle cx="322.8" cy="483.5" r="0.51" fill="#777"/><circle cx="355.8" cy="488.0" r="0.57" fill="#666"/><circle cx="348.4" cy="504.6" r="0.55" fill="#555"/><circle cx="361.9" cy="489.8" r="0.56" fill="#777"/><circle cx="297.9" cy="511.2" r="0.35" fill="#666"/><circle cx="360.4" cy="511.4" r="0.48" fill="#666"/><circle cx="330.0" cy="523.3" r="0.32" fill="#777"/><circle cx="323.1" cy="525.7" r="0.38" fill="#555"/><circle cx="357.7" cy="502.2" r="0.56" fill="#777"/><circle cx="316.6" cy="493.5" r="0.57" fill="#666"/><circle cx="342.0" cy="509.8" r="0.42" fill="#777"/><circle cx="353.6" cy="523.4" r="0.47" fill="#777"/><circle cx="300.6" cy="481.2" r="0.42" fill="#555"/><circle cx="306.7" cy="488.4" r="0.40" fill="#666"/><circle cx="340.0" cy="495.9" r="0.47" fill="#555"/><circle cx="336.5" cy="517.0" r="0.47" fill="#777"/><circle cx="322.9" cy="512.0" r="0.53" fill="#555"/><circle cx="333.4" cy="500.5" r="0.50" fill="#555"/><circle cx="319.2" cy="501.3" r="0.63" fill="#666"/><circle cx="351.1" cy="525.5" r="0.44" fill="#555"/><circle cx="325.2" cy="523.0" r="0.53" fill="#777"/><circle cx="321.8" cy="526.9" r="0.55" fill="#555"/><circle cx="348.9" cy="517.0" r="0.50" fill="#555"/><circle cx="329.1" cy="480.4" r="0.61" fill="#666"/><circle cx="314.7" cy="481.3" r="0.36" fill="#777"/><circle cx="354.6" cy="519.7" r="0.34" fill="#666"/><circle cx="337.4" cy="479.1" r="0.36" fill="#777"/><circle cx="316.4" cy="504.3" r="0.48" fill="#555"/><circle cx="305.1" cy="489.9" r="0.42" fill="#555"/><circle cx="352.6" cy="514.8" r="0.52" fill="#666"/><circle cx="302.4" cy="483.4" r="0.53" fill="#777"/><circle cx="345.1" cy="483.2" r="0.60" fill="#666"/><circle cx="340.8" cy="481.0" r="0.52" fill="#555"/><circle cx="343.2" cy="522.1" r="0.52" fill="#666"/><circle cx="329.1" cy="517.8" r="0.45" fill="#666"/><circle cx="344.6" cy="484.7" r="0.50" fill="#777"/><circle cx="298.3" cy="495.7" r="0.41" fill="#666"/><circle cx="311.0" cy="519.8" r="0.31" fill="#666"/><circle cx="313.1" cy="479.9" r="0.50" fill="#777"/><circle cx="327.7" cy="514.0" r="0.59" fill="#555"/><circle cx="342.3" cy="493.4" r="0.30" fill="#777"/><circle cx="358.3" cy="507.8" r="0.55" fill="#666"/><circle cx="316.9" cy="515.4" r="0.56" fill="#555"/><circle cx="338.7" cy="484.1" r="0.53" fill="#666"/><circle cx="325.2" cy="497.1" r="0.58" fill="#666"/><circle cx="342.6" cy="521.8" r="0.51" fill="#777"/><circle cx="334.0" cy="501.6" r="0.31" fill="#555"/><circle cx="355.4" cy="494.7" r="0.47" fill="#777"/><circle cx="300.2" cy="502.9" r="0.49" fill="#555"/><circle cx="341.4" cy="513.4" r="0.35" fill="#777"/><circle cx="321.8" cy="505.9" r="0.41" fill="#666"/><circle cx="297.2" cy="504.7" r="0.46" fill="#777"/><circle cx="361.6" cy="515.5" r="0.54" fill="#555"/><circle cx="307.7" cy="507.4" r="0.42" fill="#777"/><circle cx="301.5" cy="522.6" r="0.34" fill="#777"/><circle cx="355.2" cy="500.3" r="0.57" fill="#555"/><circle cx="337.0" cy="481.3" r="0.33" fill="#555"/><circle cx="344.8" cy="490.2" r="0.40" fill="#555"/><circle cx="322.6" cy="508.7" r="0.38" fill="#666"/><circle cx="331.6" cy="484.4" r="0.33" fill="#555"/><circle cx="312.2" cy="525.2" r="0.40" fill="#555"/><circle cx="342.8" cy="524.9" r="0.56" fill="#777"/><circle cx="356.7" cy="524.1" r="0.47" fill="#555"/><circle cx="303.0" cy="522.0" r="0.57" fill="#555"/><circle cx="308.5" cy="500.8" r="0.39" fill="#777"/><circle cx="350.0" cy="480.1" r="0.59" fill="#555"/><circle cx="330.8" cy="493.6" r="0.42" fill="#666"/><circle cx="322.5" cy="486.9" r="0.35" fill="#555"/><circle cx="349.5" cy="509.7" r="0.41" fill="#666"/><circle cx="351.6" cy="516.7" r="0.33" fill="#555"/><circle cx="347.9" cy="509.6" r="0.53" fill="#777"/><circle cx="303.6" cy="485.9" r="0.38" fill="#666"/><circle cx="334.3" cy="516.2" r="0.41" fill="#666"/><circle cx="306.4" cy="479.4" r="0.42" fill="#666"/><circle cx="302.9" cy="526.2" r="0.37" fill="#777"/><circle cx="354.2" cy="481.0" r="0.56" fill="#555"/><circle cx="338.3" cy="521.4" r="0.46" fill="#555"/><circle cx="311.3" cy="504.6" r="0.43" fill="#777"/><circle cx="361.0" cy="487.4" r="0.36" fill="#666"/><circle cx="309.7" cy="481.5" r="0.30" fill="#777"/><circle cx="302.1" cy="486.7" r="0.43" fill="#666"/><circle cx="351.6" cy="515.7" r="0.63" fill="#666"/><circle cx="299.5" cy="517.4" r="0.45" fill="#777"/><circle cx="359.4" cy="500.2" r="0.62" fill="#555"/><circle cx="299.2" cy="493.7" r="0.42" fill="#777"/><circle cx="317.2" cy="485.8" r="0.32" fill="#555"/><circle cx="351.3" cy="522.0" r="0.42" fill="#555"/><circle cx="333.2" cy="491.4" r="0.39" fill="#555"/><circle cx="306.5" cy="514.2" r="0.32" fill="#777"/><circle cx="311.7" cy="514.8" r="0.64" fill="#555"/><circle cx="347.4" cy="488.2" r="0.39" fill="#666"/><circle cx="348.0" cy="492.0" r="0.59" fill="#777"/><circle cx="354.0" cy="523.5" r="0.39" fill="#666"/><circle cx="351.7" cy="522.3" r="0.43" fill="#666"/><circle cx="298.8" cy="493.5" r="0.48" fill="#777"/><g filter="url(#db03)"><circle cx="303.7" cy="482.3" r="1.0" fill="#555"/><circle cx="303.1" cy="481.7" r="0.5" fill="#555"/><circle cx="305.9" cy="482.9" r="0.5" fill="#666"/><circle cx="316.4" cy="494.2" r="1.2" fill="#707070"/><circle cx="314.4" cy="495.5" r="1.0" fill="#666"/><circle cx="317.9" cy="497.5" r="1.0" fill="#555"/><circle cx="315.9" cy="497.1" r="1.1" fill="#555"/><circle cx="331.1" cy="516.1" r="1.1" fill="#666"/><circle cx="329.8" cy="515.4" r="0.6" fill="#555"/></g><path d="M340.4,502.2 L340.3,503.5 L340.2,504.8 L339.9,506.0 L339.6,507.4 L339.1,508.6 L338.0,509.4 L336.8,510.1 L335.9,511.0 L334.8,511.6 L333.5,511.7 L332.3,512.1 L331.2,512.4 L330.1,512.6 L328.9,513.1 L327.6,513.5 L326.4,513.2 L325.1,512.9 L323.8,512.8 L322.6,512.2 L321.7,511.3 L320.8,510.3 L320.1,509.2 L319.5,508.1 L318.7,507.1 L318.0,506.0 L317.9,504.7 L317.7,503.5 L317.3,502.2 L317.4,500.9 L317.8,499.7 L318.2,498.4 L318.9,497.4 L319.7,496.4 L320.2,495.2 L320.8,494.1 L321.9,493.4 L322.9,492.6 L323.8,491.6 L325.0,491.1 L326.3,490.7 L327.6,490.6 L328.9,491.0 L330.1,491.5 L331.3,491.6 L332.5,492.0 L333.4,492.8 L334.5,493.3 L335.7,493.7 L336.7,494.4 L337.8,495.1 L338.8,496.0 L339.3,497.2 L339.7,498.4 L340.3,499.6 L340.6,500.9Z" fill="#3c3c3c" filter="url(#db03)"/><path d="M339.7,502.2 L339.6,503.4 L339.5,504.6 L339.2,505.8 L338.9,507.0 L338.4,508.2 L337.4,509.0 L336.4,509.7 L335.5,510.5 L334.4,511.0 L333.2,511.2 L332.1,511.4 L331.1,511.7 L330.0,511.9 L328.9,512.4 L327.7,512.8 L326.5,512.5 L325.4,512.3 L324.1,512.2 L323.0,511.6 L322.1,510.7 L321.3,509.8 L320.6,508.8 L320.1,507.7 L319.3,506.8 L318.7,505.8 L318.6,504.6 L318.4,503.4 L318.0,502.2 L318.1,501.0 L318.4,499.8 L318.8,498.7 L319.5,497.7 L320.3,496.8 L320.7,495.7 L321.3,494.6 L322.3,494.0 L323.2,493.2 L324.1,492.3 L325.2,491.8 L326.4,491.4 L327.7,491.3 L328.9,491.7 L330.0,492.2 L331.2,492.3 L332.3,492.6 L333.2,493.4 L334.1,493.9 L335.3,494.2 L336.2,494.9 L337.3,495.5 L338.2,496.4 L338.7,497.5 L339.0,498.7 L339.6,499.8 L339.9,501.0Z" fill="#0e0e0e" filter="url(#db03)"/><g filter="url(#db03)"><circle cx="324.8" cy="511.8" r="0.9" fill="#181818"/><circle cx="338.3" cy="497.7" r="1.1" fill="#111"/><circle cx="338.9" cy="505.1" r="0.9" fill="#202020"/><circle cx="325.9" cy="512.1" r="1.6" fill="#202020"/><circle cx="335.9" cy="509.9" r="1.6" fill="#202020"/><circle cx="322.3" cy="510.2" r="1.3" fill="#181818"/><circle cx="330.6" cy="492.0" r="0.9" fill="#202020"/><circle cx="327.7" cy="491.9" r="0.9" fill="#111"/><circle cx="332.2" cy="492.4" r="1.1" fill="#181818"/><circle cx="333.7" cy="511.4" r="1.5" fill="#181818"/><circle cx="329.5" cy="512.6" r="1.4" fill="#181818"/><circle cx="331.3" cy="512.3" r="2.0" fill="#111"/><circle cx="318.5" cy="502.1" r="1.3" fill="#111"/><circle cx="338.9" cy="504.9" r="1.1" fill="#181818"/></g><rect x="350.8" y="523.4" width="9" height="1.9" fill="#fff"/></g></svg>
<div class="t" style="left:400.80px;top:125.09px;font-size:13.6px;font-weight:bold;color:#000;">E</div>
<div class="t" style="left:358.50px;top:127.69px;width:400px;text-align:center;font-size:11px;font-weight:bold;color:#000;">Day 20 hHMAs</div>
<div class="a" style="left:460.5px;top:143px;width:185.2px;height:2px;background:#111"></div>
<div class="t" style="left:313.40px;top:153.80px;width:400px;text-align:center;font-size:11.1px;font-weight:bold;color:#000;">Exterior (E)</div>
<div class="t" style="left:398.40px;top:153.80px;width:400px;text-align:center;font-size:11.1px;font-weight:bold;color:#000;">Interior (I)</div>
<div class="t" style="left:238.50px;top:191.90px;width:400px;text-align:center;font-size:11.1px;font-weight:bold;color:#000;">Ctrl (0</div>
<div class="t" style="left:238.50px;top:205.30px;width:400px;text-align:center;font-size:11.1px;font-weight:bold;color:#000;">monocytes)</div>
<div class="t" style="left:238.50px;top:277.60px;width:400px;text-align:center;font-size:11.1px;font-weight:bold;color:#000;">10,000</div>
<div class="t" style="left:238.50px;top:291.00px;width:400px;text-align:center;font-size:11.1px;font-weight:bold;color:#000;">monocytes</div>
<div class="t" style="left:238.50px;top:368.10px;width:400px;text-align:center;font-size:11.1px;font-weight:bold;color:#000;">20,000</div>
<div class="t" style="left:238.50px;top:381.50px;width:400px;text-align:center;font-size:11.1px;font-weight:bold;color:#000;">monocytes</div>
<div class="t" style="left:238.50px;top:460.60px;width:400px;text-align:center;font-size:11.1px;font-weight:bold;color:#000;">30,000</div>
<div class="t" style="left:238.50px;top:474.00px;width:400px;text-align:center;font-size:11.1px;font-weight:bold;color:#000;">monocytes</div>
<svg class="a" style="left:0;top:0" width="653" height="541"><defs><filter id="eb2" x="-30%" y="-30%" width="160%" height="160%"><feGaussianBlur stdDeviation="2"/></filter><filter id="eb4" x="-30%" y="-30%" width="160%" height="160%"><feGaussianBlur stdDeviation="4"/></filter><filter id="eb8" x="-30%" y="-30%" width="160%" height="160%"><feGaussianBlur stdDeviation="8"/></filter><filter id="eb1" x="-30%" y="-30%" width="160%" height="160%"><feGaussianBlur stdDeviation="0.8"/></filter><clipPath id="ec00"><rect x="470.5" y="167.2" width="84.5" height="85"/></clipPath><clipPath id="ec01"><rect x="556.8" y="167.2" width="84.4" height="85"/></clipPath><clipPath id="ec10"><rect x="470.5" y="254.6" width="84.5" height="84.4"/></clipPath><clipPath id="ec11"><rect x="556.8" y="254.6" width="84.4" height="84.4"/></clipPath><clipPath id="ec20"><rect x="470.5" y="342" width="84.5" height="83.5"/></clipPath><clipPath id="ec21"><rect x="556.8" y="342" width="84.4" height="83.5"/></clipPath><clipPath id="ec30"><rect x="470.5" y="428.7" width="84.5" height="83.8"/></clipPath><clipPath id="ec31"><rect x="556.8" y="428.7" width="84.4" height="83.8"/></clipPath><clipPath id="esph11"><path d="M478,220 C478,207 484,196 494,187 C503,179 511,172 521,172 C538,173 552,192 553,212 C553,230 543,244 520,247 C499,248 479,237 478,220 Z"/></clipPath><clipPath id="esph10"><circle cx="511.8" cy="298.3" r="30.5"/></clipPath><clipPath id="esph30"><ellipse cx="508" cy="470.8" rx="29" ry="31"/></clipPath><clipPath id="esph31"><ellipse cx="594" cy="471" rx="29" ry="31"/></clipPath></defs><rect x="555" y="167" width="1.8" height="346" fill="#a8a8a8"/><g clip-path="url(#ec00)"><rect x="470.5" y="167.2" width="84.5" height="85" fill="#000"/><path d="M478,220 C478,207 484,196 494,187 C503,179 511,172 521,172 C538,173 552,192 553,212 C553,230 543,244 520,247 C499,248 479,237 478,220 Z" fill="#58287e"/><g clip-path="url(#esph11)"><g filter="url(#eb4)"><ellipse cx="514" cy="206" rx="27" ry="25" fill="#42288e"/><ellipse cx="510" cy="195" rx="16" ry="12" fill="#3626a0"/><ellipse cx="522" cy="236" rx="22" ry="8" fill="#9a2a78"/></g></g><g clip-path="url(#esph11)"><circle cx="493.6" cy="215.1" r="0.6" fill="#a02a78" opacity="0.28"/><circle cx="502.1" cy="230.8" r="1.0" fill="#6a2a90" opacity="0.28"/><circle cx="488.4" cy="200.5" r="0.5" fill="#b03080" opacity="0.28"/><circle cx="532.0" cy="240.6" r="1.3" fill="#b03080" opacity="0.28"/><circle cx="524.7" cy="224.7" r="0.6" fill="#a02a78" opacity="0.28"/><circle cx="518.4" cy="188.0" r="1.1" fill="#a02a78" opacity="0.28"/><circle cx="529.2" cy="202.1" r="0.7" fill="#b03080" opacity="0.28"/><circle cx="539.3" cy="189.8" r="1.2" fill="#b03080" opacity="0.28"/><circle cx="508.7" cy="241.8" r="0.7" fill="#a02a78" opacity="0.28"/><circle cx="521.1" cy="204.2" r="0.8" fill="#b03080" opacity="0.28"/><circle cx="526.2" cy="223.4" r="1.1" fill="#a02a78" opacity="0.28"/><circle cx="517.2" cy="209.5" r="1.1" fill="#3030a8" opacity="0.28"/><circle cx="527.8" cy="200.1" r="0.5" fill="#a02a78" opacity="0.28"/><circle cx="538.1" cy="235.6" r="0.9" fill="#b03080" opacity="0.28"/><circle cx="499.4" cy="206.3" r="0.6" fill="#3030a8" opacity="0.28"/><circle cx="507.9" cy="201.6" r="1.0" fill="#3030a8" opacity="0.28"/><circle cx="543.4" cy="198.7" r="0.5" fill="#6a2a90" opacity="0.28"/><circle cx="488.6" cy="200.5" r="0.6" fill="#6a2a90" opacity="0.28"/><circle cx="512.8" cy="182.8" r="0.5" fill="#b03080" opacity="0.28"/><circle cx="531.7" cy="204.7" r="1.0" fill="#a02a78" opacity="0.28"/><circle cx="512.1" cy="177.0" r="0.9" fill="#a02a78" opacity="0.28"/><circle cx="523.0" cy="201.2" r="1.2" fill="#6a2a90" opacity="0.28"/><circle cx="493.2" cy="216.9" r="1.3" fill="#a02a78" opacity="0.28"/><circle cx="494.7" cy="229.3" r="0.5" fill="#a02a78" opacity="0.28"/><circle cx="520.5" cy="233.4" r="0.8" fill="#a02a78" opacity="0.28"/><circle cx="508.2" cy="228.0" r="0.9" fill="#a02a78" opacity="0.28"/><circle cx="546.4" cy="215.1" r="1.1" fill="#b03080" opacity="0.28"/><circle cx="497.0" cy="236.1" r="1.0" fill="#a02a78" opacity="0.28"/><circle cx="499.6" cy="217.9" r="1.3" fill="#b03080" opacity="0.28"/><circle cx="479.9" cy="207.8" r="0.9" fill="#3030a8" opacity="0.28"/><circle cx="507.6" cy="197.1" r="1.2" fill="#6a2a90" opacity="0.28"/><circle cx="549.3" cy="216.4" r="1.1" fill="#6a2a90" opacity="0.28"/><circle cx="548.8" cy="198.2" r="1.0" fill="#a02a78" opacity="0.28"/><circle cx="538.0" cy="217.3" r="1.1" fill="#6a2a90" opacity="0.28"/><circle cx="488.0" cy="187.2" r="0.8" fill="#3030a8" opacity="0.28"/><circle cx="496.2" cy="212.3" r="1.3" fill="#6a2a90" opacity="0.28"/><circle cx="511.9" cy="201.3" r="0.9" fill="#b03080" opacity="0.28"/><circle cx="487.6" cy="193.0" r="1.0" fill="#6a2a90" opacity="0.28"/><circle cx="519.6" cy="176.5" r="0.9" fill="#a02a78" opacity="0.28"/><circle cx="531.8" cy="201.2" r="0.6" fill="#a02a78" opacity="0.28"/><circle cx="531.8" cy="237.2" r="1.2" fill="#3030a8" opacity="0.28"/><circle cx="525.9" cy="231.7" r="0.9" fill="#b03080" opacity="0.28"/><circle cx="538.1" cy="223.3" r="1.0" fill="#6a2a90" opacity="0.28"/><circle cx="480.9" cy="202.3" r="0.5" fill="#b03080" opacity="0.28"/><circle cx="490.0" cy="202.8" r="0.9" fill="#a02a78" opacity="0.28"/><circle cx="534.6" cy="191.0" r="1.3" fill="#a02a78" opacity="0.28"/><circle cx="510.2" cy="179.8" r="0.6" fill="#b03080" opacity="0.28"/><circle cx="490.9" cy="217.3" r="1.0" fill="#a02a78" opacity="0.28"/><circle cx="512.3" cy="204.5" r="0.7" fill="#b03080" opacity="0.28"/><circle cx="518.9" cy="242.4" r="1.1" fill="#b03080" opacity="0.28"/><circle cx="519.9" cy="205.2" r="1.0" fill="#a02a78" opacity="0.28"/><circle cx="505.0" cy="189.3" r="0.6" fill="#3030a8" opacity="0.28"/><circle cx="545.5" cy="216.6" r="0.6" fill="#a02a78" opacity="0.28"/><circle cx="499.9" cy="229.5" r="0.9" fill="#a02a78" opacity="0.28"/><circle cx="512.2" cy="200.5" r="0.6" fill="#6a2a90" opacity="0.28"/><circle cx="550.1" cy="211.9" r="1.0" fill="#b03080" opacity="0.28"/><circle cx="547.7" cy="207.2" r="0.6" fill="#6a2a90" opacity="0.28"/><circle cx="503.5" cy="188.7" r="0.6" fill="#3030a8" opacity="0.28"/><circle cx="521.4" cy="215.2" r="0.6" fill="#a02a78" opacity="0.28"/><circle cx="493.4" cy="232.3" r="0.9" fill="#3030a8" opacity="0.28"/><circle cx="495.4" cy="231.0" r="0.7" fill="#6a2a90" opacity="0.28"/><circle cx="517.5" cy="180.4" r="0.5" fill="#6a2a90" opacity="0.28"/><circle cx="520.0" cy="208.1" r="0.6" fill="#b03080" opacity="0.28"/><circle cx="531.9" cy="216.4" r="1.2" fill="#3030a8" opacity="0.28"/><circle cx="495.9" cy="187.2" r="0.6" fill="#a02a78" opacity="0.28"/><circle cx="526.0" cy="176.2" r="1.1" fill="#b03080" opacity="0.28"/><circle cx="545.6" cy="195.8" r="1.2" fill="#a02a78" opacity="0.28"/><circle cx="538.5" cy="214.4" r="0.8" fill="#6a2a90" opacity="0.28"/><circle cx="493.8" cy="211.1" r="1.2" fill="#b03080" opacity="0.28"/><circle cx="505.9" cy="214.3" r="0.7" fill="#b03080" opacity="0.28"/><circle cx="494.1" cy="192.6" r="0.9" fill="#3030a8" opacity="0.28"/><circle cx="510.8" cy="217.7" r="0.6" fill="#6a2a90" opacity="0.28"/><circle cx="500.0" cy="205.7" r="1.1" fill="#3030a8" opacity="0.28"/><circle cx="524.9" cy="206.3" r="1.3" fill="#b03080" opacity="0.28"/><circle cx="521.4" cy="235.7" r="0.8" fill="#a02a78" opacity="0.28"/><circle cx="503.7" cy="189.5" r="0.7" fill="#6a2a90" opacity="0.28"/><circle cx="517.8" cy="177.9" r="0.9" fill="#b03080" opacity="0.28"/><circle cx="511.0" cy="191.2" r="0.9" fill="#a02a78" opacity="0.28"/><circle cx="520.9" cy="245.2" r="0.8" fill="#a02a78" opacity="0.28"/><circle cx="523.6" cy="221.7" r="0.6" fill="#b03080" opacity="0.28"/><circle cx="501.6" cy="191.8" r="1.2" fill="#3030a8" opacity="0.28"/><circle cx="493.5" cy="208.8" r="1.3" fill="#3030a8" opacity="0.28"/><circle cx="505.4" cy="230.2" r="0.6" fill="#3030a8" opacity="0.28"/><circle cx="511.8" cy="208.5" r="1.0" fill="#a02a78" opacity="0.28"/><circle cx="510.4" cy="235.6" r="1.1" fill="#b03080" opacity="0.28"/><circle cx="541.2" cy="192.9" r="0.7" fill="#3030a8" opacity="0.28"/><circle cx="490.2" cy="207.4" r="1.3" fill="#3030a8" opacity="0.28"/><circle cx="499.8" cy="237.2" r="0.8" fill="#a02a78" opacity="0.28"/><circle cx="481.7" cy="200.2" r="0.5" fill="#3030a8" opacity="0.28"/><circle cx="480.9" cy="201.8" r="1.1" fill="#b03080" opacity="0.28"/><circle cx="526.0" cy="222.4" r="0.9" fill="#b03080" opacity="0.28"/><circle cx="518.4" cy="225.9" r="1.0" fill="#b03080" opacity="0.28"/><circle cx="541.8" cy="211.7" r="0.5" fill="#6a2a90" opacity="0.28"/><circle cx="506.1" cy="210.2" r="1.1" fill="#b03080" opacity="0.28"/><circle cx="533.0" cy="194.4" r="1.1" fill="#3030a8" opacity="0.28"/><circle cx="482.6" cy="198.1" r="1.3" fill="#a02a78" opacity="0.28"/><circle cx="529.2" cy="198.4" r="0.7" fill="#b03080" opacity="0.28"/><circle cx="530.2" cy="207.0" r="0.9" fill="#6a2a90" opacity="0.28"/><circle cx="498.0" cy="178.8" r="0.6" fill="#a02a78" opacity="0.28"/><circle cx="509.2" cy="183.0" r="1.3" fill="#6a2a90" opacity="0.28"/><circle cx="512.3" cy="222.7" r="0.7" fill="#a02a78" opacity="0.28"/><circle cx="544.0" cy="225.1" r="0.7" fill="#b03080" opacity="0.28"/><circle cx="522.2" cy="208.4" r="0.6" fill="#3030a8" opacity="0.28"/><circle cx="537.5" cy="189.6" r="1.0" fill="#b03080" opacity="0.28"/><circle cx="533.0" cy="183.5" r="1.2" fill="#3030a8" opacity="0.28"/><circle cx="518.2" cy="204.3" r="1.3" fill="#3030a8" opacity="0.28"/><circle cx="509.5" cy="234.4" r="0.6" fill="#a02a78" opacity="0.28"/><circle cx="489.7" cy="208.0" r="0.7" fill="#6a2a90" opacity="0.28"/><circle cx="488.3" cy="187.2" r="0.8" fill="#a02a78" opacity="0.28"/><circle cx="545.9" cy="209.7" r="1.0" fill="#b03080" opacity="0.28"/><circle cx="502.5" cy="240.8" r="0.7" fill="#a02a78" opacity="0.28"/><circle cx="524.8" cy="238.9" r="0.7" fill="#6a2a90" opacity="0.28"/><circle cx="517.3" cy="225.0" r="1.0" fill="#6a2a90" opacity="0.28"/><circle cx="495.3" cy="231.0" r="0.8" fill="#3030a8" opacity="0.28"/><circle cx="509.2" cy="208.0" r="1.1" fill="#3030a8" opacity="0.28"/><circle cx="529.0" cy="218.8" r="0.7" fill="#b03080" opacity="0.28"/><circle cx="498.1" cy="230.9" r="1.1" fill="#a02a78" opacity="0.28"/><circle cx="534.1" cy="222.8" r="0.8" fill="#3030a8" opacity="0.28"/><circle cx="540.4" cy="219.9" r="0.9" fill="#b03080" opacity="0.28"/><circle cx="495.7" cy="232.1" r="1.2" fill="#6a2a90" opacity="0.28"/><circle cx="510.7" cy="184.5" r="0.8" fill="#3030a8" opacity="0.28"/><circle cx="534.9" cy="206.7" r="0.9" fill="#6a2a90" opacity="0.28"/><circle cx="482.2" cy="223.9" r="0.8" fill="#a02a78" opacity="0.28"/><circle cx="535.2" cy="217.6" r="1.1" fill="#3030a8" opacity="0.28"/><circle cx="496.4" cy="221.3" r="0.8" fill="#b03080" opacity="0.28"/><circle cx="484.3" cy="208.4" r="0.6" fill="#a02a78" opacity="0.28"/><circle cx="523.7" cy="182.4" r="0.8" fill="#a02a78" opacity="0.28"/><circle cx="511.3" cy="219.4" r="0.7" fill="#3030a8" opacity="0.28"/><circle cx="549.7" cy="204.2" r="1.3" fill="#3030a8" opacity="0.28"/><circle cx="501.2" cy="198.9" r="1.1" fill="#a02a78" opacity="0.28"/><circle cx="512.7" cy="208.5" r="0.9" fill="#a02a78" opacity="0.28"/><circle cx="501.2" cy="222.8" r="1.3" fill="#3030a8" opacity="0.28"/><circle cx="524.6" cy="208.3" r="0.9" fill="#6a2a90" opacity="0.28"/><circle cx="534.2" cy="234.4" r="1.2" fill="#3030a8" opacity="0.28"/><circle cx="508.5" cy="228.1" r="1.1" fill="#6a2a90" opacity="0.28"/><circle cx="540.4" cy="206.7" r="1.2" fill="#a02a78" opacity="0.28"/><circle cx="490.8" cy="194.6" r="0.9" fill="#a02a78" opacity="0.28"/><circle cx="542.2" cy="225.3" r="1.2" fill="#6a2a90" opacity="0.28"/><circle cx="537.2" cy="221.2" r="1.0" fill="#3030a8" opacity="0.28"/><circle cx="540.1" cy="208.8" r="0.8" fill="#b03080" opacity="0.28"/><circle cx="540.4" cy="199.9" r="0.5" fill="#6a2a90" opacity="0.28"/><circle cx="489.6" cy="220.4" r="1.2" fill="#6a2a90" opacity="0.28"/><circle cx="516.4" cy="195.2" r="0.5" fill="#6a2a90" opacity="0.28"/><circle cx="491.1" cy="208.3" r="0.9" fill="#6a2a90" opacity="0.28"/><circle cx="508.2" cy="223.5" r="1.1" fill="#6a2a90" opacity="0.28"/><circle cx="508.2" cy="190.8" r="0.9" fill="#6a2a90" opacity="0.28"/><circle cx="532.4" cy="201.9" r="0.6" fill="#6a2a90" opacity="0.28"/><circle cx="512.3" cy="218.4" r="0.8" fill="#b03080" opacity="0.28"/><circle cx="536.0" cy="219.8" r="0.9" fill="#b03080" opacity="0.28"/><circle cx="508.0" cy="212.2" r="0.7" fill="#a02a78" opacity="0.28"/><circle cx="505.9" cy="205.5" r="1.1" fill="#6a2a90" opacity="0.28"/><circle cx="548.9" cy="211.9" r="1.1" fill="#b03080" opacity="0.28"/><circle cx="513.5" cy="195.7" r="0.6" fill="#a02a78" opacity="0.28"/><circle cx="539.2" cy="232.9" r="0.6" fill="#6a2a90" opacity="0.28"/><circle cx="514.0" cy="226.1" r="1.1" fill="#3030a8" opacity="0.28"/><circle cx="488.6" cy="211.2" r="0.8" fill="#6a2a90" opacity="0.28"/><circle cx="492.6" cy="214.8" r="0.6" fill="#6a2a90" opacity="0.28"/><circle cx="545.6" cy="207.8" r="0.6" fill="#a02a78" opacity="0.28"/><circle cx="497.5" cy="196.3" r="0.9" fill="#a02a78" opacity="0.28"/><circle cx="488.8" cy="190.9" r="0.8" fill="#6a2a90" opacity="0.28"/><circle cx="528.8" cy="225.6" r="1.1" fill="#6a2a90" opacity="0.28"/><circle cx="487.7" cy="201.8" r="0.6" fill="#a02a78" opacity="0.28"/><circle cx="499.0" cy="228.6" r="0.8" fill="#3030a8" opacity="0.28"/><circle cx="503.4" cy="186.1" r="1.0" fill="#a02a78" opacity="0.28"/><circle cx="502.2" cy="197.0" r="1.0" fill="#3030a8" opacity="0.28"/><circle cx="501.8" cy="224.4" r="0.7" fill="#3030a8" opacity="0.28"/><circle cx="487.7" cy="228.6" r="0.5" fill="#3030a8" opacity="0.28"/><circle cx="516.6" cy="205.5" r="1.1" fill="#a02a78" opacity="0.28"/><circle cx="499.0" cy="193.7" r="0.8" fill="#6a2a90" opacity="0.28"/><circle cx="493.8" cy="196.9" r="0.8" fill="#6a2a90" opacity="0.28"/></g><path d="M478,220 C478,207 484,196 494,187 C503,179 511,172 521,172 C538,173 552,192 553,212 C553,230 543,244 520,247 C499,248 479,237 478,220 Z" fill="none" stroke="#8a2a72" stroke-width="3" filter="url(#eb1)"/><ellipse cx="515" cy="175" rx="9" ry="4" fill="#8a2a70" filter="url(#eb2)"/><rect x="540.2" y="248.8" width="13.6" height="1.7" fill="#e8e8e8"/></g><g clip-path="url(#ec01)"><rect x="556.8" y="167.2" width="84.4" height="85" fill="#000"/><path d="M563,207 C563,190 572,176 590,171.5 L612,171.5 C615,172 616,176 617,178 C618,175 622,176 628,181 C636,190 640,200 640.5,210 C641,218 638,222 635,228 C632,238 626,245 615,249 C605,252 590,251 580,246 C570,240 564,226 563,207 Z" fill="#3030a8"/><circle cx="621.7" cy="235.7" r="0.5" fill="#4040e0" opacity="0.5"/><circle cx="603.8" cy="239.5" r="0.9" fill="#4040e0" opacity="0.5"/><circle cx="591.0" cy="219.0" r="0.5" fill="#3838d0" opacity="0.5"/><circle cx="610.8" cy="203.0" r="0.8" fill="#4040e0" opacity="0.5"/><circle cx="595.4" cy="213.0" r="0.9" fill="#3838d0" opacity="0.5"/><circle cx="614.0" cy="237.0" r="0.4" fill="#3838d0" opacity="0.5"/><circle cx="612.6" cy="216.5" r="0.9" fill="#4040e0" opacity="0.5"/><circle cx="625.8" cy="225.6" r="0.9" fill="#4040e0" opacity="0.5"/><circle cx="594.4" cy="206.1" r="0.9" fill="#2020a0" opacity="0.5"/><circle cx="613.3" cy="206.9" r="0.7" fill="#2020a0" opacity="0.5"/><circle cx="579.5" cy="218.3" r="0.8" fill="#4040e0" opacity="0.5"/><circle cx="607.6" cy="232.1" r="0.5" fill="#3838d0" opacity="0.5"/><circle cx="581.3" cy="229.9" r="0.8" fill="#4040e0" opacity="0.5"/><circle cx="602.3" cy="239.2" r="0.9" fill="#4040e0" opacity="0.5"/><circle cx="625.2" cy="211.5" r="0.6" fill="#3838d0" opacity="0.5"/><circle cx="629.2" cy="230.1" r="0.9" fill="#2020a0" opacity="0.5"/><circle cx="595.6" cy="203.1" r="1.0" fill="#4040e0" opacity="0.5"/><circle cx="605.4" cy="228.8" r="0.4" fill="#3838d0" opacity="0.5"/><circle cx="600.4" cy="211.3" r="0.4" fill="#3838d0" opacity="0.5"/><circle cx="629.3" cy="224.2" r="0.7" fill="#2020a0" opacity="0.5"/><circle cx="588.4" cy="222.2" r="0.8" fill="#2020a0" opacity="0.5"/><circle cx="593.1" cy="218.8" r="0.7" fill="#2020a0" opacity="0.5"/><circle cx="585.7" cy="230.8" r="0.5" fill="#2020a0" opacity="0.5"/><circle cx="610.4" cy="231.8" r="0.6" fill="#3838d0" opacity="0.5"/><circle cx="593.0" cy="241.3" r="0.8" fill="#3838d0" opacity="0.5"/><circle cx="621.7" cy="230.8" r="1.0" fill="#4040e0" opacity="0.5"/><circle cx="610.1" cy="217.8" r="0.6" fill="#2020a0" opacity="0.5"/><circle cx="611.1" cy="245.7" r="0.6" fill="#2020a0" opacity="0.5"/><circle cx="587.7" cy="208.1" r="0.7" fill="#2020a0" opacity="0.5"/><circle cx="597.0" cy="233.6" r="0.9" fill="#3838d0" opacity="0.5"/><circle cx="591.0" cy="244.7" r="1.0" fill="#2020a0" opacity="0.5"/><circle cx="624.2" cy="223.6" r="0.6" fill="#4040e0" opacity="0.5"/><circle cx="591.9" cy="207.1" r="0.5" fill="#4040e0" opacity="0.5"/><circle cx="619.1" cy="220.5" r="1.0" fill="#2020a0" opacity="0.5"/><circle cx="600.3" cy="226.0" r="1.0" fill="#2020a0" opacity="0.5"/><circle cx="623.6" cy="230.0" r="0.6" fill="#4040e0" opacity="0.5"/><circle cx="588.9" cy="233.7" r="0.4" fill="#4040e0" opacity="0.5"/><circle cx="600.9" cy="236.5" r="0.8" fill="#3838d0" opacity="0.5"/><circle cx="599.3" cy="227.8" r="0.6" fill="#2020a0" opacity="0.5"/><circle cx="591.1" cy="239.0" r="0.8" fill="#4040e0" opacity="0.5"/><circle cx="597.7" cy="202.5" r="0.6" fill="#4040e0" opacity="0.5"/><circle cx="608.6" cy="224.1" r="0.5" fill="#3838d0" opacity="0.5"/><circle cx="634.1" cy="219.3" r="0.8" fill="#4040e0" opacity="0.5"/><circle cx="593.1" cy="214.5" r="0.7" fill="#4040e0" opacity="0.5"/><circle cx="617.9" cy="222.8" r="0.9" fill="#2020a0" opacity="0.5"/><circle cx="605.7" cy="243.1" r="0.6" fill="#3838d0" opacity="0.5"/><circle cx="612.3" cy="222.8" r="0.8" fill="#2020a0" opacity="0.5"/><circle cx="576.6" cy="230.3" r="0.6" fill="#4040e0" opacity="0.5"/><circle cx="596.6" cy="210.8" r="0.6" fill="#2020a0" opacity="0.5"/><circle cx="608.0" cy="230.3" r="0.9" fill="#2020a0" opacity="0.5"/><circle cx="597.9" cy="234.1" r="0.5" fill="#4040e0" opacity="0.5"/><circle cx="607.0" cy="233.8" r="0.6" fill="#3838d0" opacity="0.5"/><circle cx="584.3" cy="216.8" r="0.9" fill="#3838d0" opacity="0.5"/><circle cx="610.2" cy="232.3" r="0.5" fill="#3838d0" opacity="0.5"/><circle cx="634.0" cy="227.9" r="0.5" fill="#3838d0" opacity="0.5"/><circle cx="606.6" cy="205.5" r="0.8" fill="#2020a0" opacity="0.5"/><circle cx="606.3" cy="230.8" r="0.9" fill="#2020a0" opacity="0.5"/><circle cx="630.2" cy="231.9" r="0.9" fill="#4040e0" opacity="0.5"/><circle cx="609.4" cy="214.1" r="0.6" fill="#2020a0" opacity="0.5"/><circle cx="605.2" cy="219.8" r="0.6" fill="#3838d0" opacity="0.5"/><circle cx="591.3" cy="209.3" r="0.4" fill="#3838d0" opacity="0.5"/><circle cx="618.5" cy="232.9" r="0.8" fill="#4040e0" opacity="0.5"/><circle cx="631.8" cy="229.2" r="0.7" fill="#4040e0" opacity="0.5"/><circle cx="592.2" cy="212.4" r="1.0" fill="#2020a0" opacity="0.5"/><circle cx="605.4" cy="242.2" r="0.7" fill="#4040e0" opacity="0.5"/><circle cx="613.1" cy="225.6" r="0.7" fill="#4040e0" opacity="0.5"/><circle cx="584.3" cy="221.3" r="0.8" fill="#3838d0" opacity="0.5"/><circle cx="605.5" cy="211.0" r="0.6" fill="#3838d0" opacity="0.5"/><circle cx="633.1" cy="232.6" r="0.5" fill="#4040e0" opacity="0.5"/><circle cx="587.0" cy="220.5" r="0.8" fill="#4040e0" opacity="0.5"/><circle cx="584.1" cy="213.0" r="0.8" fill="#4040e0" opacity="0.5"/><circle cx="630.4" cy="223.1" r="0.5" fill="#3838d0" opacity="0.5"/><circle cx="606.6" cy="241.1" r="0.9" fill="#3838d0" opacity="0.5"/><circle cx="629.0" cy="213.0" r="0.7" fill="#2020a0" opacity="0.5"/><circle cx="618.9" cy="231.3" r="0.4" fill="#3838d0" opacity="0.5"/><circle cx="617.7" cy="231.4" r="0.7" fill="#2020a0" opacity="0.5"/><circle cx="605.6" cy="245.6" r="0.9" fill="#3838d0" opacity="0.5"/><circle cx="597.7" cy="219.2" r="0.6" fill="#3838d0" opacity="0.5"/><circle cx="623.5" cy="239.2" r="0.9" fill="#3838d0" opacity="0.5"/><circle cx="618.6" cy="229.7" r="0.9" fill="#3838d0" opacity="0.5"/><ellipse cx="594" cy="203" rx="29.5" ry="29" fill="#0a0418" filter="url(#eb2)"/><path d="M563,207 C563,190 572,176 590,171.5 L612,171.5 C615,172 616,176 617,178 C618,175 622,176 628,181 C636,190 640,200 640.5,210 C641,218 638,222 635,228 C632,238 626,245 615,249 C605,252 590,251 580,246 C570,240 564,226 563,207 Z" fill="none" stroke="#d82050" stroke-width="1.5"/><rect x="626.4" y="248.8" width="13.6" height="1.7" fill="#e8e8e8"/></g><g clip-path="url(#ec10)"><rect x="470.5" y="254.6" width="84.5" height="84.4" fill="#000"/><circle cx="511.8" cy="298.3" r="29.8" fill="#862a92"/><g clip-path="url(#esph10)"><g filter="url(#eb4)"><ellipse cx="494" cy="288" rx="12" ry="18" fill="#4a2cb8"/><ellipse cx="512" cy="295" rx="10" ry="8" fill="#6a2aa0"/><ellipse cx="512" cy="324" rx="28" ry="11" fill="#d82058"/></g></g><circle cx="516.4" cy="292.5" r="0.7" fill="#b02868" opacity="0.3"/><circle cx="522.4" cy="291.6" r="0.6" fill="#5a2aa8" opacity="0.3"/><circle cx="502.4" cy="314.8" r="1.0" fill="#5a2aa8" opacity="0.3"/><circle cx="519.6" cy="295.9" r="1.0" fill="#5a2aa8" opacity="0.3"/><circle cx="501.9" cy="275.5" r="0.6" fill="#b02868" opacity="0.3"/><circle cx="496.3" cy="288.6" r="0.7" fill="#b02868" opacity="0.3"/><circle cx="504.8" cy="308.7" r="0.9" fill="#a02a80" opacity="0.3"/><circle cx="511.5" cy="302.2" r="1.0" fill="#a02a80" opacity="0.3"/><circle cx="520.8" cy="284.4" r="0.4" fill="#a02a80" opacity="0.3"/><circle cx="501.5" cy="289.9" r="0.5" fill="#a02a80" opacity="0.3"/><circle cx="511.7" cy="274.6" r="0.7" fill="#a02a80" opacity="0.3"/><circle cx="532.0" cy="300.2" r="0.6" fill="#b02868" opacity="0.3"/><circle cx="504.5" cy="290.9" r="1.0" fill="#b02868" opacity="0.3"/><circle cx="530.0" cy="303.7" r="0.8" fill="#5a2aa8" opacity="0.3"/><circle cx="492.8" cy="306.4" r="1.0" fill="#b02868" opacity="0.3"/><circle cx="506.8" cy="279.3" r="0.6" fill="#5a2aa8" opacity="0.3"/><circle cx="515.1" cy="278.4" r="0.9" fill="#b02868" opacity="0.3"/><circle cx="493.4" cy="298.4" r="0.5" fill="#b02868" opacity="0.3"/><circle cx="485.9" cy="294.1" r="0.4" fill="#b02868" opacity="0.3"/><circle cx="520.6" cy="292.2" r="0.9" fill="#a02a80" opacity="0.3"/><circle cx="529.2" cy="283.2" r="0.9" fill="#a02a80" opacity="0.3"/><circle cx="527.7" cy="319.7" r="0.7" fill="#b02868" opacity="0.3"/><circle cx="522.9" cy="296.4" r="0.5" fill="#5a2aa8" opacity="0.3"/><circle cx="513.6" cy="318.7" r="0.8" fill="#a02a80" opacity="0.3"/><circle cx="509.5" cy="297.7" r="0.7" fill="#b02868" opacity="0.3"/><circle cx="524.2" cy="307.7" r="0.7" fill="#a02a80" opacity="0.3"/><circle cx="504.2" cy="277.5" r="0.5" fill="#a02a80" opacity="0.3"/><circle cx="533.1" cy="285.7" r="0.6" fill="#b02868" opacity="0.3"/><circle cx="499.5" cy="307.0" r="0.8" fill="#5a2aa8" opacity="0.3"/><circle cx="519.9" cy="297.6" r="0.9" fill="#5a2aa8" opacity="0.3"/><circle cx="521.6" cy="322.0" r="0.5" fill="#5a2aa8" opacity="0.3"/><circle cx="506.1" cy="290.7" r="0.9" fill="#5a2aa8" opacity="0.3"/><circle cx="497.4" cy="304.7" r="0.8" fill="#b02868" opacity="0.3"/><circle cx="496.5" cy="293.4" r="1.0" fill="#b02868" opacity="0.3"/><circle cx="507.0" cy="286.5" r="1.0" fill="#5a2aa8" opacity="0.3"/><circle cx="508.3" cy="324.1" r="0.7" fill="#b02868" opacity="0.3"/><circle cx="511.7" cy="287.0" r="0.7" fill="#a02a80" opacity="0.3"/><circle cx="531.9" cy="302.7" r="0.7" fill="#5a2aa8" opacity="0.3"/><circle cx="514.3" cy="295.9" r="0.7" fill="#a02a80" opacity="0.3"/><circle cx="492.9" cy="303.3" r="0.7" fill="#a02a80" opacity="0.3"/><circle cx="490.2" cy="307.5" r="0.9" fill="#b02868" opacity="0.3"/><circle cx="486.1" cy="305.3" r="0.5" fill="#a02a80" opacity="0.3"/><circle cx="529.7" cy="278.6" r="0.9" fill="#b02868" opacity="0.3"/><circle cx="496.1" cy="289.2" r="1.0" fill="#b02868" opacity="0.3"/><circle cx="513.7" cy="309.3" r="0.9" fill="#5a2aa8" opacity="0.3"/><circle cx="522.4" cy="284.8" r="0.8" fill="#b02868" opacity="0.3"/><circle cx="496.2" cy="309.5" r="0.6" fill="#5a2aa8" opacity="0.3"/><circle cx="499.7" cy="275.1" r="0.5" fill="#5a2aa8" opacity="0.3"/><circle cx="505.3" cy="281.6" r="0.4" fill="#5a2aa8" opacity="0.3"/><circle cx="497.7" cy="277.2" r="0.7" fill="#b02868" opacity="0.3"/><circle cx="493.6" cy="279.7" r="0.8" fill="#b02868" opacity="0.3"/><circle cx="494.5" cy="318.3" r="0.5" fill="#5a2aa8" opacity="0.3"/><circle cx="500.1" cy="289.1" r="0.8" fill="#5a2aa8" opacity="0.3"/><circle cx="530.4" cy="286.4" r="0.9" fill="#a02a80" opacity="0.3"/><circle cx="490.9" cy="305.1" r="0.7" fill="#5a2aa8" opacity="0.3"/><circle cx="497.5" cy="308.8" r="0.7" fill="#a02a80" opacity="0.3"/><circle cx="503.5" cy="309.8" r="0.4" fill="#b02868" opacity="0.3"/><circle cx="503.2" cy="301.2" r="0.9" fill="#a02a80" opacity="0.3"/><circle cx="503.2" cy="307.1" r="0.7" fill="#b02868" opacity="0.3"/><circle cx="492.7" cy="295.1" r="0.5" fill="#5a2aa8" opacity="0.3"/><circle cx="533.3" cy="291.5" r="0.9" fill="#b02868" opacity="0.3"/><circle cx="529.7" cy="304.1" r="0.8" fill="#5a2aa8" opacity="0.3"/><circle cx="507.2" cy="291.5" r="0.7" fill="#a02a80" opacity="0.3"/><circle cx="536.2" cy="303.9" r="0.8" fill="#a02a80" opacity="0.3"/><circle cx="503.0" cy="316.7" r="0.4" fill="#a02a80" opacity="0.3"/><circle cx="493.5" cy="310.8" r="0.4" fill="#5a2aa8" opacity="0.3"/><circle cx="526.4" cy="285.8" r="0.6" fill="#a02a80" opacity="0.3"/><circle cx="525.5" cy="278.5" r="0.8" fill="#b02868" opacity="0.3"/><circle cx="504.6" cy="277.6" r="0.5" fill="#b02868" opacity="0.3"/><circle cx="504.6" cy="274.0" r="0.6" fill="#b02868" opacity="0.3"/><circle cx="519.9" cy="279.1" r="0.62" fill="#20a020" opacity="0.85"/><circle cx="523.4" cy="284.3" r="0.51" fill="#30c030" opacity="0.85"/><circle cx="523.6" cy="317.3" r="0.39" fill="#70c050" opacity="0.85"/><circle cx="494.8" cy="302.1" r="0.58" fill="#30c030" opacity="0.85"/><circle cx="529.9" cy="289.7" r="0.50" fill="#50b040" opacity="0.85"/><circle cx="508.1" cy="316.8" r="0.64" fill="#30c030" opacity="0.85"/><circle cx="488.8" cy="308.4" r="0.54" fill="#30c030" opacity="0.85"/><circle cx="521.4" cy="275.8" r="0.74" fill="#20a020" opacity="0.85"/><circle cx="513.1" cy="318.1" r="0.40" fill="#30c030" opacity="0.85"/><circle cx="494.5" cy="279.5" r="0.50" fill="#70c050" opacity="0.85"/><circle cx="515.4" cy="318.7" r="0.75" fill="#70c050" opacity="0.85"/><circle cx="524.4" cy="294.2" r="0.46" fill="#30c030" opacity="0.85"/><circle cx="506.4" cy="291.4" r="0.57" fill="#50b040" opacity="0.85"/><circle cx="511.1" cy="284.3" r="0.69" fill="#70c050" opacity="0.85"/><circle cx="507.1" cy="323.2" r="0.73" fill="#30c030" opacity="0.85"/><circle cx="532.4" cy="298.2" r="0.55" fill="#70c050" opacity="0.85"/><rect x="540.2" y="335.6" width="13.6" height="1.7" fill="#e8e8e8"/></g><g clip-path="url(#ec11)"><rect x="556.8" y="254.6" width="84.4" height="84.4" fill="#000"/><path d="M628.3,297.7 L628.3,303.3 L626.9,308.8 L624.4,313.7 L621.0,318.1 L617.0,321.7 L612.6,324.7 L607.8,327.0 L602.7,328.4 L597.5,328.9 L592.3,328.3 L587.2,327.0 L582.3,324.9 L577.7,322.0 L573.6,318.4 L570.3,313.9 L568.2,308.7 L567.2,303.2 L567.3,297.7 L568.2,292.4 L569.6,287.2 L571.6,282.2 L574.3,277.6 L577.8,273.4 L582.1,270.1 L587.0,267.8 L592.2,266.4 L597.5,265.9 L602.9,266.3 L608.1,267.8 L612.8,270.3 L616.9,273.8 L620.4,277.9 L623.2,282.4 L625.5,287.2 L627.3,292.3Z" fill="#3232b0"/><ellipse cx="602.5" cy="293.5" rx="25" ry="25.5" fill="#0a0418" filter="url(#eb2)"/><path d="M628.3,297.7 L628.3,303.3 L626.9,308.8 L624.4,313.7 L621.0,318.1 L617.0,321.7 L612.6,324.7 L607.8,327.0 L602.7,328.4 L597.5,328.9 L592.3,328.3 L587.2,327.0 L582.3,324.9 L577.7,322.0 L573.6,318.4 L570.3,313.9 L568.2,308.7 L567.2,303.2 L567.3,297.7 L568.2,292.4 L569.6,287.2 L571.6,282.2 L574.3,277.6 L577.8,273.4 L582.1,270.1 L587.0,267.8 L592.2,266.4 L597.5,265.9 L602.9,266.3 L608.1,267.8 L612.8,270.3 L616.9,273.8 L620.4,277.9 L623.2,282.4 L625.5,287.2 L627.3,292.3Z" fill="none" stroke="#d82050" stroke-width="2"/><circle cx="611.9" cy="313.6" r="0.49" fill="#20a020" opacity="0.85"/><circle cx="592.3" cy="297.6" r="0.75" fill="#20a020" opacity="0.85"/><circle cx="585.9" cy="306.6" r="0.44" fill="#30c030" opacity="0.85"/><circle cx="586.3" cy="311.4" r="0.65" fill="#70c050" opacity="0.85"/><circle cx="596.3" cy="295.6" r="0.71" fill="#30c030" opacity="0.85"/><circle cx="600.1" cy="314.6" r="0.37" fill="#30c030" opacity="0.85"/><circle cx="589.2" cy="298.7" r="0.69" fill="#70c050" opacity="0.85"/><circle cx="615.6" cy="302.7" r="0.57" fill="#50b040" opacity="0.85"/><circle cx="613.5" cy="302.4" r="0.46" fill="#50b040" opacity="0.85"/><circle cx="616.7" cy="302.5" r="0.67" fill="#70c050" opacity="0.85"/><circle cx="595.7" cy="313.5" r="0.39" fill="#20a020" opacity="0.85"/><circle cx="601.5" cy="317.3" r="0.66" fill="#20a020" opacity="0.85"/><rect x="626.4" y="335.6" width="13.6" height="1.7" fill="#e8e8e8"/></g><g clip-path="url(#ec20)"><rect x="470.5" y="342" width="84.5" height="83.5" fill="#000"/><path d="M551.4,385.0 L550.3,391.6 L548.0,397.7 L545.0,403.2 L541.7,408.5 L538.1,413.8 L533.9,419.0 L528.5,423.3 L522.2,425.8 L515.5,425.8 L509.1,423.7 L503.4,420.5 L498.3,416.8 L493.5,413.0 L488.9,408.9 L484.9,403.9 L482.0,398.0 L480.2,391.7 L479.4,385.0 L479.4,378.2 L480.4,371.3 L482.6,364.7 L486.5,359.0 L491.8,354.8 L497.9,352.3 L503.9,351.0 L509.7,349.9 L515.5,348.8 L521.6,347.9 L528.1,348.1 L534.3,350.1 L539.8,354.1 L544.1,359.4 L547.3,365.4 L549.6,371.7 L551.1,378.3Z" fill="#8a1a4a"/><path d="M551.4,385.0 L550.3,391.6 L548.0,397.7 L545.0,403.2 L541.7,408.5 L538.1,413.8 L533.9,419.0 L528.5,423.3 L522.2,425.8 L515.5,425.8 L509.1,423.7 L503.4,420.5 L498.3,416.8 L493.5,413.0 L488.9,408.9 L484.9,403.9 L482.0,398.0 L480.2,391.7 L479.4,385.0 L479.4,378.2 L480.4,371.3 L482.6,364.7 L486.5,359.0 L491.8,354.8 L497.9,352.3 L503.9,351.0 L509.7,349.9 L515.5,348.8 L521.6,347.9 L528.1,348.1 L534.3,350.1 L539.8,354.1 L544.1,359.4 L547.3,365.4 L549.6,371.7 L551.1,378.3Z" fill="none" stroke="#a82058" stroke-width="4" filter="url(#eb2)"/><g filter="url(#eb4)"><ellipse cx="514" cy="376" rx="26" ry="25" fill="#3c0a1c"/><ellipse cx="516" cy="414" rx="24" ry="9" fill="#3028a8"/><ellipse cx="547" cy="385" rx="6" ry="18" fill="#4028a0"/><ellipse cx="488" cy="405" rx="5" ry="6" fill="#d02860"/></g><circle cx="506.0" cy="360.7" r="0.42" fill="#50b040" opacity="0.85"/><circle cx="491.1" cy="382.3" r="0.41" fill="#20a020" opacity="0.85"/><circle cx="524.1" cy="361.4" r="0.38" fill="#70c050" opacity="0.85"/><circle cx="500.1" cy="383.9" r="0.49" fill="#50b040" opacity="0.85"/><circle cx="514.3" cy="361.4" r="0.37" fill="#70c050" opacity="0.85"/><circle cx="494.7" cy="384.8" r="0.54" fill="#30c030" opacity="0.85"/><circle cx="529.1" cy="379.1" r="0.46" fill="#50b040" opacity="0.85"/><circle cx="503.6" cy="371.2" r="0.35" fill="#30c030" opacity="0.85"/><circle cx="513.7" cy="372.1" r="0.60" fill="#50b040" opacity="0.85"/><circle cx="502.9" cy="393.6" r="0.56" fill="#30c030" opacity="0.85"/><circle cx="522.6" cy="372.4" r="0.71" fill="#30c030" opacity="0.85"/><circle cx="521.4" cy="374.1" r="0.51" fill="#50b040" opacity="0.85"/><circle cx="489.6" cy="374.2" r="0.44" fill="#20a020" opacity="0.85"/><circle cx="499.8" cy="364.1" r="0.73" fill="#30c030" opacity="0.85"/><circle cx="509.1" cy="395.1" r="0.47" fill="#50b040" opacity="0.85"/><circle cx="492.6" cy="373.2" r="0.62" fill="#70c050" opacity="0.85"/><circle cx="533.1" cy="379.9" r="0.53" fill="#50b040" opacity="0.85"/><circle cx="522.4" cy="373.7" r="0.70" fill="#20a020" opacity="0.85"/><circle cx="515.5" cy="374.9" r="0.57" fill="#20a020" opacity="0.85"/><circle cx="509.3" cy="362.2" r="0.41" fill="#30c030" opacity="0.85"/><circle cx="500.3" cy="394.3" r="0.57" fill="#30c030" opacity="0.85"/><circle cx="506.3" cy="370.7" r="0.39" fill="#20a020" opacity="0.85"/><circle cx="514.9" cy="390.0" r="0.39" fill="#20a020" opacity="0.85"/><circle cx="498.6" cy="376.6" r="0.50" fill="#30c030" opacity="0.85"/><circle cx="528.8" cy="386.2" r="0.48" fill="#20a020" opacity="0.85"/><circle cx="522.6" cy="368.8" r="0.44" fill="#30c030" opacity="0.85"/><circle cx="533.3" cy="372.7" r="0.54" fill="#20a020" opacity="0.85"/><circle cx="516.1" cy="375.8" r="0.60" fill="#20a020" opacity="0.85"/><circle cx="510.5" cy="364.4" r="0.65" fill="#20a020" opacity="0.85"/><circle cx="524.1" cy="370.8" r="0.62" fill="#70c050" opacity="0.85"/><circle cx="510.5" cy="369.0" r="0.48" fill="#20a020" opacity="0.85"/><circle cx="529.8" cy="379.4" r="0.50" fill="#50b040" opacity="0.85"/><circle cx="500.0" cy="390.6" r="0.67" fill="#30c030" opacity="0.85"/><circle cx="522.2" cy="363.1" r="0.70" fill="#30c030" opacity="0.85"/><circle cx="523.9" cy="363.5" r="0.64" fill="#30c030" opacity="0.85"/><circle cx="490.5" cy="375.3" r="0.67" fill="#30c030" opacity="0.85"/><circle cx="508.8" cy="370.8" r="0.73" fill="#30c030" opacity="0.85"/><circle cx="520.4" cy="392.9" r="0.57" fill="#20a020" opacity="0.85"/><circle cx="503.0" cy="380.5" r="0.42" fill="#20a020" opacity="0.85"/><circle cx="520.1" cy="392.9" r="0.54" fill="#50b040" opacity="0.85"/><circle cx="501.3" cy="375.9" r="0.55" fill="#50b040" opacity="0.85"/><circle cx="522.3" cy="376.1" r="0.58" fill="#70c050" opacity="0.85"/><circle cx="511.3" cy="389.6" r="0.63" fill="#20a020" opacity="0.85"/><circle cx="512.7" cy="374.8" r="0.69" fill="#30c030" opacity="0.85"/><circle cx="503.5" cy="362.8" r="0.45" fill="#50b040" opacity="0.85"/><circle cx="512.1" cy="373.2" r="0.36" fill="#20a020" opacity="0.85"/><circle cx="493.2" cy="386.3" r="0.40" fill="#50b040" opacity="0.85"/><circle cx="529.4" cy="368.0" r="0.54" fill="#70c050" opacity="0.85"/><circle cx="506.3" cy="387.0" r="0.50" fill="#50b040" opacity="0.85"/><circle cx="505.6" cy="367.0" r="0.50" fill="#20a020" opacity="0.85"/><circle cx="501.5" cy="393.8" r="0.50" fill="#20a020" opacity="0.85"/><circle cx="500.1" cy="378.7" r="0.47" fill="#50b040" opacity="0.85"/><circle cx="524.4" cy="362.6" r="0.70" fill="#50b040" opacity="0.85"/><circle cx="516.1" cy="393.7" r="0.59" fill="#70c050" opacity="0.85"/><circle cx="501.4" cy="383.4" r="0.38" fill="#30c030" opacity="0.85"/><circle cx="522.7" cy="373.1" r="0.42" fill="#30c030" opacity="0.85"/><circle cx="526.2" cy="377.6" r="0.49" fill="#30c030" opacity="0.85"/><circle cx="518.7" cy="377.4" r="0.53" fill="#70c050" opacity="0.85"/><circle cx="518.8" cy="363.2" r="0.54" fill="#50b040" opacity="0.85"/><circle cx="498.2" cy="389.4" r="0.55" fill="#70c050" opacity="0.85"/><rect x="540.2" y="422.1" width="13.6" height="1.7" fill="#e8e8e8"/></g><g clip-path="url(#ec21)"><rect x="556.8" y="342" width="84.4" height="83.5" fill="#000"/><path d="M640.0,385.0 L638.6,391.8 L636.5,398.2 L633.6,404.3 L629.9,409.6 L625.1,414.0 L619.7,417.4 L614.1,420.0 L608.2,422.3 L602.0,424.2 L595.3,425.1 L588.4,424.3 L582.2,421.1 L577.3,416.0 L573.9,409.9 L571.4,403.6 L569.3,397.5 L567.4,391.4 L566.0,385.0 L565.7,378.3 L567.0,371.6 L569.6,365.3 L573.2,359.5 L577.6,354.3 L582.7,349.9 L588.8,346.7 L595.4,345.4 L602.0,346.2 L608.1,348.3 L613.8,351.0 L619.2,353.6 L624.9,356.3 L630.5,359.8 L635.5,364.6 L638.9,370.9 L640.3,377.9Z" fill="#8a1a4c"/><path d="M640.0,385.0 L638.6,391.8 L636.5,398.2 L633.6,404.3 L629.9,409.6 L625.1,414.0 L619.7,417.4 L614.1,420.0 L608.2,422.3 L602.0,424.2 L595.3,425.1 L588.4,424.3 L582.2,421.1 L577.3,416.0 L573.9,409.9 L571.4,403.6 L569.3,397.5 L567.4,391.4 L566.0,385.0 L565.7,378.3 L567.0,371.6 L569.6,365.3 L573.2,359.5 L577.6,354.3 L582.7,349.9 L588.8,346.7 L595.4,345.4 L602.0,346.2 L608.1,348.3 L613.8,351.0 L619.2,353.6 L624.9,356.3 L630.5,359.8 L635.5,364.6 L638.9,370.9 L640.3,377.9Z" fill="none" stroke="#b02058" stroke-width="3" filter="url(#eb1)"/><g filter="url(#eb4)"><ellipse cx="605" cy="380" rx="29" ry="31" fill="#28060f"/><ellipse cx="605" cy="419" rx="24" ry="7" fill="#3828b0"/><ellipse cx="637" cy="380" rx="5" ry="18" fill="#3828a0"/></g><circle cx="584.8" cy="363.9" r="0.68" fill="#50b040" opacity="0.85"/><circle cx="624.6" cy="373.1" r="0.75" fill="#70c050" opacity="0.85"/><circle cx="583.3" cy="383.1" r="0.58" fill="#30c030" opacity="0.85"/><circle cx="615.1" cy="394.3" r="0.72" fill="#20a020" opacity="0.85"/><circle cx="605.5" cy="403.1" r="0.42" fill="#70c050" opacity="0.85"/><circle cx="611.3" cy="360.7" r="0.60" fill="#50b040" opacity="0.85"/><circle cx="612.2" cy="397.4" r="0.43" fill="#30c030" opacity="0.85"/><circle cx="604.3" cy="358.2" r="0.46" fill="#50b040" opacity="0.85"/><circle cx="580.0" cy="381.8" r="0.69" fill="#50b040" opacity="0.85"/><circle cx="615.8" cy="360.4" r="0.53" fill="#70c050" opacity="0.85"/><circle cx="613.1" cy="397.0" r="0.43" fill="#20a020" opacity="0.85"/><circle cx="586.9" cy="383.5" r="0.49" fill="#20a020" opacity="0.85"/><circle cx="616.8" cy="393.4" r="0.72" fill="#20a020" opacity="0.85"/><circle cx="598.0" cy="358.3" r="0.51" fill="#50b040" opacity="0.85"/><circle cx="586.5" cy="372.4" r="0.36" fill="#20a020" opacity="0.85"/><circle cx="623.8" cy="375.8" r="0.60" fill="#30c030" opacity="0.85"/><circle cx="592.1" cy="361.3" r="0.50" fill="#70c050" opacity="0.85"/><circle cx="595.3" cy="356.3" r="0.54" fill="#50b040" opacity="0.85"/><circle cx="612.0" cy="362.4" r="0.56" fill="#50b040" opacity="0.85"/><circle cx="582.9" cy="371.4" r="0.74" fill="#50b040" opacity="0.85"/><circle cx="596.8" cy="361.8" r="0.49" fill="#70c050" opacity="0.85"/><circle cx="621.3" cy="375.2" r="0.62" fill="#50b040" opacity="0.85"/><circle cx="611.0" cy="361.5" r="0.71" fill="#30c030" opacity="0.85"/><circle cx="595.9" cy="359.8" r="0.63" fill="#70c050" opacity="0.85"/><circle cx="618.2" cy="362.8" r="0.72" fill="#70c050" opacity="0.85"/><circle cx="584.7" cy="384.2" r="0.38" fill="#30c030" opacity="0.85"/><circle cx="591.1" cy="365.9" r="0.45" fill="#30c030" opacity="0.85"/><circle cx="621.7" cy="370.0" r="0.68" fill="#30c030" opacity="0.85"/><circle cx="585.1" cy="389.7" r="0.60" fill="#30c030" opacity="0.85"/><circle cx="583.6" cy="369.0" r="0.69" fill="#50b040" opacity="0.85"/><circle cx="598.2" cy="362.2" r="0.68" fill="#20a020" opacity="0.85"/><circle cx="589.1" cy="361.5" r="0.62" fill="#70c050" opacity="0.85"/><circle cx="626.6" cy="379.2" r="0.45" fill="#70c050" opacity="0.85"/><circle cx="586.0" cy="369.5" r="0.67" fill="#30c030" opacity="0.85"/><circle cx="613.5" cy="401.0" r="0.44" fill="#20a020" opacity="0.85"/><circle cx="609.8" cy="362.1" r="0.46" fill="#50b040" opacity="0.85"/><circle cx="620.1" cy="391.2" r="0.74" fill="#20a020" opacity="0.85"/><circle cx="622.1" cy="369.5" r="0.68" fill="#50b040" opacity="0.85"/><circle cx="579.4" cy="380.9" r="0.40" fill="#20a020" opacity="0.85"/><circle cx="599.7" cy="398.7" r="0.49" fill="#30c030" opacity="0.85"/><circle cx="583.9" cy="385.0" r="0.73" fill="#30c030" opacity="0.85"/><circle cx="583.6" cy="367.4" r="0.39" fill="#20a020" opacity="0.85"/><circle cx="618.3" cy="363.6" r="0.71" fill="#70c050" opacity="0.85"/><circle cx="619.3" cy="386.4" r="0.70" fill="#20a020" opacity="0.85"/><circle cx="596.5" cy="399.7" r="0.51" fill="#70c050" opacity="0.85"/><circle cx="582.3" cy="385.9" r="0.55" fill="#70c050" opacity="0.85"/><circle cx="590.4" cy="398.4" r="0.53" fill="#30c030" opacity="0.85"/><circle cx="614.4" cy="393.5" r="0.57" fill="#30c030" opacity="0.85"/><circle cx="610.5" cy="356.8" r="0.42" fill="#20a020" opacity="0.85"/><circle cx="591.6" cy="395.8" r="0.51" fill="#20a020" opacity="0.85"/><circle cx="581.0" cy="381.0" r="0.56" fill="#70c050" opacity="0.85"/><circle cx="611.5" cy="356.2" r="0.58" fill="#70c050" opacity="0.85"/><circle cx="587.6" cy="388.1" r="0.60" fill="#30c030" opacity="0.85"/><circle cx="620.8" cy="386.7" r="0.47" fill="#30c030" opacity="0.85"/><circle cx="608.3" cy="360.9" r="0.47" fill="#20a020" opacity="0.85"/><circle cx="589.0" cy="397.4" r="0.39" fill="#20a020" opacity="0.85"/><circle cx="611.2" cy="401.2" r="0.37" fill="#30c030" opacity="0.85"/><circle cx="601.9" cy="360.5" r="0.49" fill="#30c030" opacity="0.85"/><circle cx="619.6" cy="375.1" r="0.66" fill="#20a020" opacity="0.85"/><circle cx="598.0" cy="361.2" r="0.64" fill="#50b040" opacity="0.85"/><circle cx="593.6" cy="360.8" r="0.42" fill="#50b040" opacity="0.85"/><circle cx="581.6" cy="378.3" r="0.38" fill="#50b040" opacity="0.85"/><circle cx="614.6" cy="366.7" r="0.38" fill="#70c050" opacity="0.85"/><circle cx="597.3" cy="356.3" r="0.54" fill="#30c030" opacity="0.85"/><circle cx="613.7" cy="363.7" r="0.49" fill="#30c030" opacity="0.85"/><circle cx="591.4" cy="394.8" r="0.44" fill="#70c050" opacity="0.85"/><circle cx="623.0" cy="367.8" r="0.47" fill="#30c030" opacity="0.85"/><circle cx="588.5" cy="359.9" r="0.69" fill="#30c030" opacity="0.85"/><circle cx="622.9" cy="380.7" r="0.43" fill="#20a020" opacity="0.85"/><circle cx="616.1" cy="363.3" r="0.46" fill="#30c030" opacity="0.85"/><circle cx="625.2" cy="388.2" r="0.51" fill="#70c050" opacity="0.85"/><circle cx="619.0" cy="392.7" r="0.66" fill="#50b040" opacity="0.85"/><circle cx="603.4" cy="405.5" r="0.65" fill="#20a020" opacity="0.85"/><circle cx="586.1" cy="392.0" r="0.71" fill="#50b040" opacity="0.85"/><circle cx="613.1" cy="365.2" r="0.61" fill="#30c030" opacity="0.85"/><circle cx="606.1" cy="355.6" r="0.74" fill="#70c050" opacity="0.85"/><circle cx="588.4" cy="363.2" r="0.72" fill="#70c050" opacity="0.85"/><circle cx="582.8" cy="369.9" r="0.68" fill="#30c030" opacity="0.85"/><circle cx="602.9" cy="360.1" r="0.42" fill="#30c030" opacity="0.85"/><circle cx="622.3" cy="388.8" r="0.62" fill="#70c050" opacity="0.85"/><circle cx="581.8" cy="377.0" r="0.52" fill="#20a020" opacity="0.85"/><circle cx="615.2" cy="360.1" r="0.60" fill="#70c050" opacity="0.85"/><circle cx="591.9" cy="359.7" r="0.59" fill="#70c050" opacity="0.85"/><circle cx="615.6" cy="363.1" r="0.37" fill="#70c050" opacity="0.85"/><circle cx="625.1" cy="373.5" r="0.39" fill="#50b040" opacity="0.85"/><circle cx="594.3" cy="357.8" r="0.56" fill="#70c050" opacity="0.85"/><circle cx="622.5" cy="379.7" r="0.65" fill="#50b040" opacity="0.85"/><circle cx="617.6" cy="364.6" r="0.42" fill="#20a020" opacity="0.85"/><circle cx="586.7" cy="368.2" r="0.61" fill="#30c030" opacity="0.85"/><circle cx="625.7" cy="387.1" r="0.68" fill="#20a020" opacity="0.85"/><circle cx="601.5" cy="397.5" r="0.66" fill="#70c050" opacity="0.85"/><circle cx="614.1" cy="401.7" r="0.47" fill="#50b040" opacity="0.85"/><circle cx="618.1" cy="368.5" r="0.74" fill="#30c030" opacity="0.85"/><circle cx="597.4" cy="401.5" r="0.61" fill="#50b040" opacity="0.85"/><circle cx="612.9" cy="402.8" r="0.47" fill="#50b040" opacity="0.85"/><circle cx="597.1" cy="401.6" r="0.49" fill="#70c050" opacity="0.85"/><circle cx="595.5" cy="359.2" r="0.51" fill="#20a020" opacity="0.85"/><circle cx="625.2" cy="378.3" r="0.48" fill="#70c050" opacity="0.85"/><circle cx="621.7" cy="393.1" r="0.37" fill="#50b040" opacity="0.85"/><circle cx="615.4" cy="361.4" r="0.52" fill="#50b040" opacity="0.85"/><rect x="626.4" y="422.1" width="13.6" height="1.7" fill="#e8e8e8"/></g><g clip-path="url(#ec30)"><rect x="470.5" y="428.7" width="84.5" height="83.8" fill="#000"/><path d="M535.8,470.8 L536.4,476.2 L535.7,481.6 L533.5,486.6 L530.1,490.7 L526.1,493.9 L521.8,496.4 L517.3,498.3 L512.8,499.7 L508.0,500.2 L503.2,499.7 L498.6,498.3 L494.3,496.3 L490.0,493.7 L486.0,490.5 L482.6,486.5 L480.2,481.6 L479.3,476.2 L479.8,470.8 L481.3,465.8 L483.1,461.1 L485.0,456.6 L487.2,452.1 L490.1,447.9 L493.8,444.4 L498.2,441.9 L503.0,440.6 L508.0,440.2 L513.0,440.6 L517.8,442.0 L522.3,444.3 L526.0,447.8 L528.9,452.0 L531.1,456.5 L532.9,461.1 L534.5,465.8Z" fill="#7a2070"/><g clip-path="url(#esph30)"><g filter="url(#eb4)"><ellipse cx="520" cy="448" rx="20" ry="14" fill="#3828b0"/><ellipse cx="500" cy="485" rx="20" ry="15" fill="#c01838"/></g></g><circle cx="496.0" cy="461.3" r="0.5" fill="#e02040" opacity="0.35"/><circle cx="519.9" cy="454.6" r="1.0" fill="#4a2898" opacity="0.35"/><circle cx="509.6" cy="467.6" r="1.0" fill="#e02040" opacity="0.35"/><circle cx="515.1" cy="462.6" r="0.9" fill="#4a2898" opacity="0.35"/><circle cx="501.7" cy="488.3" r="0.9" fill="#e02040" opacity="0.35"/><circle cx="522.1" cy="481.2" r="0.9" fill="#4a2898" opacity="0.35"/><circle cx="479.7" cy="473.9" r="0.4" fill="#901850" opacity="0.35"/><circle cx="529.5" cy="466.3" r="0.9" fill="#901850" opacity="0.35"/><circle cx="530.4" cy="470.6" r="0.7" fill="#901850" opacity="0.35"/><circle cx="492.3" cy="463.8" r="0.6" fill="#901850" opacity="0.35"/><circle cx="510.6" cy="493.8" r="1.0" fill="#4a2898" opacity="0.35"/><circle cx="491.0" cy="464.9" r="0.9" fill="#901850" opacity="0.35"/><circle cx="516.9" cy="495.5" r="0.6" fill="#901850" opacity="0.35"/><circle cx="505.2" cy="495.2" r="1.0" fill="#e02040" opacity="0.35"/><circle cx="507.6" cy="455.9" r="0.5" fill="#e02040" opacity="0.35"/><circle cx="519.0" cy="475.5" r="0.5" fill="#e02040" opacity="0.35"/><circle cx="489.4" cy="482.5" r="1.0" fill="#4a2898" opacity="0.35"/><circle cx="493.8" cy="455.3" r="0.8" fill="#4a2898" opacity="0.35"/><circle cx="502.0" cy="481.0" r="0.8" fill="#901850" opacity="0.35"/><circle cx="502.6" cy="453.5" r="0.6" fill="#901850" opacity="0.35"/><circle cx="522.0" cy="482.0" r="0.7" fill="#e02040" opacity="0.35"/><circle cx="510.8" cy="471.6" r="0.9" fill="#4a2898" opacity="0.35"/><circle cx="485.0" cy="489.0" r="1.0" fill="#e02040" opacity="0.35"/><circle cx="493.5" cy="484.1" r="0.8" fill="#e02040" opacity="0.35"/><circle cx="523.9" cy="469.5" r="0.5" fill="#e02040" opacity="0.35"/><circle cx="498.0" cy="471.1" r="0.9" fill="#4a2898" opacity="0.35"/><circle cx="526.5" cy="472.4" r="0.7" fill="#e02040" opacity="0.35"/><circle cx="500.9" cy="495.3" r="0.6" fill="#e02040" opacity="0.35"/><circle cx="498.7" cy="476.0" r="0.9" fill="#901850" opacity="0.35"/><circle cx="523.0" cy="458.0" r="0.7" fill="#4a2898" opacity="0.35"/><circle cx="515.0" cy="458.2" r="0.8" fill="#4a2898" opacity="0.35"/><circle cx="515.7" cy="481.6" r="0.6" fill="#4a2898" opacity="0.35"/><circle cx="484.4" cy="472.8" r="0.7" fill="#4a2898" opacity="0.35"/><circle cx="511.3" cy="460.2" r="0.9" fill="#4a2898" opacity="0.35"/><circle cx="497.5" cy="471.7" r="0.9" fill="#e02040" opacity="0.35"/><circle cx="505.1" cy="465.1" r="0.6" fill="#901850" opacity="0.35"/><circle cx="508.8" cy="475.9" r="0.8" fill="#901850" opacity="0.35"/><circle cx="517.6" cy="460.6" r="1.0" fill="#e02040" opacity="0.35"/><circle cx="520.3" cy="465.9" r="0.5" fill="#901850" opacity="0.35"/><circle cx="498.6" cy="451.2" r="0.7" fill="#e02040" opacity="0.35"/><circle cx="481.7" cy="486.3" r="0.4" fill="#901850" opacity="0.35"/><circle cx="497.2" cy="498.7" r="0.5" fill="#4a2898" opacity="0.35"/><circle cx="493.5" cy="496.7" r="0.7" fill="#4a2898" opacity="0.35"/><circle cx="494.6" cy="472.6" r="0.6" fill="#901850" opacity="0.35"/><circle cx="510.1" cy="500.0" r="0.4" fill="#901850" opacity="0.35"/><circle cx="522.3" cy="467.6" r="0.6" fill="#e02040" opacity="0.35"/><circle cx="496.0" cy="482.7" r="0.9" fill="#e02040" opacity="0.35"/><circle cx="505.1" cy="471.0" r="0.8" fill="#e02040" opacity="0.35"/><circle cx="495.6" cy="496.8" r="0.9" fill="#901850" opacity="0.35"/><circle cx="515.4" cy="459.8" r="0.9" fill="#e02040" opacity="0.35"/><circle cx="504.6" cy="466.4" r="0.7" fill="#e02040" opacity="0.35"/><circle cx="522.0" cy="491.0" r="1.0" fill="#901850" opacity="0.35"/><circle cx="492.6" cy="468.7" r="0.6" fill="#e02040" opacity="0.35"/><circle cx="505.5" cy="456.6" r="0.6" fill="#901850" opacity="0.35"/><circle cx="518.9" cy="489.2" r="0.6" fill="#901850" opacity="0.35"/><circle cx="529.1" cy="470.0" r="0.7" fill="#4a2898" opacity="0.35"/><circle cx="490.9" cy="488.0" r="0.7" fill="#4a2898" opacity="0.35"/><circle cx="508.7" cy="449.8" r="0.8" fill="#e02040" opacity="0.35"/><circle cx="489.3" cy="454.3" r="0.5" fill="#4a2898" opacity="0.35"/><circle cx="508.7" cy="453.6" r="0.9" fill="#4a2898" opacity="0.35"/><circle cx="512.8" cy="457.7" r="0.7" fill="#4a2898" opacity="0.35"/><circle cx="522.8" cy="479.2" r="0.6" fill="#e02040" opacity="0.35"/><circle cx="494.4" cy="489.8" r="0.5" fill="#901850" opacity="0.35"/><circle cx="526.7" cy="465.4" r="0.9" fill="#4a2898" opacity="0.35"/><circle cx="525.9" cy="468.5" r="0.5" fill="#4a2898" opacity="0.35"/><circle cx="480.7" cy="471.6" r="0.7" fill="#4a2898" opacity="0.35"/><circle cx="521.0" cy="469.6" r="0.8" fill="#901850" opacity="0.35"/><circle cx="525.6" cy="462.0" r="0.6" fill="#4a2898" opacity="0.35"/><circle cx="500.1" cy="462.2" r="0.7" fill="#901850" opacity="0.35"/><circle cx="505.9" cy="486.3" r="0.6" fill="#4a2898" opacity="0.35"/><circle cx="501.8" cy="473.9" r="1.0" fill="#4a2898" opacity="0.35"/><circle cx="487.2" cy="467.7" r="0.6" fill="#901850" opacity="0.35"/><circle cx="510.0" cy="486.7" r="0.6" fill="#e02040" opacity="0.35"/><circle cx="512.1" cy="480.0" r="0.4" fill="#4a2898" opacity="0.35"/><circle cx="485.6" cy="474.4" r="0.6" fill="#901850" opacity="0.35"/><circle cx="498.9" cy="472.2" r="0.5" fill="#4a2898" opacity="0.35"/><circle cx="515.1" cy="483.2" r="0.7" fill="#901850" opacity="0.35"/><circle cx="513.9" cy="487.0" r="0.9" fill="#4a2898" opacity="0.35"/><circle cx="511.3" cy="486.0" r="0.8" fill="#e02040" opacity="0.35"/><circle cx="512.3" cy="473.8" r="1.0" fill="#4a2898" opacity="0.35"/><circle cx="527.0" cy="485.4" r="0.8" fill="#4a2898" opacity="0.35"/><circle cx="488.3" cy="467.8" r="0.7" fill="#4a2898" opacity="0.35"/><circle cx="508.0" cy="480.8" r="0.6" fill="#e02040" opacity="0.35"/><circle cx="526.0" cy="487.3" r="0.6" fill="#901850" opacity="0.35"/><circle cx="496.7" cy="471.0" r="0.5" fill="#901850" opacity="0.35"/><circle cx="529.0" cy="478.4" r="0.8" fill="#e02040" opacity="0.35"/><circle cx="500.1" cy="478.0" r="0.9" fill="#4a2898" opacity="0.35"/><circle cx="494.8" cy="492.2" r="0.6" fill="#e02040" opacity="0.35"/><circle cx="484.8" cy="480.8" r="0.4" fill="#4a2898" opacity="0.35"/><circle cx="503.5" cy="484.1" r="0.4" fill="#4a2898" opacity="0.35"/><path d="M535.8,470.8 L536.4,476.2 L535.7,481.6 L533.5,486.6 L530.1,490.7 L526.1,493.9 L521.8,496.4 L517.3,498.3 L512.8,499.7 L508.0,500.2 L503.2,499.7 L498.6,498.3 L494.3,496.3 L490.0,493.7 L486.0,490.5 L482.6,486.5 L480.2,481.6 L479.3,476.2 L479.8,470.8 L481.3,465.8 L483.1,461.1 L485.0,456.6 L487.2,452.1 L490.1,447.9 L493.8,444.4 L498.2,441.9 L503.0,440.6 L508.0,440.2 L513.0,440.6 L517.8,442.0 L522.3,444.3 L526.0,447.8 L528.9,452.0 L531.1,456.5 L532.9,461.1 L534.5,465.8Z" fill="none" stroke="#6a28a0" stroke-width="2" filter="url(#eb1)"/><g clip-path="url(#esph30)"><ellipse cx="508" cy="470.8" rx="27.5" ry="29.5" stroke="#4030c8" stroke-width="3" fill="none" stroke-dasharray="60 200" stroke-dashoffset="-115" filter="url(#eb1)"/></g><circle cx="505.5" cy="459.0" r="0.66" fill="#50b040" opacity="0.85"/><circle cx="495.2" cy="460.9" r="0.47" fill="#30c030" opacity="0.85"/><circle cx="506.0" cy="459.0" r="0.62" fill="#30c030" opacity="0.85"/><circle cx="512.1" cy="471.5" r="0.59" fill="#50b040" opacity="0.85"/><circle cx="482.2" cy="459.8" r="0.53" fill="#20a020" opacity="0.85"/><circle cx="501.3" cy="470.5" r="0.50" fill="#30c030" opacity="0.85"/><circle cx="515.5" cy="453.3" r="0.38" fill="#20a020" opacity="0.85"/><circle cx="512.1" cy="464.1" r="0.43" fill="#70c050" opacity="0.85"/><circle cx="493.4" cy="459.1" r="0.70" fill="#70c050" opacity="0.85"/><circle cx="494.7" cy="471.6" r="0.42" fill="#20a020" opacity="0.85"/><circle cx="488.2" cy="461.3" r="0.55" fill="#20a020" opacity="0.85"/><circle cx="487.8" cy="456.8" r="0.64" fill="#20a020" opacity="0.85"/><circle cx="497.1" cy="458.7" r="0.59" fill="#20a020" opacity="0.85"/><circle cx="510.1" cy="461.5" r="0.74" fill="#20a020" opacity="0.85"/><circle cx="486.9" cy="451.2" r="0.46" fill="#50b040" opacity="0.85"/><circle cx="506.0" cy="470.2" r="0.61" fill="#50b040" opacity="0.85"/><circle cx="497.2" cy="455.6" r="0.50" fill="#70c050" opacity="0.85"/><circle cx="497.7" cy="468.8" r="0.59" fill="#30c030" opacity="0.85"/><circle cx="489.6" cy="451.8" r="0.70" fill="#30c030" opacity="0.85"/><circle cx="497.3" cy="445.5" r="0.74" fill="#70c050" opacity="0.85"/><circle cx="493.9" cy="466.7" r="0.74" fill="#70c050" opacity="0.85"/><circle cx="499.4" cy="461.4" r="0.47" fill="#20a020" opacity="0.85"/><circle cx="491.1" cy="453.3" r="0.43" fill="#30c030" opacity="0.85"/><circle cx="484.1" cy="458.1" r="0.37" fill="#50b040" opacity="0.85"/><circle cx="491.4" cy="446.9" r="0.63" fill="#20a020" opacity="0.85"/><circle cx="510.4" cy="452.9" r="0.61" fill="#30c030" opacity="0.85"/><circle cx="499.9" cy="451.2" r="0.37" fill="#30c030" opacity="0.85"/><circle cx="492.8" cy="472.5" r="0.48" fill="#70c050" opacity="0.85"/><circle cx="506.6" cy="445.7" r="0.45" fill="#50b040" opacity="0.85"/><circle cx="497.5" cy="458.9" r="0.58" fill="#30c030" opacity="0.85"/><circle cx="484.3" cy="464.2" r="0.52" fill="#50b040" opacity="0.85"/><circle cx="489.2" cy="448.6" r="0.67" fill="#30c030" opacity="0.85"/><circle cx="501.4" cy="473.1" r="0.75" fill="#70c050" opacity="0.85"/><circle cx="511.4" cy="468.8" r="0.67" fill="#20a020" opacity="0.85"/><rect x="540.2" y="509.1" width="13.6" height="1.7" fill="#e8e8e8"/></g><g clip-path="url(#ec31)"><rect x="556.8" y="428.7" width="84.4" height="83.8" fill="#000"/><path d="M622.3,471.0 L622.7,476.4 L621.8,481.8 L619.3,486.7 L615.9,490.7 L611.9,493.9 L607.7,496.5 L603.4,498.6 L598.8,499.9 L594.0,500.4 L589.3,499.9 L584.7,498.5 L580.2,496.6 L575.9,494.2 L571.8,491.0 L568.4,486.8 L566.3,481.8 L565.7,476.3 L566.3,471.0 L567.6,466.0 L569.1,461.3 L570.8,456.7 L573.0,452.1 L575.9,447.9 L579.7,444.5 L584.2,442.2 L589.0,440.8 L594.0,440.4 L599.0,440.8 L603.8,442.1 L608.2,444.7 L611.9,448.2 L614.7,452.4 L616.9,456.8 L619.0,461.3 L620.8,465.9Z" fill="#8a2470"/><g clip-path="url(#esph31)"><g filter="url(#eb4)"><ellipse cx="607" cy="450" rx="18" ry="14" fill="#3828b8"/><ellipse cx="590" cy="494" rx="20" ry="9" fill="#d01c40"/></g></g><ellipse cx="589" cy="469" rx="20" ry="21" fill="#3c0c1c" filter="url(#eb4)"/><g clip-path="url(#esph31)"><ellipse cx="594" cy="471" rx="27.5" ry="29.5" stroke="#4030c8" stroke-width="3" fill="none" stroke-dasharray="70 200" stroke-dashoffset="-105" filter="url(#eb1)"/></g><circle cx="583.5" cy="480.5" r="0.65" fill="#70c050" opacity="0.85"/><circle cx="593.6" cy="477.5" r="0.56" fill="#50b040" opacity="0.85"/><circle cx="574.3" cy="464.8" r="0.68" fill="#30c030" opacity="0.85"/><circle cx="597.1" cy="452.3" r="0.57" fill="#70c050" opacity="0.85"/><circle cx="582.0" cy="463.4" r="0.41" fill="#20a020" opacity="0.85"/><circle cx="596.0" cy="454.9" r="0.38" fill="#20a020" opacity="0.85"/><circle cx="580.5" cy="459.2" r="0.40" fill="#30c030" opacity="0.85"/><circle cx="594.5" cy="476.5" r="0.43" fill="#70c050" opacity="0.85"/><circle cx="580.5" cy="457.0" r="0.67" fill="#30c030" opacity="0.85"/><circle cx="577.6" cy="480.7" r="0.67" fill="#70c050" opacity="0.85"/><circle cx="590.3" cy="471.9" r="0.38" fill="#50b040" opacity="0.85"/><circle cx="586.6" cy="459.1" r="0.74" fill="#20a020" opacity="0.85"/><circle cx="594.9" cy="452.6" r="0.46" fill="#70c050" opacity="0.85"/><circle cx="599.7" cy="477.3" r="0.40" fill="#30c030" opacity="0.85"/><circle cx="588.4" cy="446.7" r="0.55" fill="#70c050" opacity="0.85"/><circle cx="597.9" cy="462.7" r="0.74" fill="#30c030" opacity="0.85"/><circle cx="599.4" cy="450.4" r="0.42" fill="#30c030" opacity="0.85"/><circle cx="588.3" cy="461.9" r="0.69" fill="#30c030" opacity="0.85"/><circle cx="577.3" cy="467.5" r="0.73" fill="#30c030" opacity="0.85"/><circle cx="586.2" cy="460.1" r="0.42" fill="#50b040" opacity="0.85"/><circle cx="600.8" cy="454.7" r="0.73" fill="#50b040" opacity="0.85"/><circle cx="590.0" cy="485.0" r="0.49" fill="#30c030" opacity="0.85"/><circle cx="601.2" cy="460.3" r="0.37" fill="#70c050" opacity="0.85"/><circle cx="606.2" cy="460.8" r="0.60" fill="#70c050" opacity="0.85"/><circle cx="587.7" cy="460.5" r="0.37" fill="#70c050" opacity="0.85"/><circle cx="581.8" cy="470.4" r="0.53" fill="#30c030" opacity="0.85"/><circle cx="575.7" cy="469.8" r="0.53" fill="#70c050" opacity="0.85"/><circle cx="605.8" cy="458.1" r="0.51" fill="#20a020" opacity="0.85"/><circle cx="593.0" cy="474.8" r="0.45" fill="#50b040" opacity="0.85"/><circle cx="585.8" cy="462.1" r="0.62" fill="#30c030" opacity="0.85"/><circle cx="594.9" cy="461.7" r="0.58" fill="#70c050" opacity="0.85"/><circle cx="581.9" cy="455.2" r="0.57" fill="#30c030" opacity="0.85"/><circle cx="594.6" cy="476.4" r="0.62" fill="#30c030" opacity="0.85"/><circle cx="597.3" cy="452.5" r="0.40" fill="#20a020" opacity="0.85"/><circle cx="582.6" cy="477.7" r="0.69" fill="#50b040" opacity="0.85"/><circle cx="594.4" cy="464.8" r="0.57" fill="#20a020" opacity="0.85"/><circle cx="593.8" cy="460.8" r="0.37" fill="#50b040" opacity="0.85"/><circle cx="594.1" cy="477.5" r="0.68" fill="#20a020" opacity="0.85"/><circle cx="586.0" cy="474.3" r="0.44" fill="#70c050" opacity="0.85"/><circle cx="600.2" cy="456.4" r="0.39" fill="#20a020" opacity="0.85"/><circle cx="592.1" cy="460.3" r="0.45" fill="#70c050" opacity="0.85"/><circle cx="578.4" cy="452.7" r="0.56" fill="#50b040" opacity="0.85"/><circle cx="586.8" cy="451.8" r="0.75" fill="#50b040" opacity="0.85"/><circle cx="579.6" cy="474.2" r="0.62" fill="#20a020" opacity="0.85"/><circle cx="595.2" cy="480.2" r="0.43" fill="#20a020" opacity="0.85"/><circle cx="577.2" cy="466.4" r="0.56" fill="#20a020" opacity="0.85"/><circle cx="575.5" cy="454.4" r="0.48" fill="#70c050" opacity="0.85"/><circle cx="602.3" cy="455.0" r="0.47" fill="#30c030" opacity="0.85"/><circle cx="601.7" cy="465.8" r="0.63" fill="#70c050" opacity="0.85"/><circle cx="592.0" cy="451.2" r="0.42" fill="#50b040" opacity="0.85"/><circle cx="590.2" cy="456.5" r="0.70" fill="#20a020" opacity="0.85"/><circle cx="585.9" cy="456.9" r="0.45" fill="#50b040" opacity="0.85"/><circle cx="596.7" cy="452.0" r="0.49" fill="#50b040" opacity="0.85"/><circle cx="590.1" cy="449.3" r="0.47" fill="#30c030" opacity="0.85"/><circle cx="585.7" cy="447.1" r="0.59" fill="#50b040" opacity="0.85"/><circle cx="603.3" cy="454.3" r="0.50" fill="#30c030" opacity="0.85"/><circle cx="588.3" cy="464.0" r="0.60" fill="#20a020" opacity="0.85"/><circle cx="599.5" cy="481.0" r="0.68" fill="#50b040" opacity="0.85"/><circle cx="606.5" cy="463.9" r="0.38" fill="#30c030" opacity="0.85"/><circle cx="570.8" cy="470.1" r="0.40" fill="#70c050" opacity="0.85"/><circle cx="587.6" cy="484.5" r="0.65" fill="#70c050" opacity="0.85"/><circle cx="589.3" cy="464.2" r="0.41" fill="#30c030" opacity="0.85"/><circle cx="573.8" cy="454.8" r="0.45" fill="#20a020" opacity="0.85"/><circle cx="596.1" cy="453.4" r="0.52" fill="#70c050" opacity="0.85"/><circle cx="572.2" cy="458.4" r="0.35" fill="#70c050" opacity="0.85"/><circle cx="600.4" cy="472.5" r="0.38" fill="#20a020" opacity="0.85"/><circle cx="584.2" cy="477.6" r="0.72" fill="#70c050" opacity="0.85"/><circle cx="605.9" cy="470.8" r="0.44" fill="#70c050" opacity="0.85"/><circle cx="600.9" cy="477.6" r="0.55" fill="#30c030" opacity="0.85"/><circle cx="582.9" cy="483.5" r="0.44" fill="#70c050" opacity="0.85"/><circle cx="598.4" cy="474.1" r="0.56" fill="#20a020" opacity="0.85"/><circle cx="594.0" cy="453.9" r="0.69" fill="#20a020" opacity="0.85"/><circle cx="589.3" cy="480.0" r="0.37" fill="#20a020" opacity="0.85"/><circle cx="584.9" cy="469.7" r="0.57" fill="#50b040" opacity="0.85"/><circle cx="589.1" cy="450.0" r="0.36" fill="#30c030" opacity="0.85"/><circle cx="575.9" cy="467.8" r="0.40" fill="#30c030" opacity="0.85"/><circle cx="603.3" cy="468.3" r="0.66" fill="#30c030" opacity="0.85"/><circle cx="599.3" cy="477.6" r="0.69" fill="#30c030" opacity="0.85"/><circle cx="589.8" cy="459.6" r="0.72" fill="#20a020" opacity="0.85"/><circle cx="593.6" cy="448.6" r="0.50" fill="#50b040" opacity="0.85"/><rect x="626.4" y="509.1" width="13.6" height="1.7" fill="#e8e8e8"/></g></svg>
<div class="t" style="left:474.50px;top:171.50px;font-size:10.4px;font-weight:bold;color:#f01818;">TNNT2</div>
<div class="t" style="left:474.50px;top:184.70px;font-size:10.4px;font-weight:bold;color:#18e018;">CD45</div>
<div class="t" style="left:474.50px;top:197.80px;font-size:10.4px;font-weight:bold;color:#2828ff;">DAPI</div></body></html>
